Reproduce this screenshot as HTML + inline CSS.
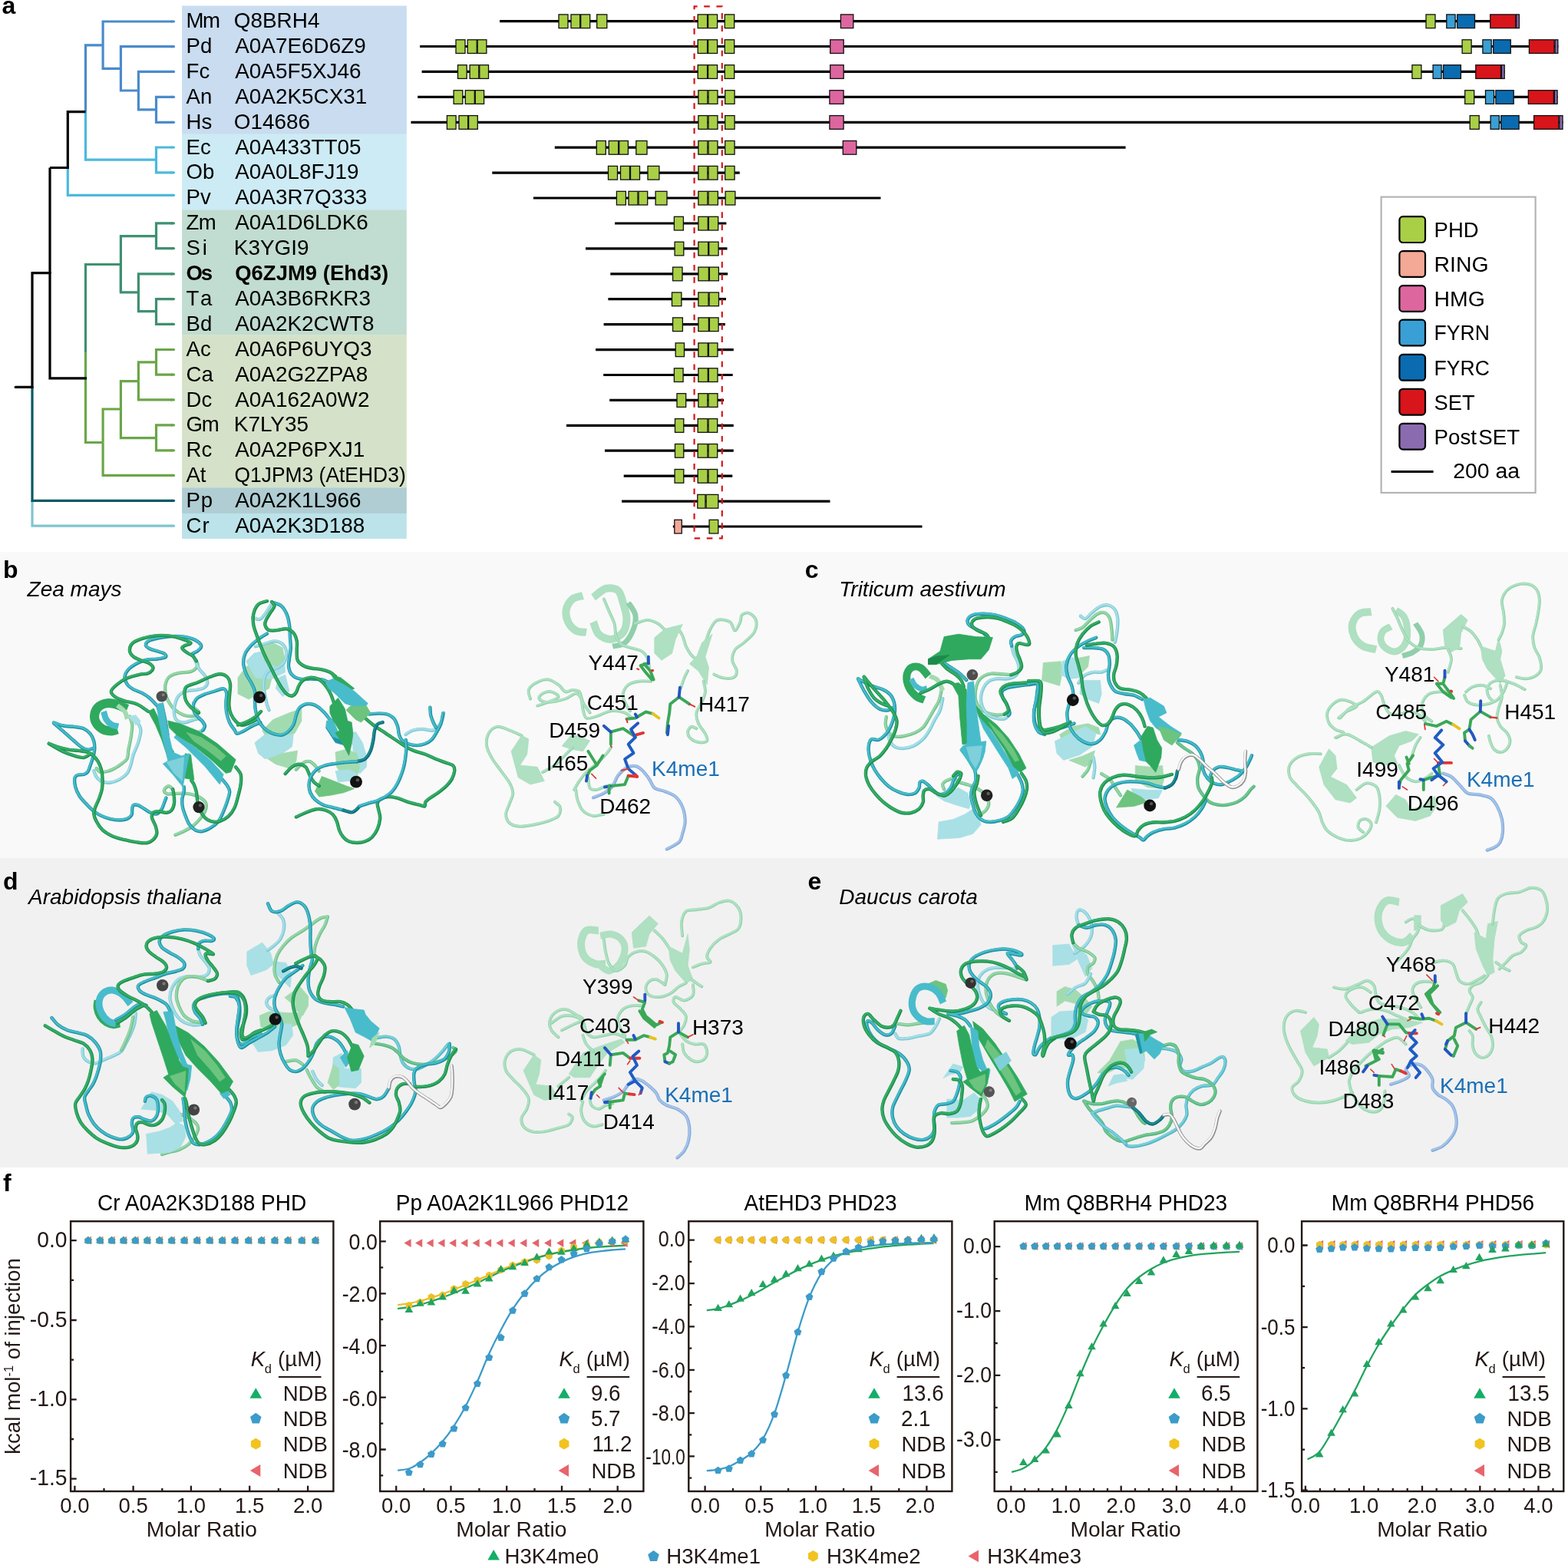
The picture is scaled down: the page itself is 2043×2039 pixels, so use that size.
<!DOCTYPE html>
<html lang="en"><head><meta charset="utf-8"><title>Figure</title>
<style>
html,body{margin:0;padding:0;background:#fff;}
body{width:2043px;height:2039px;overflow:hidden;}
.F{stroke-width:.8;stroke-linejoin:round}.H{fill:none;stroke-linejoin:round}.K{fill:none;stroke-linecap:round;stroke-linejoin:round}.Gb{fill:none;stroke:#1d8e4e;stroke-width:4.4;stroke-linecap:round}.Gt{fill:none;stroke:#33ad66;stroke-width:2.6;stroke-linecap:round;transform:translate(-.5px,-.6px)}.Cb{fill:none;stroke:#1f909f;stroke-width:4.4;stroke-linecap:round}.Ct{fill:none;stroke:#45bccb;stroke-width:2.6;stroke-linecap:round;transform:translate(-.5px,-.6px)}.mb{fill:none;stroke:#4fb47a;stroke-width:4.3;stroke-linecap:round}.mt{fill:none;stroke:#72c793;stroke-width:2.5;stroke-linecap:round;transform:translate(-.5px,-.6px)}.nb{fill:none;stroke:#4fb4c3;stroke-width:4.3;stroke-linecap:round}.nt{fill:none;stroke:#79cfda;stroke-width:2.5;stroke-linecap:round;transform:translate(-.5px,-.6px)}.gb{fill:none;stroke:#74c38e;stroke-width:4.3;stroke-linecap:round}.gt{fill:none;stroke:#97d7aa;stroke-width:2.3;stroke-linecap:round;transform:translate(-.5px,-.6px)}.cb{fill:none;stroke:#7fcad5;stroke-width:4.3;stroke-linecap:round}.ct{fill:none;stroke:#a6dfe7;stroke-width:2.3;stroke-linecap:round;transform:translate(-.5px,-.6px)}.Db{fill:none;stroke:#0d6a73;stroke-width:4.4;stroke-linecap:round}.Dt{fill:none;stroke:#1b8c96;stroke-width:2.4;stroke-linecap:round;transform:translate(-.5px,-.6px)}.Wb{fill:none;stroke:#8e8e8e;stroke-width:4.4;stroke-linecap:round}.Wt{fill:none;stroke:#f6f6f6;stroke-width:2.6;stroke-linecap:round;transform:translate(-.5px,-.6px)}.Pb{fill:none;stroke:#96d3ae;stroke-width:3.9;stroke-linecap:round}.Pt{fill:none;stroke:#b0e2c3;stroke-width:2.1;stroke-linecap:round;transform:translate(-.5px,-.6px)}.Lb{fill:none;stroke:#86addb;stroke-width:4.2;stroke-linecap:round}.Lt{fill:none;stroke:#a6c4ea;stroke-width:2.2;stroke-linecap:round;transform:translate(-.5px,-.6px)}
svg{display:block;font-family:"Liberation Sans","DejaVu Sans",sans-serif;font-size:27.6px;fill:#000;}
</style></head><body>
<svg width="2043" height="2039" viewBox="0 0 2043 2039">
<rect x="0" y="0" width="2043" height="2039" fill="#fff"/>
<rect x="0" y="719" width="2043" height="399" fill="#f9f9f9"/>
<rect x="0" y="1118" width="2043" height="403" fill="#f1f1f1"/>
<text x="2.4" y="17.9" font-weight="700" font-size="32">a</text>
<rect x="237.1" y="7.5" width="292.7" height="167.4" fill="#c9dcf0"/>
<rect x="237.1" y="174.6" width="292.7" height="99.2" fill="#cdebf5"/>
<rect x="237.1" y="273.5" width="292.7" height="163.1" fill="#c1dcd0"/>
<rect x="237.1" y="436.3" width="292.7" height="199.3" fill="#d5e2c9"/>
<rect x="237.1" y="635.3" width="292.7" height="33.9" fill="#afcdd2"/>
<rect x="237.1" y="668.9" width="292.7" height="33" fill="#bbe3e9"/>
<path d="M111.5 145.6 V58.8 H134.1" fill="none" stroke="#4a8bcb" stroke-width="3.2" stroke-linejoin="miter" stroke-linecap="butt"/>
<path d="M224.5 28 H134.1 V89.3 H157.4" fill="none" stroke="#4a8bcb" stroke-width="3.2" stroke-linejoin="miter" stroke-linecap="butt"/>
<path d="M224.5 60.7 H157.4 V118 H180.4" fill="none" stroke="#4a8bcb" stroke-width="3.2" stroke-linejoin="miter" stroke-linecap="butt"/>
<path d="M224.5 93.4 H180.4 V142.8 H203.5" fill="none" stroke="#4a8bcb" stroke-width="3.2" stroke-linejoin="miter" stroke-linecap="butt"/>
<path d="M224.5 126.4 H203.5 V159.3 H224.5" fill="none" stroke="#4a8bcb" stroke-width="3.2" stroke-linejoin="miter" stroke-linecap="butt"/>
<path d="M223.5 28 H226.5" fill="none" stroke="#4a8bcb" stroke-width="3.2" stroke-linecap="round"/>
<path d="M223.5 60.7 H226.5" fill="none" stroke="#4a8bcb" stroke-width="3.2" stroke-linecap="round"/>
<path d="M223.5 93.4 H226.5" fill="none" stroke="#4a8bcb" stroke-width="3.2" stroke-linecap="round"/>
<path d="M223.5 126.4 H226.5" fill="none" stroke="#4a8bcb" stroke-width="3.2" stroke-linecap="round"/>
<path d="M223.5 159.3 H226.5" fill="none" stroke="#4a8bcb" stroke-width="3.2" stroke-linecap="round"/>
<path d="M111.5 145.6 V208.2 H203.5" fill="none" stroke="#4cb9de" stroke-width="3.2" stroke-linejoin="miter" stroke-linecap="butt"/>
<path d="M224.5 192 H203.5 V224.8 H224.5" fill="none" stroke="#4cb9de" stroke-width="3.2" stroke-linejoin="miter" stroke-linecap="butt"/>
<path d="M88.3 218.5 V254.3 H224.5" fill="none" stroke="#4cb9de" stroke-width="3.2" stroke-linejoin="miter" stroke-linecap="butt"/>
<path d="M223.5 192 H226.5" fill="none" stroke="#4cb9de" stroke-width="3.2" stroke-linecap="round"/>
<path d="M223.5 224.8 H226.5" fill="none" stroke="#4cb9de" stroke-width="3.2" stroke-linecap="round"/>
<path d="M223.5 254.3 H226.5" fill="none" stroke="#4cb9de" stroke-width="3.2" stroke-linecap="round"/>
<path d="M111.5 459.8 V344.5 H157.4" fill="none" stroke="#3f9070" stroke-width="3.2" stroke-linejoin="miter" stroke-linecap="butt"/>
<path d="M157.4 380.8 V307.7 H203.5" fill="none" stroke="#3f9070" stroke-width="3.2" stroke-linejoin="miter" stroke-linecap="butt"/>
<path d="M224.5 290.9 H203.5 V323.6 H224.5" fill="none" stroke="#3f9070" stroke-width="3.2" stroke-linejoin="miter" stroke-linecap="butt"/>
<path d="M157.4 344.5 V380.8 H180.4" fill="none" stroke="#3f9070" stroke-width="3.2" stroke-linejoin="miter" stroke-linecap="butt"/>
<path d="M224.5 356.9 H180.4 V405.6 H203.5" fill="none" stroke="#3f9070" stroke-width="3.2" stroke-linejoin="miter" stroke-linecap="butt"/>
<path d="M224.5 389.6 H203.5 V422.4 H224.5" fill="none" stroke="#3f9070" stroke-width="3.2" stroke-linejoin="miter" stroke-linecap="butt"/>
<path d="M223.5 290.9 H226.5" fill="none" stroke="#3f9070" stroke-width="3.2" stroke-linecap="round"/>
<path d="M223.5 323.6 H226.5" fill="none" stroke="#3f9070" stroke-width="3.2" stroke-linecap="round"/>
<path d="M223.5 356.9 H226.5" fill="none" stroke="#3f9070" stroke-width="3.2" stroke-linecap="round"/>
<path d="M223.5 389.6 H226.5" fill="none" stroke="#3f9070" stroke-width="3.2" stroke-linecap="round"/>
<path d="M223.5 422.4 H226.5" fill="none" stroke="#3f9070" stroke-width="3.2" stroke-linecap="round"/>
<path d="M111.5 459.8 V576.5 H134.1" fill="none" stroke="#6ba649" stroke-width="3.2" stroke-linejoin="miter" stroke-linecap="butt"/>
<path d="M134.1 576.5 V619.4 H224.5" fill="none" stroke="#6ba649" stroke-width="3.2" stroke-linejoin="miter" stroke-linecap="butt"/>
<path d="M134.1 576.5 V533 H157.4" fill="none" stroke="#6ba649" stroke-width="3.2" stroke-linejoin="miter" stroke-linecap="butt"/>
<path d="M157.4 533 V496.6 H180.4" fill="none" stroke="#6ba649" stroke-width="3.2" stroke-linejoin="miter" stroke-linecap="butt"/>
<path d="M157.4 533 V570.7 H203.5" fill="none" stroke="#6ba649" stroke-width="3.2" stroke-linejoin="miter" stroke-linecap="butt"/>
<path d="M224.5 553.9 H203.5 V586.8 H224.5" fill="none" stroke="#6ba649" stroke-width="3.2" stroke-linejoin="miter" stroke-linecap="butt"/>
<path d="M180.4 496.6 V471.9 H203.5" fill="none" stroke="#6ba649" stroke-width="3.2" stroke-linejoin="miter" stroke-linecap="butt"/>
<path d="M180.4 496.6 V520.9 H224.5" fill="none" stroke="#6ba649" stroke-width="3.2" stroke-linejoin="miter" stroke-linecap="butt"/>
<path d="M224.5 455.5 H203.5 V488.2 H224.5" fill="none" stroke="#6ba649" stroke-width="3.2" stroke-linejoin="miter" stroke-linecap="butt"/>
<path d="M223.5 455.5 H226.5" fill="none" stroke="#6ba649" stroke-width="3.2" stroke-linecap="round"/>
<path d="M223.5 488.2 H226.5" fill="none" stroke="#6ba649" stroke-width="3.2" stroke-linecap="round"/>
<path d="M223.5 520.9 H226.5" fill="none" stroke="#6ba649" stroke-width="3.2" stroke-linecap="round"/>
<path d="M223.5 553.9 H226.5" fill="none" stroke="#6ba649" stroke-width="3.2" stroke-linecap="round"/>
<path d="M223.5 586.8 H226.5" fill="none" stroke="#6ba649" stroke-width="3.2" stroke-linecap="round"/>
<path d="M223.5 619.4 H226.5" fill="none" stroke="#6ba649" stroke-width="3.2" stroke-linecap="round"/>
<path d="M42 652.3 V685.2 H224.5" fill="none" stroke="#80c5cf" stroke-width="3.2" stroke-linejoin="miter" stroke-linecap="butt"/>
<path d="M42 504.4 V652.3 H224.5" fill="none" stroke="#0a5a62" stroke-width="3.2" stroke-linejoin="miter" stroke-linecap="butt"/>
<path d="M223.5 652.3 H226.5" fill="none" stroke="#0a5a62" stroke-width="3.2" stroke-linecap="round"/>
<path d="M223.5 685.2 H226.5" fill="none" stroke="#80c5cf" stroke-width="3.2" stroke-linecap="round"/>
<path d="M111.5 145.6 H88.3 V218.5 H65" fill="none" stroke="#000" stroke-width="3.2" stroke-linejoin="miter" stroke-linecap="butt"/>
<path d="M113 492.8 H65 V355.6 H42" fill="none" stroke="#000" stroke-width="3.2" stroke-linejoin="miter" stroke-linecap="butt"/>
<path d="M65 218.5 V357" fill="none" stroke="#000" stroke-width="3.2" stroke-linejoin="miter" stroke-linecap="butt"/>
<path d="M42 354.1 V505.9" fill="none" stroke="#000" stroke-width="3.2" stroke-linejoin="miter" stroke-linecap="butt"/>
<path d="M20.2 504.4 H42" fill="none" stroke="#000" stroke-width="3.2" stroke-linecap="round"/>
<text transform="translate(242.6 36) scale(1.0 1)" letter-spacing="-1.6">Mm</text>
<text transform="translate(304.8 36) scale(1.0 1)" font-size="27.9">Q8BRH4</text>
<text transform="translate(242.6 68.9) scale(1.0 1)">Pd</text>
<text transform="translate(306.2 68.9) scale(1.0 1)" font-size="27.9">A0A7E6D6Z9</text>
<text transform="translate(242.6 101.8) scale(1.0 1)">Fc</text>
<text transform="translate(306.2 101.8) scale(1.0 1)" font-size="27.9">A0A5F5XJ46</text>
<text transform="translate(242.6 134.7) scale(1.0 1)">An</text>
<text transform="translate(306.2 134.7) scale(1.0 1)" font-size="27.9">A0A2K5CX31</text>
<text transform="translate(242.6 167.6) scale(1.0 1)">Hs</text>
<text transform="translate(304.8 167.6) scale(1.0 1)" font-size="27.9">O14686</text>
<text transform="translate(242.6 200.5) scale(1.0 1)">Ec</text>
<text transform="translate(306.2 200.5) scale(1.0 1)" font-size="27.9">A0A433TT05</text>
<text transform="translate(242.6 233.4) scale(1.0 1)">Ob</text>
<text transform="translate(306.2 233.4) scale(1.0 1)" font-size="27.9">A0A0L8FJ19</text>
<text transform="translate(242.6 266.3) scale(1.0 1)">Pv</text>
<text transform="translate(306.2 266.3) scale(1.0 1)" font-size="27.9">A0A3R7Q333</text>
<text transform="translate(242.6 299.2) scale(1.0 1)" letter-spacing="-0.8">Zm</text>
<text transform="translate(306.2 299.2) scale(1.0 1)" font-size="27.9">A0A1D6LDK6</text>
<text transform="translate(242.6 332.1) scale(1.0 1)" letter-spacing="-2.5">S i</text>
<text transform="translate(304.8 332.1) scale(1.0 1)" font-size="27.9">K3YGI9</text>
<text transform="translate(242.6 365) scale(1.0 1)" font-weight="700" letter-spacing="-2.2">Os</text>
<text transform="translate(306.2 365) scale(0.985 1)" font-size="27.9" font-weight="700">Q6ZJM9 (Ehd3)</text>
<text transform="translate(242.6 397.9) scale(1.0 1)" letter-spacing="4.5">Ta</text>
<text transform="translate(306.2 397.9) scale(1.0 1)" font-size="27.9">A0A3B6RKR3</text>
<text transform="translate(242.6 430.8) scale(1.0 1)">Bd</text>
<text transform="translate(306.2 430.8) scale(1.0 1)" font-size="27.9">A0A2K2CWT8</text>
<text transform="translate(242.6 463.7) scale(1.0 1)">Ac</text>
<text transform="translate(306.2 463.7) scale(1.0 1)" font-size="27.9">A0A6P6UYQ3</text>
<text transform="translate(242.6 496.6) scale(1.0 1)">Ca</text>
<text transform="translate(306.2 496.6) scale(1.0 1)" font-size="27.9">A0A2G2ZPA8</text>
<text transform="translate(242.6 529.5) scale(1.0 1)">Dc</text>
<text transform="translate(306.2 529.5) scale(1.0 1)" font-size="27.9">A0A162A0W2</text>
<text transform="translate(242.6 562.4) scale(1.0 1)" letter-spacing="-1.2">Gm</text>
<text transform="translate(304.8 562.4) scale(1.0 1)" font-size="27.9">K7LY35</text>
<text transform="translate(242.6 595.3) scale(1.0 1)">Rc</text>
<text transform="translate(306.2 595.3) scale(1.0 1)" font-size="27.9">A0A2P6PXJ1</text>
<text transform="translate(242.6 628.2) scale(1.0 1)" letter-spacing="-3.2">A t</text>
<text transform="translate(305.4 628.2) scale(0.948 1)" font-size="27.9">Q1JPM3 (AtEHD3)</text>
<text transform="translate(242.6 661.1) scale(1.0 1)" letter-spacing="0.8">Pp</text>
<text transform="translate(306.2 661.1) scale(1.0 1)" font-size="27.9">A0A2K1L966</text>
<text transform="translate(242.6 694) scale(1.0 1)" letter-spacing="1.0">Cr</text>
<text transform="translate(306.2 694) scale(1.0 1)" font-size="27.9">A0A2K3D188</text>
<path d="M651.1 27.6H1980" stroke="#000" stroke-width="3.2"/>
<rect x="728" y="18.9" width="12" height="17.7" fill="#a9cf46" stroke="#111" stroke-width="1.3"/>
<rect x="744" y="18.9" width="11.7" height="17.7" fill="#a9cf46" stroke="#111" stroke-width="1.3"/>
<rect x="756.7" y="18.9" width="12" height="17.7" fill="#a9cf46" stroke="#111" stroke-width="1.3"/>
<rect x="777.7" y="18.9" width="13.1" height="17.7" fill="#a9cf46" stroke="#111" stroke-width="1.3"/>
<rect x="909.2" y="18.9" width="12.4" height="17.7" fill="#a9cf46" stroke="#111" stroke-width="1.3"/>
<rect x="922.6" y="18.9" width="12" height="17.7" fill="#a9cf46" stroke="#111" stroke-width="1.3"/>
<rect x="944.3" y="18.9" width="12.4" height="17.7" fill="#a9cf46" stroke="#111" stroke-width="1.3"/>
<rect x="1095.4" y="18.9" width="16.4" height="17.7" fill="#dd669f" stroke="#111" stroke-width="1.3"/>
<rect x="1858" y="18.9" width="12" height="17.7" fill="#a9cf46" stroke="#111" stroke-width="1.3"/>
<rect x="1884.8" y="18.9" width="11.3" height="17.7" fill="#3a9fd5" stroke="#111" stroke-width="1.3"/>
<rect x="1898.6" y="18.9" width="22.9" height="17.7" fill="#0b6bb0" stroke="#111" stroke-width="1.3"/>
<rect x="1941.7" y="18.9" width="33.1" height="17.7" fill="#d7151b" stroke="#111" stroke-width="1.3"/>
<rect x="1975.7" y="18.9" width="3.7" height="17.7" fill="#8b6bb0" stroke="#111" stroke-width="1.3"/>
<path d="M547.1 60.5H2030.3" stroke="#000" stroke-width="3.2"/>
<rect x="594" y="51.8" width="12" height="17.7" fill="#a9cf46" stroke="#111" stroke-width="1.3"/>
<rect x="609.2" y="51.8" width="12" height="17.7" fill="#a9cf46" stroke="#111" stroke-width="1.3"/>
<rect x="622.2" y="51.8" width="11.7" height="17.7" fill="#a9cf46" stroke="#111" stroke-width="1.3"/>
<rect x="909.2" y="51.8" width="12.4" height="17.7" fill="#a9cf46" stroke="#111" stroke-width="1.3"/>
<rect x="922.6" y="51.8" width="12" height="17.7" fill="#a9cf46" stroke="#111" stroke-width="1.3"/>
<rect x="944.3" y="51.8" width="12.4" height="17.7" fill="#a9cf46" stroke="#111" stroke-width="1.3"/>
<rect x="1081.7" y="51.8" width="17.5" height="17.7" fill="#dd669f" stroke="#111" stroke-width="1.3"/>
<rect x="1905.1" y="51.8" width="12" height="17.7" fill="#a9cf46" stroke="#111" stroke-width="1.3"/>
<rect x="1931.9" y="51.8" width="11.3" height="17.7" fill="#3a9fd5" stroke="#111" stroke-width="1.3"/>
<rect x="1945.7" y="51.8" width="22.6" height="17.7" fill="#0b6bb0" stroke="#111" stroke-width="1.3"/>
<rect x="1992.4" y="51.8" width="32.7" height="17.7" fill="#d7151b" stroke="#111" stroke-width="1.3"/>
<rect x="2026.1" y="51.8" width="3.7" height="17.7" fill="#8b6bb0" stroke="#111" stroke-width="1.3"/>
<path d="M549.6 93.4H1960.8" stroke="#000" stroke-width="3.2"/>
<rect x="596.5" y="84.7" width="11.7" height="17.7" fill="#a9cf46" stroke="#111" stroke-width="1.3"/>
<rect x="612.1" y="84.7" width="11.7" height="17.7" fill="#a9cf46" stroke="#111" stroke-width="1.3"/>
<rect x="624.8" y="84.7" width="11.7" height="17.7" fill="#a9cf46" stroke="#111" stroke-width="1.3"/>
<rect x="909.2" y="84.7" width="12.4" height="17.7" fill="#a9cf46" stroke="#111" stroke-width="1.3"/>
<rect x="922.6" y="84.7" width="12" height="17.7" fill="#a9cf46" stroke="#111" stroke-width="1.3"/>
<rect x="944.3" y="84.7" width="12.4" height="17.7" fill="#a9cf46" stroke="#111" stroke-width="1.3"/>
<rect x="1081.7" y="84.7" width="17.5" height="17.7" fill="#dd669f" stroke="#111" stroke-width="1.3"/>
<rect x="1839.9" y="84.7" width="12" height="17.7" fill="#a9cf46" stroke="#111" stroke-width="1.3"/>
<rect x="1867.1" y="84.7" width="11" height="17.7" fill="#3a9fd5" stroke="#111" stroke-width="1.3"/>
<rect x="1880.5" y="84.7" width="22.9" height="17.7" fill="#0b6bb0" stroke="#111" stroke-width="1.3"/>
<rect x="1922.8" y="84.7" width="32.7" height="17.7" fill="#d7151b" stroke="#111" stroke-width="1.3"/>
<rect x="1956.5" y="84.7" width="3.7" height="17.7" fill="#8b6bb0" stroke="#111" stroke-width="1.3"/>
<path d="M544.2 126.4H2029.6" stroke="#000" stroke-width="3.2"/>
<rect x="591.1" y="117.7" width="11.7" height="17.7" fill="#a9cf46" stroke="#111" stroke-width="1.3"/>
<rect x="606.3" y="117.7" width="12" height="17.7" fill="#a9cf46" stroke="#111" stroke-width="1.3"/>
<rect x="619.3" y="117.7" width="11.3" height="17.7" fill="#a9cf46" stroke="#111" stroke-width="1.3"/>
<rect x="909.9" y="117.7" width="12" height="17.7" fill="#a9cf46" stroke="#111" stroke-width="1.3"/>
<rect x="923" y="117.7" width="12" height="17.7" fill="#a9cf46" stroke="#111" stroke-width="1.3"/>
<rect x="944.7" y="117.7" width="12.4" height="17.7" fill="#a9cf46" stroke="#111" stroke-width="1.3"/>
<rect x="1080.9" y="117.7" width="18.2" height="17.7" fill="#dd669f" stroke="#111" stroke-width="1.3"/>
<rect x="1908.7" y="117.7" width="12" height="17.7" fill="#a9cf46" stroke="#111" stroke-width="1.3"/>
<rect x="1935.5" y="117.7" width="11" height="17.7" fill="#3a9fd5" stroke="#111" stroke-width="1.3"/>
<rect x="1948.9" y="117.7" width="23.3" height="17.7" fill="#0b6bb0" stroke="#111" stroke-width="1.3"/>
<rect x="1991.3" y="117.7" width="33.1" height="17.7" fill="#d7151b" stroke="#111" stroke-width="1.3"/>
<rect x="2025.4" y="117.7" width="3.7" height="17.7" fill="#8b6bb0" stroke="#111" stroke-width="1.3"/>
<path d="M535.5 159.3H2036.5" stroke="#000" stroke-width="3.2"/>
<rect x="582.4" y="150.6" width="11.7" height="17.7" fill="#a9cf46" stroke="#111" stroke-width="1.3"/>
<rect x="598" y="150.6" width="11.7" height="17.7" fill="#a9cf46" stroke="#111" stroke-width="1.3"/>
<rect x="610.6" y="150.6" width="11.7" height="17.7" fill="#a9cf46" stroke="#111" stroke-width="1.3"/>
<rect x="909.9" y="150.6" width="12" height="17.7" fill="#a9cf46" stroke="#111" stroke-width="1.3"/>
<rect x="923" y="150.6" width="12" height="17.7" fill="#a9cf46" stroke="#111" stroke-width="1.3"/>
<rect x="944.7" y="150.6" width="12.4" height="17.7" fill="#a9cf46" stroke="#111" stroke-width="1.3"/>
<rect x="1080.9" y="150.6" width="18.2" height="17.7" fill="#dd669f" stroke="#111" stroke-width="1.3"/>
<rect x="1915.2" y="150.6" width="12" height="17.7" fill="#a9cf46" stroke="#111" stroke-width="1.3"/>
<rect x="1942.1" y="150.6" width="11.3" height="17.7" fill="#3a9fd5" stroke="#111" stroke-width="1.3"/>
<rect x="1955.8" y="150.6" width="23.3" height="17.7" fill="#0b6bb0" stroke="#111" stroke-width="1.3"/>
<rect x="1998.6" y="150.6" width="32.3" height="17.7" fill="#d7151b" stroke="#111" stroke-width="1.3"/>
<rect x="2031.9" y="150.6" width="4.1" height="17.7" fill="#8b6bb0" stroke="#111" stroke-width="1.3"/>
<path d="M722.8 192.2H1466.6" stroke="#000" stroke-width="3.2"/>
<rect x="777.3" y="183.5" width="12" height="17.7" fill="#a9cf46" stroke="#111" stroke-width="1.3"/>
<rect x="793.3" y="183.5" width="12.4" height="17.7" fill="#a9cf46" stroke="#111" stroke-width="1.3"/>
<rect x="806.7" y="183.5" width="11.7" height="17.7" fill="#a9cf46" stroke="#111" stroke-width="1.3"/>
<rect x="828.8" y="183.5" width="14.2" height="17.7" fill="#a9cf46" stroke="#111" stroke-width="1.3"/>
<rect x="909.9" y="183.5" width="12" height="17.7" fill="#a9cf46" stroke="#111" stroke-width="1.3"/>
<rect x="923" y="183.5" width="12" height="17.7" fill="#a9cf46" stroke="#111" stroke-width="1.3"/>
<rect x="944.7" y="183.5" width="12.4" height="17.7" fill="#a9cf46" stroke="#111" stroke-width="1.3"/>
<rect x="1098.3" y="183.5" width="17.5" height="17.7" fill="#dd669f" stroke="#111" stroke-width="1.3"/>
<path d="M641.3 225.1H963.8" stroke="#000" stroke-width="3.2"/>
<rect x="792.5" y="216.4" width="12" height="17.7" fill="#a9cf46" stroke="#111" stroke-width="1.3"/>
<rect x="808.5" y="216.4" width="12" height="17.7" fill="#a9cf46" stroke="#111" stroke-width="1.3"/>
<rect x="821.5" y="216.4" width="12" height="17.7" fill="#a9cf46" stroke="#111" stroke-width="1.3"/>
<rect x="844" y="216.4" width="14.9" height="17.7" fill="#a9cf46" stroke="#111" stroke-width="1.3"/>
<rect x="909.9" y="216.4" width="12" height="17.7" fill="#a9cf46" stroke="#111" stroke-width="1.3"/>
<rect x="923" y="216.4" width="12" height="17.7" fill="#a9cf46" stroke="#111" stroke-width="1.3"/>
<rect x="944.7" y="216.4" width="12.4" height="17.7" fill="#a9cf46" stroke="#111" stroke-width="1.3"/>
<path d="M694.9 258H1147.5" stroke="#000" stroke-width="3.2"/>
<rect x="803.4" y="249.3" width="12" height="17.7" fill="#a9cf46" stroke="#111" stroke-width="1.3"/>
<rect x="819" y="249.3" width="12" height="17.7" fill="#a9cf46" stroke="#111" stroke-width="1.3"/>
<rect x="832" y="249.3" width="11.7" height="17.7" fill="#a9cf46" stroke="#111" stroke-width="1.3"/>
<rect x="854.1" y="249.3" width="14.9" height="17.7" fill="#a9cf46" stroke="#111" stroke-width="1.3"/>
<rect x="909.9" y="249.3" width="12" height="17.7" fill="#a9cf46" stroke="#111" stroke-width="1.3"/>
<rect x="923" y="249.3" width="12.4" height="17.7" fill="#a9cf46" stroke="#111" stroke-width="1.3"/>
<rect x="945.1" y="249.3" width="12.8" height="17.7" fill="#a9cf46" stroke="#111" stroke-width="1.3"/>
<path d="M801.1 291H946.4" stroke="#000" stroke-width="3.2"/>
<rect x="878.4" y="282.3" width="12" height="17.7" fill="#a9cf46" stroke="#111" stroke-width="1.3"/>
<rect x="909.9" y="282.3" width="12.4" height="17.7" fill="#a9cf46" stroke="#111" stroke-width="1.3"/>
<rect x="923.3" y="282.3" width="12.4" height="17.7" fill="#a9cf46" stroke="#111" stroke-width="1.3"/>
<path d="M763 323.9H947.5" stroke="#000" stroke-width="3.2"/>
<rect x="879.1" y="315.2" width="11.7" height="17.7" fill="#a9cf46" stroke="#111" stroke-width="1.3"/>
<rect x="909.9" y="315.2" width="12.8" height="17.7" fill="#a9cf46" stroke="#111" stroke-width="1.3"/>
<rect x="923.7" y="315.2" width="12.4" height="17.7" fill="#a9cf46" stroke="#111" stroke-width="1.3"/>
<path d="M795.3 356.8H948.2" stroke="#000" stroke-width="3.2"/>
<rect x="876.6" y="348.1" width="12.4" height="17.7" fill="#a9cf46" stroke="#111" stroke-width="1.3"/>
<rect x="909.9" y="348.1" width="13.5" height="17.7" fill="#a9cf46" stroke="#111" stroke-width="1.3"/>
<rect x="924.4" y="348.1" width="12" height="17.7" fill="#a9cf46" stroke="#111" stroke-width="1.3"/>
<path d="M792.4 389.7H946" stroke="#000" stroke-width="3.2"/>
<rect x="875.5" y="381" width="12.4" height="17.7" fill="#a9cf46" stroke="#111" stroke-width="1.3"/>
<rect x="909.9" y="381" width="13.1" height="17.7" fill="#a9cf46" stroke="#111" stroke-width="1.3"/>
<rect x="924.1" y="381" width="12.4" height="17.7" fill="#a9cf46" stroke="#111" stroke-width="1.3"/>
<path d="M786.6 422.6H944.9" stroke="#000" stroke-width="3.2"/>
<rect x="876.6" y="413.9" width="12.8" height="17.7" fill="#a9cf46" stroke="#111" stroke-width="1.3"/>
<rect x="909.9" y="413.9" width="13.5" height="17.7" fill="#a9cf46" stroke="#111" stroke-width="1.3"/>
<rect x="924.4" y="413.9" width="11.7" height="17.7" fill="#a9cf46" stroke="#111" stroke-width="1.3"/>
<path d="M776.1 455.6H955.8" stroke="#000" stroke-width="3.2"/>
<rect x="880.2" y="446.9" width="11.3" height="17.7" fill="#a9cf46" stroke="#111" stroke-width="1.3"/>
<rect x="909.9" y="446.9" width="12.4" height="17.7" fill="#a9cf46" stroke="#111" stroke-width="1.3"/>
<rect x="923.3" y="446.9" width="11.7" height="17.7" fill="#a9cf46" stroke="#111" stroke-width="1.3"/>
<path d="M786.2 488.5H954.7" stroke="#000" stroke-width="3.2"/>
<rect x="878.4" y="479.8" width="11.7" height="17.7" fill="#a9cf46" stroke="#111" stroke-width="1.3"/>
<rect x="909.9" y="479.8" width="12.4" height="17.7" fill="#a9cf46" stroke="#111" stroke-width="1.3"/>
<rect x="923.3" y="479.8" width="11.7" height="17.7" fill="#a9cf46" stroke="#111" stroke-width="1.3"/>
<path d="M794.2 521.4H943.1" stroke="#000" stroke-width="3.2"/>
<rect x="882" y="512.7" width="11.7" height="17.7" fill="#a9cf46" stroke="#111" stroke-width="1.3"/>
<rect x="909.9" y="512.7" width="12" height="17.7" fill="#a9cf46" stroke="#111" stroke-width="1.3"/>
<rect x="923" y="512.7" width="12" height="17.7" fill="#a9cf46" stroke="#111" stroke-width="1.3"/>
<path d="M738 554.3H955.8" stroke="#000" stroke-width="3.2"/>
<rect x="879.5" y="545.6" width="11.3" height="17.7" fill="#a9cf46" stroke="#111" stroke-width="1.3"/>
<rect x="909.2" y="545.6" width="12.8" height="17.7" fill="#a9cf46" stroke="#111" stroke-width="1.3"/>
<rect x="923" y="545.6" width="11.7" height="17.7" fill="#a9cf46" stroke="#111" stroke-width="1.3"/>
<path d="M788 587.2H955.8" stroke="#000" stroke-width="3.2"/>
<rect x="879.5" y="578.5" width="11.3" height="17.7" fill="#a9cf46" stroke="#111" stroke-width="1.3"/>
<rect x="909.2" y="578.5" width="12.8" height="17.7" fill="#a9cf46" stroke="#111" stroke-width="1.3"/>
<rect x="923" y="578.5" width="11.7" height="17.7" fill="#a9cf46" stroke="#111" stroke-width="1.3"/>
<path d="M812.7 620.2H954.3" stroke="#000" stroke-width="3.2"/>
<rect x="879.1" y="611.5" width="11.7" height="17.7" fill="#a9cf46" stroke="#111" stroke-width="1.3"/>
<rect x="909.2" y="611.5" width="12.8" height="17.7" fill="#a9cf46" stroke="#111" stroke-width="1.3"/>
<rect x="923" y="611.5" width="11.7" height="17.7" fill="#a9cf46" stroke="#111" stroke-width="1.3"/>
<path d="M810.1 653.1H1081.5" stroke="#000" stroke-width="3.2"/>
<rect x="908.8" y="644.4" width="10.2" height="17.7" fill="#a9cf46" stroke="#111" stroke-width="1.3"/>
<rect x="920.1" y="644.4" width="15.7" height="17.7" fill="#a9cf46" stroke="#111" stroke-width="1.3"/>
<path d="M876.8 686H1201.5" stroke="#000" stroke-width="3.2"/>
<rect x="924.1" y="677.3" width="11.7" height="17.7" fill="#a9cf46" stroke="#111" stroke-width="1.3"/>
<rect x="878.8" y="677.3" width="9.5" height="17.7" fill="#f4a896" stroke="#111" stroke-width="1.3"/>
<rect x="904.6" y="8.3" width="36.2" height="693" fill="none" stroke="#d7151b" stroke-width="2.2" stroke-dasharray="7.6 8.6" stroke-dashoffset="3.6"/>
<rect x="1799.6" y="256.6" width="201" height="385.4" fill="#fff" stroke="#b4b4b4" stroke-width="2.2"/>
<rect x="1823.4" y="282.2" width="33.6" height="33.8" rx="4.5" fill="#a9cf46" stroke="#000" stroke-width="2.2"/>
<text transform="translate(1868.6 308.9) scale(0.97 1)" font-size="28.4">PHD</text>
<rect x="1823.4" y="327.1" width="33.6" height="33.8" rx="4.5" fill="#f4a896" stroke="#000" stroke-width="2.2"/>
<text transform="translate(1868.6 353.8) scale(1.0 1)" font-size="28.4">RING</text>
<rect x="1823.4" y="372.1" width="33.6" height="33.8" rx="4.5" fill="#dd669f" stroke="#000" stroke-width="2.2"/>
<text transform="translate(1868.6 398.8) scale(1.0 1)" font-size="28.4">HMG</text>
<rect x="1823.4" y="416.6" width="33.6" height="33.8" rx="4.5" fill="#3a9fd5" stroke="#000" stroke-width="2.2"/>
<text transform="translate(1868.6 443.3) scale(0.935 1)" font-size="28.4">FYRN</text>
<rect x="1823.4" y="461.9" width="33.6" height="33.8" rx="4.5" fill="#0b6bb0" stroke="#000" stroke-width="2.2"/>
<text transform="translate(1868.6 488.6) scale(0.935 1)" font-size="28.4">FYRC</text>
<rect x="1823.4" y="506.8" width="33.6" height="33.8" rx="4.5" fill="#d7151b" stroke="#000" stroke-width="2.2"/>
<text transform="translate(1868.6 533.5) scale(0.96 1)" font-size="28.4">SET</text>
<rect x="1823.4" y="551.8" width="33.6" height="33.8" rx="4.5" fill="#8b6bb0" stroke="#000" stroke-width="2.2"/>
<text transform="translate(1868.6 578.5) scale(0.975 1)" font-size="28.4">Post SET</text>
<path d="M1812.6 614.5H1867.6" stroke="#000" stroke-width="3.2"/>
<text transform="translate(1893.2 622.7) scale(1.0 1)" font-size="28.4">200 aa</text>
<text x="3.9" y="1552.2" font-weight="700" font-size="32">f</text>
<text transform="translate(26.3 1767) rotate(-90)" text-anchor="middle" font-size="27.6" fill="#231815">kcal mol<tspan font-size="16.5" dy="-9.5">-1</tspan><tspan dy="9.5"> of injection</tspan></text>
<rect x="92.1" y="1591.2" width="342.3" height="351.8" fill="#fff" stroke="#231815" stroke-width="2.4"/>
<text transform="translate(87.5 1624.8) scale(0.975 1)" font-size="29" fill="#231815" text-anchor="end">0.0</text>
<text transform="translate(87.5 1728.7) scale(0.975 1)" font-size="29" fill="#231815" text-anchor="end">-0.5</text>
<text transform="translate(87.5 1832.1) scale(0.975 1)" font-size="29" fill="#231815" text-anchor="end">-1.0</text>
<text transform="translate(87.5 1935.4) scale(0.975 1)" font-size="29" fill="#231815" text-anchor="end">-1.5</text>
<text transform="translate(97.4 1970.6) scale(0.97 1)" font-size="28.4" fill="#231815" text-anchor="middle">0.0</text>
<text transform="translate(173.6 1970.6) scale(0.97 1)" font-size="28.4" fill="#231815" text-anchor="middle">0.5</text>
<text transform="translate(248.9 1970.6) scale(0.97 1)" font-size="28.4" fill="#231815" text-anchor="middle">1.0</text>
<text transform="translate(325.2 1970.6) scale(0.97 1)" font-size="28.4" fill="#231815" text-anchor="middle">1.5</text>
<text transform="translate(401.1 1970.6) scale(0.97 1)" font-size="28.4" fill="#231815" text-anchor="middle">2.0</text>
<path d="M92.1 1616.1h7.6M92.1 1720h7.6M92.1 1823.4h7.6M92.1 1926.7h7.6M92.1 1667.9h4M92.1 1771.7h4M92.1 1875h4M97.4 1943v-7.2M173.6 1943v-7.2M248.9 1943v-7.2M325.2 1943v-7.2M401.1 1943v-7.2M135.5 1943v-4M211.3 1943v-4M287 1943v-4M362.9 1943v-4" stroke="#231815" stroke-width="2.3" fill="none"/>
<text transform="translate(263.1 1577.3) scale(0.965 1)" font-size="29" fill="#000" text-anchor="middle">Cr A0A2K3D188 PHD</text>
<text x="262.8" y="2001.5" font-size="28.2" fill="#231815" text-anchor="middle">Molar Ratio</text>
<path d="M109.9 1616.1L119 1610.7L119 1621.5ZM125.3 1616.1L134.4 1610.7L134.4 1621.5ZM140.6 1616.1L149.7 1610.7L149.7 1621.5ZM156 1616.1L165.1 1610.7L165.1 1621.5ZM171.3 1616.1L180.4 1610.7L180.4 1621.5ZM186.9 1616.1L196 1610.7L196 1621.5ZM202.8 1616.1L211.9 1610.7L211.9 1621.5ZM218.7 1616.1L227.8 1610.7L227.8 1621.5ZM235.1 1616.1L244.2 1610.7L244.2 1621.5ZM251.8 1616.1L260.9 1610.7L260.9 1621.5ZM268.2 1616.1L277.3 1610.7L277.3 1621.5ZM284.6 1616.1L293.7 1610.7L293.7 1621.5ZM301.1 1616.1L310.2 1610.7L310.2 1621.5ZM318.8 1616.1L327.9 1610.7L327.9 1621.5ZM335.8 1616.1L344.9 1610.7L344.9 1621.5ZM353 1616.1L362.1 1610.7L362.1 1621.5ZM370.2 1616.1L379.3 1610.7L379.3 1621.5ZM388.3 1616.1L397.4 1610.7L397.4 1621.5ZM406 1616.1L415.1 1610.7L415.1 1621.5Z" fill="#e2656b"/>
<path d="M114.9 1611.1L119.3 1613.6L119.3 1618.6L114.9 1621.1L110.5 1618.6L110.5 1613.6ZM130.3 1611.1L134.7 1613.6L134.7 1618.6L130.3 1621.1L125.9 1618.6L125.9 1613.6ZM145.6 1611.1L150 1613.6L150 1618.6L145.6 1621.1L141.2 1618.6L141.2 1613.6ZM161 1611.1L165.4 1613.6L165.4 1618.6L161 1621.1L156.6 1618.6L156.6 1613.6ZM176.3 1611.1L180.7 1613.6L180.7 1618.6L176.3 1621.1L171.9 1618.6L171.9 1613.6ZM191.9 1611.1L196.3 1613.6L196.3 1618.6L191.9 1621.1L187.5 1618.6L187.5 1613.6ZM207.8 1611.1L212.2 1613.6L212.2 1618.6L207.8 1621.1L203.4 1618.6L203.4 1613.6ZM223.7 1611.1L228.1 1613.6L228.1 1618.6L223.7 1621.1L219.3 1618.6L219.3 1613.6ZM240.1 1611.1L244.5 1613.6L244.5 1618.6L240.1 1621.1L235.7 1618.6L235.7 1613.6ZM256.8 1611.1L261.2 1613.6L261.2 1618.6L256.8 1621.1L252.4 1618.6L252.4 1613.6ZM273.2 1611.1L277.6 1613.6L277.6 1618.6L273.2 1621.1L268.8 1618.6L268.8 1613.6ZM289.6 1611.1L294 1613.6L294 1618.6L289.6 1621.1L285.2 1618.6L285.2 1613.6ZM306.1 1611.1L310.5 1613.6L310.5 1618.6L306.1 1621.1L301.7 1618.6L301.7 1613.6ZM323.8 1611.1L328.2 1613.6L328.2 1618.6L323.8 1621.1L319.4 1618.6L319.4 1613.6ZM340.8 1611.1L345.2 1613.6L345.2 1618.6L340.8 1621.1L336.4 1618.6L336.4 1613.6ZM358 1611.1L362.4 1613.6L362.4 1618.6L358 1621.1L353.6 1618.6L353.6 1613.6ZM375.2 1611.1L379.6 1613.6L379.6 1618.6L375.2 1621.1L370.8 1618.6L370.8 1613.6ZM393.3 1611.1L397.7 1613.6L397.7 1618.6L393.3 1621.1L388.9 1618.6L388.9 1613.6ZM411 1611.1L415.4 1613.6L415.4 1618.6L411 1621.1L406.6 1618.6L406.6 1613.6Z" fill="#ebc028"/>
<path d="M114.9 1610.4L120.2 1619.6L109.6 1619.6ZM130.3 1610.4L135.6 1619.6L125 1619.6ZM145.6 1610.4L150.9 1619.6L140.3 1619.6ZM161 1610.4L166.3 1619.6L155.7 1619.6ZM176.3 1610.4L181.6 1619.6L171 1619.6ZM191.9 1610.4L197.2 1619.6L186.6 1619.6ZM207.8 1610.4L213.1 1619.6L202.5 1619.6ZM223.7 1610.4L229 1619.6L218.4 1619.6ZM240.1 1610.4L245.4 1619.6L234.8 1619.6ZM256.8 1610.4L262.1 1619.6L251.5 1619.6ZM273.2 1610.4L278.5 1619.6L267.9 1619.6ZM289.6 1610.4L294.9 1619.6L284.3 1619.6ZM306.1 1610.4L311.4 1619.6L300.8 1619.6ZM323.8 1610.4L329.1 1619.6L318.5 1619.6ZM340.8 1610.4L346.1 1619.6L335.5 1619.6ZM358 1610.4L363.3 1619.6L352.7 1619.6ZM375.2 1610.4L380.5 1619.6L369.9 1619.6ZM393.3 1610.4L398.6 1619.6L388 1619.6ZM411 1610.4L416.3 1619.6L405.7 1619.6Z" fill="#22a45f"/>
<path d="M114.9 1611.1L119.9 1614.7L118 1620.5L111.8 1620.5L109.9 1614.7ZM130.3 1611.1L135.3 1614.7L133.4 1620.5L127.2 1620.5L125.3 1614.7ZM145.6 1611.1L150.6 1614.7L148.7 1620.5L142.5 1620.5L140.6 1614.7ZM161 1611.1L166 1614.7L164.1 1620.5L157.9 1620.5L156 1614.7ZM176.3 1611.1L181.3 1614.7L179.4 1620.5L173.2 1620.5L171.3 1614.7ZM191.9 1611.1L196.9 1614.7L195 1620.5L188.8 1620.5L186.9 1614.7ZM207.8 1611.1L212.8 1614.7L210.9 1620.5L204.7 1620.5L202.8 1614.7ZM223.7 1611.1L228.7 1614.7L226.8 1620.5L220.6 1620.5L218.7 1614.7ZM240.1 1611.1L245.1 1614.7L243.2 1620.5L237 1620.5L235.1 1614.7ZM256.8 1611.1L261.8 1614.7L259.9 1620.5L253.7 1620.5L251.8 1614.7ZM273.2 1611.1L278.2 1614.7L276.3 1620.5L270.1 1620.5L268.2 1614.7ZM289.6 1611.1L294.6 1614.7L292.7 1620.5L286.5 1620.5L284.6 1614.7ZM306.1 1611.1L311.1 1614.7L309.2 1620.5L303 1620.5L301.1 1614.7ZM323.8 1611.1L328.8 1614.7L326.9 1620.5L320.7 1620.5L318.8 1614.7ZM340.8 1611.1L345.8 1614.7L343.9 1620.5L337.7 1620.5L335.8 1614.7ZM358 1611.1L363 1614.7L361.1 1620.5L354.9 1620.5L353 1614.7ZM375.2 1611.1L380.2 1614.7L378.3 1620.5L372.1 1620.5L370.2 1614.7ZM393.3 1611.1L398.3 1614.7L396.4 1620.5L390.2 1620.5L388.3 1614.7ZM411 1611.1L416 1614.7L414.1 1620.5L407.9 1620.5L406 1614.7Z" fill="#3c9bc9"/>
<text x="326.8" y="1779.9" font-size="27.6" fill="#231815"><tspan font-style="italic">K</tspan><tspan font-size="16.5" dy="8.6" dx="-0.5">d</tspan><tspan dy="-8.6" dx="0.5"> (µM)</tspan></text>
<path d="M362.9 1793.9h55.6" stroke="#231815" stroke-width="2"/>
<path d="M333.3 1808.2L341.1 1821.8L325.5 1821.8Z" fill="#13ae67"/>
<text x="368.7" y="1824.7" font-size="27.6" fill="#231815">NDB</text>
<path d="M333.3 1840.7L340.6 1846L337.8 1854.6L328.8 1854.6L326 1846Z" fill="#3c9bc9"/>
<text x="368.7" y="1858.1" font-size="27.6" fill="#231815">NDB</text>
<path d="M333.3 1873.7L339.7 1877.4L339.7 1884.8L333.3 1888.5L326.9 1884.8L326.9 1877.4Z" fill="#f2c31f"/>
<text x="368.7" y="1891.3" font-size="27.6" fill="#231815">NDB</text>
<path d="M325.9 1916L339.3 1908.1L339.3 1923.9Z" fill="#e8646b"/>
<text x="368.7" y="1925.9" font-size="27.6" fill="#231815">NDB</text>
<rect x="495.2" y="1591.2" width="343.2" height="351.8" fill="#fff" stroke="#231815" stroke-width="2.4"/>
<text transform="translate(491.9 1628.2) scale(0.925 1)" font-size="29" fill="#231815" text-anchor="end">0.0</text>
<text transform="translate(491.9 1696.1) scale(0.925 1)" font-size="29" fill="#231815" text-anchor="end">-2.0</text>
<text transform="translate(491.9 1763.9) scale(0.925 1)" font-size="29" fill="#231815" text-anchor="end">-4.0</text>
<text transform="translate(491.9 1831.5) scale(0.925 1)" font-size="29" fill="#231815" text-anchor="end">-6.0</text>
<text transform="translate(491.9 1899.3) scale(0.925 1)" font-size="29" fill="#231815" text-anchor="end">-8.0</text>
<text transform="translate(516.2 1970.6) scale(0.97 1)" font-size="28.4" fill="#231815" text-anchor="middle">0.0</text>
<text transform="translate(587.5 1970.6) scale(0.97 1)" font-size="28.4" fill="#231815" text-anchor="middle">0.5</text>
<text transform="translate(660.2 1970.6) scale(0.97 1)" font-size="28.4" fill="#231815" text-anchor="middle">1.0</text>
<text transform="translate(732 1970.6) scale(0.97 1)" font-size="28.4" fill="#231815" text-anchor="middle">1.5</text>
<text transform="translate(804.7 1970.6) scale(0.97 1)" font-size="28.4" fill="#231815" text-anchor="middle">2.0</text>
<path d="M495.2 1617.4h7.6M495.2 1685.3h7.6M495.2 1753.1h7.6M495.2 1820.7h7.6M495.2 1888.5h7.6M495.2 1651.3h4M495.2 1719.2h4M495.2 1786.9h4M495.2 1854.6h4M495.2 1922.4h4M516.2 1943v-7.2M587.5 1943v-7.2M660.2 1943v-7.2M732 1943v-7.2M804.7 1943v-7.2M552.3 1943v-4M624.4 1943v-4M696.5 1943v-4M768.6 1943v-4" stroke="#231815" stroke-width="2.3" fill="none"/>
<text transform="translate(667.5 1577.3) scale(0.965 1)" font-size="29" fill="#000" text-anchor="middle">Pp A0A2K1L966 PHD12</text>
<text x="666.3" y="2001.5" font-size="28.2" fill="#231815" text-anchor="middle">Molar Ratio</text>
<path d="M518.1 1700.1C520.5 1699.8 528 1699 532.9 1698.2C537.8 1697.3 542.6 1696.2 547.4 1695C552.2 1693.7 557 1692.2 561.9 1690.7C566.8 1689.1 571.8 1687.6 576.7 1685.8C581.7 1684.1 586.6 1682.1 591.5 1680.2C596.5 1678.2 601.6 1676 606.6 1674C611.7 1671.9 616.9 1669.9 622 1667.8C627.1 1665.6 632.2 1663.2 637.3 1661C642.4 1658.9 647.5 1656.7 652.7 1654.6C657.8 1652.5 662.8 1650.6 668 1648.7C673.2 1646.8 678.4 1645 683.6 1643.3C688.9 1641.6 694.2 1640 699.5 1638.4C704.8 1636.9 710 1635.4 715.4 1634.1C720.7 1632.8 726.1 1631.7 731.5 1630.6C736.9 1629.6 742.2 1628.7 747.7 1627.9C753.1 1627.1 758.8 1626.4 764.4 1625.8C769.9 1625.2 775.2 1624.8 780.8 1624.4C786.3 1624 792 1623.7 797.7 1623.4C803.4 1623.1 812.1 1622.7 815 1622.6" fill="none" stroke="#ebc028" stroke-width="2.3"/>
<path d="M518.1 1704.9C520.5 1704.6 528 1703.9 532.9 1703C537.8 1702.2 542.6 1701.1 547.4 1699.8C552.2 1698.6 557 1697.1 561.9 1695.5C566.8 1693.9 571.8 1692.2 576.7 1690.4C581.7 1688.6 586.6 1686.8 591.5 1684.7C596.5 1682.7 601.6 1680.5 606.6 1678.3C611.7 1676.1 616.9 1673.9 622 1671.5C627.1 1669.2 632.2 1666.5 637.3 1664C642.4 1661.5 647.5 1659 652.7 1656.7C657.8 1654.5 662.8 1652.3 668 1650.3C673.2 1648.2 678.4 1646.2 683.6 1644.4C688.9 1642.5 694.2 1640.6 699.5 1639C704.8 1637.4 710 1636 715.4 1634.7C720.7 1633.4 726.1 1632.2 731.5 1631.2C736.9 1630.1 742.2 1629.3 747.7 1628.5C753.1 1627.7 758.8 1627 764.4 1626.3C769.9 1625.7 775.2 1625.2 780.8 1624.7C786.3 1624.3 792 1624 797.7 1623.6C803.4 1623.3 812.1 1622.7 815 1622.6" fill="none" stroke="#22a45f" stroke-width="2.3"/>
<path d="M518.1 1915.7C520.5 1915.3 528 1915.2 532.9 1913.5C537.8 1911.8 542.6 1908.8 547.4 1905.5C552.2 1902.1 557 1898.2 561.9 1893.6C566.8 1889 571.8 1884 576.7 1878C581.7 1872 586.6 1865.4 591.5 1857.8C596.5 1850.2 601.6 1841.9 606.6 1832.2C611.7 1822.6 616.9 1811.4 622 1799.9C627.1 1788.5 632.2 1774.8 637.3 1763.6C642.4 1752.4 647.5 1742.3 652.7 1732.7C657.8 1723 662.8 1713.8 668 1705.7C673.2 1697.7 678.4 1690.7 683.6 1684.2C688.9 1677.7 694.2 1671.8 699.5 1666.7C704.8 1661.6 710 1657.5 715.4 1653.8C720.7 1650.1 726.1 1647.1 731.5 1644.4C736.9 1641.7 742.2 1639.5 747.7 1637.6C753.1 1635.7 758.8 1634.3 764.4 1633.1C769.9 1631.8 775.2 1631.1 780.8 1630.4C786.3 1629.6 792 1629 797.7 1628.5C803.4 1628 812.1 1627.6 815 1627.4" fill="none" stroke="#3c9bc9" stroke-width="2.3"/>
<path d="M526.5 1619.6L535.6 1614.2L535.6 1625ZM541 1619.6L550.2 1614.2L550.2 1625ZM555.6 1619.6L564.7 1614.2L564.7 1625ZM570.4 1619.6L579.5 1614.2L579.5 1625ZM585.2 1619.6L594.3 1614.2L594.3 1625ZM600.3 1619.6L609.4 1614.2L609.4 1625ZM615.6 1619.6L624.7 1614.2L624.7 1625ZM631 1619.6L640.1 1614.2L640.1 1625ZM646.3 1619.6L655.4 1614.2L655.4 1625ZM661.6 1619.6L670.7 1614.2L670.7 1625ZM677.2 1619.6L686.4 1614.2L686.4 1625ZM693.1 1619.6L702.2 1614.2L702.2 1625ZM709 1619.6L718.1 1614.2L718.1 1625ZM725.2 1619.6L734.3 1614.2L734.3 1625ZM741.3 1619.6L750.4 1614.2L750.4 1625ZM758 1619.6L767.1 1614.2L767.1 1625ZM774.4 1619.6L783.5 1614.2L783.5 1625ZM791.4 1619.6L800.5 1614.2L800.5 1625ZM808.6 1619.6L817.7 1614.2L817.7 1625Z" fill="#e2656b"/>
<path d="M532.9 1695.9L537.2 1698.4L537.2 1703.4L532.9 1705.9L528.5 1703.4L528.5 1698.4ZM547.4 1691.8L551.8 1694.3L551.8 1699.4L547.4 1701.9L543 1699.4L543 1694.3ZM561.9 1685.1L566.3 1687.6L566.3 1692.6L561.9 1695.2L557.6 1692.6L557.6 1687.6ZM576.7 1682.4L581.1 1684.9L581.1 1689.9L576.7 1692.5L572.4 1689.9L572.4 1684.9ZM591.5 1674.3L595.9 1676.8L595.9 1681.9L591.5 1684.4L587.2 1681.9L587.2 1676.8ZM606.6 1668.1L611 1670.6L611 1675.7L606.6 1678.2L602.3 1675.7L602.3 1670.6ZM622 1663L626.3 1665.5L626.3 1670.6L622 1673.1L617.6 1670.6L617.6 1665.5ZM637.3 1656.8L641.7 1659.3L641.7 1664.4L637.3 1666.9L633 1664.4L633 1659.3ZM652.7 1649.6L657 1652.1L657 1657.1L652.7 1659.6L648.3 1657.1L648.3 1652.1ZM668 1643.6L672.4 1646.2L672.4 1651.2L668 1653.7L663.6 1651.2L663.6 1646.2ZM683.6 1639.3L688 1641.8L688 1646.9L683.6 1649.4L679.2 1646.9L679.2 1641.8ZM699.5 1636.6L703.8 1639.2L703.8 1644.2L699.5 1646.7L695.1 1644.2L695.1 1639.2ZM715.4 1631.5L719.7 1634L719.7 1639.1L715.4 1641.6L711 1639.1L711 1634ZM731.5 1624.5L735.9 1627L735.9 1632.1L731.5 1634.6L727.2 1632.1L727.2 1627ZM747.7 1619.9L752 1622.5L752 1627.5L747.7 1630L743.3 1627.5L743.3 1622.5ZM764.4 1616.7L768.7 1619.2L768.7 1624.3L764.4 1626.8L760 1624.3L760 1619.2ZM780.8 1613.8L785.1 1616.3L785.1 1621.3L780.8 1623.8L776.4 1621.3L776.4 1616.3ZM797.7 1611.9L802.1 1614.4L802.1 1619.4L797.7 1621.9L793.4 1619.4L793.4 1614.4ZM815 1611.1L819.3 1613.6L819.3 1618.6L815 1621.1L810.6 1618.6L810.6 1613.6Z" fill="#ebc028"/>
<path d="M532.9 1700.8L538.2 1710.1L527.6 1710.1ZM547.4 1692.5L552.7 1701.7L542.1 1701.7ZM561.9 1691.1L567.2 1700.4L556.6 1700.4ZM576.7 1684.4L582 1693.6L571.4 1693.6ZM591.5 1675.8L596.9 1685L586.2 1685ZM606.6 1676.6L611.9 1685.8L601.3 1685.8ZM622 1667.2L627.3 1676.4L616.7 1676.4ZM637.3 1660.2L642.6 1669.4L632 1669.4ZM652.7 1648L658 1657.3L647.3 1657.3ZM668 1645.1L673.3 1654.3L662.7 1654.3ZM683.6 1639.7L688.9 1649L678.3 1649ZM699.5 1632.2L704.8 1641.4L694.2 1641.4ZM715.4 1625.2L720.7 1634.4L710.1 1634.4ZM731.5 1625.4L736.8 1634.7L726.2 1634.7ZM747.7 1620.9L753 1630.1L742.4 1630.1ZM764.4 1615.5L769.7 1624.7L759.1 1624.7ZM780.8 1612.5L786.1 1621.8L775.5 1621.8ZM797.7 1610.6L803 1619.9L792.4 1619.9ZM815 1609L820.3 1618.3L809.7 1618.3Z" fill="#22a45f"/>
<path d="M532.9 1913.4L537.8 1917L535.9 1922.8L529.8 1922.8L527.9 1917ZM547.4 1902.9L552.4 1906.5L550.5 1912.3L544.3 1912.3L542.4 1906.5ZM561.9 1889.4L566.9 1893L565 1898.9L558.9 1898.9L557 1893ZM576.7 1875.9L581.7 1879.6L579.8 1885.4L573.7 1885.4L571.8 1879.6ZM591.5 1856L596.5 1859.6L594.6 1865.5L588.5 1865.5L586.6 1859.6ZM606.6 1829.1L611.6 1832.7L609.7 1838.6L603.5 1838.6L601.6 1832.7ZM622 1797.6L626.9 1801.2L625 1807.1L618.9 1807.1L617 1801.2ZM637.3 1763.4L642.3 1767L640.4 1772.9L634.2 1772.9L632.3 1767ZM652.7 1737.6L657.6 1741.2L655.7 1747.1L649.6 1747.1L647.7 1741.2ZM668 1702.3L673 1705.9L671.1 1711.8L664.9 1711.8L663 1705.9ZM683.6 1680.2L688.6 1683.9L686.7 1689.7L680.5 1689.7L678.6 1683.9ZM699.5 1660.9L704.5 1664.5L702.6 1670.3L696.4 1670.3L694.5 1664.5ZM715.4 1645.8L720.3 1649.4L718.4 1655.3L712.3 1655.3L710.4 1649.4ZM731.5 1636.1L736.5 1639.7L734.6 1645.6L728.4 1645.6L726.5 1639.7ZM747.7 1628.3L752.7 1631.9L750.7 1637.8L744.6 1637.8L742.7 1631.9ZM764.4 1621.8L769.3 1625.5L767.4 1631.3L761.3 1631.3L759.4 1625.5ZM780.8 1615.1L785.8 1618.7L783.9 1624.6L777.7 1624.6L775.8 1618.7ZM797.7 1612.1L802.7 1615.8L800.8 1621.6L794.7 1621.6L792.8 1615.8ZM815 1609.4L819.9 1613.1L818 1618.9L811.9 1618.9L810 1613.1Z" fill="#3c9bc9"/>
<text x="728.5" y="1779.9" font-size="27.6" fill="#231815"><tspan font-style="italic">K</tspan><tspan font-size="16.5" dy="8.6" dx="-0.5">d</tspan><tspan dy="-8.6" dx="0.5"> (µM)</tspan></text>
<path d="M764.6 1793.9h55.6" stroke="#231815" stroke-width="2"/>
<path d="M735 1808.2L742.8 1821.8L727.2 1821.8Z" fill="#13ae67"/>
<text transform="translate(770 1824.7) scale(0.97 1)" font-size="28.6" fill="#231815">9.6</text>
<path d="M735 1840.7L742.3 1846L739.5 1854.6L730.5 1854.6L727.7 1846Z" fill="#3c9bc9"/>
<text transform="translate(770 1858.1) scale(0.97 1)" font-size="28.6" fill="#231815">5.7</text>
<path d="M735 1873.7L741.4 1877.4L741.4 1884.8L735 1888.5L728.6 1884.8L728.6 1877.4Z" fill="#f2c31f"/>
<text transform="translate(771.6 1891.3) scale(0.97 1)" font-size="28.6" fill="#231815">11.2</text>
<path d="M727.6 1916L741 1908.1L741 1923.9Z" fill="#e8646b"/>
<text x="770.4" y="1925.9" font-size="27.6" fill="#231815">NDB</text>
<rect x="897.3" y="1591.2" width="343.1" height="351.8" fill="#fff" stroke="#231815" stroke-width="2.4"/>
<text transform="translate(892.8 1623.8) scale(0.87 1)" font-size="29" fill="#231815" text-anchor="end">0.0</text>
<text transform="translate(892.8 1680.8) scale(0.87 1)" font-size="29" fill="#231815" text-anchor="end">-2.0</text>
<text transform="translate(892.8 1737.5) scale(0.87 1)" font-size="29" fill="#231815" text-anchor="end">-4.0</text>
<text transform="translate(892.8 1794.6) scale(0.87 1)" font-size="29" fill="#231815" text-anchor="end">-6.0</text>
<text transform="translate(892.8 1851.3) scale(0.87 1)" font-size="29" fill="#231815" text-anchor="end">-8.0</text>
<text transform="translate(892.8 1908.1) scale(0.7786500000000001 1)" font-size="29" fill="#231815" text-anchor="end">-10.0</text>
<text transform="translate(919 1970.6) scale(0.97 1)" font-size="28.4" fill="#231815" text-anchor="middle">0.0</text>
<text transform="translate(989.4 1970.6) scale(0.97 1)" font-size="28.4" fill="#231815" text-anchor="middle">0.5</text>
<text transform="translate(1058.8 1970.6) scale(0.97 1)" font-size="28.4" fill="#231815" text-anchor="middle">1.0</text>
<text transform="translate(1129 1970.6) scale(0.97 1)" font-size="28.4" fill="#231815" text-anchor="middle">1.5</text>
<text transform="translate(1198.8 1970.6) scale(0.97 1)" font-size="28.4" fill="#231815" text-anchor="middle">2.0</text>
<path d="M897.3 1615.6h7.6M897.3 1672.1h7.6M897.3 1728.3h7.6M897.3 1784.9h7.6M897.3 1841.1h7.6M897.3 1897.4h7.6M897.3 1643.8h4M897.3 1700.2h4M897.3 1756.6h4M897.3 1813h4M897.3 1869.3h4M897.3 1925.6h4M918.6 1943v-7.2M991.3 1943v-7.2M1062.9 1943v-7.2M1135.3 1943v-7.2M1207.4 1943v-7.2M955 1943v-4M1027.1 1943v-4M1099.1 1943v-4M1171.3 1943v-4" stroke="#231815" stroke-width="2.3" fill="none"/>
<text transform="translate(1069 1577.3) scale(0.965 1)" font-size="29" fill="#000" text-anchor="middle">AtEHD3 PHD23</text>
<text x="1068.3" y="2001.5" font-size="28.2" fill="#231815" text-anchor="middle">Molar Ratio</text>
<path d="M920.8 1707.1C923.2 1706.8 930.7 1706.3 935.6 1705.2C940.4 1704.1 945 1702.1 949.8 1700.3C954.7 1698.6 959.7 1696.6 964.6 1694.4C969.5 1692.3 974.3 1689.9 979.2 1687.4C984.1 1684.9 989 1682.1 994 1679.4C999 1676.6 1004 1673.5 1009 1670.7C1014.1 1668 1019 1665.4 1024.1 1662.7C1029.2 1660 1034.4 1657.1 1039.5 1654.6C1044.5 1652.1 1049.4 1650 1054.5 1647.9C1059.7 1645.7 1065.2 1643.6 1070.4 1641.7C1075.7 1639.7 1080.7 1637.8 1086 1636.3C1091.4 1634.8 1097 1633.7 1102.4 1632.5C1107.9 1631.3 1113.2 1630 1118.6 1629C1124 1628 1129.5 1627.4 1134.8 1626.6C1140 1625.8 1145.1 1625.1 1150.4 1624.4C1155.7 1623.8 1161.1 1623.3 1166.5 1622.8C1171.9 1622.4 1177.3 1622.1 1182.9 1621.7C1188.6 1621.4 1194.8 1621 1200.4 1620.7C1206.1 1620.4 1214.1 1620 1216.9 1619.9" fill="none" stroke="#22a45f" stroke-width="2.3"/>
<path d="M920.8 1916.2C923.2 1916 930.7 1915.5 935.6 1914.6C940.4 1913.7 945 1912.8 949.8 1910.8C954.7 1908.9 959.7 1905.8 964.6 1902.8C969.5 1899.8 974.3 1897.5 979.2 1892.8C984.1 1888.1 989 1883.3 994 1874.8C999 1866.3 1004 1855.5 1009 1841.7C1014.1 1827.9 1019 1809.6 1024.1 1791.9C1029.2 1774.1 1034.4 1752.3 1039.5 1735.3C1044.5 1718.4 1049.4 1702.9 1054.5 1690.1C1059.7 1677.3 1065.2 1666.8 1070.4 1658.6C1075.7 1650.5 1080.7 1645.6 1086 1641.1C1091.4 1636.6 1097 1634.2 1102.4 1631.7C1107.9 1629.2 1113.2 1627.7 1118.6 1626.3C1124 1624.9 1129.5 1624.1 1134.8 1623.4C1140 1622.6 1145.1 1622.2 1150.4 1621.7C1155.7 1621.3 1161.1 1621 1166.5 1620.7C1171.9 1620.4 1177.3 1620.1 1182.9 1619.9C1188.6 1619.6 1194.8 1619.5 1200.4 1619.3C1206.1 1619.2 1214.1 1619.1 1216.9 1619.1" fill="none" stroke="#3c9bc9" stroke-width="2.3"/>
<path d="M929.7 1615.6L938.9 1610.2L938.9 1620.9ZM944 1615.6L953.1 1610.2L953.1 1620.9ZM958.8 1615.6L967.9 1610.2L967.9 1620.9ZM973.3 1615.6L982.5 1610.2L982.5 1620.9ZM988.2 1615.6L997.3 1610.2L997.3 1620.9ZM1003.2 1615.6L1012.3 1610.2L1012.3 1620.9ZM1018.3 1615.6L1027.4 1610.2L1027.4 1620.9ZM1033.6 1615.6L1042.8 1610.2L1042.8 1620.9ZM1048.7 1615.6L1057.8 1610.2L1057.8 1620.9ZM1064.6 1615.6L1073.7 1610.2L1073.7 1620.9ZM1080.2 1615.6L1089.3 1610.2L1089.3 1620.9ZM1096.6 1615.6L1105.7 1610.2L1105.7 1620.9ZM1112.8 1615.6L1121.9 1610.2L1121.9 1620.9ZM1128.9 1615.6L1138 1610.2L1138 1620.9ZM1144.5 1615.6L1153.7 1610.2L1153.7 1620.9ZM1160.7 1615.6L1169.8 1610.2L1169.8 1620.9ZM1177.1 1615.6L1186.2 1610.2L1186.2 1620.9ZM1194.6 1615.6L1203.7 1610.2L1203.7 1620.9ZM1211 1615.6L1220.1 1610.2L1220.1 1620.9Z" fill="#e2656b"/>
<path d="M935.6 1610.5L939.9 1613L939.9 1618.1L935.6 1620.6L931.2 1618.1L931.2 1613ZM949.8 1610.5L954.2 1613L954.2 1618.1L949.8 1620.6L945.5 1618.1L945.5 1613ZM964.6 1610.5L969 1613L969 1618.1L964.6 1620.6L960.3 1618.1L960.3 1613ZM979.2 1610.5L983.5 1613L983.5 1618.1L979.2 1620.6L974.8 1618.1L974.8 1613ZM994 1610.5L998.3 1613L998.3 1618.1L994 1620.6L989.6 1618.1L989.6 1613ZM1009 1610.5L1013.4 1613L1013.4 1618.1L1009 1620.6L1004.7 1618.1L1004.7 1613ZM1024.1 1610.5L1028.5 1613L1028.5 1618.1L1024.1 1620.6L1019.8 1618.1L1019.8 1613ZM1039.5 1610.5L1043.8 1613L1043.8 1618.1L1039.5 1620.6L1035.1 1618.1L1035.1 1613ZM1054.5 1610.5L1058.9 1613L1058.9 1618.1L1054.5 1620.6L1050.2 1618.1L1050.2 1613ZM1070.4 1610.5L1074.8 1613L1074.8 1618.1L1070.4 1620.6L1066.1 1618.1L1066.1 1613ZM1086 1610.5L1090.4 1613L1090.4 1618.1L1086 1620.6L1081.7 1618.1L1081.7 1613ZM1102.4 1610.5L1106.8 1613L1106.8 1618.1L1102.4 1620.6L1098.1 1618.1L1098.1 1613ZM1118.6 1610.5L1123 1613L1123 1618.1L1118.6 1620.6L1114.2 1618.1L1114.2 1613ZM1134.8 1610.5L1139.1 1613L1139.1 1618.1L1134.8 1620.6L1130.4 1618.1L1130.4 1613ZM1150.4 1610.5L1154.7 1613L1154.7 1618.1L1150.4 1620.6L1146 1618.1L1146 1613ZM1166.5 1610.5L1170.9 1613L1170.9 1618.1L1166.5 1620.6L1162.2 1618.1L1162.2 1613ZM1182.9 1610.5L1187.3 1613L1187.3 1618.1L1182.9 1620.6L1178.6 1618.1L1178.6 1613ZM1200.4 1610.5L1204.8 1613L1204.8 1618.1L1200.4 1620.6L1196.1 1618.1L1196.1 1613ZM1216.9 1610.5L1221.2 1613L1221.2 1618.1L1216.9 1620.6L1212.5 1618.1L1212.5 1613Z" fill="#ebc028"/>
<path d="M935.6 1698.7L940.9 1707.9L930.3 1707.9ZM949.8 1694.1L955.1 1703.3L944.5 1703.3ZM964.6 1686.5L969.9 1695.8L959.3 1695.8ZM979.2 1679L984.5 1688.3L973.9 1688.3ZM994 1667.7L999.3 1676.9L988.7 1676.9ZM1009 1661.5L1014.3 1670.8L1003.7 1670.8ZM1024.1 1654.2L1029.4 1663.5L1018.8 1663.5ZM1039.5 1647L1044.8 1656.2L1034.2 1656.2ZM1054.5 1641.3L1059.8 1650.6L1049.2 1650.6ZM1070.4 1634.6L1075.7 1643.8L1065.1 1643.8ZM1086 1630.6L1091.3 1639.8L1080.7 1639.8ZM1102.4 1626L1107.8 1635.2L1097.1 1635.2ZM1118.6 1621.9L1123.9 1631.2L1113.3 1631.2ZM1134.8 1614.4L1140.1 1623.6L1129.4 1623.6ZM1150.4 1612.5L1155.7 1621.8L1145.1 1621.8ZM1166.5 1611.2L1171.8 1620.4L1161.2 1620.4ZM1182.9 1609.8L1188.2 1619.1L1177.6 1619.1ZM1200.4 1607.7L1205.7 1616.9L1195.1 1616.9ZM1216.9 1607.1L1222.2 1616.4L1211.5 1616.4Z" fill="#22a45f"/>
<path d="M935.6 1910.7L940.5 1914.3L938.6 1920.1L932.5 1920.1L930.6 1914.3ZM949.8 1908.2L954.8 1911.9L952.9 1917.7L946.7 1917.7L944.8 1911.9ZM964.6 1897.5L969.6 1901.1L967.7 1906.9L961.6 1906.9L959.7 1901.1ZM979.2 1889.1L984.1 1892.7L982.2 1898.6L976.1 1898.6L974.2 1892.7ZM994 1871.1L999 1874.7L997 1880.6L990.9 1880.6L989 1874.7ZM1009 1837.4L1014 1841.1L1012.1 1846.9L1006 1846.9L1004.1 1841.1ZM1024.1 1786.8L1029.1 1790.5L1027.2 1796.3L1021 1796.3L1019.1 1790.5ZM1039.5 1730.3L1044.4 1733.9L1042.5 1739.8L1036.4 1739.8L1034.5 1733.9ZM1054.5 1684.6L1059.5 1688.2L1057.6 1694L1051.5 1694L1049.6 1688.2ZM1070.4 1651.7L1075.4 1655.3L1073.5 1661.2L1067.3 1661.2L1065.4 1655.3ZM1086 1634.2L1091 1637.8L1089.1 1643.7L1083 1643.7L1081 1637.8ZM1102.4 1625.3L1107.4 1628.9L1105.5 1634.8L1099.4 1634.8L1097.5 1628.9ZM1118.6 1619.9L1123.6 1623.6L1121.7 1629.4L1115.5 1629.4L1113.6 1623.6ZM1134.8 1614L1139.7 1617.6L1137.8 1623.5L1131.7 1623.5L1129.8 1617.6ZM1150.4 1611.9L1155.3 1615.5L1153.4 1621.3L1147.3 1621.3L1145.4 1615.5ZM1166.5 1611.1L1171.5 1614.7L1169.6 1620.5L1163.4 1620.5L1161.5 1614.7ZM1182.9 1610.5L1187.9 1614.1L1186 1620L1179.9 1620L1178 1614.1ZM1200.4 1610L1205.4 1613.6L1203.5 1619.5L1197.4 1619.5L1195.5 1613.6ZM1216.9 1609.4L1221.8 1613.1L1219.9 1618.9L1213.8 1618.9L1211.9 1613.1Z" fill="#3c9bc9"/>
<text x="1132.5" y="1779.9" font-size="27.6" fill="#231815"><tspan font-style="italic">K</tspan><tspan font-size="16.5" dy="8.6" dx="-0.5">d</tspan><tspan dy="-8.6" dx="0.5"> (µM)</tspan></text>
<path d="M1168.6 1793.9h55.6" stroke="#231815" stroke-width="2"/>
<path d="M1139 1808.2L1146.8 1821.8L1131.2 1821.8Z" fill="#13ae67"/>
<text transform="translate(1175.6 1824.7) scale(0.97 1)" font-size="28.6" fill="#231815">13.6</text>
<path d="M1139 1840.7L1146.3 1846L1143.5 1854.6L1134.5 1854.6L1131.7 1846Z" fill="#3c9bc9"/>
<text transform="translate(1174 1858.1) scale(0.97 1)" font-size="28.6" fill="#231815">2.1</text>
<path d="M1139 1873.7L1145.4 1877.4L1145.4 1884.8L1139 1888.5L1132.6 1884.8L1132.6 1877.4Z" fill="#f2c31f"/>
<text x="1174.4" y="1891.3" font-size="27.6" fill="#231815">NDB</text>
<path d="M1131.6 1916L1145 1908.1L1145 1923.9Z" fill="#e8646b"/>
<text x="1174.4" y="1925.9" font-size="27.6" fill="#231815">NDB</text>
<rect x="1295.7" y="1591.2" width="342.7" height="351.8" fill="#fff" stroke="#231815" stroke-width="2.4"/>
<text transform="translate(1292 1633.2) scale(0.92 1)" font-size="29" fill="#231815" text-anchor="end">0.0</text>
<text transform="translate(1292 1717.2) scale(0.92 1)" font-size="29" fill="#231815" text-anchor="end">-1.0</text>
<text transform="translate(1292 1800.9) scale(0.92 1)" font-size="29" fill="#231815" text-anchor="end">-2.0</text>
<text transform="translate(1292 1884.9) scale(0.92 1)" font-size="29" fill="#231815" text-anchor="end">-3.0</text>
<text transform="translate(1317.3 1970.6) scale(0.97 1)" font-size="28.4" fill="#231815" text-anchor="middle">0.0</text>
<text transform="translate(1388.9 1970.6) scale(0.97 1)" font-size="28.4" fill="#231815" text-anchor="middle">1.0</text>
<text transform="translate(1460.7 1970.6) scale(0.97 1)" font-size="28.4" fill="#231815" text-anchor="middle">2.0</text>
<text transform="translate(1532.9 1970.6) scale(0.97 1)" font-size="28.4" fill="#231815" text-anchor="middle">3.0</text>
<text transform="translate(1604.7 1970.6) scale(0.97 1)" font-size="28.4" fill="#231815" text-anchor="middle">4.0</text>
<path d="M1295.7 1624.2h7.6M1295.7 1708.2h7.6M1295.7 1791.9h7.6M1295.7 1875.9h7.6M1295.7 1666.2h4M1295.7 1750h4M1295.7 1833.9h4M1295.7 1917.9h4M1317.3 1943v-7.2M1388.9 1943v-7.2M1460.7 1943v-7.2M1532.9 1943v-7.2M1604.7 1943v-7.2M1335.3 1943v-4M1353.2 1943v-4M1371.2 1943v-4M1407.1 1943v-4M1425.1 1943v-4M1443 1943v-4M1479 1943v-4M1496.9 1943v-4M1514.9 1943v-4M1550.8 1943v-4M1568.8 1943v-4M1586.7 1943v-4" stroke="#231815" stroke-width="2.3" fill="none"/>
<text transform="translate(1467 1577.3) scale(0.965 1)" font-size="29" fill="#000" text-anchor="middle">Mm Q8BRH4 PHD23</text>
<text x="1466.6" y="2001.5" font-size="28.2" fill="#231815" text-anchor="middle">Molar Ratio</text>
<path d="M1318.1 1917.8C1320.6 1917 1328.4 1915.6 1333.4 1913C1338.4 1910.4 1343.3 1906.7 1348.2 1902.2C1353.1 1897.7 1357.9 1892.8 1362.7 1886.1C1367.6 1879.4 1372.6 1871.3 1377.6 1861.9C1382.5 1852.4 1387.4 1841.2 1392.4 1829.6C1397.3 1817.9 1402.4 1804 1407.4 1791.9C1412.5 1779.8 1417.5 1767.6 1422.5 1756.9C1427.5 1746.1 1432.5 1736.7 1437.6 1727.3C1442.7 1717.8 1448 1708.4 1453.2 1700.3C1458.3 1692.3 1463.4 1684.9 1468.5 1678.8C1473.7 1672.8 1478.9 1668.3 1484.1 1664C1489.4 1659.7 1494.7 1656.4 1500 1653.2C1505.3 1650.1 1510.5 1647.4 1515.9 1645.2C1521.3 1642.9 1527.1 1641.3 1532.6 1639.8C1538.1 1638.3 1543.6 1637.2 1549 1636.3C1554.4 1635.3 1559.5 1634.7 1564.9 1634.1C1570.3 1633.5 1575.8 1633.2 1581.3 1632.8C1586.8 1632.4 1592.4 1632 1598 1631.7C1603.6 1631.4 1612.1 1631 1615 1630.9" fill="none" stroke="#22a45f" stroke-width="2.3"/>
<path d="M1328.4 1623.6L1337.5 1618.3L1337.5 1629ZM1343.2 1623.6L1352.3 1618.3L1352.3 1629ZM1357.7 1623.6L1366.8 1618.3L1366.8 1629ZM1372.5 1623.6L1381.7 1618.3L1381.7 1629ZM1387.3 1623.6L1396.5 1618.3L1396.5 1629ZM1402.4 1623.6L1411.5 1618.3L1411.5 1629ZM1417.5 1623.6L1426.6 1618.3L1426.6 1629ZM1432.6 1623.6L1441.7 1618.3L1441.7 1629ZM1448.2 1623.6L1457.3 1618.3L1457.3 1629ZM1463.5 1623.6L1472.6 1618.3L1472.6 1629ZM1479.1 1623.6L1488.2 1618.3L1488.2 1629ZM1495 1623.6L1504.1 1618.3L1504.1 1629ZM1510.9 1623.6L1520 1618.3L1520 1629ZM1527.6 1623.6L1536.7 1618.3L1536.7 1629ZM1544 1623.6L1553.1 1618.3L1553.1 1629ZM1559.9 1623.6L1569 1618.3L1569 1629ZM1576.3 1623.6L1585.4 1618.3L1585.4 1629ZM1593 1623.6L1602.1 1618.3L1602.1 1629ZM1610 1623.6L1619.1 1618.3L1619.1 1629Z" fill="#e2656b"/>
<path d="M1333.4 1618.9L1337.8 1621.4L1337.8 1626.4L1333.4 1628.9L1329 1626.4L1329 1621.4ZM1348.2 1618.9L1352.6 1621.4L1352.6 1626.4L1348.2 1628.9L1343.9 1626.4L1343.9 1621.4ZM1362.7 1618.9L1367.1 1621.4L1367.1 1626.4L1362.7 1628.9L1358.4 1626.4L1358.4 1621.4ZM1377.6 1618.9L1381.9 1621.4L1381.9 1626.4L1377.6 1628.9L1373.2 1626.4L1373.2 1621.4ZM1392.4 1618.9L1396.7 1621.4L1396.7 1626.4L1392.4 1628.9L1388 1626.4L1388 1621.4ZM1407.4 1618.9L1411.8 1621.4L1411.8 1626.4L1407.4 1628.9L1403.1 1626.4L1403.1 1621.4ZM1422.5 1618.9L1426.9 1621.4L1426.9 1626.4L1422.5 1628.9L1418.1 1626.4L1418.1 1621.4ZM1437.6 1618.9L1441.9 1621.4L1441.9 1626.4L1437.6 1628.9L1433.2 1626.4L1433.2 1621.4ZM1453.2 1618.9L1457.5 1621.4L1457.5 1626.4L1453.2 1628.9L1448.8 1626.4L1448.8 1621.4ZM1468.5 1618.9L1472.9 1621.4L1472.9 1626.4L1468.5 1628.9L1464.2 1626.4L1464.2 1621.4ZM1484.1 1618.9L1488.5 1621.4L1488.5 1626.4L1484.1 1628.9L1479.8 1626.4L1479.8 1621.4ZM1500 1618.9L1504.4 1621.4L1504.4 1626.4L1500 1628.9L1495.7 1626.4L1495.7 1621.4ZM1515.9 1618.9L1520.3 1621.4L1520.3 1626.4L1515.9 1628.9L1511.6 1626.4L1511.6 1621.4ZM1532.6 1618.9L1537 1621.4L1537 1626.4L1532.6 1628.9L1528.2 1626.4L1528.2 1621.4ZM1549 1618.9L1553.4 1621.4L1553.4 1626.4L1549 1628.9L1544.7 1626.4L1544.7 1621.4ZM1564.9 1618.9L1569.3 1621.4L1569.3 1626.4L1564.9 1628.9L1560.5 1626.4L1560.5 1621.4ZM1581.3 1618.9L1585.7 1621.4L1585.7 1626.4L1581.3 1628.9L1577 1626.4L1577 1621.4ZM1598 1618.9L1602.4 1621.4L1602.4 1626.4L1598 1628.9L1593.7 1626.4L1593.7 1621.4ZM1615 1618.9L1619.3 1621.4L1619.3 1626.4L1615 1628.9L1610.6 1626.4L1610.6 1621.4Z" fill="#ebc028"/>
<path d="M1333.4 1618.6L1338.4 1622.2L1336.5 1628.1L1330.3 1628.1L1328.4 1622.2ZM1348.2 1618.6L1353.2 1622.2L1351.3 1628.1L1345.1 1628.1L1343.2 1622.2ZM1362.7 1618.6L1367.7 1622.2L1365.8 1628.1L1359.7 1628.1L1357.8 1622.2ZM1377.6 1618.6L1382.5 1622.2L1380.6 1628.1L1374.5 1628.1L1372.6 1622.2ZM1392.4 1618.6L1397.3 1622.2L1395.4 1628.1L1389.3 1628.1L1387.4 1622.2ZM1407.4 1618.6L1412.4 1622.2L1410.5 1628.1L1404.4 1628.1L1402.4 1622.2ZM1422.5 1618.6L1427.5 1622.2L1425.6 1628.1L1419.4 1628.1L1417.5 1622.2ZM1437.6 1618.6L1442.6 1622.2L1440.7 1628.1L1434.5 1628.1L1432.6 1622.2ZM1453.2 1618.6L1458.2 1622.2L1456.3 1628.1L1450.1 1628.1L1448.2 1622.2ZM1468.5 1618.6L1473.5 1622.2L1471.6 1628.1L1465.5 1628.1L1463.6 1622.2ZM1484.1 1618.6L1489.1 1622.2L1487.2 1628.1L1481.1 1628.1L1479.2 1622.2ZM1500 1618.6L1505 1622.2L1503.1 1628.1L1496.9 1628.1L1495 1622.2ZM1515.9 1618.6L1520.9 1622.2L1519 1628.1L1512.8 1628.1L1510.9 1622.2ZM1532.6 1618.6L1537.6 1622.2L1535.7 1628.1L1529.5 1628.1L1527.6 1622.2ZM1549 1618.6L1554 1622.2L1552.1 1628.1L1545.9 1628.1L1544 1622.2ZM1564.9 1618.6L1569.9 1622.2L1568 1628.1L1561.8 1628.1L1559.9 1622.2ZM1581.3 1618.6L1586.3 1622.2L1584.4 1628.1L1578.2 1628.1L1576.3 1622.2ZM1598 1618.6L1603 1622.2L1601.1 1628.1L1594.9 1628.1L1593 1622.2ZM1615 1618.6L1619.9 1622.2L1618 1628.1L1611.9 1628.1L1610 1622.2Z" fill="#3c9bc9"/>
<path d="M1333.4 1899.7L1338.7 1909L1328.1 1909ZM1348.2 1895.7L1353.5 1904.9L1342.9 1904.9ZM1362.7 1884.4L1368 1893.6L1357.4 1893.6ZM1377.6 1863.4L1382.9 1872.6L1372.2 1872.6ZM1392.4 1825.7L1397.7 1835L1387.1 1835ZM1407.4 1784L1412.7 1793.2L1402.1 1793.2ZM1422.5 1749L1427.8 1758.2L1417.2 1758.2ZM1437.6 1719.4L1442.9 1728.6L1432.3 1728.6ZM1453.2 1696L1458.5 1705.2L1447.9 1705.2ZM1468.5 1679.8L1473.8 1689.1L1463.2 1689.1ZM1484.1 1663.7L1489.4 1672.9L1478.8 1672.9ZM1500 1652.4L1505.3 1661.6L1494.7 1661.6ZM1515.9 1636.2L1521.2 1645.5L1510.6 1645.5ZM1532.6 1628.7L1537.9 1637.9L1527.3 1637.9ZM1549 1624.6L1554.3 1633.9L1543.7 1633.9ZM1564.9 1617.9L1570.2 1627.1L1559.6 1627.1ZM1581.3 1617.1L1586.6 1626.3L1576 1626.3ZM1598 1617.1L1603.3 1626.3L1592.7 1626.3ZM1615 1616.6L1620.3 1625.8L1609.7 1625.8Z" fill="#22a45f"/>
<text x="1523.5" y="1779.9" font-size="27.6" fill="#231815"><tspan font-style="italic">K</tspan><tspan font-size="16.5" dy="8.6" dx="-0.5">d</tspan><tspan dy="-8.6" dx="0.5"> (µM)</tspan></text>
<path d="M1559.6 1793.9h55.6" stroke="#231815" stroke-width="2"/>
<path d="M1530 1808.2L1537.8 1821.8L1522.2 1821.8Z" fill="#13ae67"/>
<text transform="translate(1565 1824.7) scale(0.97 1)" font-size="28.6" fill="#231815">6.5</text>
<path d="M1530 1840.7L1537.3 1846L1534.5 1854.6L1525.5 1854.6L1522.7 1846Z" fill="#3c9bc9"/>
<text x="1565.4" y="1858.1" font-size="27.6" fill="#231815">NDB</text>
<path d="M1530 1873.7L1536.4 1877.4L1536.4 1884.8L1530 1888.5L1523.6 1884.8L1523.6 1877.4Z" fill="#f2c31f"/>
<text x="1565.4" y="1891.3" font-size="27.6" fill="#231815">NDB</text>
<path d="M1522.6 1916L1536 1908.1L1536 1923.9Z" fill="#e8646b"/>
<text x="1565.4" y="1925.9" font-size="27.6" fill="#231815">NDB</text>
<rect x="1696.1" y="1591.2" width="341.2" height="351.8" fill="#fff" stroke="#231815" stroke-width="2.4"/>
<text transform="translate(1687.4 1632.1) scale(0.895 1)" font-size="29" fill="#231815" text-anchor="end">0.0</text>
<text transform="translate(1687.4 1738.7) scale(0.895 1)" font-size="29" fill="#231815" text-anchor="end">-0.5</text>
<text transform="translate(1687.4 1845) scale(0.895 1)" font-size="29" fill="#231815" text-anchor="end">-1.0</text>
<text transform="translate(1687.4 1951.3) scale(0.895 1)" font-size="29" fill="#231815" text-anchor="end">-1.5</text>
<text transform="translate(1700.9 1970.6) scale(0.97 1)" font-size="28.4" fill="#231815" text-anchor="middle">0.0</text>
<text transform="translate(1777.1 1970.6) scale(0.97 1)" font-size="28.4" fill="#231815" text-anchor="middle">1.0</text>
<text transform="translate(1853 1970.6) scale(0.97 1)" font-size="28.4" fill="#231815" text-anchor="middle">2.0</text>
<text transform="translate(1928.3 1970.6) scale(0.97 1)" font-size="28.4" fill="#231815" text-anchor="middle">3.0</text>
<text transform="translate(2004.5 1970.6) scale(0.97 1)" font-size="28.4" fill="#231815" text-anchor="middle">4.0</text>
<path d="M1696.1 1622.5h7.6M1696.1 1729.1h7.6M1696.1 1835.4h7.6M1696.1 1941.7h7.6M1696.1 1675.8h4M1696.1 1782.2h4M1696.1 1888.6h4M1700.9 1943v-7.2M1777.1 1943v-7.2M1853 1943v-7.2M1928.3 1943v-7.2M2004.5 1943v-7.2M1719.9 1943v-4M1738.9 1943v-4M1757.8 1943v-4M1795.8 1943v-4M1814.8 1943v-4M1833.7 1943v-4M1871.7 1943v-4M1890.7 1943v-4M1909.6 1943v-4M1947.6 1943v-4M1966.6 1943v-4M1985.5 1943v-4M2023.5 1943v-4" stroke="#231815" stroke-width="2.3" fill="none"/>
<text transform="translate(1867 1577.3) scale(0.965 1)" font-size="29" fill="#000" text-anchor="middle">Mm Q8BRH4 PHD56</text>
<text x="1866.2" y="2001.5" font-size="28.2" fill="#231815" text-anchor="middle">Molar Ratio</text>
<path d="M1703.6 1901.4C1706.2 1899.7 1714.1 1897.1 1719.2 1891.4C1724.4 1885.7 1729.5 1875.7 1734.6 1867.2C1739.6 1858.7 1744.6 1849.5 1749.6 1840.3C1754.7 1831.1 1759.8 1822.1 1765 1812C1770.2 1801.9 1775.6 1789.8 1780.9 1779.7C1786.1 1769.6 1791.2 1760.2 1796.5 1751.5C1801.7 1742.7 1807.1 1734.9 1812.3 1727.2C1817.6 1719.6 1822.9 1712.4 1828.2 1705.7C1833.5 1699 1838.7 1692.2 1844.1 1686.9C1849.5 1681.5 1855.1 1677.4 1860.5 1673.4C1866 1669.4 1871.2 1665.8 1876.7 1662.6C1882.2 1659.5 1888 1656.9 1893.6 1654.6C1899.2 1652.2 1904.7 1650.3 1910.3 1648.4C1916 1646.5 1921.8 1644.7 1927.5 1643.3C1933.2 1641.8 1938.8 1640.8 1944.5 1639.8C1950.1 1638.7 1955.8 1637.8 1961.4 1637.1C1967.1 1636.3 1972.9 1635.8 1978.7 1635.2C1984.4 1634.6 1990 1634.1 1995.9 1633.6C2001.8 1633.1 2011.1 1632.5 2014.2 1632.2" fill="none" stroke="#22a45f" stroke-width="2.3"/>
<path d="M1715 1621.2L1724.1 1615.8L1724.1 1626.6ZM1730.4 1621.2L1739.5 1615.8L1739.5 1626.6ZM1745.4 1621.2L1754.5 1615.8L1754.5 1626.6ZM1760.8 1621.2L1769.9 1615.8L1769.9 1626.6ZM1776.7 1621.2L1785.8 1615.8L1785.8 1626.6ZM1792.3 1621.2L1801.4 1615.8L1801.4 1626.6ZM1808.1 1621.2L1817.3 1615.8L1817.3 1626.6ZM1824 1621.2L1833.1 1615.8L1833.1 1626.6ZM1839.9 1621.2L1849 1615.8L1849 1626.6ZM1856.3 1621.2L1865.4 1615.8L1865.4 1626.6ZM1872.5 1621.2L1881.6 1615.8L1881.6 1626.6ZM1889.4 1621.2L1898.5 1615.8L1898.5 1626.6ZM1906.1 1621.2L1915.2 1615.8L1915.2 1626.6ZM1923.3 1621.2L1932.4 1615.8L1932.4 1626.6ZM1940.3 1621.2L1949.4 1615.8L1949.4 1626.6ZM1957.2 1621.2L1966.4 1615.8L1966.4 1626.6ZM1974.5 1621.2L1983.6 1615.8L1983.6 1626.6ZM1991.7 1621.2L2000.8 1615.8L2000.8 1626.6ZM2010 1621.2L2019.1 1615.8L2019.1 1626.6Z" fill="#e2656b"/>
<path d="M1719.2 1616.7L1723.6 1619.2L1723.6 1624.2L1719.2 1626.8L1714.9 1624.2L1714.9 1619.2ZM1734.6 1616.7L1738.9 1619.2L1738.9 1624.2L1734.6 1626.8L1730.2 1624.2L1730.2 1619.2ZM1749.6 1616.7L1754 1619.2L1754 1624.2L1749.6 1626.8L1745.3 1624.2L1745.3 1619.2ZM1765 1616.7L1769.3 1619.2L1769.3 1624.2L1765 1626.8L1760.6 1624.2L1760.6 1619.2ZM1780.9 1616.7L1785.2 1619.2L1785.2 1624.2L1780.9 1626.8L1776.5 1624.2L1776.5 1619.2ZM1796.5 1616.7L1800.8 1619.2L1800.8 1624.2L1796.5 1626.8L1792.1 1624.2L1792.1 1619.2ZM1812.3 1616.7L1816.7 1619.2L1816.7 1624.2L1812.3 1626.8L1808 1624.2L1808 1619.2ZM1828.2 1616.7L1832.6 1619.2L1832.6 1624.2L1828.2 1626.8L1823.9 1624.2L1823.9 1619.2ZM1844.1 1616.7L1848.5 1619.2L1848.5 1624.2L1844.1 1626.8L1839.7 1624.2L1839.7 1619.2ZM1860.5 1616.7L1864.9 1619.2L1864.9 1624.2L1860.5 1626.8L1856.2 1624.2L1856.2 1619.2ZM1876.7 1616.7L1881 1619.2L1881 1624.2L1876.7 1626.8L1872.3 1624.2L1872.3 1619.2ZM1893.6 1616.7L1898 1619.2L1898 1624.2L1893.6 1626.8L1889.3 1624.2L1889.3 1619.2ZM1910.3 1616.7L1914.7 1619.2L1914.7 1624.2L1910.3 1626.8L1906 1624.2L1906 1619.2ZM1927.5 1616.7L1931.9 1619.2L1931.9 1624.2L1927.5 1626.8L1923.2 1624.2L1923.2 1619.2ZM1944.5 1616.7L1948.9 1619.2L1948.9 1624.2L1944.5 1626.8L1940.1 1624.2L1940.1 1619.2ZM1961.4 1616.7L1965.8 1619.2L1965.8 1624.2L1961.4 1626.8L1957.1 1624.2L1957.1 1619.2ZM1978.7 1616.7L1983 1619.2L1983 1624.2L1978.7 1626.8L1974.3 1624.2L1974.3 1619.2ZM1995.9 1616.7L2000.3 1619.2L2000.3 1624.2L1995.9 1626.8L1991.5 1624.2L1991.5 1619.2ZM2014.2 1616.7L2018.6 1619.2L2018.6 1624.2L2014.2 1626.8L2009.8 1624.2L2009.8 1619.2Z" fill="#ebc028"/>
<path d="M1719.2 1622.6L1724.2 1626.2L1722.3 1632.1L1716.1 1632.1L1714.2 1626.2ZM1734.6 1621.8L1739.5 1625.4L1737.6 1631.3L1731.5 1631.3L1729.6 1625.4ZM1749.6 1619.9L1754.6 1623.5L1752.7 1629.4L1746.6 1629.4L1744.7 1623.5ZM1765 1619.9L1770 1623.5L1768.1 1629.4L1761.9 1629.4L1760 1623.5ZM1780.9 1621.3L1785.8 1624.9L1783.9 1630.7L1777.8 1630.7L1775.9 1624.9ZM1796.5 1621.8L1801.4 1625.4L1799.5 1631.3L1793.4 1631.3L1791.5 1625.4ZM1812.3 1622.1L1817.3 1625.7L1815.4 1631.6L1809.3 1631.6L1807.4 1625.7ZM1828.2 1620.7L1833.2 1624.4L1831.3 1630.2L1825.1 1630.2L1823.2 1624.4ZM1844.1 1620.5L1849.1 1624.1L1847.2 1629.9L1841 1629.9L1839.1 1624.1ZM1860.5 1620.5L1865.5 1624.1L1863.6 1629.9L1857.4 1629.9L1855.5 1624.1ZM1876.7 1620.5L1881.7 1624.1L1879.7 1629.9L1873.6 1629.9L1871.7 1624.1ZM1893.6 1619.1L1898.6 1622.7L1896.7 1628.6L1890.5 1628.6L1888.6 1622.7ZM1910.3 1618.6L1915.3 1622.2L1913.4 1628.1L1907.2 1628.1L1905.3 1622.2ZM1927.5 1617.5L1932.5 1621.1L1930.6 1627L1924.5 1627L1922.6 1621.1ZM1944.5 1618L1949.5 1621.7L1947.6 1627.5L1941.4 1627.5L1939.5 1621.7ZM1961.4 1618L1966.4 1621.7L1964.5 1627.5L1958.4 1627.5L1956.5 1621.7ZM1978.7 1617.2L1983.7 1620.9L1981.8 1626.7L1975.6 1626.7L1973.7 1620.9ZM1995.9 1617.8L2000.9 1621.4L1999 1627.2L1992.8 1627.2L1990.9 1621.4ZM2014.2 1614.5L2019.2 1618.2L2017.3 1624L2011.1 1624L2009.2 1618.2Z" fill="#3c9bc9"/>
<path d="M1719.2 1889.2L1724.5 1898.4L1713.9 1898.4ZM1734.6 1861.5L1739.9 1870.7L1729.3 1870.7ZM1749.6 1831L1754.9 1840.3L1744.3 1840.3ZM1765 1810.3L1770.3 1819.6L1759.7 1819.6ZM1780.9 1771.8L1786.2 1781.1L1775.6 1781.1ZM1796.5 1743L1801.8 1752.3L1791.2 1752.3ZM1812.3 1719.3L1817.7 1728.6L1807 1728.6ZM1828.2 1701.3L1833.5 1710.6L1822.9 1710.6ZM1844.1 1684.4L1849.4 1693.6L1838.8 1693.6ZM1860.5 1673.1L1865.8 1682.3L1855.2 1682.3ZM1876.7 1663.1L1882 1672.3L1871.4 1672.3ZM1893.6 1648.8L1898.9 1658.1L1888.3 1658.1ZM1910.3 1644L1915.6 1653.2L1905 1653.2ZM1927.5 1632.7L1932.8 1641.9L1922.2 1641.9ZM1944.5 1622.7L1949.8 1632L1939.2 1632ZM1961.4 1621.4L1966.8 1630.6L1956.1 1630.6ZM1978.7 1616L1984 1625.2L1973.4 1625.2ZM1995.9 1616L2001.2 1625.2L1990.6 1625.2ZM2014.2 1615.2L2019.5 1624.4L2008.9 1624.4Z" fill="#22a45f"/>
<text x="1921.5" y="1779.9" font-size="27.6" fill="#231815"><tspan font-style="italic">K</tspan><tspan font-size="16.5" dy="8.6" dx="-0.5">d</tspan><tspan dy="-8.6" dx="0.5"> (µM)</tspan></text>
<path d="M1957.6 1793.9h55.6" stroke="#231815" stroke-width="2"/>
<path d="M1928 1808.2L1935.8 1821.8L1920.2 1821.8Z" fill="#13ae67"/>
<text transform="translate(1964.6 1824.7) scale(0.97 1)" font-size="28.6" fill="#231815">13.5</text>
<path d="M1928 1840.7L1935.3 1846L1932.5 1854.6L1923.5 1854.6L1920.7 1846Z" fill="#3c9bc9"/>
<text x="1963.4" y="1858.1" font-size="27.6" fill="#231815">NDB</text>
<path d="M1928 1873.7L1934.4 1877.4L1934.4 1884.8L1928 1888.5L1921.6 1884.8L1921.6 1877.4Z" fill="#f2c31f"/>
<text x="1963.4" y="1891.3" font-size="27.6" fill="#231815">NDB</text>
<path d="M1920.6 1916L1934 1908.1L1934 1923.9Z" fill="#e8646b"/>
<text x="1963.4" y="1925.9" font-size="27.6" fill="#231815">NDB</text>
<path d="M643.2 2019L651 2032.6L635.4 2032.6Z" fill="#13ae67"/>
<text x="657.5" y="2036.8" font-size="27.6" fill="#231815">H3K4me0</text>
<path d="M851.5 2020L858.8 2025.3L856 2033.9L847 2033.9L844.2 2025.3Z" fill="#3c9bc9"/>
<text x="868.3" y="2036.8" font-size="27.6" fill="#231815">H3K4me1</text>
<path d="M1059.4 2020L1065.8 2023.7L1065.8 2031.1L1059.4 2034.8L1053 2031.1L1053 2023.7Z" fill="#f2c31f"/>
<text x="1076.9" y="2036.8" font-size="27.6" fill="#231815">H3K4me2</text>
<path d="M1261.6 2027.4L1275 2019.5L1275 2035.3Z" fill="#e8646b"/>
<text x="1286.3" y="2036.8" font-size="27.6" fill="#231815">H3K4me3</text>
<path class="gb" d="M255.8 861.1C256.1 862.2 258.5 865.2 257.4 867.5C256.3 869.8 253.6 873.2 249.4 874.8C245.1 876.4 236.5 876 231.7 877.2C226.8 878.4 223.1 879.6 220.4 882C217.7 884.4 216.4 888.2 215.6 891.6C214.8 895.1 215.1 899.4 215.6 902.9C216.1 906.4 216.9 909.1 218.8 912.5C220.7 916 223.4 920.6 226.8 923.8C230.3 927 235.4 930.4 239.7 931.8C244 933.3 249.4 933.3 252.6 932.6C255.8 932 259 929.6 259 927.8C259 926.1 253.6 923.1 252.6 922.2"/><path class="gt" d="M255.8 861.1C256.1 862.2 258.5 865.2 257.4 867.5C256.3 869.8 253.6 873.2 249.4 874.8C245.1 876.4 236.5 876 231.7 877.2C226.8 878.4 223.1 879.6 220.4 882C217.7 884.4 216.4 888.2 215.6 891.6C214.8 895.1 215.1 899.4 215.6 902.9C216.1 906.4 216.9 909.1 218.8 912.5C220.7 916 223.4 920.6 226.8 923.8C230.3 927 235.4 930.4 239.7 931.8C244 933.3 249.4 933.3 252.6 932.6C255.8 932 259 929.6 259 927.8C259 926.1 253.6 923.1 252.6 922.2"/>
<path class="cb" d="M251 851.4C252.3 854.7 256.3 865.9 259 870.7C261.7 875.6 265.2 877.2 267 880.4C268.9 883.6 270.5 887.4 270.3 890C270 892.7 267.8 895 265.4 896.5C263 897.9 259.5 898.2 255.8 898.9C252 899.5 246.7 899.3 242.9 900.5C239.2 901.7 235.7 903.6 233.3 906.1C230.9 908.7 229.5 912 228.5 915.8C227.4 919.5 226.6 924.9 226.8 928.6C227.1 932.4 227.9 936.1 230.1 938.3C232.2 940.4 236.2 941.5 239.7 941.5C243.2 941.5 247.7 939.1 251 938.3C254.2 937.5 256.6 935.9 259 936.7C261.4 937.5 264.4 940.7 265.4 943.1C266.5 945.5 266.2 949.5 265.4 951.1C264.6 952.7 261.4 952.5 260.6 952.7"/><path class="ct" d="M251 851.4C252.3 854.7 256.3 865.9 259 870.7C261.7 875.6 265.2 877.2 267 880.4C268.9 883.6 270.5 887.4 270.3 890C270 892.7 267.8 895 265.4 896.5C263 897.9 259.5 898.2 255.8 898.9C252 899.5 246.7 899.3 242.9 900.5C239.2 901.7 235.7 903.6 233.3 906.1C230.9 908.7 229.5 912 228.5 915.8C227.4 919.5 226.6 924.9 226.8 928.6C227.1 932.4 227.9 936.1 230.1 938.3C232.2 940.4 236.2 941.5 239.7 941.5C243.2 941.5 247.7 939.1 251 938.3C254.2 937.5 256.6 935.9 259 936.7C261.4 937.5 264.4 940.7 265.4 943.1C266.5 945.5 266.2 949.5 265.4 951.1C264.6 952.7 261.4 952.5 260.6 952.7"/>
<path class="gb" d="M169 933.4C169.5 935.3 171.9 940.1 172.2 944.7C172.5 949.2 171.4 955.4 170.6 960.8C169.8 966.1 168.2 972.3 167.4 976.8C166.6 981.4 167.1 985.2 165.8 988.1C164.4 991.1 162 992.4 159.3 994.5C156.6 996.7 152.9 999.2 149.7 1001C146.5 1002.7 143.2 1004.2 140 1005C136.8 1005.8 132.8 1006.5 130.4 1005.8C128 1005.1 126.4 1001.8 125.6 1001"/><path class="gt" d="M169 933.4C169.5 935.3 171.9 940.1 172.2 944.7C172.5 949.2 171.4 955.4 170.6 960.8C169.8 966.1 168.2 972.3 167.4 976.8C166.6 981.4 167.1 985.2 165.8 988.1C164.4 991.1 162 992.4 159.3 994.5C156.6 996.7 152.9 999.2 149.7 1001C146.5 1002.7 143.2 1004.2 140 1005C136.8 1005.8 132.8 1006.5 130.4 1005.8C128 1005.1 126.4 1001.8 125.6 1001"/>
<path class="cb" d="M178.6 939.9C179.4 941.7 183.2 946.6 183.4 951.1C183.7 955.7 181.8 961.8 180.2 967.2C178.6 972.6 175.4 978.5 173.8 983.3C172.2 988.1 171.9 992.1 170.6 996.1C169.2 1000.2 168.2 1004.2 165.8 1007.4C163.3 1010.6 159.6 1013.4 156.1 1015.4C152.6 1017.4 148.6 1018.9 144.9 1019.5C141.1 1020 136.8 1019.9 133.6 1018.6C130.4 1017.4 127.4 1014.6 125.6 1012.2C123.7 1009.8 122.9 1005.5 122.3 1004.2"/><path class="ct" d="M178.6 939.9C179.4 941.7 183.2 946.6 183.4 951.1C183.7 955.7 181.8 961.8 180.2 967.2C178.6 972.6 175.4 978.5 173.8 983.3C172.2 988.1 171.9 992.1 170.6 996.1C169.2 1000.2 168.2 1004.2 165.8 1007.4C163.3 1010.6 159.6 1013.4 156.1 1015.4C152.6 1017.4 148.6 1018.9 144.9 1019.5C141.1 1020 136.8 1019.9 133.6 1018.6C130.4 1017.4 127.4 1014.6 125.6 1012.2C123.7 1009.8 122.9 1005.5 122.3 1004.2"/>
<path class="gb" d="M218.8 1034.7C220.7 1034.6 226 1034.1 230.1 1033.9C234.1 1033.8 238.9 1033.5 242.9 1033.9C246.9 1034.3 250.7 1035.1 254.2 1036.3C257.7 1037.5 261.4 1039.3 263.8 1041.2C266.2 1043 268.1 1044.9 268.6 1047.6C269.2 1050.3 268.4 1054 267 1057.2C265.7 1060.5 263.3 1063.7 260.6 1066.9C257.9 1070.1 254.4 1073.8 251 1076.5C247.5 1079.2 243.5 1081.1 239.7 1083C236 1084.8 230.3 1087 228.5 1087.8M225.2 1028.3C224.4 1027.6 222 1024.5 220.4 1024.3C218.8 1024 216.7 1025.5 215.6 1026.7C214.5 1027.9 213.5 1030.2 214 1031.5C214.5 1032.9 218 1034.2 218.8 1034.7"/><path class="gt" d="M218.8 1034.7C220.7 1034.6 226 1034.1 230.1 1033.9C234.1 1033.8 238.9 1033.5 242.9 1033.9C246.9 1034.3 250.7 1035.1 254.2 1036.3C257.7 1037.5 261.4 1039.3 263.8 1041.2C266.2 1043 268.1 1044.9 268.6 1047.6C269.2 1050.3 268.4 1054 267 1057.2C265.7 1060.5 263.3 1063.7 260.6 1066.9C257.9 1070.1 254.4 1073.8 251 1076.5C247.5 1079.2 243.5 1081.1 239.7 1083C236 1084.8 230.3 1087 228.5 1087.8M225.2 1028.3C224.4 1027.6 222 1024.5 220.4 1024.3C218.8 1024 216.7 1025.5 215.6 1026.7C214.5 1027.9 213.5 1030.2 214 1031.5C214.5 1032.9 218 1034.2 218.8 1034.7"/>
<path d="M165.8 923.8C163.6 922.9 157.2 919.5 152.9 918.2C148.6 916.9 144.1 915.7 140 916.1C136 916.5 131.6 918.1 128.8 920.6C126 923.1 123.7 927.4 123.2 931C122.6 934.6 123.7 939.1 125.6 942.3C127.4 945.5 131.1 948.6 134.4 950.3C137.8 952 142.6 952.4 145.7 952.4C148.7 952.4 151.7 950.7 152.9 950.3" class="H" stroke="#2fa95e" stroke-width="12"/>
<path d="M135.2 927C135.7 928.6 136.5 933.8 138.1 936.7C139.7 939.5 142.2 942.2 144.9 943.9C147.5 945.6 152.6 946.2 154.2 946.6" class="H" stroke="#48bccb" stroke-width="8"/>
<path d="M152.9 919C154.5 920.3 160.4 924.1 162.5 927C164.7 930 165.2 935 165.8 936.7" class="H" stroke="#a3dbb0" stroke-width="6"/>
<path d="M167.4 933.4L177 931.8L183.4 939.9L177 944.7Z" class="F" fill="#a8e0e6" stroke="#a8e0e6"/>
<path class="Cb" d="M204.3 919C202.7 917.4 197.9 912 194.7 909.3C191.5 906.6 188.5 904.8 185 902.9C181.6 901 177 899.9 173.8 898.1C170.6 896.2 167.6 894.3 165.8 891.6C163.9 889 162.3 885.2 162.5 882C162.8 878.8 164.7 875.3 167.4 872.3C170 869.4 174.6 866.5 178.6 864.3C182.6 862.2 187.2 860.4 191.5 859.5C195.8 858.5 200.3 859.2 204.3 858.7C208.4 858.1 214 857.5 215.6 856.3C217.2 855.1 215.9 852.8 214 851.4C212.1 850.1 207.6 849.3 204.3 848.2C201.1 847.2 197.1 846.4 194.7 845C192.3 843.7 189.9 841.9 189.9 840.2C189.9 838.5 191.2 836.2 194.7 834.6C198.2 833 204.9 831.5 210.8 830.5C216.7 829.6 223.9 828.8 230.1 828.9C236.2 829.1 242.9 830 247.7 831.4C252.6 832.7 256.6 835.1 259 837C261.4 838.9 262.5 840.7 262.2 842.6C262 844.5 259.3 846.8 257.4 848.2C255.5 849.7 252 850.9 251 851.4M252.6 915.8C253.4 914.7 255 911.2 257.4 909.3C259.8 907.4 263.3 906 267 904.5C270.8 903 275.9 901.7 279.9 900.5C283.9 899.3 288.6 896.9 291.2 897.3C293.7 897.7 294.6 899.8 295.2 902.9C295.7 906 294.4 911.5 294.4 915.8C294.4 920 294.4 924.3 295.2 928.6C296 932.9 297.5 937.7 299.2 941.5C300.9 945.2 304 948.7 305.6 951.1C307.2 953.5 307 955.7 308.8 955.9C310.7 956.2 313.7 954.3 316.9 952.7C320.1 951.1 324.4 948.2 328.1 946.3C331.9 944.4 337.5 942.3 339.4 941.5M252.6 915.8C252.4 917.1 251.2 921.1 251.8 923.8C252.3 926.5 253.8 929.2 255.8 931.8C257.8 934.5 262 937.5 263.8 939.9C265.7 942.3 267 944.3 267 946.3C267 948.3 264.4 951 263.8 951.9M70.1 941.5C72.1 942.1 77.5 944.6 82.2 945.5C86.8 946.4 93.7 946.4 98.2 947.1C102.8 947.8 106.3 948 109.5 949.5C112.7 951 115.4 953.3 117.5 955.9C119.7 958.6 121.4 962.1 122.3 965.6C123.3 969.1 123.4 973.1 123.2 976.8C122.9 980.6 121.7 984.6 120.7 988.1C119.8 991.6 118.6 994.8 117.5 997.7C116.5 1000.7 115.6 1003.9 114.3 1005.8C113 1007.7 111.6 1008.3 109.5 1009C107.3 1009.7 103.5 1009 101.4 1009.8C99.4 1010.6 98 1011.3 97.4 1013.8C96.9 1016.4 97.3 1021.3 98.2 1025.1C99.2 1028.8 100.9 1032.9 103.1 1036.3C105.2 1039.8 108.1 1042.8 111.1 1046C114 1049.2 117.5 1052.9 120.7 1055.6C124 1058.3 126.6 1060.2 130.4 1062.1C134.1 1063.9 139 1065.8 143.2 1066.9C147.5 1068 152.4 1068.5 156.1 1068.5C159.9 1068.5 163.2 1068 165.8 1066.9C168.3 1065.8 170.3 1064.2 171.4 1062.1C172.5 1059.9 171.8 1056.2 172.2 1054C172.6 1051.9 172.5 1050 173.8 1049.2C175.1 1048.4 177.8 1048.4 180.2 1049.2C182.6 1050 185.6 1052.4 188.3 1054C190.9 1055.6 193.6 1057.8 196.3 1058.8C199 1059.9 201.9 1061.3 204.3 1060.5C206.8 1059.6 209.2 1056.4 210.8 1054C212.4 1051.6 213 1048.4 214 1046C214.9 1043.6 216 1040.6 216.4 1039.5M70.1 942.3C72.1 944 78 949.1 82.2 952.7C86.3 956.4 91 960.5 95 964C99 967.5 103.1 971.5 106.3 973.6C109.5 975.8 111.9 976.6 114.3 976.8C116.7 977.1 119.7 975.5 120.7 975.2M289.5 1015.4C290.6 1016.8 294.4 1020.8 296 1023.5C297.6 1026.2 299.2 1028 299.2 1031.5C299.2 1035 297.3 1040.1 296 1044.4C294.6 1048.7 293 1052.9 291.2 1057.2C289.3 1061.5 287.4 1066.6 284.7 1070.1C282 1073.6 278.6 1076 275.1 1078.1C271.6 1080.3 267.3 1082.4 263.8 1083C260.3 1083.5 257.1 1083 254.2 1081.4C251.2 1079.7 248.3 1076.5 246.1 1073.3C244 1070.1 242.7 1065.5 241.3 1062.1C240 1058.6 238.8 1055.9 238.1 1052.4C237.4 1048.9 237 1044.6 237.3 1041.2C237.6 1037.7 239.3 1034.2 239.7 1031.5C240.1 1028.8 239.7 1026.2 239.7 1025.1"/><path class="Ct" d="M204.3 919C202.7 917.4 197.9 912 194.7 909.3C191.5 906.6 188.5 904.8 185 902.9C181.6 901 177 899.9 173.8 898.1C170.6 896.2 167.6 894.3 165.8 891.6C163.9 889 162.3 885.2 162.5 882C162.8 878.8 164.7 875.3 167.4 872.3C170 869.4 174.6 866.5 178.6 864.3C182.6 862.2 187.2 860.4 191.5 859.5C195.8 858.5 200.3 859.2 204.3 858.7C208.4 858.1 214 857.5 215.6 856.3C217.2 855.1 215.9 852.8 214 851.4C212.1 850.1 207.6 849.3 204.3 848.2C201.1 847.2 197.1 846.4 194.7 845C192.3 843.7 189.9 841.9 189.9 840.2C189.9 838.5 191.2 836.2 194.7 834.6C198.2 833 204.9 831.5 210.8 830.5C216.7 829.6 223.9 828.8 230.1 828.9C236.2 829.1 242.9 830 247.7 831.4C252.6 832.7 256.6 835.1 259 837C261.4 838.9 262.5 840.7 262.2 842.6C262 844.5 259.3 846.8 257.4 848.2C255.5 849.7 252 850.9 251 851.4M252.6 915.8C253.4 914.7 255 911.2 257.4 909.3C259.8 907.4 263.3 906 267 904.5C270.8 903 275.9 901.7 279.9 900.5C283.9 899.3 288.6 896.9 291.2 897.3C293.7 897.7 294.6 899.8 295.2 902.9C295.7 906 294.4 911.5 294.4 915.8C294.4 920 294.4 924.3 295.2 928.6C296 932.9 297.5 937.7 299.2 941.5C300.9 945.2 304 948.7 305.6 951.1C307.2 953.5 307 955.7 308.8 955.9C310.7 956.2 313.7 954.3 316.9 952.7C320.1 951.1 324.4 948.2 328.1 946.3C331.9 944.4 337.5 942.3 339.4 941.5M252.6 915.8C252.4 917.1 251.2 921.1 251.8 923.8C252.3 926.5 253.8 929.2 255.8 931.8C257.8 934.5 262 937.5 263.8 939.9C265.7 942.3 267 944.3 267 946.3C267 948.3 264.4 951 263.8 951.9M70.1 941.5C72.1 942.1 77.5 944.6 82.2 945.5C86.8 946.4 93.7 946.4 98.2 947.1C102.8 947.8 106.3 948 109.5 949.5C112.7 951 115.4 953.3 117.5 955.9C119.7 958.6 121.4 962.1 122.3 965.6C123.3 969.1 123.4 973.1 123.2 976.8C122.9 980.6 121.7 984.6 120.7 988.1C119.8 991.6 118.6 994.8 117.5 997.7C116.5 1000.7 115.6 1003.9 114.3 1005.8C113 1007.7 111.6 1008.3 109.5 1009C107.3 1009.7 103.5 1009 101.4 1009.8C99.4 1010.6 98 1011.3 97.4 1013.8C96.9 1016.4 97.3 1021.3 98.2 1025.1C99.2 1028.8 100.9 1032.9 103.1 1036.3C105.2 1039.8 108.1 1042.8 111.1 1046C114 1049.2 117.5 1052.9 120.7 1055.6C124 1058.3 126.6 1060.2 130.4 1062.1C134.1 1063.9 139 1065.8 143.2 1066.9C147.5 1068 152.4 1068.5 156.1 1068.5C159.9 1068.5 163.2 1068 165.8 1066.9C168.3 1065.8 170.3 1064.2 171.4 1062.1C172.5 1059.9 171.8 1056.2 172.2 1054C172.6 1051.9 172.5 1050 173.8 1049.2C175.1 1048.4 177.8 1048.4 180.2 1049.2C182.6 1050 185.6 1052.4 188.3 1054C190.9 1055.6 193.6 1057.8 196.3 1058.8C199 1059.9 201.9 1061.3 204.3 1060.5C206.8 1059.6 209.2 1056.4 210.8 1054C212.4 1051.6 213 1048.4 214 1046C214.9 1043.6 216 1040.6 216.4 1039.5M70.1 942.3C72.1 944 78 949.1 82.2 952.7C86.3 956.4 91 960.5 95 964C99 967.5 103.1 971.5 106.3 973.6C109.5 975.8 111.9 976.6 114.3 976.8C116.7 977.1 119.7 975.5 120.7 975.2M289.5 1015.4C290.6 1016.8 294.4 1020.8 296 1023.5C297.6 1026.2 299.2 1028 299.2 1031.5C299.2 1035 297.3 1040.1 296 1044.4C294.6 1048.7 293 1052.9 291.2 1057.2C289.3 1061.5 287.4 1066.6 284.7 1070.1C282 1073.6 278.6 1076 275.1 1078.1C271.6 1080.3 267.3 1082.4 263.8 1083C260.3 1083.5 257.1 1083 254.2 1081.4C251.2 1079.7 248.3 1076.5 246.1 1073.3C244 1070.1 242.7 1065.5 241.3 1062.1C240 1058.6 238.8 1055.9 238.1 1052.4C237.4 1048.9 237 1044.6 237.3 1041.2C237.6 1037.7 239.3 1034.2 239.7 1031.5C240.1 1028.8 239.7 1026.2 239.7 1025.1"/>
<path class="Gb" d="M193.1 927C190.7 925.4 183.7 919.6 178.6 917.4C173.5 915.1 167.4 915 162.5 913.3C157.7 911.7 152.6 909.9 149.7 907.7C146.7 905.6 144.3 903.2 144.9 900.5C145.4 897.8 149.4 894.5 152.9 891.6C156.4 888.8 160.9 885.7 165.8 883.6C170.6 881.5 177.3 879.8 181.8 878.8C186.4 877.7 190.1 878.5 193.1 877.2C196 875.8 199.2 872.9 199.5 870.7C199.8 868.6 197.4 866.1 194.7 864.3C192 862.6 186.9 861.8 183.4 860.3C180 858.8 176.2 857.5 173.8 855.5C171.4 853.5 169.2 851 169 848.2C168.7 845.4 169.5 841.3 172.2 838.6C174.9 835.9 179.7 833.9 185 832.2C190.4 830.4 197.9 828.7 204.3 828.1C210.8 827.6 218 828.1 223.6 828.9C229.3 829.7 233.9 831.5 238.1 833C242.3 834.4 248 836.4 248.6 837.8C249.1 839.1 243.2 839.9 241.3 841C239.4 842.1 237 842.7 237.3 844.2C237.6 845.7 240.6 848.1 242.9 849.8C245.2 851.6 248.8 852.8 251 854.7C253.1 856.5 255 860 255.8 861.1M259 928.6C258.5 928.3 257.7 928.3 255.8 927C253.9 925.7 250 923 247.7 920.6C245.5 918.2 243.3 915.5 242.1 912.5C240.9 909.6 240.4 905.8 240.5 902.9C240.6 899.9 240.1 897.1 242.9 894.9C245.7 892.6 252.3 891.4 257.4 889.2C262.5 887.1 268.6 883.8 273.5 882C278.3 880.2 282.6 878.3 286.3 878.3C290.1 878.3 293.7 879.8 296 882C298.3 884.2 299.5 887.9 300 891.6C300.5 895.4 299.5 899.9 299.2 904.5C298.9 909.1 298.1 914.7 298.4 919C298.7 923.3 299.3 926.7 300.8 930.2C302.3 933.7 304.8 937.5 307.2 939.9C309.6 942.3 312.1 944.4 315.3 944.7C318.5 945 323 942.8 326.5 941.5C330 940.1 334.6 937.5 336.2 936.7M63.7 968.8C65.4 969.5 69.7 971.5 74.1 972.8C78.5 974.2 84.8 975.9 90.2 976.8C95.6 977.8 101.7 977.7 106.3 978.5C110.8 979.3 114 979.5 117.5 981.7C121 983.8 124.8 987.8 127.2 991.3C129.6 994.8 130.9 998.6 132 1002.6C133.1 1006.6 133.5 1011.1 133.6 1015.4C133.7 1019.7 133.6 1024 132.8 1028.3C132 1032.6 130.3 1037.1 128.8 1041.2C127.3 1045.2 125 1049.2 124 1052.4C122.9 1055.6 122.1 1057.5 122.3 1060.5C122.6 1063.4 123.7 1066.6 125.6 1070.1C127.4 1073.6 130.1 1078.1 133.6 1081.4C137.1 1084.6 141.6 1087.2 146.5 1089.4C151.3 1091.5 157.2 1092.9 162.5 1094.2C167.9 1095.6 173.8 1096.8 178.6 1097.4C183.4 1098.1 188 1098.8 191.5 1098.2C195 1097.7 197.4 1096.2 199.5 1094.2C201.7 1092.2 203.8 1089.1 204.3 1086.2C204.9 1083.2 203.8 1080 202.7 1076.5C201.7 1073 198.4 1068.2 197.9 1065.3C197.4 1062.3 197.9 1060.2 199.5 1058.8C201.1 1057.5 204.6 1057.2 207.6 1057.2C210.5 1057.2 214.5 1059.1 217.2 1058.8C219.9 1058.6 222 1057.5 223.6 1055.6C225.2 1053.8 226.3 1050.5 226.8 1047.6C227.4 1044.6 227.1 1041.2 226.8 1037.9C226.6 1034.7 225.5 1029.9 225.2 1028.3M63.7 968.8C66.7 970.6 76.4 976.5 82.2 979.3C87.9 982 93.7 983.9 98.2 985.2C102.8 986.5 106.1 987.5 109.5 987C112.8 986.4 116.9 982.8 118.3 982M307.2 999.4C308.3 1001 312.6 1005.3 313.7 1009C314.7 1012.8 314.2 1017.3 313.7 1021.9C313.1 1026.4 311.8 1031.2 310.5 1036.3C309.1 1041.4 307.8 1047.9 305.6 1052.4C303.5 1057 300.8 1060.7 297.6 1063.7C294.4 1066.6 290.1 1069 286.3 1070.1C282.6 1071.2 278.3 1070.9 275.1 1070.1C271.9 1069.3 269.5 1067.7 267 1065.3C264.6 1062.9 262.2 1059.1 260.6 1055.6C259 1052.1 258.2 1048.4 257.4 1044.4C256.6 1040.4 256.6 1035.3 255.8 1031.5C255 1027.8 253.6 1024.3 252.6 1021.9C251.5 1019.5 249.9 1017.8 249.4 1017"/><path class="Gt" d="M193.1 927C190.7 925.4 183.7 919.6 178.6 917.4C173.5 915.1 167.4 915 162.5 913.3C157.7 911.7 152.6 909.9 149.7 907.7C146.7 905.6 144.3 903.2 144.9 900.5C145.4 897.8 149.4 894.5 152.9 891.6C156.4 888.8 160.9 885.7 165.8 883.6C170.6 881.5 177.3 879.8 181.8 878.8C186.4 877.7 190.1 878.5 193.1 877.2C196 875.8 199.2 872.9 199.5 870.7C199.8 868.6 197.4 866.1 194.7 864.3C192 862.6 186.9 861.8 183.4 860.3C180 858.8 176.2 857.5 173.8 855.5C171.4 853.5 169.2 851 169 848.2C168.7 845.4 169.5 841.3 172.2 838.6C174.9 835.9 179.7 833.9 185 832.2C190.4 830.4 197.9 828.7 204.3 828.1C210.8 827.6 218 828.1 223.6 828.9C229.3 829.7 233.9 831.5 238.1 833C242.3 834.4 248 836.4 248.6 837.8C249.1 839.1 243.2 839.9 241.3 841C239.4 842.1 237 842.7 237.3 844.2C237.6 845.7 240.6 848.1 242.9 849.8C245.2 851.6 248.8 852.8 251 854.7C253.1 856.5 255 860 255.8 861.1M259 928.6C258.5 928.3 257.7 928.3 255.8 927C253.9 925.7 250 923 247.7 920.6C245.5 918.2 243.3 915.5 242.1 912.5C240.9 909.6 240.4 905.8 240.5 902.9C240.6 899.9 240.1 897.1 242.9 894.9C245.7 892.6 252.3 891.4 257.4 889.2C262.5 887.1 268.6 883.8 273.5 882C278.3 880.2 282.6 878.3 286.3 878.3C290.1 878.3 293.7 879.8 296 882C298.3 884.2 299.5 887.9 300 891.6C300.5 895.4 299.5 899.9 299.2 904.5C298.9 909.1 298.1 914.7 298.4 919C298.7 923.3 299.3 926.7 300.8 930.2C302.3 933.7 304.8 937.5 307.2 939.9C309.6 942.3 312.1 944.4 315.3 944.7C318.5 945 323 942.8 326.5 941.5C330 940.1 334.6 937.5 336.2 936.7M63.7 968.8C65.4 969.5 69.7 971.5 74.1 972.8C78.5 974.2 84.8 975.9 90.2 976.8C95.6 977.8 101.7 977.7 106.3 978.5C110.8 979.3 114 979.5 117.5 981.7C121 983.8 124.8 987.8 127.2 991.3C129.6 994.8 130.9 998.6 132 1002.6C133.1 1006.6 133.5 1011.1 133.6 1015.4C133.7 1019.7 133.6 1024 132.8 1028.3C132 1032.6 130.3 1037.1 128.8 1041.2C127.3 1045.2 125 1049.2 124 1052.4C122.9 1055.6 122.1 1057.5 122.3 1060.5C122.6 1063.4 123.7 1066.6 125.6 1070.1C127.4 1073.6 130.1 1078.1 133.6 1081.4C137.1 1084.6 141.6 1087.2 146.5 1089.4C151.3 1091.5 157.2 1092.9 162.5 1094.2C167.9 1095.6 173.8 1096.8 178.6 1097.4C183.4 1098.1 188 1098.8 191.5 1098.2C195 1097.7 197.4 1096.2 199.5 1094.2C201.7 1092.2 203.8 1089.1 204.3 1086.2C204.9 1083.2 203.8 1080 202.7 1076.5C201.7 1073 198.4 1068.2 197.9 1065.3C197.4 1062.3 197.9 1060.2 199.5 1058.8C201.1 1057.5 204.6 1057.2 207.6 1057.2C210.5 1057.2 214.5 1059.1 217.2 1058.8C219.9 1058.6 222 1057.5 223.6 1055.6C225.2 1053.8 226.3 1050.5 226.8 1047.6C227.4 1044.6 227.1 1041.2 226.8 1037.9C226.6 1034.7 225.5 1029.9 225.2 1028.3M63.7 968.8C66.7 970.6 76.4 976.5 82.2 979.3C87.9 982 93.7 983.9 98.2 985.2C102.8 986.5 106.1 987.5 109.5 987C112.8 986.4 116.9 982.8 118.3 982M307.2 999.4C308.3 1001 312.6 1005.3 313.7 1009C314.7 1012.8 314.2 1017.3 313.7 1021.9C313.1 1026.4 311.8 1031.2 310.5 1036.3C309.1 1041.4 307.8 1047.9 305.6 1052.4C303.5 1057 300.8 1060.7 297.6 1063.7C294.4 1066.6 290.1 1069 286.3 1070.1C282.6 1071.2 278.3 1070.9 275.1 1070.1C271.9 1069.3 269.5 1067.7 267 1065.3C264.6 1062.9 262.2 1059.1 260.6 1055.6C259 1052.1 258.2 1048.4 257.4 1044.4C256.6 1040.4 256.6 1035.3 255.8 1031.5C255 1027.8 253.6 1024.3 252.6 1021.9C251.5 1019.5 249.9 1017.8 249.4 1017"/>
<path d="M226.8 960.8L230.1 956.8L251 971.2L275.1 991.3L291.2 1009L286.3 1021.9L267 998.6L242.9 974.4Z" class="F" fill="#48bccb" stroke="#48bccb"/>
<path d="M218.8 939.1L234.9 943.1L259 952.7L283.1 968.8L307.2 989.7L300.8 1005.8L294.4 1007.4L275.1 989.7L251 970.4L230.1 957.6L220.4 947.9Z" class="F" fill="#2fa95e" stroke="#2fa95e"/>
<path d="M242.9 954.3L262.2 960.8L281.5 973.6L294.4 984.9L287.9 991.3L271.9 978.5L252.6 965.6Z" class="F" fill="#6cc47f" stroke="#6cc47f"/>
<path d="M241.3 981.7L248.6 983.3L252.9 1016.2L240.5 1013.8ZM193.1 927L200.3 923L210.8 944.7L220.4 968.8L226.8 980.1L217.2 983.3L210.8 964L202.7 944.7Z" class="F" fill="#2fa95e" stroke="#2fa95e"/>
<path d="M203.5 919.8L212.4 915.8L217.2 938.3L220.4 957.6L215.6 960.8L210.8 944.7Z" class="F" fill="#1f94a4" stroke="#1f94a4"/>
<path d="M204.3 917.4L212.4 915.8L217.2 944.7L225.2 980.1L236.5 984.9L246.9 981.7L242.9 1001L238.1 1025.1L225.2 1009L212.4 995.3L218.8 991.3L212.4 964L206.8 938.3Z" class="F" fill="#48bccb" stroke="#48bccb"/>
<path d="M217.2 992.9L239.7 986.5L237.3 1017L226.8 1007.4Z" class="F" fill="#7fd0da" stroke="#7fd0da"/>
<circle cx="210.8" cy="907.4" r="7.2" fill="#4d4d4d"/>
<circle cx="212.6" cy="905.2" r="2" fill="#fff" opacity=".28"/>
<circle cx="259" cy="1051.6" r="7.6" fill="#222"/>
<circle cx="260.9" cy="1049.3" r="2.1" fill="#fff" opacity=".28"/>
<path d="M310 882.9L320.6 868.8L332.9 861.7L348.8 868.8L354.1 882.9L350.6 897L336.5 904L324.1 911.1L310 904Z" class="F" fill="#a3dbb0" stroke="#a3dbb0"/>
<path d="M320.6 861.7L331.2 851.1L354.1 845.8L370 858.2L371.7 875.8L354.1 884.6L332.9 882.9Z" class="F" fill="#a8e0e6" stroke="#a8e0e6"/>
<path d="M338.2 840.5L352.3 835.3L368.2 844.1L371.7 861.7L361.1 868.8L345.3 861.7Z" class="F" fill="#a3dbb0" stroke="#a3dbb0"/>
<path d="M362.9 882.9L371.7 879.3L377 900.5L368.2 907.6L359.4 897Z" class="F" fill="#a8e0e6" stroke="#a8e0e6"/>
<path d="M341.7 951.7L355.9 937.5L377 928.7L392.9 923.4L392.9 939.3L384.1 955.2L366.4 962.2L348.8 964Z" class="F" fill="#a3dbb0" stroke="#a3dbb0"/>
<path d="M332 967.5L345.3 956.9L366.4 958.7L382.3 956.9L380.5 972.8L362.9 985.2L345.3 988.7L336.5 981.6Z" class="F" fill="#a8e0e6" stroke="#a8e0e6"/>
<path d="M348.8 988.7L368.2 981.6L387.6 978.1L385.8 992.2L377 1001L359.4 995.7Z" class="F" fill="#a3dbb0" stroke="#a3dbb0"/>
<path d="M458.1 955.2L463.4 953.4L472.3 967.5L477.5 985.2L477.5 999.3L468.7 1008.1L461.7 995.7L459.9 974.6Z" class="F" fill="#a8e0e6" stroke="#a8e0e6"/>
<path d="M437 979.9L451.1 976.3L465.2 981.6L468.7 999.3L465.2 1013.4L447.6 1013.4L438.7 999.3Z" class="F" fill="#a3dbb0" stroke="#a3dbb0"/>
<path d="M437 1004.6L454.6 1002.8L465.2 1008.1L461.7 1016.9L440.5 1018.7Z" class="F" fill="#a8e0e6" stroke="#a8e0e6"/>
<path d="M419.3 1011.6L433.5 1016.9L451.1 1024L461.7 1027.5L447.6 1032.8L429.9 1036.3L415.8 1038.1L410.5 1031Z" class="F" fill="#6cc47f" stroke="#6cc47f"/>
<path class="cb" d="M332.9 842.3C335 841.7 341.2 840 345.3 838.8C349.4 837.6 354.1 835.4 357.6 835.3C361.1 835.1 364.1 836.4 366.4 837.9C368.8 839.4 370.6 841.6 371.7 844.1C372.9 846.6 373.8 849.7 373.5 852.9C373.2 856.1 372 860.5 370 863.5C367.9 866.4 364.4 868.8 361.1 870.5C357.9 872.3 353.2 872.3 350.6 874.1C347.9 875.8 346.4 877.9 345.3 881.1C344.1 884.3 343.5 889.3 343.5 893.5C343.5 897.6 344.5 901.7 345.3 905.8C346 909.9 347 914.9 347.9 918.1C348.8 921.4 350.1 924 350.6 925.2M329.4 804.4C330.9 804.8 335.6 807.8 338.2 807C340.9 806.3 342.9 802.9 345.3 800C347.6 797 350.6 791.9 352.3 789.4C354.1 786.9 355.3 785.7 355.9 785"/><path class="ct" d="M332.9 842.3C335 841.7 341.2 840 345.3 838.8C349.4 837.6 354.1 835.4 357.6 835.3C361.1 835.1 364.1 836.4 366.4 837.9C368.8 839.4 370.6 841.6 371.7 844.1C372.9 846.6 373.8 849.7 373.5 852.9C373.2 856.1 372 860.5 370 863.5C367.9 866.4 364.4 868.8 361.1 870.5C357.9 872.3 353.2 872.3 350.6 874.1C347.9 875.8 346.4 877.9 345.3 881.1C344.1 884.3 343.5 889.3 343.5 893.5C343.5 897.6 344.5 901.7 345.3 905.8C346 909.9 347 914.9 347.9 918.1C348.8 921.4 350.1 924 350.6 925.2M329.4 804.4C330.9 804.8 335.6 807.8 338.2 807C340.9 806.3 342.9 802.9 345.3 800C347.6 797 350.6 791.9 352.3 789.4C354.1 786.9 355.3 785.7 355.9 785"/>
<path class="gb" d="M385.8 1002.8C387.3 1001.3 391.7 995.7 394.7 994C397.6 992.2 400.8 991.6 403.5 992.2C406.1 992.8 408.5 995.5 410.5 997.5C412.6 999.6 414.9 1003.4 415.8 1004.6"/><path class="gt" d="M385.8 1002.8C387.3 1001.3 391.7 995.7 394.7 994C397.6 992.2 400.8 991.6 403.5 992.2C406.1 992.8 408.5 995.5 410.5 997.5C412.6 999.6 414.9 1003.4 415.8 1004.6"/>
<path class="cb" d="M528.7 956.9C530.2 956.1 534 952.8 537.5 951.7C541 950.5 545.4 949.9 549.9 949.9C554.3 949.9 560.4 952.2 564 951.7C567.5 951.1 569 948.7 571 946.4C573.1 944 575.1 940.5 576.3 937.5C577.5 934.6 577.8 930.2 578.1 928.7"/><path class="ct" d="M528.7 956.9C530.2 956.1 534 952.8 537.5 951.7C541 950.5 545.4 949.9 549.9 949.9C554.3 949.9 560.4 952.2 564 951.7C567.5 951.1 569 948.7 571 946.4C573.1 944 575.1 940.5 576.3 937.5C577.5 934.6 577.8 930.2 578.1 928.7"/>
<path class="Cb" d="M355.9 785C357.6 785.7 363.5 786.9 366.4 789.4C369.4 791.9 371.7 795.9 373.5 800C375.3 804.1 376.3 809.1 377 814.1C377.8 819.1 377.6 825 377.9 830C378.2 835 378.9 839.4 378.8 844.1C378.6 848.8 377.5 854.1 377 858.2C376.6 862.3 375.5 865.2 376.1 868.8C376.7 872.3 378 876.7 380.5 879.3C383 882 387 883.8 391.1 884.6C395.2 885.5 400.5 884.5 405.2 884.6C409.9 884.8 415.2 884.6 419.3 885.5C423.5 886.4 428.2 889.2 429.9 889.9M347.9 825.6C346.3 826.6 341.6 829.2 338.2 831.7C334.8 834.2 330.7 837.3 327.6 840.5C324.6 843.8 321.5 847.3 319.7 851.1C317.9 855 316.9 859.1 317.1 863.5C317.2 867.9 318.8 873.2 320.6 877.6C322.3 882 325.7 886.1 327.6 889.9C329.5 893.8 331.3 896.7 332 900.5C332.8 904.3 331.9 908.7 332 912.9C332.2 917 332.2 921.1 332.9 925.2C333.7 929.3 334.7 933.7 336.5 937.5C338.2 941.4 340.6 945.2 343.5 948.1C346.4 951.1 350.3 953.6 354.1 955.2C357.9 956.8 362.9 958.1 366.4 957.8C370 957.5 372.6 955.6 375.3 953.4C377.9 951.2 380.5 948.1 382.3 944.6C384.1 941.1 384.7 935.8 385.8 932.3C387 928.7 387.6 925.8 389.4 923.4C391.1 921.1 393.8 919.2 396.4 918.1C399.1 917.1 402.3 916.8 405.2 917.3C408.2 917.7 411.1 918.9 414.1 920.8C417 922.7 420.2 925.9 422.9 928.7C425.5 931.5 428.2 935.5 429.9 937.5C431.7 939.6 432.9 940.5 433.5 941.1M481.1 930.5C483.1 930.3 489.6 929.6 493.4 929.6C497.2 929.6 500.8 929.5 504 930.5C507.2 931.5 510.5 933.1 512.8 935.8C515.2 938.4 516.9 942.8 518.1 946.4C519.3 949.9 519 954 519.9 956.9C520.8 959.9 521.3 961.9 523.4 964C525.5 966.1 529 968.1 532.2 969.3C535.5 970.5 539.3 971.1 542.8 971.1C546.3 971.1 550.2 970.5 553.4 969.3C556.6 968.1 559.6 966.6 562.2 964C564.9 961.4 567.2 956.9 569.3 953.4C571.3 949.9 573.2 946.8 574.6 942.8C575.9 938.9 576.8 931.8 577.2 929.6M560.4 921.7C560.6 923.4 560.6 928.9 561.3 932.3C562.1 935.6 563.7 939.3 564.9 942C566 944.6 567.8 947.1 568.4 948.1"/><path class="Ct" d="M355.9 785C357.6 785.7 363.5 786.9 366.4 789.4C369.4 791.9 371.7 795.9 373.5 800C375.3 804.1 376.3 809.1 377 814.1C377.8 819.1 377.6 825 377.9 830C378.2 835 378.9 839.4 378.8 844.1C378.6 848.8 377.5 854.1 377 858.2C376.6 862.3 375.5 865.2 376.1 868.8C376.7 872.3 378 876.7 380.5 879.3C383 882 387 883.8 391.1 884.6C395.2 885.5 400.5 884.5 405.2 884.6C409.9 884.8 415.2 884.6 419.3 885.5C423.5 886.4 428.2 889.2 429.9 889.9M347.9 825.6C346.3 826.6 341.6 829.2 338.2 831.7C334.8 834.2 330.7 837.3 327.6 840.5C324.6 843.8 321.5 847.3 319.7 851.1C317.9 855 316.9 859.1 317.1 863.5C317.2 867.9 318.8 873.2 320.6 877.6C322.3 882 325.7 886.1 327.6 889.9C329.5 893.8 331.3 896.7 332 900.5C332.8 904.3 331.9 908.7 332 912.9C332.2 917 332.2 921.1 332.9 925.2C333.7 929.3 334.7 933.7 336.5 937.5C338.2 941.4 340.6 945.2 343.5 948.1C346.4 951.1 350.3 953.6 354.1 955.2C357.9 956.8 362.9 958.1 366.4 957.8C370 957.5 372.6 955.6 375.3 953.4C377.9 951.2 380.5 948.1 382.3 944.6C384.1 941.1 384.7 935.8 385.8 932.3C387 928.7 387.6 925.8 389.4 923.4C391.1 921.1 393.8 919.2 396.4 918.1C399.1 917.1 402.3 916.8 405.2 917.3C408.2 917.7 411.1 918.9 414.1 920.8C417 922.7 420.2 925.9 422.9 928.7C425.5 931.5 428.2 935.5 429.9 937.5C431.7 939.6 432.9 940.5 433.5 941.1M481.1 930.5C483.1 930.3 489.6 929.6 493.4 929.6C497.2 929.6 500.8 929.5 504 930.5C507.2 931.5 510.5 933.1 512.8 935.8C515.2 938.4 516.9 942.8 518.1 946.4C519.3 949.9 519 954 519.9 956.9C520.8 959.9 521.3 961.9 523.4 964C525.5 966.1 529 968.1 532.2 969.3C535.5 970.5 539.3 971.1 542.8 971.1C546.3 971.1 550.2 970.5 553.4 969.3C556.6 968.1 559.6 966.6 562.2 964C564.9 961.4 567.2 956.9 569.3 953.4C571.3 949.9 573.2 946.8 574.6 942.8C575.9 938.9 576.8 931.8 577.2 929.6M560.4 921.7C560.6 923.4 560.6 928.9 561.3 932.3C562.1 935.6 563.7 939.3 564.9 942C566 944.6 567.8 947.1 568.4 948.1"/>
<path class="Gb" d="M347.9 783.2C346 784 339.4 784.8 336.5 787.6C333.5 790.4 331.3 795.6 330.3 800C329.3 804.4 329.5 809.4 330.3 814.1C331 818.8 333.1 823.5 334.7 828.2C336.3 832.9 338.2 837.9 340 842.3C341.7 846.7 343.2 850.2 345.3 854.7C347.3 859.1 350 864.1 352.3 868.8C354.7 873.5 357 878.5 359.4 882.9C361.7 887.3 364.1 891.7 366.4 895.2C368.8 898.7 371.1 902.1 373.5 904C375.8 905.9 378.5 907 380.5 906.7C382.6 906.4 384.4 904.5 385.8 902.3C387.3 900.1 387.9 896.1 389.4 893.5C390.8 890.8 392.3 888.2 394.7 886.4C397 884.6 400.2 883.2 403.5 882.9C406.7 882.6 410.8 883.2 414.1 884.6C417.3 886.1 420.2 888.8 422.9 891.7C425.5 894.6 428.2 899 429.9 902.3C431.7 905.5 432.6 908.7 433.5 911.1C434.3 913.4 434.9 915.5 435.2 916.4M354.1 784.1C354.7 785 357.9 787 357.6 789.4C357.3 791.8 354.1 795.3 352.3 798.2C350.6 801.2 348.2 804.4 347 807C345.9 809.7 344.7 811.7 345.3 814.1C345.9 816.4 347.9 820 350.6 821.1C353.2 822.3 357.3 821.4 361.1 821.1C365 820.9 370 818.8 373.5 819.4C377 820 380.1 822 382.3 824.7C384.5 827.3 386 831.4 386.7 835.3C387.5 839.1 386.6 843.5 386.7 847.6C386.9 851.7 386.3 856.7 387.6 859.9C388.9 863.2 391.7 865.2 394.7 867C397.6 868.8 401.1 869.6 405.2 870.5C409.4 871.4 415.2 871.4 419.3 872.3C423.5 873.2 427 874.4 429.9 875.8C432.9 877.3 435.8 880.2 437 881.1M310 944.6C311.8 944 316.8 942.8 320.6 941.1C324.4 939.3 329.7 936.4 332.9 934C336.2 931.7 338.8 928.1 340 927M371.7 1008.1C373.2 1006.6 377.6 1001.3 380.5 999.3C383.5 997.2 386.4 995.7 389.4 995.7C392.3 995.7 395.8 996.9 398.2 999.3C400.5 1001.6 401.7 1006.6 403.5 1009.9C405.2 1013.1 406.7 1016.3 408.8 1018.7C410.8 1021 414.6 1023.1 415.8 1024M475.8 935.8C477.5 937.3 482.8 942 486.4 944.6C489.9 947.2 493.4 949.3 496.9 951.7C500.5 954 504 956.4 507.5 958.7C511.1 961.1 514.6 963.4 518.1 965.8C521.6 968.1 525.2 970.8 528.7 972.8C532.2 974.9 535.2 976.5 539.3 978.1C543.4 979.7 548.7 980.8 553.4 982.5C558.1 984.3 562.8 986.8 567.5 988.7C572.2 990.6 577.8 992.5 581.6 994C585.4 995.5 588.7 995.7 590.4 997.5C592.2 999.3 592.5 1001.6 592.2 1004.6C591.9 1007.5 590.4 1011.9 588.7 1015.1C586.9 1018.4 584.5 1021 581.6 1024C578.7 1026.9 574.6 1030.1 571 1032.8C567.5 1035.4 563.2 1037.8 560.4 1039.8C557.6 1041.9 555.4 1043.4 554.3 1045.1C553.1 1046.9 554.7 1049.8 553.4 1050.4C552.1 1051 549.9 1049.5 546.3 1048.7C542.8 1047.8 536.9 1046.6 532.2 1045.1C527.5 1043.7 522.5 1041 518.1 1039.8C513.7 1038.7 509.6 1037.8 505.8 1038.1C501.9 1038.4 497.5 1040.1 495.2 1041.6C492.8 1043.1 492 1044.5 491.7 1046.9C491.4 1049.2 492.8 1052.5 493.4 1055.7C494 1058.9 495.5 1062.2 495.2 1066.3C494.9 1070.4 493.4 1076.3 491.7 1080.4C489.9 1084.5 487.2 1088.3 484.6 1091C482 1093.6 479 1095.1 475.8 1096.3C472.6 1097.5 468.7 1098 465.2 1098C461.7 1098 457.6 1097.5 454.6 1096.3C451.7 1095.1 449.6 1093.3 447.6 1091C445.5 1088.6 443.7 1085.7 442.3 1082.2C440.8 1078.6 440.2 1073.4 438.7 1069.8C437.3 1066.3 435.8 1063.4 433.5 1061C431.1 1058.7 427.9 1056.9 424.6 1055.7C421.4 1054.5 417.9 1053.7 414.1 1054C410.2 1054.2 406.4 1055.7 401.7 1057.5C397 1059.2 388.5 1063.4 385.8 1064.5"/><path class="Gt" d="M347.9 783.2C346 784 339.4 784.8 336.5 787.6C333.5 790.4 331.3 795.6 330.3 800C329.3 804.4 329.5 809.4 330.3 814.1C331 818.8 333.1 823.5 334.7 828.2C336.3 832.9 338.2 837.9 340 842.3C341.7 846.7 343.2 850.2 345.3 854.7C347.3 859.1 350 864.1 352.3 868.8C354.7 873.5 357 878.5 359.4 882.9C361.7 887.3 364.1 891.7 366.4 895.2C368.8 898.7 371.1 902.1 373.5 904C375.8 905.9 378.5 907 380.5 906.7C382.6 906.4 384.4 904.5 385.8 902.3C387.3 900.1 387.9 896.1 389.4 893.5C390.8 890.8 392.3 888.2 394.7 886.4C397 884.6 400.2 883.2 403.5 882.9C406.7 882.6 410.8 883.2 414.1 884.6C417.3 886.1 420.2 888.8 422.9 891.7C425.5 894.6 428.2 899 429.9 902.3C431.7 905.5 432.6 908.7 433.5 911.1C434.3 913.4 434.9 915.5 435.2 916.4M354.1 784.1C354.7 785 357.9 787 357.6 789.4C357.3 791.8 354.1 795.3 352.3 798.2C350.6 801.2 348.2 804.4 347 807C345.9 809.7 344.7 811.7 345.3 814.1C345.9 816.4 347.9 820 350.6 821.1C353.2 822.3 357.3 821.4 361.1 821.1C365 820.9 370 818.8 373.5 819.4C377 820 380.1 822 382.3 824.7C384.5 827.3 386 831.4 386.7 835.3C387.5 839.1 386.6 843.5 386.7 847.6C386.9 851.7 386.3 856.7 387.6 859.9C388.9 863.2 391.7 865.2 394.7 867C397.6 868.8 401.1 869.6 405.2 870.5C409.4 871.4 415.2 871.4 419.3 872.3C423.5 873.2 427 874.4 429.9 875.8C432.9 877.3 435.8 880.2 437 881.1M310 944.6C311.8 944 316.8 942.8 320.6 941.1C324.4 939.3 329.7 936.4 332.9 934C336.2 931.7 338.8 928.1 340 927M371.7 1008.1C373.2 1006.6 377.6 1001.3 380.5 999.3C383.5 997.2 386.4 995.7 389.4 995.7C392.3 995.7 395.8 996.9 398.2 999.3C400.5 1001.6 401.7 1006.6 403.5 1009.9C405.2 1013.1 406.7 1016.3 408.8 1018.7C410.8 1021 414.6 1023.1 415.8 1024M475.8 935.8C477.5 937.3 482.8 942 486.4 944.6C489.9 947.2 493.4 949.3 496.9 951.7C500.5 954 504 956.4 507.5 958.7C511.1 961.1 514.6 963.4 518.1 965.8C521.6 968.1 525.2 970.8 528.7 972.8C532.2 974.9 535.2 976.5 539.3 978.1C543.4 979.7 548.7 980.8 553.4 982.5C558.1 984.3 562.8 986.8 567.5 988.7C572.2 990.6 577.8 992.5 581.6 994C585.4 995.5 588.7 995.7 590.4 997.5C592.2 999.3 592.5 1001.6 592.2 1004.6C591.9 1007.5 590.4 1011.9 588.7 1015.1C586.9 1018.4 584.5 1021 581.6 1024C578.7 1026.9 574.6 1030.1 571 1032.8C567.5 1035.4 563.2 1037.8 560.4 1039.8C557.6 1041.9 555.4 1043.4 554.3 1045.1C553.1 1046.9 554.7 1049.8 553.4 1050.4C552.1 1051 549.9 1049.5 546.3 1048.7C542.8 1047.8 536.9 1046.6 532.2 1045.1C527.5 1043.7 522.5 1041 518.1 1039.8C513.7 1038.7 509.6 1037.8 505.8 1038.1C501.9 1038.4 497.5 1040.1 495.2 1041.6C492.8 1043.1 492 1044.5 491.7 1046.9C491.4 1049.2 492.8 1052.5 493.4 1055.7C494 1058.9 495.5 1062.2 495.2 1066.3C494.9 1070.4 493.4 1076.3 491.7 1080.4C489.9 1084.5 487.2 1088.3 484.6 1091C482 1093.6 479 1095.1 475.8 1096.3C472.6 1097.5 468.7 1098 465.2 1098C461.7 1098 457.6 1097.5 454.6 1096.3C451.7 1095.1 449.6 1093.3 447.6 1091C445.5 1088.6 443.7 1085.7 442.3 1082.2C440.8 1078.6 440.2 1073.4 438.7 1069.8C437.3 1066.3 435.8 1063.4 433.5 1061C431.1 1058.7 427.9 1056.9 424.6 1055.7C421.4 1054.5 417.9 1053.7 414.1 1054C410.2 1054.2 406.4 1055.7 401.7 1057.5C397 1059.2 388.5 1063.4 385.8 1064.5"/>
<path class="Db" d="M498.7 941.1C497.5 941.5 493.4 942 491.7 943.7C489.9 945.5 489 948.3 488.1 951.7C487.2 955 487.2 959.6 486.4 964C485.5 968.4 484.6 974 482.8 978.1C481.1 982.2 478.7 986.3 475.8 988.7C472.8 991 467 991.6 465.2 992.2"/><path class="Dt" d="M498.7 941.1C497.5 941.5 493.4 942 491.7 943.7C489.9 945.5 489 948.3 488.1 951.7C487.2 955 487.2 959.6 486.4 964C485.5 968.4 484.6 974 482.8 978.1C481.1 982.2 478.7 986.3 475.8 988.7C472.8 991 467 991.6 465.2 992.2"/>
<path class="Cb" d="M465.2 992.2C462.9 992.4 455.8 992.7 451.1 993.1C446.4 993.5 441.7 994.1 437 994.9C432.3 995.6 427 996.2 422.9 997.5C418.8 998.8 415.2 1000.5 412.3 1002.8C409.4 1005.2 406.9 1008.4 405.2 1011.6C403.6 1014.9 402.7 1018.7 402.6 1022.2C402.4 1025.7 403 1029.6 404.4 1032.8C405.7 1036 407.7 1039 410.5 1041.6C413.3 1044.3 417.3 1046.9 421.1 1048.7C424.9 1050.4 429 1051 433.5 1052.2C437.9 1053.4 445.2 1055.1 447.6 1055.7"/><path class="Ct" d="M465.2 992.2C462.9 992.4 455.8 992.7 451.1 993.1C446.4 993.5 441.7 994.1 437 994.9C432.3 995.6 427 996.2 422.9 997.5C418.8 998.8 415.2 1000.5 412.3 1002.8C409.4 1005.2 406.9 1008.4 405.2 1011.6C403.6 1014.9 402.7 1018.7 402.6 1022.2C402.4 1025.7 403 1029.6 404.4 1032.8C405.7 1036 407.7 1039 410.5 1041.6C413.3 1044.3 417.3 1046.9 421.1 1048.7C424.9 1050.4 429 1051 433.5 1052.2C437.9 1053.4 445.2 1055.1 447.6 1055.7"/>
<path class="Db" d="M447.6 1055.7C449.3 1056.2 455.5 1058.4 458.1 1058.4C460.8 1058.4 461.7 1057 463.4 1055.7C465.2 1054.4 467.8 1051.3 468.7 1050.4"/><path class="Dt" d="M447.6 1055.7C449.3 1056.2 455.5 1058.4 458.1 1058.4C460.8 1058.4 461.7 1057 463.4 1055.7C465.2 1054.4 467.8 1051.3 468.7 1050.4"/>
<path class="Cb" d="M468.7 1050.4C470.5 1049.8 475.5 1048.1 479.3 1046.9C483.1 1045.7 487.8 1044.8 491.7 1043.4C495.5 1041.9 499 1040.1 502.2 1038.1C505.5 1036 508.4 1034 511.1 1031C513.7 1028.1 516.1 1024.3 518.1 1020.4C520.2 1016.6 521.9 1012.2 523.4 1008.1C524.9 1004 526 999.9 526.9 995.7C527.8 991.6 528.3 987.2 528.7 983.4C529.1 979.6 529.6 976.1 529.6 972.8C529.6 969.6 528.8 965.5 528.7 964"/><path class="Ct" d="M468.7 1050.4C470.5 1049.8 475.5 1048.1 479.3 1046.9C483.1 1045.7 487.8 1044.8 491.7 1043.4C495.5 1041.9 499 1040.1 502.2 1038.1C505.5 1036 508.4 1034 511.1 1031C513.7 1028.1 516.1 1024.3 518.1 1020.4C520.2 1016.6 521.9 1012.2 523.4 1008.1C524.9 1004 526 999.9 526.9 995.7C527.8 991.6 528.3 987.2 528.7 983.4C529.1 979.6 529.6 976.1 529.6 972.8C529.6 969.6 528.8 965.5 528.7 964"/>
<path d="M431.7 879.3L444 882.9L461.7 897L454.6 900.5L440.5 893.5Z" class="F" fill="#2fa95e" stroke="#2fa95e"/>
<path d="M424.6 888.2L433.5 884.6L447.6 891.7L461.7 900.5L479.3 916.4L474 923.4L459.9 919.9L449.3 916.4L437 904L428.2 897Z" class="F" fill="#48bccb" stroke="#48bccb"/>
<path d="M456.4 919.9L477.5 919.9L482.8 928.7L470.5 941.1L463.4 937.5L451.1 925.2Z" class="F" fill="#6cc47f" stroke="#6cc47f"/>
<path d="M425.5 939.3L433.5 937.5L440.5 953.4L444 964L433.5 960.5L424.6 948.1Z" class="F" fill="#48bccb" stroke="#48bccb"/>
<path d="M424.6 948.1L433.5 960.5L444 964L449.3 971.1L437 967.5Z" class="F" fill="#1f94a4" stroke="#1f94a4"/>
<path d="M429.9 919.9L440.5 909.3L449.3 923.4L452.9 939.3L458.1 941.1L459.9 955.2L458.1 969.3L454.6 984.3L445.8 967.5L437 955.2L442.3 951.7L433.5 937.5L429.9 928.7Z" class="F" fill="#2fa95e" stroke="#2fa95e"/>
<circle cx="338.2" cy="908.4" r="7.9" fill="#111"/>
<circle cx="340.2" cy="906.1" r="2.2" fill="#fff" opacity=".28"/>
<circle cx="464" cy="1018.7" r="7.9" fill="#111"/>
<circle cx="465.9" cy="1016.3" r="2.2" fill="#fff" opacity=".28"/>
<text x="3.9" y="752.7" font-weight="700" font-size="32">b</text>
<text x="35.6" y="776.6" font-style="italic" font-size="28">Zea mays</text>
<path class="gb" d="M1317.4 879.3C1315.4 879.1 1309.7 878.7 1305.4 878.4C1301.1 878.1 1295.7 877.1 1291.7 877.6C1287.7 878 1284.3 879.3 1281.4 881C1278.6 882.7 1276.3 884.7 1274.6 887.8C1272.9 891 1271.7 895.8 1271.1 899.8C1270.6 903.8 1270.3 908.1 1271.1 911.8C1272 915.5 1273.7 919.2 1276.3 922.1C1278.8 924.9 1282.8 927.3 1286.5 928.9C1290.3 930.5 1294.8 931.2 1298.5 931.5C1302.2 931.7 1307.1 930.8 1308.8 930.6"/><path class="gt" d="M1317.4 879.3C1315.4 879.1 1309.7 878.7 1305.4 878.4C1301.1 878.1 1295.7 877.1 1291.7 877.6C1287.7 878 1284.3 879.3 1281.4 881C1278.6 882.7 1276.3 884.7 1274.6 887.8C1272.9 891 1271.7 895.8 1271.1 899.8C1270.6 903.8 1270.3 908.1 1271.1 911.8C1272 915.5 1273.7 919.2 1276.3 922.1C1278.8 924.9 1282.8 927.3 1286.5 928.9C1290.3 930.5 1294.8 931.2 1298.5 931.5C1302.2 931.7 1307.1 930.8 1308.8 930.6"/>
<path class="cb" d="M1318.2 841.6C1318.6 843.3 1319.5 848.5 1320.8 851.9C1322.1 855.3 1324.8 858.7 1325.9 862.1C1327.1 865.6 1328.2 869.3 1327.6 872.4C1327.1 875.6 1325.1 879 1322.5 881C1319.9 883 1316.2 883.8 1312.2 884.4C1308.2 885 1302.5 883.8 1298.5 884.4C1294.5 885 1291.1 885.8 1288.3 887.8C1285.4 889.8 1283.1 893 1281.4 896.4C1279.7 899.8 1278.3 904.4 1278 908.4C1277.7 912.4 1278.3 916.6 1279.7 920.3C1281.1 924 1283.7 928 1286.5 930.6C1289.4 933.2 1293.1 934.7 1296.8 935.7C1300.5 936.7 1305.9 937.2 1308.8 936.6C1311.6 936 1313.1 933 1313.9 932.3"/><path class="ct" d="M1318.2 841.6C1318.6 843.3 1319.5 848.5 1320.8 851.9C1322.1 855.3 1324.8 858.7 1325.9 862.1C1327.1 865.6 1328.2 869.3 1327.6 872.4C1327.1 875.6 1325.1 879 1322.5 881C1319.9 883 1316.2 883.8 1312.2 884.4C1308.2 885 1302.5 883.8 1298.5 884.4C1294.5 885 1291.1 885.8 1288.3 887.8C1285.4 889.8 1283.1 893 1281.4 896.4C1279.7 899.8 1278.3 904.4 1278 908.4C1277.7 912.4 1278.3 916.6 1279.7 920.3C1281.1 924 1283.7 928 1286.5 930.6C1289.4 933.2 1293.1 934.7 1296.8 935.7C1300.5 936.7 1305.9 937.2 1308.8 936.6C1311.6 936 1313.1 933 1313.9 932.3"/>
<path class="gb" d="M1226.6 899.8C1226.1 902.1 1224.9 909.2 1223.2 913.5C1221.5 917.8 1218.7 921.5 1216.4 925.5C1214.1 929.5 1211.8 933.7 1209.5 937.5C1207.3 941.2 1205.5 944.9 1202.7 947.7C1199.8 950.6 1196.4 952.7 1192.4 954.6C1188.4 956.4 1183 958 1178.7 958.8C1174.4 959.7 1170.2 960.4 1166.7 959.7C1163.3 959 1160.3 957.1 1158.2 954.6C1156 952 1154.5 947.7 1153.9 944.3C1153.3 940.9 1154.6 935.7 1154.8 934"/><path class="gt" d="M1226.6 899.8C1226.1 902.1 1224.9 909.2 1223.2 913.5C1221.5 917.8 1218.7 921.5 1216.4 925.5C1214.1 929.5 1211.8 933.7 1209.5 937.5C1207.3 941.2 1205.5 944.9 1202.7 947.7C1199.8 950.6 1196.4 952.7 1192.4 954.6C1188.4 956.4 1183 958 1178.7 958.8C1174.4 959.7 1170.2 960.4 1166.7 959.7C1163.3 959 1160.3 957.1 1158.2 954.6C1156 952 1154.5 947.7 1153.9 944.3C1153.3 940.9 1154.6 935.7 1154.8 934"/>
<path class="cb" d="M1228.4 910.1C1227.8 912.6 1226.6 920.9 1224.9 925.5C1223.2 930 1220.4 933.2 1218.1 937.5C1215.8 941.7 1213.8 946.9 1211.2 951.1C1208.7 955.4 1206.1 959.7 1202.7 963.1C1199.3 966.5 1195 969.7 1190.7 971.7C1186.4 973.7 1181 974.8 1177 975.1C1173 975.4 1169.6 974.8 1166.7 973.4C1163.9 972 1161.5 969.4 1159.9 966.5C1158.3 963.7 1157.8 958 1157.3 956.3"/><path class="ct" d="M1228.4 910.1C1227.8 912.6 1226.6 920.9 1224.9 925.5C1223.2 930 1220.4 933.2 1218.1 937.5C1215.8 941.7 1213.8 946.9 1211.2 951.1C1208.7 955.4 1206.1 959.7 1202.7 963.1C1199.3 966.5 1195 969.7 1190.7 971.7C1186.4 973.7 1181 974.8 1177 975.1C1173 975.4 1169.6 974.8 1166.7 973.4C1163.9 972 1161.5 969.4 1159.9 966.5C1158.3 963.7 1157.8 958 1157.3 956.3"/>
<path class="gb" d="M1250.6 1019.6C1252.6 1020.2 1258.6 1021.6 1262.6 1023C1266.6 1024.5 1270.9 1025.9 1274.6 1028.2C1278.3 1030.4 1282.6 1033.6 1284.8 1036.7C1287.1 1039.9 1288.3 1043.8 1288.3 1047C1288.3 1050.1 1286.5 1053.3 1284.8 1055.5C1283.1 1057.8 1279.1 1059.8 1278 1060.7M1230.1 1028.2C1229.8 1027 1227.5 1023.3 1228.4 1021.3C1229.2 1019.3 1232.6 1017.3 1235.2 1016.2C1237.8 1015 1241.8 1013.9 1243.8 1014.5C1245.8 1015 1247.5 1017.6 1247.2 1019.6C1246.9 1021.6 1242.9 1025.3 1242.1 1026.4"/><path class="gt" d="M1250.6 1019.6C1252.6 1020.2 1258.6 1021.6 1262.6 1023C1266.6 1024.5 1270.9 1025.9 1274.6 1028.2C1278.3 1030.4 1282.6 1033.6 1284.8 1036.7C1287.1 1039.9 1288.3 1043.8 1288.3 1047C1288.3 1050.1 1286.5 1053.3 1284.8 1055.5C1283.1 1057.8 1279.1 1059.8 1278 1060.7M1230.1 1028.2C1229.8 1027 1227.5 1023.3 1228.4 1021.3C1229.2 1019.3 1232.6 1017.3 1235.2 1016.2C1237.8 1015 1241.8 1013.9 1243.8 1014.5C1245.8 1015 1247.5 1017.6 1247.2 1019.6C1246.9 1021.6 1242.9 1025.3 1242.1 1026.4"/>
<path d="M1219.8 1036.7L1233.5 1031.6L1248.9 1026.4L1260.9 1033.3L1264.3 1047L1262.6 1053.8L1245.5 1048.7L1230.1 1043.6ZM1223.2 1070.9L1242.1 1067.5L1257.5 1060.7L1267.7 1053.8L1274.6 1060.7L1278 1074.4L1267.7 1086.3L1250.6 1091.5L1221.5 1093.2Z" class="F" fill="#a8e0e6" stroke="#a8e0e6"/>
<path d="M1209.5 881C1207.8 879.1 1203 871.7 1199.3 869.9C1195.6 868 1190.3 868 1187.3 869.9C1184.3 871.7 1181.7 876.6 1181.3 881C1180.9 885.4 1182.6 892 1184.7 896.4C1186.9 900.8 1190.8 904.9 1194.1 907.5C1197.4 910.1 1202.7 911.1 1204.4 911.8" class="H" stroke="#2fa95e" stroke-width="10"/>
<path d="M1187.3 884.4C1188.1 885.8 1190.1 890.7 1192.4 893C1194.7 895.2 1198.4 897.5 1201 898.1C1203.5 898.7 1206.7 896.7 1207.8 896.4" class="H" stroke="#48bccb" stroke-width="7"/>
<path d="M1211.2 881C1213 881.8 1218.7 883 1221.5 886.1C1224.4 889.2 1227.2 897.5 1228.4 899.8" class="H" stroke="#a3dbb0" stroke-width="6"/>
<path class="Cb" d="M1284.8 829.6C1284.3 828.8 1283.7 826.2 1281.4 824.5C1279.1 822.8 1274.3 821.1 1271.1 819.4C1268 817.7 1264.3 816.2 1262.6 814.2C1260.9 812.2 1260 809.5 1260.9 807.4C1261.7 805.2 1264.3 802.7 1267.7 801.4C1271.1 800.1 1276.6 799.7 1281.4 799.7C1286.3 799.7 1292 800.4 1296.8 801.4C1301.7 802.4 1306.2 804.1 1310.5 805.7C1314.8 807.2 1319.1 809 1322.5 810.8C1325.9 812.7 1329 814.8 1331 816.8C1333 818.8 1334.5 821.1 1334.5 822.8C1334.5 824.5 1333 825.9 1331 827.1C1329 828.2 1324.8 828.3 1322.5 829.6C1320.2 830.9 1318.1 832.8 1317.4 834.8C1316.6 836.8 1318.1 840.5 1318.2 841.6M1230.1 863.9C1231.8 865 1236.9 868.4 1240.3 870.7C1243.8 873 1247.5 875 1250.6 877.6C1253.7 880.1 1257.7 884.7 1259.2 886.1M1118 884.4C1119.3 887 1122.7 894.7 1125.7 899.8C1128.7 904.9 1132.5 911.2 1135.9 915.2C1139.4 919.2 1142.8 922.1 1146.2 923.8C1149.6 925.5 1153.6 925.8 1156.5 925.5C1159.3 925.2 1162.2 922.6 1163.3 922.1M1118 884.4C1120.7 885.8 1129 890.7 1134.2 893C1139.5 895.2 1145.4 896.1 1149.6 898.1C1153.9 900.1 1157.3 902.1 1159.9 904.9C1162.5 907.8 1164 911.5 1165 915.2C1166 918.9 1166.2 923.2 1165.9 927.2C1165.6 931.2 1164.6 935.2 1163.3 939.2C1162 943.2 1160.2 947.7 1158.2 951.1C1156.2 954.6 1153.6 957.6 1151.3 959.7C1149.1 961.8 1147.1 963.4 1144.5 964C1141.9 964.6 1137.9 962.4 1135.9 963.1C1133.9 963.8 1133.2 965.7 1132.5 968.3C1131.8 970.8 1131.4 974.8 1131.7 978.5C1131.9 982.2 1132.9 986.5 1134.2 990.5C1135.5 994.5 1137.1 998.5 1139.4 1002.5C1141.6 1006.5 1144.8 1010.8 1147.9 1014.5C1151.1 1018.2 1154.5 1021.9 1158.2 1024.7C1161.9 1027.6 1166.2 1029.9 1170.2 1031.6C1174.2 1033.3 1178.4 1034.7 1182.1 1035C1185.9 1035.3 1189.9 1034.7 1192.4 1033.3C1195 1031.9 1196.6 1028.7 1197.6 1026.4C1198.6 1024.2 1197.6 1021 1198.4 1019.6C1199.3 1018.2 1200.8 1017.3 1202.7 1017.9C1204.5 1018.5 1207.3 1021 1209.5 1023C1211.8 1025 1214.1 1027.9 1216.4 1029.9C1218.7 1031.9 1220.7 1034.4 1223.2 1035C1225.8 1035.6 1229.2 1034.7 1231.8 1033.3C1234.3 1031.9 1236.9 1029 1238.6 1026.4C1240.3 1023.9 1240.9 1020.5 1242.1 1017.9C1243.2 1015.3 1244 1012.8 1245.5 1011C1246.9 1009.3 1249.8 1008.2 1250.6 1007.6M1325.9 1009.3C1326.8 1011 1329.9 1016.2 1331 1019.6C1332.2 1023 1333 1026.2 1332.8 1029.9C1332.5 1033.6 1331 1037.9 1329.3 1041.9C1327.6 1045.8 1325.1 1050.1 1322.5 1053.8C1319.9 1057.5 1317.4 1061.5 1313.9 1064.1C1310.5 1066.7 1306.2 1068.1 1302 1069.2C1297.7 1070.4 1292.3 1071.2 1288.3 1070.9C1284.3 1070.7 1280.8 1069.5 1278 1067.5C1275.1 1065.5 1272.9 1062.1 1271.1 1059C1269.4 1055.8 1268.7 1052.4 1267.7 1048.7C1266.7 1045 1265.3 1040.4 1265.2 1036.7C1265 1033 1265.9 1029.6 1266.9 1026.4C1267.9 1023.3 1270.4 1020.7 1271.1 1017.9C1271.9 1015 1271.3 1011.9 1271.1 1009.3C1271 1006.8 1270.4 1003.6 1270.3 1002.5M1313.9 932.3C1314.2 931.7 1315.9 931.2 1315.6 928.9C1315.4 926.6 1313.6 921.8 1312.2 918.6C1310.8 915.5 1308.2 912.9 1307.1 910.1C1305.9 907.2 1304.5 903.8 1305.4 901.5C1306.2 899.2 1308.8 897.7 1312.2 896.4C1315.6 895.1 1321.3 894.5 1325.9 893.8C1330.5 893.1 1335.3 892.5 1339.6 892.1C1343.9 891.7 1349.6 890 1351.6 891.2C1353.6 892.5 1351.9 896.1 1351.6 899.8C1351.3 903.5 1350.6 908.9 1349.9 913.5C1349.2 918.1 1347.6 922.6 1347.3 927.2C1347 931.7 1347.3 937.2 1348.2 940.9C1349 944.6 1350.4 947.4 1352.4 949.4C1354.4 951.4 1356.6 952.6 1360.1 952.9C1363.7 953.1 1369.3 952.1 1373.8 951.1C1378.4 950.1 1383.2 948.3 1387.5 946.9C1391.8 945.4 1397.5 943.3 1399.5 942.6"/><path class="Ct" d="M1284.8 829.6C1284.3 828.8 1283.7 826.2 1281.4 824.5C1279.1 822.8 1274.3 821.1 1271.1 819.4C1268 817.7 1264.3 816.2 1262.6 814.2C1260.9 812.2 1260 809.5 1260.9 807.4C1261.7 805.2 1264.3 802.7 1267.7 801.4C1271.1 800.1 1276.6 799.7 1281.4 799.7C1286.3 799.7 1292 800.4 1296.8 801.4C1301.7 802.4 1306.2 804.1 1310.5 805.7C1314.8 807.2 1319.1 809 1322.5 810.8C1325.9 812.7 1329 814.8 1331 816.8C1333 818.8 1334.5 821.1 1334.5 822.8C1334.5 824.5 1333 825.9 1331 827.1C1329 828.2 1324.8 828.3 1322.5 829.6C1320.2 830.9 1318.1 832.8 1317.4 834.8C1316.6 836.8 1318.1 840.5 1318.2 841.6M1230.1 863.9C1231.8 865 1236.9 868.4 1240.3 870.7C1243.8 873 1247.5 875 1250.6 877.6C1253.7 880.1 1257.7 884.7 1259.2 886.1M1118 884.4C1119.3 887 1122.7 894.7 1125.7 899.8C1128.7 904.9 1132.5 911.2 1135.9 915.2C1139.4 919.2 1142.8 922.1 1146.2 923.8C1149.6 925.5 1153.6 925.8 1156.5 925.5C1159.3 925.2 1162.2 922.6 1163.3 922.1M1118 884.4C1120.7 885.8 1129 890.7 1134.2 893C1139.5 895.2 1145.4 896.1 1149.6 898.1C1153.9 900.1 1157.3 902.1 1159.9 904.9C1162.5 907.8 1164 911.5 1165 915.2C1166 918.9 1166.2 923.2 1165.9 927.2C1165.6 931.2 1164.6 935.2 1163.3 939.2C1162 943.2 1160.2 947.7 1158.2 951.1C1156.2 954.6 1153.6 957.6 1151.3 959.7C1149.1 961.8 1147.1 963.4 1144.5 964C1141.9 964.6 1137.9 962.4 1135.9 963.1C1133.9 963.8 1133.2 965.7 1132.5 968.3C1131.8 970.8 1131.4 974.8 1131.7 978.5C1131.9 982.2 1132.9 986.5 1134.2 990.5C1135.5 994.5 1137.1 998.5 1139.4 1002.5C1141.6 1006.5 1144.8 1010.8 1147.9 1014.5C1151.1 1018.2 1154.5 1021.9 1158.2 1024.7C1161.9 1027.6 1166.2 1029.9 1170.2 1031.6C1174.2 1033.3 1178.4 1034.7 1182.1 1035C1185.9 1035.3 1189.9 1034.7 1192.4 1033.3C1195 1031.9 1196.6 1028.7 1197.6 1026.4C1198.6 1024.2 1197.6 1021 1198.4 1019.6C1199.3 1018.2 1200.8 1017.3 1202.7 1017.9C1204.5 1018.5 1207.3 1021 1209.5 1023C1211.8 1025 1214.1 1027.9 1216.4 1029.9C1218.7 1031.9 1220.7 1034.4 1223.2 1035C1225.8 1035.6 1229.2 1034.7 1231.8 1033.3C1234.3 1031.9 1236.9 1029 1238.6 1026.4C1240.3 1023.9 1240.9 1020.5 1242.1 1017.9C1243.2 1015.3 1244 1012.8 1245.5 1011C1246.9 1009.3 1249.8 1008.2 1250.6 1007.6M1325.9 1009.3C1326.8 1011 1329.9 1016.2 1331 1019.6C1332.2 1023 1333 1026.2 1332.8 1029.9C1332.5 1033.6 1331 1037.9 1329.3 1041.9C1327.6 1045.8 1325.1 1050.1 1322.5 1053.8C1319.9 1057.5 1317.4 1061.5 1313.9 1064.1C1310.5 1066.7 1306.2 1068.1 1302 1069.2C1297.7 1070.4 1292.3 1071.2 1288.3 1070.9C1284.3 1070.7 1280.8 1069.5 1278 1067.5C1275.1 1065.5 1272.9 1062.1 1271.1 1059C1269.4 1055.8 1268.7 1052.4 1267.7 1048.7C1266.7 1045 1265.3 1040.4 1265.2 1036.7C1265 1033 1265.9 1029.6 1266.9 1026.4C1267.9 1023.3 1270.4 1020.7 1271.1 1017.9C1271.9 1015 1271.3 1011.9 1271.1 1009.3C1271 1006.8 1270.4 1003.6 1270.3 1002.5M1313.9 932.3C1314.2 931.7 1315.9 931.2 1315.6 928.9C1315.4 926.6 1313.6 921.8 1312.2 918.6C1310.8 915.5 1308.2 912.9 1307.1 910.1C1305.9 907.2 1304.5 903.8 1305.4 901.5C1306.2 899.2 1308.8 897.7 1312.2 896.4C1315.6 895.1 1321.3 894.5 1325.9 893.8C1330.5 893.1 1335.3 892.5 1339.6 892.1C1343.9 891.7 1349.6 890 1351.6 891.2C1353.6 892.5 1351.9 896.1 1351.6 899.8C1351.3 903.5 1350.6 908.9 1349.9 913.5C1349.2 918.1 1347.6 922.6 1347.3 927.2C1347 931.7 1347.3 937.2 1348.2 940.9C1349 944.6 1350.4 947.4 1352.4 949.4C1354.4 951.4 1356.6 952.6 1360.1 952.9C1363.7 953.1 1369.3 952.1 1373.8 951.1C1378.4 950.1 1383.2 948.3 1387.5 946.9C1391.8 945.4 1397.5 943.3 1399.5 942.6"/>
<path class="Gb" d="M1288.3 831.3C1287.7 830.5 1287.1 827.8 1284.8 826.2C1282.6 824.6 1277.6 823.6 1274.6 821.9C1271.6 820.2 1268.1 817.9 1266.9 815.9C1265.6 813.9 1265.9 811.7 1266.9 810C1267.9 808.2 1269.6 806.7 1272.9 805.7C1276.1 804.7 1282 804 1286.5 804C1291.1 804 1295.7 804.5 1300.2 805.7C1304.8 806.8 1309.7 809 1313.9 810.8C1318.2 812.7 1322.2 814.2 1325.9 816.8C1329.6 819.4 1333.6 822.6 1336.2 826.2C1338.7 829.8 1341.3 835.9 1341.3 838.2C1341.3 840.5 1338.5 839.9 1336.2 839.9C1333.9 839.9 1329.6 837.6 1327.6 838.2C1325.6 838.8 1324.5 841 1324.2 843.3C1323.9 845.6 1325.1 849 1325.9 851.9C1326.8 854.7 1328.5 857.6 1329.3 860.4C1330.2 863.3 1331.6 866.4 1331 869C1330.5 871.6 1328.2 874.1 1325.9 875.8C1323.6 877.6 1318.8 878.7 1317.4 879.3M1226.6 863.9C1228.1 865.3 1232.1 869.9 1235.2 872.4C1238.3 875 1242.6 877 1245.5 879.3C1248.3 881.5 1250.6 883.5 1252.3 886.1C1254 888.7 1255.2 893.2 1255.7 894.7M1199.3 903.2C1201.3 902.4 1207.3 900.1 1211.2 898.1C1215.2 896.1 1219.5 893 1223.2 891.2C1226.9 889.5 1230.4 887.8 1233.5 887.8C1236.6 887.8 1239.5 889.5 1242.1 891.2C1244.6 893 1247.8 896.9 1248.9 898.1M1125.7 881.8C1126.5 884.3 1128.5 891.7 1130.8 896.4C1133.1 901.1 1136.2 906.6 1139.4 910.1C1142.5 913.5 1146.5 915.2 1149.6 916.9C1152.8 918.6 1156.8 919.8 1158.2 920.3M1125.7 881.8C1128 884.5 1134.8 892.8 1139.4 898.1C1143.9 903.4 1149.1 908.6 1153.1 913.5C1157 918.3 1160.8 922.9 1163.3 927.2C1165.9 931.5 1167.9 935.2 1168.5 939.2C1169 943.2 1167.9 947.2 1166.7 951.1C1165.6 955.1 1163.6 959.1 1161.6 963.1C1159.6 967.1 1157.3 971.4 1154.8 975.1C1152.2 978.8 1149.3 982.5 1146.2 985.4C1143.1 988.2 1138.8 989.7 1135.9 992.2C1133.1 994.8 1130.4 997.6 1129.1 1000.8C1127.8 1003.9 1127.7 1007.3 1128.2 1011C1128.8 1014.8 1130.4 1019 1132.5 1023C1134.7 1027 1137.9 1031.3 1141.1 1035C1144.2 1038.7 1147.6 1042.1 1151.3 1045.3C1155.1 1048.4 1159.3 1051.6 1163.3 1053.8C1167.3 1056.1 1171.3 1058.1 1175.3 1059C1179.3 1059.8 1183.6 1059.8 1187.3 1059C1191 1058.1 1195 1056.1 1197.6 1053.8C1200.1 1051.6 1201.8 1048.1 1202.7 1045.3C1203.5 1042.4 1202.4 1039.3 1202.7 1036.7C1203 1034.2 1203 1031.3 1204.4 1029.9C1205.8 1028.4 1208.7 1027.6 1211.2 1028.2C1213.8 1028.7 1216.7 1031.9 1219.8 1033.3C1222.9 1034.7 1226.9 1037 1230.1 1036.7C1233.2 1036.4 1236.1 1033.9 1238.6 1031.6C1241.2 1029.3 1243.5 1025.9 1245.5 1023C1247.5 1020.2 1249.5 1017 1250.6 1014.5C1251.7 1011.9 1252.9 1009 1252.3 1007.6C1251.7 1006.2 1248.9 1005.3 1247.2 1005.9C1245.5 1006.5 1242.9 1010.2 1242.1 1011M1331 1007.6C1332 1009.3 1335.9 1014.5 1337 1017.9C1338.2 1021.3 1338.3 1024.5 1337.9 1028.2C1337.5 1031.9 1336.2 1035.9 1334.5 1040.1C1332.8 1044.4 1330.2 1049.6 1327.6 1053.8C1325.1 1058.1 1322.5 1063 1319.1 1065.8C1315.6 1068.7 1309.1 1070.1 1307.1 1070.9M1274.6 1011C1274.3 1012.8 1273.7 1017.9 1272.9 1021.3C1272 1024.7 1269.7 1027.9 1269.4 1031.6C1269.1 1035.3 1270.3 1039.9 1271.1 1043.6C1272 1047.3 1273.4 1050.7 1274.6 1053.8C1275.7 1057 1277.4 1061 1278 1062.4M1308.8 930.6C1309.7 929.8 1313.6 928 1313.9 925.5C1314.2 922.9 1311.9 918.3 1310.5 915.2C1309.1 912.1 1306.5 909.2 1305.4 906.6C1304.2 904.1 1302.8 902.1 1303.7 899.8C1304.5 897.5 1307.4 894.5 1310.5 893C1313.6 891.4 1317.6 891 1322.5 890.4C1327.3 889.8 1334.5 889.8 1339.6 889.5C1344.7 889.2 1350.6 888.1 1353.3 888.7C1356 889.2 1355.6 890 1355.9 893C1356.1 896 1355.4 902.1 1355 906.6C1354.6 911.2 1353.6 915.8 1353.3 920.3C1353 924.9 1353 929.8 1353.3 934C1353.6 938.3 1353.9 943.2 1355 946C1356.1 948.9 1357.6 950.6 1360.1 951.1C1362.7 951.7 1366.7 950.3 1370.4 949.4C1374.1 948.6 1378.4 947.4 1382.4 946C1386.4 944.6 1392.4 941.7 1394.4 940.9"/><path class="Gt" d="M1288.3 831.3C1287.7 830.5 1287.1 827.8 1284.8 826.2C1282.6 824.6 1277.6 823.6 1274.6 821.9C1271.6 820.2 1268.1 817.9 1266.9 815.9C1265.6 813.9 1265.9 811.7 1266.9 810C1267.9 808.2 1269.6 806.7 1272.9 805.7C1276.1 804.7 1282 804 1286.5 804C1291.1 804 1295.7 804.5 1300.2 805.7C1304.8 806.8 1309.7 809 1313.9 810.8C1318.2 812.7 1322.2 814.2 1325.9 816.8C1329.6 819.4 1333.6 822.6 1336.2 826.2C1338.7 829.8 1341.3 835.9 1341.3 838.2C1341.3 840.5 1338.5 839.9 1336.2 839.9C1333.9 839.9 1329.6 837.6 1327.6 838.2C1325.6 838.8 1324.5 841 1324.2 843.3C1323.9 845.6 1325.1 849 1325.9 851.9C1326.8 854.7 1328.5 857.6 1329.3 860.4C1330.2 863.3 1331.6 866.4 1331 869C1330.5 871.6 1328.2 874.1 1325.9 875.8C1323.6 877.6 1318.8 878.7 1317.4 879.3M1226.6 863.9C1228.1 865.3 1232.1 869.9 1235.2 872.4C1238.3 875 1242.6 877 1245.5 879.3C1248.3 881.5 1250.6 883.5 1252.3 886.1C1254 888.7 1255.2 893.2 1255.7 894.7M1199.3 903.2C1201.3 902.4 1207.3 900.1 1211.2 898.1C1215.2 896.1 1219.5 893 1223.2 891.2C1226.9 889.5 1230.4 887.8 1233.5 887.8C1236.6 887.8 1239.5 889.5 1242.1 891.2C1244.6 893 1247.8 896.9 1248.9 898.1M1125.7 881.8C1126.5 884.3 1128.5 891.7 1130.8 896.4C1133.1 901.1 1136.2 906.6 1139.4 910.1C1142.5 913.5 1146.5 915.2 1149.6 916.9C1152.8 918.6 1156.8 919.8 1158.2 920.3M1125.7 881.8C1128 884.5 1134.8 892.8 1139.4 898.1C1143.9 903.4 1149.1 908.6 1153.1 913.5C1157 918.3 1160.8 922.9 1163.3 927.2C1165.9 931.5 1167.9 935.2 1168.5 939.2C1169 943.2 1167.9 947.2 1166.7 951.1C1165.6 955.1 1163.6 959.1 1161.6 963.1C1159.6 967.1 1157.3 971.4 1154.8 975.1C1152.2 978.8 1149.3 982.5 1146.2 985.4C1143.1 988.2 1138.8 989.7 1135.9 992.2C1133.1 994.8 1130.4 997.6 1129.1 1000.8C1127.8 1003.9 1127.7 1007.3 1128.2 1011C1128.8 1014.8 1130.4 1019 1132.5 1023C1134.7 1027 1137.9 1031.3 1141.1 1035C1144.2 1038.7 1147.6 1042.1 1151.3 1045.3C1155.1 1048.4 1159.3 1051.6 1163.3 1053.8C1167.3 1056.1 1171.3 1058.1 1175.3 1059C1179.3 1059.8 1183.6 1059.8 1187.3 1059C1191 1058.1 1195 1056.1 1197.6 1053.8C1200.1 1051.6 1201.8 1048.1 1202.7 1045.3C1203.5 1042.4 1202.4 1039.3 1202.7 1036.7C1203 1034.2 1203 1031.3 1204.4 1029.9C1205.8 1028.4 1208.7 1027.6 1211.2 1028.2C1213.8 1028.7 1216.7 1031.9 1219.8 1033.3C1222.9 1034.7 1226.9 1037 1230.1 1036.7C1233.2 1036.4 1236.1 1033.9 1238.6 1031.6C1241.2 1029.3 1243.5 1025.9 1245.5 1023C1247.5 1020.2 1249.5 1017 1250.6 1014.5C1251.7 1011.9 1252.9 1009 1252.3 1007.6C1251.7 1006.2 1248.9 1005.3 1247.2 1005.9C1245.5 1006.5 1242.9 1010.2 1242.1 1011M1331 1007.6C1332 1009.3 1335.9 1014.5 1337 1017.9C1338.2 1021.3 1338.3 1024.5 1337.9 1028.2C1337.5 1031.9 1336.2 1035.9 1334.5 1040.1C1332.8 1044.4 1330.2 1049.6 1327.6 1053.8C1325.1 1058.1 1322.5 1063 1319.1 1065.8C1315.6 1068.7 1309.1 1070.1 1307.1 1070.9M1274.6 1011C1274.3 1012.8 1273.7 1017.9 1272.9 1021.3C1272 1024.7 1269.7 1027.9 1269.4 1031.6C1269.1 1035.3 1270.3 1039.9 1271.1 1043.6C1272 1047.3 1273.4 1050.7 1274.6 1053.8C1275.7 1057 1277.4 1061 1278 1062.4M1308.8 930.6C1309.7 929.8 1313.6 928 1313.9 925.5C1314.2 922.9 1311.9 918.3 1310.5 915.2C1309.1 912.1 1306.5 909.2 1305.4 906.6C1304.2 904.1 1302.8 902.1 1303.7 899.8C1304.5 897.5 1307.4 894.5 1310.5 893C1313.6 891.4 1317.6 891 1322.5 890.4C1327.3 889.8 1334.5 889.8 1339.6 889.5C1344.7 889.2 1350.6 888.1 1353.3 888.7C1356 889.2 1355.6 890 1355.9 893C1356.1 896 1355.4 902.1 1355 906.6C1354.6 911.2 1353.6 915.8 1353.3 920.3C1353 924.9 1353 929.8 1353.3 934C1353.6 938.3 1353.9 943.2 1355 946C1356.1 948.9 1357.6 950.6 1360.1 951.1C1362.7 951.7 1366.7 950.3 1370.4 949.4C1374.1 948.6 1378.4 947.4 1382.4 946C1386.4 944.6 1392.4 941.7 1394.4 940.9"/>
<path d="M1209.5 858.7L1224.9 848.5L1230.1 829.6L1248.9 826.2L1271.1 829.6L1293.4 830.5L1288.3 846.7L1278 858.7L1262.6 858.7L1240.3 860.4L1219.8 865.6L1209.5 865.6Z" class="F" fill="#2fa95e" stroke="#2fa95e"/>
<path d="M1209.5 858.7L1219.8 855.3L1236.9 853.6L1219.8 865.6L1209.5 865.6Z" class="F" fill="#1c8a4a" stroke="#1c8a4a"/>
<path d="M1271.1 923.8L1284.8 942.6L1302 968.3L1315.6 990.5L1328.5 1002.5L1324.2 1011L1319.1 1014.5L1313.9 1000.8L1298.5 976.8L1281.4 949.4Z" class="F" fill="#48bccb" stroke="#48bccb"/>
<path d="M1269.4 916.9L1281.4 930.6L1298.5 944.3L1313.9 961.4L1327.6 982L1337 1000.8L1329.3 1005.9L1320.8 999.1L1308.8 976.8L1291.7 951.1L1276.3 934Z" class="F" fill="#2fa95e" stroke="#2fa95e"/>
<path d="M1288.3 940.9L1305.4 956.3L1320.8 976.8L1327.6 990.5L1322.5 992.2L1310.5 973.4L1296.8 954.6Z" class="F" fill="#6cc47f" stroke="#6cc47f"/>
<path d="M1240.3 891.2L1248.9 889.5L1259.2 898.1L1260.9 934L1262.6 968.3L1254 970L1250.6 934L1248.9 906.6ZM1251.5 978.5L1257.5 985.4L1269.4 1005.9L1274.6 1000.8L1281.4 985.4L1271.1 995.6Z" class="F" fill="#2fa95e" stroke="#2fa95e"/>
<path d="M1260.9 889.5L1268.6 887.8L1271.1 916.9L1274.6 942.6L1278 966.5L1284.8 965.7L1283.1 980.2L1278 993.9L1271.1 1007.6L1262.6 993.9L1250.6 976.8L1254.9 971.7L1260 969.1L1260 942.6L1259.2 916.9Z" class="F" fill="#48bccb" stroke="#48bccb"/>
<path d="M1259.2 973.4L1279.7 971.7L1276.3 990.5L1271.1 1000.8L1264.3 990.5Z" class="F" fill="#7fd0da" stroke="#7fd0da"/>
<circle cx="1266.9" cy="879.3" r="7.3" fill="#4d4d4d"/>
<circle cx="1268.7" cy="877.1" r="2" fill="#fff" opacity=".28"/>
<circle cx="1285.7" cy="1036.2" r="7.7" fill="#222"/>
<circle cx="1287.6" cy="1033.9" r="2.2" fill="#fff" opacity=".28"/>
<path d="M1359.4 863.5L1382.3 861.7L1384.1 875.8L1380.6 893.4L1357.6 886.4Z" class="F" fill="#a3dbb0" stroke="#a3dbb0"/>
<path d="M1384.1 861.7L1398.2 856.4L1410.5 868.7L1407 882.9L1392.9 884.6L1382.3 879.3Z" class="F" fill="#a8e0e6" stroke="#a8e0e6"/>
<path d="M1401.7 858.2L1419.4 854.6L1417.6 868.7L1410.5 875.8Z" class="F" fill="#a3dbb0" stroke="#a3dbb0"/>
<path d="M1408.8 886.4L1433.5 886.4L1435.2 904L1431.7 916.4L1417.6 911.1L1407 904Z" class="F" fill="#a8e0e6" stroke="#a8e0e6"/>
<path d="M1380.6 956.9L1398.2 946.3L1417.6 942.8L1431.7 948.1L1433.5 956.9L1419.4 953.4L1401.7 958.7L1384.1 965.7Z" class="F" fill="#a3dbb0" stroke="#a3dbb0"/>
<path d="M1374.4 965.7L1392.9 956.9L1414.1 946.3L1428.2 955.2L1422.9 972.8L1407 983.4L1385.8 990.4L1377 981.6Z" class="F" fill="#a8e0e6" stroke="#a8e0e6"/>
<path d="M1392.9 990.4L1410.5 985.1L1426.4 978.1L1422.9 992.2L1414.1 999.2ZM1479.3 997.5L1498.7 999.2L1514.6 997.5L1516.3 1016.9L1512.8 1027.5L1495.2 1025.7L1479.3 1016.9Z" class="F" fill="#a3dbb0" stroke="#a3dbb0"/>
<path d="M1474 1027.5L1495.2 1029.2L1514.6 1029.2L1509.3 1039.8L1491.6 1041.6L1477.5 1036.3Z" class="F" fill="#a8e0e6" stroke="#a8e0e6"/>
<path d="M1454.6 1052.1L1468.7 1029.2L1486.4 1038L1495.2 1045.1L1477.5 1050.4Z" class="F" fill="#6cc47f" stroke="#6cc47f"/>
<path class="cb" d="M1407.9 802.6C1408.9 803.2 1411.6 806.9 1414.1 806.1C1416.6 805.4 1419.6 800.9 1422.9 798.2C1426.1 795.6 1429.9 791.9 1433.5 790.3C1437 788.7 1440.8 787.8 1444 788.5C1447.3 789.2 1450.8 791.6 1452.9 794.7C1454.9 797.8 1455.9 802.3 1456.4 807C1456.8 811.7 1456.1 817.9 1455.5 822.9C1454.9 827.9 1453.3 834.7 1452.9 837"/><path class="ct" d="M1407.9 802.6C1408.9 803.2 1411.6 806.9 1414.1 806.1C1416.6 805.4 1419.6 800.9 1422.9 798.2C1426.1 795.6 1429.9 791.9 1433.5 790.3C1437 788.7 1440.8 787.8 1444 788.5C1447.3 789.2 1450.8 791.6 1452.9 794.7C1454.9 797.8 1455.9 802.3 1456.4 807C1456.8 811.7 1456.1 817.9 1455.5 822.9C1454.9 827.9 1453.3 834.7 1452.9 837"/>
<path class="gb" d="M1401.7 821.1C1403.2 820.5 1407.6 819.7 1410.5 817.6C1413.5 815.6 1416.1 811.7 1419.4 808.8C1422.6 805.9 1426.7 801.7 1429.9 800C1433.2 798.2 1436.1 797.3 1438.7 798.2C1441.4 799.1 1444.2 801.7 1445.8 805.3C1447.4 808.8 1447.9 814.7 1448.4 819.4C1449 824.1 1449.2 831.1 1449.3 833.5"/><path class="gt" d="M1401.7 821.1C1403.2 820.5 1407.6 819.7 1410.5 817.6C1413.5 815.6 1416.1 811.7 1419.4 808.8C1422.6 805.9 1426.7 801.7 1429.9 800C1433.2 798.2 1436.1 797.3 1438.7 798.2C1441.4 799.1 1444.2 801.7 1445.8 805.3C1447.4 808.8 1447.9 814.7 1448.4 819.4C1449 824.1 1449.2 831.1 1449.3 833.5"/>
<path class="cb" d="M1405.2 889.9C1406.1 888.7 1409.1 884.6 1410.5 882.9C1412 881.1 1411.7 880.5 1414.1 879.3C1416.4 878.2 1421.1 876.4 1424.6 875.8C1428.2 875.2 1432 876.4 1435.2 875.8C1438.5 875.2 1442.6 872.9 1444 872.3"/><path class="ct" d="M1405.2 889.9C1406.1 888.7 1409.1 884.6 1410.5 882.9C1412 881.1 1411.7 880.5 1414.1 879.3C1416.4 878.2 1421.1 876.4 1424.6 875.8C1428.2 875.2 1432 876.4 1435.2 875.8C1438.5 875.2 1442.6 872.9 1444 872.3"/>
<path class="gb" d="M1410.5 1011.6C1411.7 1010.1 1415.8 1006 1417.6 1002.8C1419.4 999.5 1420.5 993.9 1421.1 992.2"/><path class="gt" d="M1410.5 1011.6C1411.7 1010.1 1415.8 1006 1417.6 1002.8C1419.4 999.5 1420.5 993.9 1421.1 992.2"/>
<path class="cb" d="M1424.6 1013.3C1424.9 1011 1426.4 1003.6 1426.4 999.2C1426.4 994.8 1424.9 989 1424.6 986.9"/><path class="ct" d="M1424.6 1013.3C1424.9 1011 1426.4 1003.6 1426.4 999.2C1426.4 994.8 1424.9 989 1424.6 986.9"/>
<path class="gb" d="M1435.2 1008.1C1437 1009.2 1442.9 1012.2 1445.8 1015.1C1448.7 1018 1450.5 1022.2 1452.9 1025.7C1455.2 1029.2 1458.7 1034.5 1459.9 1036.3"/><path class="gt" d="M1435.2 1008.1C1437 1009.2 1442.9 1012.2 1445.8 1015.1C1448.7 1018 1450.5 1022.2 1452.9 1025.7C1455.2 1029.2 1458.7 1034.5 1459.9 1036.3"/>
<path class="mb" d="M1534 967.5C1535.4 968.7 1539.6 972.2 1542.8 974.5C1546 976.9 1550.4 979 1553.4 981.6C1556.3 984.2 1558.8 987.2 1560.4 990.4C1562 993.7 1563.1 997.2 1563.1 1001C1563.1 1004.8 1560.7 1009.2 1560.4 1013.3C1560.1 1017.5 1560.1 1021.9 1561.3 1025.7C1562.5 1029.5 1565 1033 1567.5 1036.3C1570 1039.5 1573.1 1043 1576.3 1045.1C1579.5 1047.1 1583 1048 1586.9 1048.6C1590.7 1049.2 1595.1 1049.2 1599.2 1048.6C1603.3 1048 1607.7 1046.8 1611.6 1045.1C1615.4 1043.3 1619.2 1040.7 1622.1 1038C1625.1 1035.4 1627.3 1031.4 1629.2 1029.2C1631.1 1027 1632.9 1025.5 1633.6 1024.8"/><path class="mt" d="M1534 967.5C1535.4 968.7 1539.6 972.2 1542.8 974.5C1546 976.9 1550.4 979 1553.4 981.6C1556.3 984.2 1558.8 987.2 1560.4 990.4C1562 993.7 1563.1 997.2 1563.1 1001C1563.1 1004.8 1560.7 1009.2 1560.4 1013.3C1560.1 1017.5 1560.1 1021.9 1561.3 1025.7C1562.5 1029.5 1565 1033 1567.5 1036.3C1570 1039.5 1573.1 1043 1576.3 1045.1C1579.5 1047.1 1583 1048 1586.9 1048.6C1590.7 1049.2 1595.1 1049.2 1599.2 1048.6C1603.3 1048 1607.7 1046.8 1611.6 1045.1C1615.4 1043.3 1619.2 1040.7 1622.1 1038C1625.1 1035.4 1627.3 1031.4 1629.2 1029.2C1631.1 1027 1632.9 1025.5 1633.6 1024.8"/>
<path class="Cb" d="M1535.7 964C1537.5 964.3 1542.8 964.6 1546.3 965.7C1549.8 966.9 1554 968.7 1556.9 971C1559.8 973.4 1562.2 976.6 1563.9 979.8C1565.7 983.1 1566.9 986.6 1567.5 990.4C1568.1 994.2 1566.6 998.9 1567.5 1002.8C1568.4 1006.6 1570.4 1010.4 1572.8 1013.3C1575.1 1016.3 1578.3 1018.9 1581.6 1020.4C1584.8 1021.9 1588.3 1022.7 1592.2 1022.2C1596 1021.6 1600.7 1018.9 1604.5 1016.9C1608.3 1014.8 1611.9 1012.8 1615.1 1009.8C1618.3 1006.9 1621.5 1002.8 1623.9 999.2C1626.3 995.7 1628 991.2 1629.2 988.7C1630.4 986.2 1630.7 985 1631 984.2M1576.3 1013.3C1576.9 1011.9 1577.8 1006.9 1579.8 1004.5C1581.9 1002.2 1585.4 1000 1588.6 999.2C1591.9 998.5 1595.7 999.5 1599.2 1000.1C1602.7 1000.7 1606.6 1002 1609.8 1002.8C1613 1003.5 1617.1 1004.2 1618.6 1004.5M1428.2 830.8C1426.4 831.6 1421.4 833.3 1417.6 835.2C1413.8 837.2 1409.1 839.4 1405.2 842.3C1401.4 845.2 1397.3 848.8 1394.7 852.9C1392 857 1390 862.3 1389.4 867C1388.8 871.7 1390 876.7 1391.1 881.1C1392.3 885.5 1395.3 889.3 1396.4 893.4C1397.6 897.5 1398.8 901.7 1398.2 905.8C1397.6 909.9 1394.2 914 1392.9 918.1C1391.6 922.2 1390.3 926.1 1390.3 930.5C1390.3 934.9 1391.3 940.2 1392.9 944.6C1394.5 949 1397 953.4 1400 956.9C1402.9 960.4 1406.7 963.7 1410.5 965.7C1414.4 967.8 1419.1 969.6 1422.9 969.3C1426.7 969 1430.5 966.6 1433.5 964C1436.4 961.3 1438.7 956.9 1440.5 953.4C1442.3 949.9 1442.3 945.7 1444 942.8C1445.8 939.9 1448.2 936.9 1451.1 935.8C1454 934.6 1458.1 934.6 1461.7 935.8C1465.2 936.9 1469 939.9 1472.3 942.8C1475.5 945.7 1478.7 950.2 1481.1 953.4C1483.4 956.6 1485.5 960.7 1486.4 962.2M1412.3 844.1C1414.4 844.1 1420.5 843.8 1424.6 844.1C1428.8 844.4 1433.8 844.4 1437 845.8C1440.2 847.3 1442.6 849.6 1444 852.9C1445.5 856.1 1445.8 860.8 1445.8 865.2C1445.8 869.6 1444 875.2 1444 879.3C1444 883.4 1444.3 886.4 1445.8 889.9C1447.3 893.4 1449.6 898.1 1452.9 900.5C1456.1 902.8 1461.1 903.1 1465.2 904C1469.3 904.9 1473.7 904.6 1477.5 905.8C1481.4 907 1486.4 910.2 1488.1 911.1M1340 891.7C1341.9 891.5 1349.4 889.3 1351.5 890.8C1353.5 892.3 1352.6 896.5 1352.3 900.5C1352 904.5 1350.6 909.9 1349.7 914.6C1348.8 919.3 1347.3 924 1347.1 928.7C1346.8 933.4 1346.9 938.7 1347.9 942.8C1349 946.9 1351 951 1353.2 953.4C1355.4 955.7 1359.8 956.3 1361.2 956.9M1518.1 1026.6C1516 1026.1 1509.6 1025 1505.8 1023.9C1501.9 1022.9 1499.3 1021.3 1495.2 1020.4C1491.1 1019.5 1485.8 1018.9 1481.1 1018.6C1476.4 1018.3 1471.7 1018 1467 1018.6C1462.3 1019.2 1456.7 1020.4 1452.9 1022.2C1449 1023.9 1446.2 1026.3 1444 1029.2C1441.8 1032.2 1439.9 1036 1439.6 1039.8C1439.3 1043.6 1440.7 1048 1442.3 1052.1C1443.9 1056.3 1446.4 1060.7 1449.3 1064.5C1452.3 1068.3 1456.1 1071.8 1459.9 1075.1C1463.7 1078.3 1468.1 1081.2 1472.3 1083.9C1476.4 1086.5 1481.7 1089.2 1484.6 1090.9C1487.5 1092.7 1488.1 1094.8 1489.9 1094.5C1491.6 1094.2 1492.8 1090.9 1495.2 1089.2C1497.5 1087.4 1500.5 1085.3 1504 1083.9C1507.5 1082.4 1511.9 1081.2 1516.3 1080.4C1520.7 1079.5 1525.7 1079.8 1530.4 1078.6C1535.1 1077.4 1540.1 1075.6 1544.5 1073.3C1549 1070.9 1553.4 1067.7 1556.9 1064.5C1560.4 1061.2 1563.4 1057.4 1565.7 1053.9C1568.1 1050.4 1570.1 1045.1 1571 1043.3"/><path class="Ct" d="M1535.7 964C1537.5 964.3 1542.8 964.6 1546.3 965.7C1549.8 966.9 1554 968.7 1556.9 971C1559.8 973.4 1562.2 976.6 1563.9 979.8C1565.7 983.1 1566.9 986.6 1567.5 990.4C1568.1 994.2 1566.6 998.9 1567.5 1002.8C1568.4 1006.6 1570.4 1010.4 1572.8 1013.3C1575.1 1016.3 1578.3 1018.9 1581.6 1020.4C1584.8 1021.9 1588.3 1022.7 1592.2 1022.2C1596 1021.6 1600.7 1018.9 1604.5 1016.9C1608.3 1014.8 1611.9 1012.8 1615.1 1009.8C1618.3 1006.9 1621.5 1002.8 1623.9 999.2C1626.3 995.7 1628 991.2 1629.2 988.7C1630.4 986.2 1630.7 985 1631 984.2M1576.3 1013.3C1576.9 1011.9 1577.8 1006.9 1579.8 1004.5C1581.9 1002.2 1585.4 1000 1588.6 999.2C1591.9 998.5 1595.7 999.5 1599.2 1000.1C1602.7 1000.7 1606.6 1002 1609.8 1002.8C1613 1003.5 1617.1 1004.2 1618.6 1004.5M1428.2 830.8C1426.4 831.6 1421.4 833.3 1417.6 835.2C1413.8 837.2 1409.1 839.4 1405.2 842.3C1401.4 845.2 1397.3 848.8 1394.7 852.9C1392 857 1390 862.3 1389.4 867C1388.8 871.7 1390 876.7 1391.1 881.1C1392.3 885.5 1395.3 889.3 1396.4 893.4C1397.6 897.5 1398.8 901.7 1398.2 905.8C1397.6 909.9 1394.2 914 1392.9 918.1C1391.6 922.2 1390.3 926.1 1390.3 930.5C1390.3 934.9 1391.3 940.2 1392.9 944.6C1394.5 949 1397 953.4 1400 956.9C1402.9 960.4 1406.7 963.7 1410.5 965.7C1414.4 967.8 1419.1 969.6 1422.9 969.3C1426.7 969 1430.5 966.6 1433.5 964C1436.4 961.3 1438.7 956.9 1440.5 953.4C1442.3 949.9 1442.3 945.7 1444 942.8C1445.8 939.9 1448.2 936.9 1451.1 935.8C1454 934.6 1458.1 934.6 1461.7 935.8C1465.2 936.9 1469 939.9 1472.3 942.8C1475.5 945.7 1478.7 950.2 1481.1 953.4C1483.4 956.6 1485.5 960.7 1486.4 962.2M1412.3 844.1C1414.4 844.1 1420.5 843.8 1424.6 844.1C1428.8 844.4 1433.8 844.4 1437 845.8C1440.2 847.3 1442.6 849.6 1444 852.9C1445.5 856.1 1445.8 860.8 1445.8 865.2C1445.8 869.6 1444 875.2 1444 879.3C1444 883.4 1444.3 886.4 1445.8 889.9C1447.3 893.4 1449.6 898.1 1452.9 900.5C1456.1 902.8 1461.1 903.1 1465.2 904C1469.3 904.9 1473.7 904.6 1477.5 905.8C1481.4 907 1486.4 910.2 1488.1 911.1M1340 891.7C1341.9 891.5 1349.4 889.3 1351.5 890.8C1353.5 892.3 1352.6 896.5 1352.3 900.5C1352 904.5 1350.6 909.9 1349.7 914.6C1348.8 919.3 1347.3 924 1347.1 928.7C1346.8 933.4 1346.9 938.7 1347.9 942.8C1349 946.9 1351 951 1353.2 953.4C1355.4 955.7 1359.8 956.3 1361.2 956.9M1518.1 1026.6C1516 1026.1 1509.6 1025 1505.8 1023.9C1501.9 1022.9 1499.3 1021.3 1495.2 1020.4C1491.1 1019.5 1485.8 1018.9 1481.1 1018.6C1476.4 1018.3 1471.7 1018 1467 1018.6C1462.3 1019.2 1456.7 1020.4 1452.9 1022.2C1449 1023.9 1446.2 1026.3 1444 1029.2C1441.8 1032.2 1439.9 1036 1439.6 1039.8C1439.3 1043.6 1440.7 1048 1442.3 1052.1C1443.9 1056.3 1446.4 1060.7 1449.3 1064.5C1452.3 1068.3 1456.1 1071.8 1459.9 1075.1C1463.7 1078.3 1468.1 1081.2 1472.3 1083.9C1476.4 1086.5 1481.7 1089.2 1484.6 1090.9C1487.5 1092.7 1488.1 1094.8 1489.9 1094.5C1491.6 1094.2 1492.8 1090.9 1495.2 1089.2C1497.5 1087.4 1500.5 1085.3 1504 1083.9C1507.5 1082.4 1511.9 1081.2 1516.3 1080.4C1520.7 1079.5 1525.7 1079.8 1530.4 1078.6C1535.1 1077.4 1540.1 1075.6 1544.5 1073.3C1549 1070.9 1553.4 1067.7 1556.9 1064.5C1560.4 1061.2 1563.4 1057.4 1565.7 1053.9C1568.1 1050.4 1570.1 1045.1 1571 1043.3"/>
<path class="Db" d="M1534 1004.5C1533.7 1006 1533.4 1010.4 1532.2 1013.3C1531 1016.3 1529.3 1020 1526.9 1022.2C1524.6 1024.4 1519.6 1025.8 1518.1 1026.6"/><path class="Dt" d="M1534 1004.5C1533.7 1006 1533.4 1010.4 1532.2 1013.3C1531 1016.3 1529.3 1020 1526.9 1022.2C1524.6 1024.4 1519.6 1025.8 1518.1 1026.6"/>
<path class="Gb" d="M1431.7 810.6C1429.9 811.4 1424.6 813.2 1421.1 815.8C1417.6 818.5 1413.5 822.6 1410.5 826.4C1407.6 830.2 1405 834.4 1403.5 838.8C1402 843.2 1401.4 848.2 1401.7 852.9C1402 857.6 1404.1 862.3 1405.2 867C1406.4 871.7 1407.9 876.4 1408.8 881.1C1409.7 885.8 1409.7 890.5 1410.5 895.2C1411.4 899.9 1412.6 904.6 1414.1 909.3C1415.5 914 1417.3 919 1419.4 923.4C1421.4 927.8 1423.8 932.2 1426.4 935.8C1429 939.3 1432.3 943.4 1435.2 944.6C1438.2 945.7 1441.7 944.6 1444 942.8C1446.4 941 1447.9 936.9 1449.3 934C1450.8 931.1 1451.1 927.8 1452.9 925.2C1454.6 922.5 1457 919.3 1459.9 918.1C1462.8 916.9 1467 916.9 1470.5 918.1C1474 919.3 1478.1 922.2 1481.1 925.2C1484 928.1 1486.4 932.2 1488.1 935.8C1489.9 939.3 1491.1 944.6 1491.6 946.3M1415.8 840.5C1417.9 840.2 1424.1 839.2 1428.2 838.8C1432.3 838.3 1436.7 837.3 1440.5 837.9C1444.3 838.5 1448.6 839.8 1451.1 842.3C1453.6 844.8 1454.9 848.8 1455.5 852.9C1456.1 857 1455.4 862.6 1454.6 867C1453.9 871.4 1451.4 875.5 1451.1 879.3C1450.8 883.1 1451.4 887 1452.9 889.9C1454.3 892.8 1456.7 895.5 1459.9 897C1463.1 898.4 1468.1 897.8 1472.3 898.7C1476.4 899.6 1481.1 900.5 1484.6 902.3C1488.1 904 1491.9 908.1 1493.4 909.3M1340 887.3C1342.4 887.3 1351.3 886.2 1354.1 887.3C1356.9 888.3 1356.5 890.1 1356.8 893.4C1357 896.8 1356.3 902.8 1355.9 907.5C1355.4 912.2 1354.4 916.9 1354.1 921.6C1353.8 926.4 1353.8 931.3 1354.1 935.8C1354.4 940.2 1354.7 944.9 1355.9 948.1C1357 951.3 1358.5 954.3 1361.2 955.2C1363.8 956 1368.2 954.6 1371.7 953.4C1375.3 952.2 1379.1 949.9 1382.3 948.1C1385.6 946.3 1389.7 943.7 1391.1 942.8M1526.9 1008.9C1524.6 1009.5 1517.5 1011.7 1512.8 1012.5C1508.1 1013.2 1504 1013.5 1498.7 1013.3C1493.4 1013.2 1486.9 1012.2 1481.1 1011.6C1475.2 1011 1468.7 1009.5 1463.4 1009.8C1458.1 1010.1 1453.4 1011.6 1449.3 1013.3C1445.2 1015.1 1441.4 1017.5 1438.7 1020.4C1436.1 1023.3 1434.2 1027.2 1433.5 1031C1432.7 1034.8 1433.5 1039.2 1434.3 1043.3C1435.2 1047.4 1436.8 1051.8 1438.7 1055.7C1440.7 1059.5 1442.9 1062.7 1445.8 1066.2C1448.7 1069.8 1452.6 1073.6 1456.4 1076.8C1460.2 1080.1 1464.9 1083.6 1468.7 1085.6C1472.5 1087.7 1477 1089.8 1479.3 1089.2C1481.7 1088.6 1481.1 1084.5 1482.8 1082.1C1484.6 1079.8 1486.7 1076.8 1489.9 1075.1C1493.1 1073.3 1497.8 1072.1 1502.2 1071.5C1506.6 1070.9 1511.6 1071.8 1516.3 1071.5C1521 1071.2 1525.7 1070.9 1530.4 1069.8C1535.1 1068.6 1540.1 1066.8 1544.5 1064.5C1549 1062.1 1553.1 1059.2 1556.9 1055.7C1560.7 1052.1 1564.5 1047.4 1567.5 1043.3C1570.4 1039.2 1572.6 1034.8 1574.5 1031C1576.4 1027.2 1578.2 1023.3 1578.9 1020.4C1579.7 1017.5 1578.9 1014.5 1578.9 1013.3"/><path class="Gt" d="M1431.7 810.6C1429.9 811.4 1424.6 813.2 1421.1 815.8C1417.6 818.5 1413.5 822.6 1410.5 826.4C1407.6 830.2 1405 834.4 1403.5 838.8C1402 843.2 1401.4 848.2 1401.7 852.9C1402 857.6 1404.1 862.3 1405.2 867C1406.4 871.7 1407.9 876.4 1408.8 881.1C1409.7 885.8 1409.7 890.5 1410.5 895.2C1411.4 899.9 1412.6 904.6 1414.1 909.3C1415.5 914 1417.3 919 1419.4 923.4C1421.4 927.8 1423.8 932.2 1426.4 935.8C1429 939.3 1432.3 943.4 1435.2 944.6C1438.2 945.7 1441.7 944.6 1444 942.8C1446.4 941 1447.9 936.9 1449.3 934C1450.8 931.1 1451.1 927.8 1452.9 925.2C1454.6 922.5 1457 919.3 1459.9 918.1C1462.8 916.9 1467 916.9 1470.5 918.1C1474 919.3 1478.1 922.2 1481.1 925.2C1484 928.1 1486.4 932.2 1488.1 935.8C1489.9 939.3 1491.1 944.6 1491.6 946.3M1415.8 840.5C1417.9 840.2 1424.1 839.2 1428.2 838.8C1432.3 838.3 1436.7 837.3 1440.5 837.9C1444.3 838.5 1448.6 839.8 1451.1 842.3C1453.6 844.8 1454.9 848.8 1455.5 852.9C1456.1 857 1455.4 862.6 1454.6 867C1453.9 871.4 1451.4 875.5 1451.1 879.3C1450.8 883.1 1451.4 887 1452.9 889.9C1454.3 892.8 1456.7 895.5 1459.9 897C1463.1 898.4 1468.1 897.8 1472.3 898.7C1476.4 899.6 1481.1 900.5 1484.6 902.3C1488.1 904 1491.9 908.1 1493.4 909.3M1340 887.3C1342.4 887.3 1351.3 886.2 1354.1 887.3C1356.9 888.3 1356.5 890.1 1356.8 893.4C1357 896.8 1356.3 902.8 1355.9 907.5C1355.4 912.2 1354.4 916.9 1354.1 921.6C1353.8 926.4 1353.8 931.3 1354.1 935.8C1354.4 940.2 1354.7 944.9 1355.9 948.1C1357 951.3 1358.5 954.3 1361.2 955.2C1363.8 956 1368.2 954.6 1371.7 953.4C1375.3 952.2 1379.1 949.9 1382.3 948.1C1385.6 946.3 1389.7 943.7 1391.1 942.8M1526.9 1008.9C1524.6 1009.5 1517.5 1011.7 1512.8 1012.5C1508.1 1013.2 1504 1013.5 1498.7 1013.3C1493.4 1013.2 1486.9 1012.2 1481.1 1011.6C1475.2 1011 1468.7 1009.5 1463.4 1009.8C1458.1 1010.1 1453.4 1011.6 1449.3 1013.3C1445.2 1015.1 1441.4 1017.5 1438.7 1020.4C1436.1 1023.3 1434.2 1027.2 1433.5 1031C1432.7 1034.8 1433.5 1039.2 1434.3 1043.3C1435.2 1047.4 1436.8 1051.8 1438.7 1055.7C1440.7 1059.5 1442.9 1062.7 1445.8 1066.2C1448.7 1069.8 1452.6 1073.6 1456.4 1076.8C1460.2 1080.1 1464.9 1083.6 1468.7 1085.6C1472.5 1087.7 1477 1089.8 1479.3 1089.2C1481.7 1088.6 1481.1 1084.5 1482.8 1082.1C1484.6 1079.8 1486.7 1076.8 1489.9 1075.1C1493.1 1073.3 1497.8 1072.1 1502.2 1071.5C1506.6 1070.9 1511.6 1071.8 1516.3 1071.5C1521 1071.2 1525.7 1070.9 1530.4 1069.8C1535.1 1068.6 1540.1 1066.8 1544.5 1064.5C1549 1062.1 1553.1 1059.2 1556.9 1055.7C1560.7 1052.1 1564.5 1047.4 1567.5 1043.3C1570.4 1039.2 1572.6 1034.8 1574.5 1031C1576.4 1027.2 1578.2 1023.3 1578.9 1020.4C1579.7 1017.5 1578.9 1014.5 1578.9 1013.3"/>
<path class="Wb" d="M1535.7 1002.8C1536.3 1001 1537.5 995.1 1539.3 992.2C1541 989.2 1543.7 986.5 1546.3 985.1C1549 983.8 1552.2 983.4 1555.1 984.2C1558.1 985.1 1561 987.9 1563.9 990.4C1566.9 992.9 1569.5 996.3 1572.8 999.2C1576 1002.2 1579.8 1004.8 1583.3 1008.1C1586.9 1011.3 1590.4 1015.7 1593.9 1018.6C1597.5 1021.6 1601.3 1024.8 1604.5 1025.7C1607.7 1026.6 1610.7 1025.4 1613.3 1023.9C1616 1022.5 1618.8 1019.8 1620.4 1016.9C1622 1013.9 1622.7 1010.4 1623 1006.3C1623.3 1002.2 1622.1 996.7 1622.1 992.2C1622.1 987.6 1622.9 981.2 1623 979"/><path class="Wt" d="M1535.7 1002.8C1536.3 1001 1537.5 995.1 1539.3 992.2C1541 989.2 1543.7 986.5 1546.3 985.1C1549 983.8 1552.2 983.4 1555.1 984.2C1558.1 985.1 1561 987.9 1563.9 990.4C1566.9 992.9 1569.5 996.3 1572.8 999.2C1576 1002.2 1579.8 1004.8 1583.3 1008.1C1586.9 1011.3 1590.4 1015.7 1593.9 1018.6C1597.5 1021.6 1601.3 1024.8 1604.5 1025.7C1607.7 1026.6 1610.7 1025.4 1613.3 1023.9C1616 1022.5 1618.8 1019.8 1620.4 1016.9C1622 1013.9 1622.7 1010.4 1623 1006.3C1623.3 1002.2 1622.1 996.7 1622.1 992.2C1622.1 987.6 1622.9 981.2 1623 979"/>
<path d="M1489.9 911.1L1498.7 909.3L1516.3 919.9L1519.9 928.7L1509.3 934L1525.2 946.3L1539.3 955.2L1534 964L1518.1 956.9L1505.8 948.1L1498.7 939.3L1493.4 925.2Z" class="F" fill="#48bccb" stroke="#48bccb"/>
<path d="M1509.3 946.3L1523.4 949.9L1539.3 956.9L1526.9 971L1516.3 964Z" class="F" fill="#6cc47f" stroke="#6cc47f"/>
<path d="M1477.5 971L1486.4 964L1489.9 978.1L1493.4 992.2L1484.6 990.4L1481.1 981.6Z" class="F" fill="#48bccb" stroke="#48bccb"/>
<path d="M1486.4 960.4L1495.2 946.3L1502.2 948.1L1507.5 964L1513.7 974.5L1512.8 986.9L1505.8 1006.3L1498.7 997.5L1493.4 992.2L1489.9 978.1Z" class="F" fill="#2fa95e" stroke="#2fa95e"/>
<circle cx="1397.8" cy="912" r="7.9" fill="#111"/>
<circle cx="1399.8" cy="909.6" r="2.2" fill="#fff" opacity=".28"/>
<circle cx="1498.2" cy="1049.5" r="7.9" fill="#111"/>
<circle cx="1500.1" cy="1047.1" r="2.2" fill="#fff" opacity=".28"/>
<text x="1048.8" y="752.5" font-weight="700" font-size="32">c</text>
<text x="1093.3" y="776.5" font-style="italic" font-size="28">Triticum aestivum</text>
<path class="cb" d="M258.2 1236.2C258.6 1237.6 259.2 1241.9 260.8 1244.8C262.3 1247.6 265.6 1250.5 267.6 1253.3C269.6 1256.2 272.5 1259 272.8 1261.9C273 1264.7 271.6 1268.6 269.3 1270.4C267.1 1272.3 263.1 1272.7 259.1 1273C255.1 1273.3 249.7 1271.7 245.4 1272.1C241.1 1272.6 236.8 1273.3 233.4 1275.6C230 1277.9 226.8 1281.8 224.8 1285.8C222.8 1289.8 221.4 1295 221.4 1299.5C221.4 1304.1 223.1 1308.9 224.8 1313.2C226.5 1317.5 229.1 1322.1 231.7 1325.2C234.2 1328.3 236.8 1330.3 240.2 1332.1C243.7 1333.8 248.2 1335 252.2 1335.5C256.2 1335.9 262.2 1334.8 264.2 1334.6"/><path class="ct" d="M258.2 1236.2C258.6 1237.6 259.2 1241.9 260.8 1244.8C262.3 1247.6 265.6 1250.5 267.6 1253.3C269.6 1256.2 272.5 1259 272.8 1261.9C273 1264.7 271.6 1268.6 269.3 1270.4C267.1 1272.3 263.1 1272.7 259.1 1273C255.1 1273.3 249.7 1271.7 245.4 1272.1C241.1 1272.6 236.8 1273.3 233.4 1275.6C230 1277.9 226.8 1281.8 224.8 1285.8C222.8 1289.8 221.4 1295 221.4 1299.5C221.4 1304.1 223.1 1308.9 224.8 1313.2C226.5 1317.5 229.1 1322.1 231.7 1325.2C234.2 1328.3 236.8 1330.3 240.2 1332.1C243.7 1333.8 248.2 1335 252.2 1335.5C256.2 1335.9 262.2 1334.8 264.2 1334.6"/>
<path class="gb" d="M271 1278.1C269.3 1277.4 264.5 1274.9 260.8 1273.9C257.1 1272.9 252.5 1271.9 248.8 1272.1C245.1 1272.4 241.4 1273.3 238.5 1275.6C235.7 1277.9 233.1 1281.8 231.7 1285.8C230.3 1289.8 229.7 1295.3 230 1299.5C230.3 1303.8 231.7 1307.5 233.4 1311.5C235.1 1315.5 237.4 1320.4 240.2 1323.5C243.1 1326.6 247.1 1328.9 250.5 1330.3C253.9 1331.8 257.9 1331.6 260.8 1332.1C263.6 1332.5 266.5 1332.8 267.6 1332.9"/><path class="gt" d="M271 1278.1C269.3 1277.4 264.5 1274.9 260.8 1273.9C257.1 1272.9 252.5 1271.9 248.8 1272.1C245.1 1272.4 241.4 1273.3 238.5 1275.6C235.7 1277.9 233.1 1281.8 231.7 1285.8C230.3 1289.8 229.7 1295.3 230 1299.5C230.3 1303.8 231.7 1307.5 233.4 1311.5C235.1 1315.5 237.4 1320.4 240.2 1323.5C243.1 1326.6 247.1 1328.9 250.5 1330.3C253.9 1331.8 257.9 1331.6 260.8 1332.1C263.6 1332.5 266.5 1332.8 267.6 1332.9"/>
<path class="cb" d="M176.9 1320.1C176.6 1322.4 176.3 1329.2 175.2 1333.8C174.1 1338.3 172.1 1342.9 170.1 1347.5C168.1 1352 165.2 1357.4 163.2 1361.1C161.2 1364.9 160.4 1367.4 158.1 1369.7C155.8 1372 153 1373.1 149.5 1374.8C146.1 1376.5 141.5 1378.3 137.6 1380C133.6 1381.7 129.3 1384.5 125.6 1385.1C121.9 1385.7 118.2 1384.8 115.3 1383.4C112.5 1382 109.7 1379.4 108.5 1376.5C107.2 1373.7 107.7 1368 107.6 1366.3"/><path class="ct" d="M176.9 1320.1C176.6 1322.4 176.3 1329.2 175.2 1333.8C174.1 1338.3 172.1 1342.9 170.1 1347.5C168.1 1352 165.2 1357.4 163.2 1361.1C161.2 1364.9 160.4 1367.4 158.1 1369.7C155.8 1372 153 1373.1 149.5 1374.8C146.1 1376.5 141.5 1378.3 137.6 1380C133.6 1381.7 129.3 1384.5 125.6 1385.1C121.9 1385.7 118.2 1384.8 115.3 1383.4C112.5 1382 109.7 1379.4 108.5 1376.5C107.2 1373.7 107.7 1368 107.6 1366.3"/>
<path class="gb" d="M173.5 1325.2C172.9 1327.8 171.8 1335.2 170.1 1340.6C168.4 1346 165.2 1353.2 163.2 1357.7C161.2 1362.3 158.9 1366.3 158.1 1368M207.7 1446.7C210 1447 216.8 1447.6 221.4 1448.4C226 1449.3 230.8 1450.4 235.1 1451.9C239.4 1453.3 243.7 1455 247.1 1457C250.5 1459 253.8 1461.6 255.6 1463.8C257.5 1466.1 258.5 1467.8 258.2 1470.7C257.9 1473.5 256.1 1477.5 253.9 1480.9C251.8 1484.4 248.8 1488.4 245.4 1491.2C242 1494.1 237.7 1496.3 233.4 1498.1C229.1 1499.8 223.4 1500.5 219.7 1501.5C216 1502.5 212.6 1503.6 211.1 1504.1"/><path class="gt" d="M173.5 1325.2C172.9 1327.8 171.8 1335.2 170.1 1340.6C168.4 1346 165.2 1353.2 163.2 1357.7C161.2 1362.3 158.9 1366.3 158.1 1368M207.7 1446.7C210 1447 216.8 1447.6 221.4 1448.4C226 1449.3 230.8 1450.4 235.1 1451.9C239.4 1453.3 243.7 1455 247.1 1457C250.5 1459 253.8 1461.6 255.6 1463.8C257.5 1466.1 258.5 1467.8 258.2 1470.7C257.9 1473.5 256.1 1477.5 253.9 1480.9C251.8 1484.4 248.8 1488.4 245.4 1491.2C242 1494.1 237.7 1496.3 233.4 1498.1C229.1 1499.8 223.4 1500.5 219.7 1501.5C216 1502.5 212.6 1503.6 211.1 1504.1"/>
<path d="M183.8 1445L197.5 1422.8L211.1 1426.2L224.8 1434.7L233.4 1446.7L238.5 1460.4L228.3 1463.8L218 1451.9L204.3 1446.7ZM190.6 1477.5L207.7 1474.1L221.4 1469L231.7 1462.1L240.2 1467.3L242 1480.9L235.1 1494.6L221.4 1501.5L192.3 1503.2Z" class="F" fill="#a8e0e6" stroke="#a8e0e6"/>
<path d="M125.6 1303C125.4 1304.7 124.1 1309.5 124.7 1313.2C125.3 1316.9 126.9 1321.8 129 1325.2C131.1 1328.6 134.4 1331.8 137.6 1333.8C140.7 1335.8 144.7 1336.9 147.8 1337.2C151 1337.5 155 1335.8 156.4 1335.5" class="H" stroke="#2fa95e" stroke-width="6"/>
<path d="M170.1 1308.1C168.4 1306.1 163.8 1299.1 159.8 1296.1C155.8 1293.1 150.4 1290.4 146.1 1290.1C141.8 1289.8 137 1291.7 134.1 1294.4C131.3 1297.1 129.3 1302.1 129 1306.4C128.7 1310.7 130.4 1316.1 132.4 1320.1C134.4 1324.1 137.8 1328.1 141 1330.3C144.1 1332.6 149.5 1333.2 151.2 1333.8" class="H" stroke="#48bccb" stroke-width="9"/>
<path class="Cb" d="M221.4 1316.6C220.6 1315.2 219.1 1310.7 216.3 1308.1C213.4 1305.5 208.6 1303.2 204.3 1301.2C200 1299.2 194.3 1297.8 190.6 1296.1C186.9 1294.4 183.8 1293 182.1 1291C180.3 1289 179.2 1286.1 180.3 1284.1C181.5 1282.1 185.2 1280.7 188.9 1279C192.6 1277.3 198 1275.6 202.6 1273.9C207.2 1272.1 211.7 1270.2 216.3 1268.7C220.8 1267.3 226.3 1266.4 230 1265.3C233.7 1264.2 236.8 1263.6 238.5 1261.9C240.2 1260.2 241.1 1257.3 240.2 1255C239.4 1252.8 236.5 1250.5 233.4 1248.2C230.3 1245.9 225.1 1243.6 221.4 1241.3C217.7 1239.1 213.4 1237.1 211.1 1234.5C208.9 1231.9 207.4 1228.5 207.7 1225.9C208 1223.4 210 1221.1 212.9 1219.1C215.7 1217.1 220.3 1215.2 224.8 1214C229.4 1212.7 234.8 1211.5 240.2 1211.4C245.7 1211.3 252.2 1212.1 257.4 1213.1C262.5 1214.1 267.5 1215.8 271 1217.4C274.6 1219 277.9 1221.1 278.7 1222.5C279.6 1223.9 278.3 1225.4 276.2 1225.9C274 1226.5 268.8 1225.4 265.9 1225.9C263.1 1226.5 260.3 1227.7 259.1 1229.4C257.8 1231.1 258.4 1235.1 258.2 1236.2M151.2 1328.6C153.2 1327.5 159.5 1324.3 163.2 1321.8C166.9 1319.2 170.4 1315.5 173.5 1313.2C176.6 1310.9 179.2 1308.7 182.1 1308.1C184.9 1307.5 189.2 1309.5 190.6 1309.8M67.4 1326.1C68.8 1327.6 72.5 1332.8 75.9 1335.5C79.4 1338.2 83.6 1340.6 87.9 1342.3C92.2 1344 97.3 1344.6 101.6 1345.7C105.9 1346.9 109.9 1347.2 113.6 1349.2C117.3 1351.2 121 1354.3 123.9 1357.7C126.7 1361.1 129.6 1365.4 130.7 1369.7C131.8 1374 131.3 1378.8 130.7 1383.4C130.1 1388 128.7 1392.5 127.3 1397.1C125.9 1401.6 124.1 1406.8 122.1 1410.8C120.2 1414.8 117.3 1417.9 115.3 1421C113.3 1424.2 110.7 1426.5 110.2 1429.6C109.6 1432.7 111 1436.2 111.9 1439.9C112.7 1443.6 113.6 1447.9 115.3 1451.9C117 1455.8 119.3 1460.1 122.1 1463.8C125 1467.5 128.7 1471.2 132.4 1474.1C136.1 1477 140.1 1479.2 144.4 1480.9C148.7 1482.7 154.1 1484.4 158.1 1484.4C162.1 1484.4 165.8 1482.7 168.4 1480.9C170.9 1479.2 172.9 1477 173.5 1474.1C174.1 1471.2 171.8 1466.7 171.8 1463.8C171.8 1461 172.1 1458.4 173.5 1457C174.9 1455.6 177.8 1455 180.3 1455.3C182.9 1455.6 186 1457.8 188.9 1458.7C191.7 1459.6 194.9 1461.3 197.5 1460.4C200 1459.6 202.9 1456.4 204.3 1453.6C205.7 1450.7 206 1446.7 206 1443.3C206 1439.9 205.7 1435.6 204.3 1433C202.9 1430.5 199.7 1428.5 197.5 1427.9C195.2 1427.3 192 1428.5 190.6 1429.6C189.2 1430.7 189.2 1433.9 188.9 1434.7M293.3 1427.9C294.4 1429.3 298.7 1433.3 300.1 1436.4C301.6 1439.6 302.4 1443 301.9 1446.7C301.3 1450.4 298.7 1454.7 296.7 1458.7C294.7 1462.7 292.4 1467 289.9 1470.7C287.3 1474.4 284.5 1478.1 281.3 1480.9C278.2 1483.8 274.5 1486.1 271 1487.8C267.6 1489.5 263.9 1490.9 260.8 1491.2C257.6 1491.5 254.5 1491.2 252.2 1489.5C249.9 1487.8 248.5 1484.1 247.1 1480.9C245.7 1477.8 244.7 1474.4 243.7 1470.7C242.7 1467 241.7 1462.7 241.1 1458.7C240.5 1454.7 240.5 1450.4 240.2 1446.7C240 1443 239.7 1439 239.4 1436.4C239.1 1433.9 238.7 1432.2 238.5 1431.3M264.2 1334.6C263.6 1333.3 262.5 1329.6 260.8 1326.9C259.1 1324.2 255.4 1321.2 253.9 1318.4C252.5 1315.5 251.6 1312.4 252.2 1309.8C252.8 1307.2 254.5 1304.8 257.4 1303C260.2 1301.1 264.8 1300 269.3 1298.7C273.9 1297.4 279.6 1296 284.7 1295.3C289.9 1294.5 296.1 1294 300.1 1294.4C304.1 1294.8 306.7 1295.3 308.7 1297.8C310.7 1300.4 311.6 1305.5 312.1 1309.8C312.7 1314.1 312.5 1318.9 312.1 1323.5C311.7 1328.1 310.1 1332.9 309.6 1337.2C309 1341.5 308.3 1345.5 308.7 1349.2C309.1 1352.9 310.4 1357.7 312.1 1359.4C313.8 1361.1 316.4 1360.6 319 1359.4C321.5 1358.3 324 1354.6 327.5 1352.6C331 1350.6 337.9 1348.3 340 1347.5"/><path class="Ct" d="M221.4 1316.6C220.6 1315.2 219.1 1310.7 216.3 1308.1C213.4 1305.5 208.6 1303.2 204.3 1301.2C200 1299.2 194.3 1297.8 190.6 1296.1C186.9 1294.4 183.8 1293 182.1 1291C180.3 1289 179.2 1286.1 180.3 1284.1C181.5 1282.1 185.2 1280.7 188.9 1279C192.6 1277.3 198 1275.6 202.6 1273.9C207.2 1272.1 211.7 1270.2 216.3 1268.7C220.8 1267.3 226.3 1266.4 230 1265.3C233.7 1264.2 236.8 1263.6 238.5 1261.9C240.2 1260.2 241.1 1257.3 240.2 1255C239.4 1252.8 236.5 1250.5 233.4 1248.2C230.3 1245.9 225.1 1243.6 221.4 1241.3C217.7 1239.1 213.4 1237.1 211.1 1234.5C208.9 1231.9 207.4 1228.5 207.7 1225.9C208 1223.4 210 1221.1 212.9 1219.1C215.7 1217.1 220.3 1215.2 224.8 1214C229.4 1212.7 234.8 1211.5 240.2 1211.4C245.7 1211.3 252.2 1212.1 257.4 1213.1C262.5 1214.1 267.5 1215.8 271 1217.4C274.6 1219 277.9 1221.1 278.7 1222.5C279.6 1223.9 278.3 1225.4 276.2 1225.9C274 1226.5 268.8 1225.4 265.9 1225.9C263.1 1226.5 260.3 1227.7 259.1 1229.4C257.8 1231.1 258.4 1235.1 258.2 1236.2M151.2 1328.6C153.2 1327.5 159.5 1324.3 163.2 1321.8C166.9 1319.2 170.4 1315.5 173.5 1313.2C176.6 1310.9 179.2 1308.7 182.1 1308.1C184.9 1307.5 189.2 1309.5 190.6 1309.8M67.4 1326.1C68.8 1327.6 72.5 1332.8 75.9 1335.5C79.4 1338.2 83.6 1340.6 87.9 1342.3C92.2 1344 97.3 1344.6 101.6 1345.7C105.9 1346.9 109.9 1347.2 113.6 1349.2C117.3 1351.2 121 1354.3 123.9 1357.7C126.7 1361.1 129.6 1365.4 130.7 1369.7C131.8 1374 131.3 1378.8 130.7 1383.4C130.1 1388 128.7 1392.5 127.3 1397.1C125.9 1401.6 124.1 1406.8 122.1 1410.8C120.2 1414.8 117.3 1417.9 115.3 1421C113.3 1424.2 110.7 1426.5 110.2 1429.6C109.6 1432.7 111 1436.2 111.9 1439.9C112.7 1443.6 113.6 1447.9 115.3 1451.9C117 1455.8 119.3 1460.1 122.1 1463.8C125 1467.5 128.7 1471.2 132.4 1474.1C136.1 1477 140.1 1479.2 144.4 1480.9C148.7 1482.7 154.1 1484.4 158.1 1484.4C162.1 1484.4 165.8 1482.7 168.4 1480.9C170.9 1479.2 172.9 1477 173.5 1474.1C174.1 1471.2 171.8 1466.7 171.8 1463.8C171.8 1461 172.1 1458.4 173.5 1457C174.9 1455.6 177.8 1455 180.3 1455.3C182.9 1455.6 186 1457.8 188.9 1458.7C191.7 1459.6 194.9 1461.3 197.5 1460.4C200 1459.6 202.9 1456.4 204.3 1453.6C205.7 1450.7 206 1446.7 206 1443.3C206 1439.9 205.7 1435.6 204.3 1433C202.9 1430.5 199.7 1428.5 197.5 1427.9C195.2 1427.3 192 1428.5 190.6 1429.6C189.2 1430.7 189.2 1433.9 188.9 1434.7M293.3 1427.9C294.4 1429.3 298.7 1433.3 300.1 1436.4C301.6 1439.6 302.4 1443 301.9 1446.7C301.3 1450.4 298.7 1454.7 296.7 1458.7C294.7 1462.7 292.4 1467 289.9 1470.7C287.3 1474.4 284.5 1478.1 281.3 1480.9C278.2 1483.8 274.5 1486.1 271 1487.8C267.6 1489.5 263.9 1490.9 260.8 1491.2C257.6 1491.5 254.5 1491.2 252.2 1489.5C249.9 1487.8 248.5 1484.1 247.1 1480.9C245.7 1477.8 244.7 1474.4 243.7 1470.7C242.7 1467 241.7 1462.7 241.1 1458.7C240.5 1454.7 240.5 1450.4 240.2 1446.7C240 1443 239.7 1439 239.4 1436.4C239.1 1433.9 238.7 1432.2 238.5 1431.3M264.2 1334.6C263.6 1333.3 262.5 1329.6 260.8 1326.9C259.1 1324.2 255.4 1321.2 253.9 1318.4C252.5 1315.5 251.6 1312.4 252.2 1309.8C252.8 1307.2 254.5 1304.8 257.4 1303C260.2 1301.1 264.8 1300 269.3 1298.7C273.9 1297.4 279.6 1296 284.7 1295.3C289.9 1294.5 296.1 1294 300.1 1294.4C304.1 1294.8 306.7 1295.3 308.7 1297.8C310.7 1300.4 311.6 1305.5 312.1 1309.8C312.7 1314.1 312.5 1318.9 312.1 1323.5C311.7 1328.1 310.1 1332.9 309.6 1337.2C309 1341.5 308.3 1345.5 308.7 1349.2C309.1 1352.9 310.4 1357.7 312.1 1359.4C313.8 1361.1 316.4 1360.6 319 1359.4C321.5 1358.3 324 1354.6 327.5 1352.6C331 1350.6 337.9 1348.3 340 1347.5"/>
<path class="Gb" d="M197.5 1318.4C196.3 1317.2 193.5 1313.8 190.6 1311.5C187.8 1309.2 184.3 1306.9 180.3 1304.7C176.3 1302.4 170.6 1300.1 166.6 1297.8C162.7 1295.5 158.5 1293.3 156.4 1291C154.2 1288.7 153.2 1286.1 153.8 1284.1C154.4 1282.1 156.5 1280.7 159.8 1279C163.1 1277.3 168.9 1275.4 173.5 1273.9C178.1 1272.3 182.3 1270.4 187.2 1269.6C192 1268.7 198.3 1269.3 202.6 1268.7C206.9 1268.2 210.4 1267.6 212.9 1266.2C215.3 1264.7 217.1 1262.3 217.1 1260.2C217.1 1258 215.3 1255.6 212.9 1253.3C210.4 1251 205.7 1248.8 202.6 1246.5C199.5 1244.2 196 1241.9 194 1239.6C192 1237.4 190.6 1235.1 190.6 1232.8C190.6 1230.5 191.7 1227.8 194 1225.9C196.3 1224.1 200 1222.5 204.3 1221.7C208.6 1220.8 214.3 1220.5 219.7 1220.8C225.1 1221.1 231.4 1222.1 236.8 1223.4C242.2 1224.7 247.4 1226.5 252.2 1228.5C257.1 1230.5 261.6 1232.9 265.9 1235.4C270.2 1237.8 277 1241.9 277.9 1243.1C278.7 1244.2 272.8 1242.1 271 1242.2C269.3 1242.3 267.6 1242.3 267.6 1243.9C267.6 1245.5 269.3 1248.9 271 1251.6C272.8 1254.3 275.9 1257.3 277.9 1260.2C279.9 1263 282.7 1266.2 283 1268.7C283.3 1271.3 281.6 1274 279.6 1275.6C277.6 1277.1 272.5 1277.7 271 1278.1M153 1332.9C155 1331.6 161.2 1327.9 164.9 1325.2C168.6 1322.5 171.8 1319.1 175.2 1316.6C178.6 1314.2 183.8 1311.7 185.5 1310.7M58.8 1336.3C60.5 1337.3 65.1 1340 69.1 1342.3C73.1 1344.6 78.2 1347.9 82.8 1350C87.4 1352.2 92.2 1353.6 96.5 1355.2C100.8 1356.7 105 1357.3 108.5 1359.4C111.9 1361.6 115 1364.6 117 1368C119 1371.4 120.2 1375.7 120.4 1380C120.7 1384.2 119.6 1389.1 118.7 1393.7C117.9 1398.2 116.7 1403.1 115.3 1407.4C113.9 1411.6 112.2 1415.6 110.2 1419.3C108.2 1423 105.3 1426.5 103.3 1429.6C101.3 1432.7 98.8 1434.7 98.2 1438.2C97.6 1441.6 98.8 1446.1 99.9 1450.1C101 1454.1 102.8 1458.4 105 1462.1C107.3 1465.8 110.2 1469 113.6 1472.4C117 1475.8 121.3 1479.8 125.6 1482.7C129.9 1485.5 134.4 1487.5 139.3 1489.5C144.1 1491.5 149.8 1493.8 154.7 1494.6C159.5 1495.5 164.7 1495.5 168.4 1494.6C172.1 1493.8 175.1 1491.8 176.9 1489.5C178.8 1487.2 179.5 1484.1 179.5 1480.9C179.5 1477.8 177.1 1473.5 176.9 1470.7C176.8 1467.8 177.2 1465.3 178.6 1463.8C180.1 1462.4 182.9 1461.8 185.5 1462.1C188 1462.4 191.2 1465 194 1465.5C196.9 1466.1 199.7 1466.7 202.6 1465.5C205.4 1464.4 209.1 1461.6 211.1 1458.7C213.1 1455.8 214 1451.9 214.6 1448.4C215.1 1445 215.1 1440.7 214.6 1438.2C214 1435.6 211.7 1433.9 211.1 1433M298.4 1419.3C299.6 1420.8 303.7 1425 305.3 1427.9C306.8 1430.7 308 1433 307.8 1436.4C307.7 1439.9 306 1444.2 304.4 1448.4C302.9 1452.7 300.9 1457.6 298.4 1462.1C296 1466.7 293 1471.8 289.9 1475.8C286.7 1479.8 283.3 1483.5 279.6 1486.1C275.9 1488.6 271 1490.6 267.6 1491.2C264.2 1491.8 261.3 1491.2 259.1 1489.5C256.8 1487.8 255.4 1484.1 253.9 1480.9C252.5 1477.8 251.6 1474.4 250.5 1470.7C249.4 1467 248.1 1462.7 247.1 1458.7C246.1 1454.7 245.2 1450.4 244.5 1446.7C243.8 1443 243.4 1439 242.8 1436.4C242.2 1433.9 241.4 1432.2 241.1 1431.3M267.6 1332.9C267.1 1331.6 265.9 1327.9 264.2 1325.2C262.5 1322.5 259.1 1319.2 257.4 1316.6C255.6 1314.1 253.9 1312.1 253.9 1309.8C253.9 1307.5 255.1 1305 257.4 1303C259.6 1301 263.3 1299.2 267.6 1297.8C271.9 1296.4 277.9 1295.3 283 1294.4C288.2 1293.5 293.9 1293 298.4 1292.7C303 1292.4 307.3 1291.5 310.4 1292.7C313.5 1293.8 315.5 1296.7 317.3 1299.5C319 1302.4 320.1 1306.1 320.7 1309.8C321.2 1313.5 321.2 1317.8 320.7 1321.8C320.1 1325.8 318.4 1330.1 317.3 1333.8C316.1 1337.5 314.1 1340.6 313.8 1344C313.5 1347.5 314.1 1352.9 315.5 1354.3C317 1355.7 319.8 1354 322.4 1352.6C325 1351.2 328 1347.5 330.9 1345.7C333.9 1344 338.5 1342.9 340 1342.3"/><path class="Gt" d="M197.5 1318.4C196.3 1317.2 193.5 1313.8 190.6 1311.5C187.8 1309.2 184.3 1306.9 180.3 1304.7C176.3 1302.4 170.6 1300.1 166.6 1297.8C162.7 1295.5 158.5 1293.3 156.4 1291C154.2 1288.7 153.2 1286.1 153.8 1284.1C154.4 1282.1 156.5 1280.7 159.8 1279C163.1 1277.3 168.9 1275.4 173.5 1273.9C178.1 1272.3 182.3 1270.4 187.2 1269.6C192 1268.7 198.3 1269.3 202.6 1268.7C206.9 1268.2 210.4 1267.6 212.9 1266.2C215.3 1264.7 217.1 1262.3 217.1 1260.2C217.1 1258 215.3 1255.6 212.9 1253.3C210.4 1251 205.7 1248.8 202.6 1246.5C199.5 1244.2 196 1241.9 194 1239.6C192 1237.4 190.6 1235.1 190.6 1232.8C190.6 1230.5 191.7 1227.8 194 1225.9C196.3 1224.1 200 1222.5 204.3 1221.7C208.6 1220.8 214.3 1220.5 219.7 1220.8C225.1 1221.1 231.4 1222.1 236.8 1223.4C242.2 1224.7 247.4 1226.5 252.2 1228.5C257.1 1230.5 261.6 1232.9 265.9 1235.4C270.2 1237.8 277 1241.9 277.9 1243.1C278.7 1244.2 272.8 1242.1 271 1242.2C269.3 1242.3 267.6 1242.3 267.6 1243.9C267.6 1245.5 269.3 1248.9 271 1251.6C272.8 1254.3 275.9 1257.3 277.9 1260.2C279.9 1263 282.7 1266.2 283 1268.7C283.3 1271.3 281.6 1274 279.6 1275.6C277.6 1277.1 272.5 1277.7 271 1278.1M153 1332.9C155 1331.6 161.2 1327.9 164.9 1325.2C168.6 1322.5 171.8 1319.1 175.2 1316.6C178.6 1314.2 183.8 1311.7 185.5 1310.7M58.8 1336.3C60.5 1337.3 65.1 1340 69.1 1342.3C73.1 1344.6 78.2 1347.9 82.8 1350C87.4 1352.2 92.2 1353.6 96.5 1355.2C100.8 1356.7 105 1357.3 108.5 1359.4C111.9 1361.6 115 1364.6 117 1368C119 1371.4 120.2 1375.7 120.4 1380C120.7 1384.2 119.6 1389.1 118.7 1393.7C117.9 1398.2 116.7 1403.1 115.3 1407.4C113.9 1411.6 112.2 1415.6 110.2 1419.3C108.2 1423 105.3 1426.5 103.3 1429.6C101.3 1432.7 98.8 1434.7 98.2 1438.2C97.6 1441.6 98.8 1446.1 99.9 1450.1C101 1454.1 102.8 1458.4 105 1462.1C107.3 1465.8 110.2 1469 113.6 1472.4C117 1475.8 121.3 1479.8 125.6 1482.7C129.9 1485.5 134.4 1487.5 139.3 1489.5C144.1 1491.5 149.8 1493.8 154.7 1494.6C159.5 1495.5 164.7 1495.5 168.4 1494.6C172.1 1493.8 175.1 1491.8 176.9 1489.5C178.8 1487.2 179.5 1484.1 179.5 1480.9C179.5 1477.8 177.1 1473.5 176.9 1470.7C176.8 1467.8 177.2 1465.3 178.6 1463.8C180.1 1462.4 182.9 1461.8 185.5 1462.1C188 1462.4 191.2 1465 194 1465.5C196.9 1466.1 199.7 1466.7 202.6 1465.5C205.4 1464.4 209.1 1461.6 211.1 1458.7C213.1 1455.8 214 1451.9 214.6 1448.4C215.1 1445 215.1 1440.7 214.6 1438.2C214 1435.6 211.7 1433.9 211.1 1433M298.4 1419.3C299.6 1420.8 303.7 1425 305.3 1427.9C306.8 1430.7 308 1433 307.8 1436.4C307.7 1439.9 306 1444.2 304.4 1448.4C302.9 1452.7 300.9 1457.6 298.4 1462.1C296 1466.7 293 1471.8 289.9 1475.8C286.7 1479.8 283.3 1483.5 279.6 1486.1C275.9 1488.6 271 1490.6 267.6 1491.2C264.2 1491.8 261.3 1491.2 259.1 1489.5C256.8 1487.8 255.4 1484.1 253.9 1480.9C252.5 1477.8 251.6 1474.4 250.5 1470.7C249.4 1467 248.1 1462.7 247.1 1458.7C246.1 1454.7 245.2 1450.4 244.5 1446.7C243.8 1443 243.4 1439 242.8 1436.4C242.2 1433.9 241.4 1432.2 241.1 1431.3M267.6 1332.9C267.1 1331.6 265.9 1327.9 264.2 1325.2C262.5 1322.5 259.1 1319.2 257.4 1316.6C255.6 1314.1 253.9 1312.1 253.9 1309.8C253.9 1307.5 255.1 1305 257.4 1303C259.6 1301 263.3 1299.2 267.6 1297.8C271.9 1296.4 277.9 1295.3 283 1294.4C288.2 1293.5 293.9 1293 298.4 1292.7C303 1292.4 307.3 1291.5 310.4 1292.7C313.5 1293.8 315.5 1296.7 317.3 1299.5C319 1302.4 320.1 1306.1 320.7 1309.8C321.2 1313.5 321.2 1317.8 320.7 1321.8C320.1 1325.8 318.4 1330.1 317.3 1333.8C316.1 1337.5 314.1 1340.6 313.8 1344C313.5 1347.5 314.1 1352.9 315.5 1354.3C317 1355.7 319.8 1354 322.4 1352.6C325 1351.2 328 1347.5 330.9 1345.7C333.9 1344 338.5 1342.9 340 1342.3"/>
<path d="M286.4 1424.5L296.7 1421L300.1 1426.2L291.6 1431.3Z" class="F" fill="#48bccb" stroke="#48bccb"/>
<path d="M228.3 1336.3L245.4 1345.7L265.9 1362.9L284.7 1383.4L303.6 1409.1L296.7 1421L288.2 1424.5L274.5 1409.1L257.4 1392L242 1374.8L231.7 1354.3Z" class="F" fill="#2fa95e" stroke="#2fa95e"/>
<path d="M248.8 1354.3L267.6 1369.7L283 1388.5L293.3 1403.9L286.4 1409.1L272.8 1392L257.4 1374.8Z" class="F" fill="#6cc47f" stroke="#6cc47f"/>
<path d="M212.9 1318.4L224.8 1317.5L228.3 1335.5L231.7 1352.6L236.8 1369.7L243.7 1386.8L249.7 1388.5L247.9 1405.6L243.7 1421L238.5 1390.2L233.4 1378.3L226.5 1390.2L223.1 1371.4L219.7 1347.5L216.3 1330.3Z" class="F" fill="#48bccb" stroke="#48bccb"/>
<path d="M194.9 1320.9L204.3 1316.6L216.3 1337.2L224.8 1361.1L233.4 1381.7L238.5 1390.2L245.4 1392L244.5 1409.1L241.1 1429.6L224.8 1415.9L212.9 1403.9L219.7 1399.7L212.9 1378.3L204.3 1352.6L197.5 1332.1Z" class="F" fill="#2fa95e" stroke="#2fa95e"/>
<path d="M221.4 1402.2L242 1395.4L240.2 1422.8L228.3 1412.5Z" class="F" fill="#6cc47f" stroke="#6cc47f"/>
<circle cx="211.7" cy="1283.8" r="7.7" fill="#444"/>
<circle cx="213.6" cy="1281.5" r="2.2" fill="#fff" opacity=".28"/>
<circle cx="252.6" cy="1445.9" r="7.5" fill="#444"/>
<circle cx="254.4" cy="1443.6" r="2.1" fill="#fff" opacity=".28"/>
<path d="M321.8 1239.9L341.7 1228.1L352.6 1241.7L356.3 1256.2L347.2 1263.4L327.2 1270.7L321.8 1258ZM354.4 1252.6L372.6 1254.4L379.9 1268.9L378 1287L369 1278L359.9 1268.9Z" class="F" fill="#a8e0e6" stroke="#a8e0e6"/>
<path d="M370.8 1299.7L390.7 1285.2L401.6 1297.9L401.6 1310.6L394.4 1323.3L385.3 1316.1L379.9 1307ZM338.1 1323.3L350.8 1317.9L376.2 1319.7L394.4 1319.7L388.9 1334.2L372.6 1341.5L354.4 1343.3L339.9 1337.9Z" class="F" fill="#a3dbb0" stroke="#a3dbb0"/>
<path d="M327.2 1356L345.4 1346.9L367.2 1334.2L379.9 1334.2L381.7 1348.7L372.6 1361.5L354.4 1368.7L336.3 1370.5ZM434.3 1377.8L445.2 1372.3L448.8 1392.3L470.6 1392.3L470.6 1410.5L463.3 1417.7L441.6 1415.9L432.5 1405Z" class="F" fill="#a8e0e6" stroke="#a8e0e6"/>
<path d="M427 1410.5L434.3 1386.9L441.6 1392.3L441.6 1414.1L434.3 1419.5Z" class="F" fill="#a3dbb0" stroke="#a3dbb0"/>
<path class="cb" d="M361.7 1189C362.9 1190.6 367.6 1194.5 369 1198.1C370.3 1201.7 370.5 1206.6 369.9 1210.8C369.3 1215.1 367.6 1219.9 365.3 1223.5C363.1 1227.2 359 1230.2 356.3 1232.6C353.5 1235 350.2 1237.1 349 1238"/><path class="ct" d="M361.7 1189C362.9 1190.6 367.6 1194.5 369 1198.1C370.3 1201.7 370.5 1206.6 369.9 1210.8C369.3 1215.1 367.6 1219.9 365.3 1223.5C363.1 1227.2 359 1230.2 356.3 1232.6C353.5 1235 350.2 1237.1 349 1238"/>
<path class="gb" d="M427 1194.5C425.5 1194.8 421.3 1194.8 418 1196.3C414.6 1197.8 411 1200.8 407.1 1203.6C403.1 1206.3 398.9 1209.6 394.4 1212.6C389.8 1215.7 384.1 1218.4 379.9 1221.7C375.6 1225 372 1229 369 1232.6C365.9 1236.2 363.5 1239.6 361.7 1243.5C359.9 1247.4 358.7 1252 358.1 1256.2C357.5 1260.4 357.2 1265 358.1 1268.9C359 1272.8 362.6 1278 363.5 1279.8M427 1194.5C426.4 1196.3 425.2 1201.4 423.4 1205.4C421.6 1209.3 418.3 1213.5 416.2 1218.1C414 1222.6 411.9 1228.1 410.7 1232.6C409.5 1237.1 409.2 1243.2 408.9 1245.3"/><path class="gt" d="M427 1194.5C425.5 1194.8 421.3 1194.8 418 1196.3C414.6 1197.8 411 1200.8 407.1 1203.6C403.1 1206.3 398.9 1209.6 394.4 1212.6C389.8 1215.7 384.1 1218.4 379.9 1221.7C375.6 1225 372 1229 369 1232.6C365.9 1236.2 363.5 1239.6 361.7 1243.5C359.9 1247.4 358.7 1252 358.1 1256.2C357.5 1260.4 357.2 1265 358.1 1268.9C359 1272.8 362.6 1278 363.5 1279.8M427 1194.5C426.4 1196.3 425.2 1201.4 423.4 1205.4C421.6 1209.3 418.3 1213.5 416.2 1218.1C414 1222.6 411.9 1228.1 410.7 1232.6C409.5 1237.1 409.2 1243.2 408.9 1245.3"/>
<path class="cb" d="M359.9 1296.1C358.4 1296.7 352.9 1297.9 350.8 1299.7C348.7 1301.6 346.9 1304.6 347.2 1307C347.5 1309.4 350.5 1312.8 352.6 1314.3C354.7 1315.8 358.7 1315.8 359.9 1316.1"/><path class="ct" d="M359.9 1296.1C358.4 1296.7 352.9 1297.9 350.8 1299.7C348.7 1301.6 346.9 1304.6 347.2 1307C347.5 1309.4 350.5 1312.8 352.6 1314.3C354.7 1315.8 358.7 1315.8 359.9 1316.1"/>
<path class="nb" d="M490.6 1352.4C492.7 1352.1 499.3 1350.3 503.3 1350.6C507.2 1350.9 511.4 1352.1 514.2 1354.2C516.9 1356.3 518.4 1359.9 519.6 1363.3C520.8 1366.6 520.5 1370.5 521.4 1374.2C522.3 1377.8 522.9 1382 525 1385C527.2 1388.1 530.8 1391.1 534.1 1392.3C537.4 1393.5 541.4 1393.2 545 1392.3C548.6 1391.4 552.3 1389 555.9 1386.9C559.5 1384.7 563.5 1382.3 566.8 1379.6C570.1 1376.9 573.1 1373.6 575.9 1370.5C578.6 1367.5 581.5 1363.3 583.1 1361.5C584.8 1359.6 585.4 1359.9 585.8 1359.6"/><path class="nt" d="M490.6 1352.4C492.7 1352.1 499.3 1350.3 503.3 1350.6C507.2 1350.9 511.4 1352.1 514.2 1354.2C516.9 1356.3 518.4 1359.9 519.6 1363.3C520.8 1366.6 520.5 1370.5 521.4 1374.2C522.3 1377.8 522.9 1382 525 1385C527.2 1388.1 530.8 1391.1 534.1 1392.3C537.4 1393.5 541.4 1393.2 545 1392.3C548.6 1391.4 552.3 1389 555.9 1386.9C559.5 1384.7 563.5 1382.3 566.8 1379.6C570.1 1376.9 573.1 1373.6 575.9 1370.5C578.6 1367.5 581.5 1363.3 583.1 1361.5C584.8 1359.6 585.4 1359.9 585.8 1359.6"/>
<path class="mb" d="M488.7 1359.6C490.6 1359.9 496 1360.5 499.6 1361.5C503.3 1362.4 507.2 1363.3 510.5 1365.1C513.9 1366.9 516.9 1369.9 519.6 1372.3C522.3 1374.8 523.8 1377.5 526.9 1379.6C529.9 1381.7 533.8 1383.8 537.7 1385C541.7 1386.3 546.2 1386.9 550.5 1386.9C554.7 1386.9 558.9 1386 563.2 1385C567.4 1384.1 571.9 1382.9 575.9 1381.4C579.8 1379.9 583.7 1378.1 586.8 1376C589.8 1373.9 593.4 1370.5 594 1368.7C594.6 1366.9 591 1365.7 590.4 1365.1"/><path class="mt" d="M488.7 1359.6C490.6 1359.9 496 1360.5 499.6 1361.5C503.3 1362.4 507.2 1363.3 510.5 1365.1C513.9 1366.9 516.9 1369.9 519.6 1372.3C522.3 1374.8 523.8 1377.5 526.9 1379.6C529.9 1381.7 533.8 1383.8 537.7 1385C541.7 1386.3 546.2 1386.9 550.5 1386.9C554.7 1386.9 558.9 1386 563.2 1385C567.4 1384.1 571.9 1382.9 575.9 1381.4C579.8 1379.9 583.7 1378.1 586.8 1376C589.8 1373.9 593.4 1370.5 594 1368.7C594.6 1366.9 591 1365.7 590.4 1365.1"/>
<path class="gb" d="M399.8 1394.1C400.7 1395.9 403.1 1401.4 405.3 1405C407.4 1408.6 409.5 1412.9 412.5 1415.9C415.5 1418.9 421.6 1421.9 423.4 1423.2"/><path class="gt" d="M399.8 1394.1C400.7 1395.9 403.1 1401.4 405.3 1405C407.4 1408.6 409.5 1412.9 412.5 1415.9C415.5 1418.9 421.6 1421.9 423.4 1423.2"/>
<path class="cb" d="M407.1 1395.9C408 1397.7 410.4 1403.8 412.5 1406.8C414.6 1409.8 418.6 1412.9 419.8 1414.1"/><path class="ct" d="M407.1 1395.9C408 1397.7 410.4 1403.8 412.5 1406.8C414.6 1409.8 418.6 1412.9 419.8 1414.1"/>
<path class="gb" d="M372.6 1383.2C374.7 1382.9 381.7 1380.8 385.3 1381.4C388.9 1382 392.9 1386 394.4 1386.9"/><path class="gt" d="M372.6 1383.2C374.7 1382.9 381.7 1380.8 385.3 1381.4C388.9 1382 392.9 1386 394.4 1386.9"/>
<path class="Cb" d="M349 1177.2C349.9 1178.9 351.7 1185.6 354.4 1187.2C357.2 1188.9 361.7 1188.4 365.3 1187.2C369 1186 372.6 1181.9 376.2 1180C379.9 1178 383.8 1175.4 387.1 1175.4C390.4 1175.4 393.8 1177.4 396.2 1180C398.6 1182.5 400.3 1186.3 401.6 1190.9C403 1195.4 403.9 1201.7 404.4 1207.2C404.8 1212.6 404.2 1218.1 404.4 1223.5C404.5 1229 404.8 1235.3 405.3 1239.9C405.7 1244.4 406.8 1248.9 407.1 1250.7M407.1 1250.7C406.5 1252.9 404.4 1258.9 403.4 1263.4C402.5 1268 401.6 1273.4 401.6 1278C401.6 1282.5 401.9 1286.7 403.4 1290.7C405 1294.6 407.4 1298.8 410.7 1301.6C414 1304.3 419.2 1305.8 423.4 1307C427.6 1308.2 432.2 1308.1 436.1 1308.8C440 1309.6 445.2 1311.1 447 1311.5M300 1297.9C301.2 1298.2 305.3 1297.6 307.3 1299.7C309.2 1301.9 311.3 1306.1 311.8 1310.6C312.3 1315.2 310.6 1321.5 310 1327C309.4 1332.4 308.2 1338.2 308.2 1343.3C308.2 1348.4 308.9 1354.2 310 1357.8C311 1361.5 312.3 1364.8 314.5 1365.1C316.8 1365.4 320 1361.8 323.6 1359.6C327.2 1357.5 332.1 1354.8 336.3 1352.4C340.5 1350 345.4 1347.5 349 1345.1C352.6 1342.7 356.6 1339.1 358.1 1337.9M394.4 1258C392.9 1259.2 388.9 1262.5 385.3 1265.3C381.7 1268 376.2 1270.7 372.6 1274.3C369 1278 365.9 1282.8 363.5 1287C361.1 1291.3 359 1295.5 358.1 1299.7C357.2 1304 357.2 1308.5 358.1 1312.5C359 1316.4 362 1319.7 363.5 1323.3C365 1327 366.8 1330.3 367.2 1334.2C367.5 1338.2 365.9 1342.7 365.3 1346.9C364.7 1351.2 363.5 1355.4 363.5 1359.6C363.5 1363.9 364.1 1368.1 365.3 1372.3C366.5 1376.6 368.7 1381.4 370.8 1385C372.9 1388.7 375.3 1392.3 378 1394.1C380.8 1395.9 384.1 1396.5 387.1 1395.9C390.1 1395.3 393.5 1392.9 396.2 1390.5C398.9 1388.1 401.3 1384.7 403.4 1381.4C405.6 1378.1 407.4 1374.2 408.9 1370.5C410.4 1366.9 410.7 1362.7 412.5 1359.6C414.3 1356.6 417.1 1353.9 419.8 1352.4C422.5 1350.9 425.5 1350 428.9 1350.6C432.2 1351.2 436.7 1353.6 439.7 1356C442.8 1358.4 445.2 1362.4 447 1365.1C448.8 1367.8 450 1371.1 450.6 1372.3"/><path class="Ct" d="M349 1177.2C349.9 1178.9 351.7 1185.6 354.4 1187.2C357.2 1188.9 361.7 1188.4 365.3 1187.2C369 1186 372.6 1181.9 376.2 1180C379.9 1178 383.8 1175.4 387.1 1175.4C390.4 1175.4 393.8 1177.4 396.2 1180C398.6 1182.5 400.3 1186.3 401.6 1190.9C403 1195.4 403.9 1201.7 404.4 1207.2C404.8 1212.6 404.2 1218.1 404.4 1223.5C404.5 1229 404.8 1235.3 405.3 1239.9C405.7 1244.4 406.8 1248.9 407.1 1250.7M407.1 1250.7C406.5 1252.9 404.4 1258.9 403.4 1263.4C402.5 1268 401.6 1273.4 401.6 1278C401.6 1282.5 401.9 1286.7 403.4 1290.7C405 1294.6 407.4 1298.8 410.7 1301.6C414 1304.3 419.2 1305.8 423.4 1307C427.6 1308.2 432.2 1308.1 436.1 1308.8C440 1309.6 445.2 1311.1 447 1311.5M300 1297.9C301.2 1298.2 305.3 1297.6 307.3 1299.7C309.2 1301.9 311.3 1306.1 311.8 1310.6C312.3 1315.2 310.6 1321.5 310 1327C309.4 1332.4 308.2 1338.2 308.2 1343.3C308.2 1348.4 308.9 1354.2 310 1357.8C311 1361.5 312.3 1364.8 314.5 1365.1C316.8 1365.4 320 1361.8 323.6 1359.6C327.2 1357.5 332.1 1354.8 336.3 1352.4C340.5 1350 345.4 1347.5 349 1345.1C352.6 1342.7 356.6 1339.1 358.1 1337.9M394.4 1258C392.9 1259.2 388.9 1262.5 385.3 1265.3C381.7 1268 376.2 1270.7 372.6 1274.3C369 1278 365.9 1282.8 363.5 1287C361.1 1291.3 359 1295.5 358.1 1299.7C357.2 1304 357.2 1308.5 358.1 1312.5C359 1316.4 362 1319.7 363.5 1323.3C365 1327 366.8 1330.3 367.2 1334.2C367.5 1338.2 365.9 1342.7 365.3 1346.9C364.7 1351.2 363.5 1355.4 363.5 1359.6C363.5 1363.9 364.1 1368.1 365.3 1372.3C366.5 1376.6 368.7 1381.4 370.8 1385C372.9 1388.7 375.3 1392.3 378 1394.1C380.8 1395.9 384.1 1396.5 387.1 1395.9C390.1 1395.3 393.5 1392.9 396.2 1390.5C398.9 1388.1 401.3 1384.7 403.4 1381.4C405.6 1378.1 407.4 1374.2 408.9 1370.5C410.4 1366.9 410.7 1362.7 412.5 1359.6C414.3 1356.6 417.1 1353.9 419.8 1352.4C422.5 1350.9 425.5 1350 428.9 1350.6C432.2 1351.2 436.7 1353.6 439.7 1356C442.8 1358.4 445.2 1362.4 447 1365.1C448.8 1367.8 450 1371.1 450.6 1372.3"/>
<path class="Db" d="M369 1265.3C370.5 1264.5 375 1261.8 378 1260.7C381.1 1259.7 384.7 1258.8 387.1 1258.9C389.5 1259.1 391.7 1261.2 392.6 1261.6"/><path class="Dt" d="M369 1265.3C370.5 1264.5 375 1261.8 378 1260.7C381.1 1259.7 384.7 1258.8 387.1 1258.9C389.5 1259.1 391.7 1261.2 392.6 1261.6"/>
<path class="Cb" d="M585.8 1360.5C585.7 1362.2 586 1367.4 584.9 1370.5C583.9 1373.7 582.2 1377.2 579.5 1379.6C576.8 1382 572.5 1383.8 568.6 1385C564.7 1386.3 559.8 1386 555.9 1386.9C552 1387.8 547.7 1388.7 545 1390.5C542.3 1392.3 540.5 1394.7 539.6 1397.7C538.7 1400.8 539.3 1405 539.6 1408.6C539.9 1412.3 541.1 1417.7 541.4 1419.5M506.9 1417.7C505.7 1419.5 502.4 1426.2 499.6 1428.6C496.9 1431 493.9 1432.2 490.6 1432.2C487.2 1432.2 483.6 1429.8 479.7 1428.6C475.7 1427.4 471.5 1425.6 467 1425C462.4 1424.4 457.3 1424.7 452.5 1425C447.6 1425.3 442.8 1425.9 437.9 1426.8C433.1 1427.7 427.6 1428.9 423.4 1430.4C419.2 1431.9 415.2 1433.4 412.5 1435.9C409.8 1438.3 407.4 1441.3 407.1 1444.9C406.8 1448.6 408.6 1454 410.7 1457.6C412.8 1461.3 416.2 1464 419.8 1466.7C423.4 1469.4 428.3 1471.6 432.5 1474C436.7 1476.4 441 1479.3 445.2 1481.2C449.4 1483.2 453.7 1485.2 457.9 1485.8C462.1 1486.4 466.4 1485.6 470.6 1484.9C474.8 1484.1 479.1 1482.7 483.3 1481.2C487.5 1479.7 491.8 1477.9 496 1475.8C500.2 1473.7 504.8 1471.3 508.7 1468.5C512.6 1465.8 516.3 1462.8 519.6 1459.5C522.9 1456.1 526 1452.2 528.7 1448.6C531.4 1444.9 534 1441.3 535.9 1437.7C537.9 1434 539.6 1429.8 540.5 1426.8C541.4 1423.8 541.2 1420.7 541.4 1419.5"/><path class="Ct" d="M585.8 1360.5C585.7 1362.2 586 1367.4 584.9 1370.5C583.9 1373.7 582.2 1377.2 579.5 1379.6C576.8 1382 572.5 1383.8 568.6 1385C564.7 1386.3 559.8 1386 555.9 1386.9C552 1387.8 547.7 1388.7 545 1390.5C542.3 1392.3 540.5 1394.7 539.6 1397.7C538.7 1400.8 539.3 1405 539.6 1408.6C539.9 1412.3 541.1 1417.7 541.4 1419.5M506.9 1417.7C505.7 1419.5 502.4 1426.2 499.6 1428.6C496.9 1431 493.9 1432.2 490.6 1432.2C487.2 1432.2 483.6 1429.8 479.7 1428.6C475.7 1427.4 471.5 1425.6 467 1425C462.4 1424.4 457.3 1424.7 452.5 1425C447.6 1425.3 442.8 1425.9 437.9 1426.8C433.1 1427.7 427.6 1428.9 423.4 1430.4C419.2 1431.9 415.2 1433.4 412.5 1435.9C409.8 1438.3 407.4 1441.3 407.1 1444.9C406.8 1448.6 408.6 1454 410.7 1457.6C412.8 1461.3 416.2 1464 419.8 1466.7C423.4 1469.4 428.3 1471.6 432.5 1474C436.7 1476.4 441 1479.3 445.2 1481.2C449.4 1483.2 453.7 1485.2 457.9 1485.8C462.1 1486.4 466.4 1485.6 470.6 1484.9C474.8 1484.1 479.1 1482.7 483.3 1481.2C487.5 1479.7 491.8 1477.9 496 1475.8C500.2 1473.7 504.8 1471.3 508.7 1468.5C512.6 1465.8 516.3 1462.8 519.6 1459.5C522.9 1456.1 526 1452.2 528.7 1448.6C531.4 1444.9 534 1441.3 535.9 1437.7C537.9 1434 539.6 1429.8 540.5 1426.8C541.4 1423.8 541.2 1420.7 541.4 1419.5"/>
<path class="Gb" d="M385.3 1255.3C387.4 1254.2 394.1 1250.6 398 1248.9C401.9 1247.3 406.3 1245.3 408.9 1245.3C411.5 1245.3 413.4 1246.8 413.4 1248.9C413.4 1251 411.2 1254.7 408.9 1258C406.6 1261.3 402.8 1265 399.8 1268.9C396.8 1272.8 393.5 1277.4 390.7 1281.6C388 1285.8 385 1289.8 383.5 1294.3C382 1298.8 381.4 1304 381.7 1308.8C382 1313.7 383.8 1318.5 385.3 1323.3C386.8 1328.2 388.9 1333.3 390.7 1337.9C392.6 1342.4 394.5 1346.3 396.2 1350.6C397.9 1354.8 399.8 1359 400.7 1363.3C401.6 1367.5 401.5 1373.9 401.6 1376M408.9 1245.3C410.4 1246.2 415.5 1248.3 418 1250.7C420.4 1253.2 422.8 1256.2 423.4 1259.8C424 1263.4 422.8 1268.3 421.6 1272.5C420.4 1276.8 417.4 1281.3 416.2 1285.2C414.9 1289.2 413.7 1293.1 414.3 1296.1C414.9 1299.1 417.1 1301.9 419.8 1303.4C422.5 1304.9 426.7 1304.9 430.7 1305.2C434.6 1305.5 439.7 1304.6 443.4 1305.2C447 1305.8 450 1307.3 452.5 1308.8C454.9 1310.3 457 1313.4 457.9 1314.3M401.6 1376C402.8 1374.8 406.5 1371.7 408.9 1368.7C411.3 1365.7 413.7 1361.1 416.2 1357.8C418.6 1354.5 420.7 1351.2 423.4 1348.7C426.1 1346.3 429.2 1343.9 432.5 1343.3C435.8 1342.7 440 1343.6 443.4 1345.1C446.7 1346.6 450 1349.7 452.5 1352.4C454.9 1355.1 456.5 1358.7 457.9 1361.5C459.3 1364.2 460.2 1367.5 460.6 1368.7M300 1293.4C301.8 1293.7 307.9 1293.5 310.9 1295.2C313.9 1296.9 316.6 1299.6 318.1 1303.4C319.7 1307.2 320.1 1312.8 320 1317.9C319.8 1323 318 1329.1 317.2 1334.2C316.5 1339.4 315 1345.7 315.4 1348.7C315.9 1351.8 317.4 1352.7 320 1352.4C322.5 1352.1 326.9 1348.7 330.9 1346.9C334.8 1345.1 339.6 1343.3 343.6 1341.5C347.5 1339.7 352.6 1337 354.4 1336M594 1366.9C593.1 1368.1 590.4 1370.8 588.6 1374.2C586.8 1377.5 584.6 1382.6 583.1 1386.9C581.6 1391.1 581.3 1395.9 579.5 1399.6C577.7 1403.2 575.3 1406.2 572.2 1408.6C569.2 1411.1 565 1412.9 561.3 1414.1C557.7 1415.3 553.8 1415.6 550.5 1415.9C547.1 1416.2 542.9 1415.9 541.4 1415.9M481.5 1436.8C480 1435.7 476 1432.2 472.4 1430.4C468.8 1428.6 464.2 1427.1 459.7 1425.9C455.2 1424.7 450.6 1423.8 445.2 1423.2C439.7 1422.6 433.1 1422.1 427 1422.3C421 1422.4 414 1423 408.9 1424.1C403.8 1425.1 399.1 1426.3 396.2 1428.6C393.3 1430.9 391.7 1434 391.7 1437.7C391.7 1441.3 393.9 1446.1 396.2 1450.4C398.5 1454.6 401.9 1459.2 405.3 1463.1C408.6 1467 412.2 1470.6 416.2 1474C420.1 1477.3 424.3 1480.9 428.9 1483C433.4 1485.2 438.2 1485.8 443.4 1486.7C448.5 1487.6 454.6 1488.2 459.7 1488.5C464.9 1488.8 469.4 1489.1 474.2 1488.5C479.1 1487.9 483.9 1486.7 488.7 1484.9C493.6 1483 499.3 1480.3 503.3 1477.6C507.2 1474.9 509.9 1471.9 512.3 1468.5C514.8 1465.2 516.3 1461.3 517.8 1457.6C519.3 1454 521.1 1450.4 521.4 1446.8C521.7 1443.1 520.5 1439.2 519.6 1435.9C518.7 1432.5 516.3 1429.8 516 1426.8C515.7 1423.8 516.3 1420.1 517.8 1417.7C519.3 1415.3 522.3 1413.2 525 1412.3C527.8 1411.4 532.6 1412.3 534.1 1412.3"/><path class="Gt" d="M385.3 1255.3C387.4 1254.2 394.1 1250.6 398 1248.9C401.9 1247.3 406.3 1245.3 408.9 1245.3C411.5 1245.3 413.4 1246.8 413.4 1248.9C413.4 1251 411.2 1254.7 408.9 1258C406.6 1261.3 402.8 1265 399.8 1268.9C396.8 1272.8 393.5 1277.4 390.7 1281.6C388 1285.8 385 1289.8 383.5 1294.3C382 1298.8 381.4 1304 381.7 1308.8C382 1313.7 383.8 1318.5 385.3 1323.3C386.8 1328.2 388.9 1333.3 390.7 1337.9C392.6 1342.4 394.5 1346.3 396.2 1350.6C397.9 1354.8 399.8 1359 400.7 1363.3C401.6 1367.5 401.5 1373.9 401.6 1376M408.9 1245.3C410.4 1246.2 415.5 1248.3 418 1250.7C420.4 1253.2 422.8 1256.2 423.4 1259.8C424 1263.4 422.8 1268.3 421.6 1272.5C420.4 1276.8 417.4 1281.3 416.2 1285.2C414.9 1289.2 413.7 1293.1 414.3 1296.1C414.9 1299.1 417.1 1301.9 419.8 1303.4C422.5 1304.9 426.7 1304.9 430.7 1305.2C434.6 1305.5 439.7 1304.6 443.4 1305.2C447 1305.8 450 1307.3 452.5 1308.8C454.9 1310.3 457 1313.4 457.9 1314.3M401.6 1376C402.8 1374.8 406.5 1371.7 408.9 1368.7C411.3 1365.7 413.7 1361.1 416.2 1357.8C418.6 1354.5 420.7 1351.2 423.4 1348.7C426.1 1346.3 429.2 1343.9 432.5 1343.3C435.8 1342.7 440 1343.6 443.4 1345.1C446.7 1346.6 450 1349.7 452.5 1352.4C454.9 1355.1 456.5 1358.7 457.9 1361.5C459.3 1364.2 460.2 1367.5 460.6 1368.7M300 1293.4C301.8 1293.7 307.9 1293.5 310.9 1295.2C313.9 1296.9 316.6 1299.6 318.1 1303.4C319.7 1307.2 320.1 1312.8 320 1317.9C319.8 1323 318 1329.1 317.2 1334.2C316.5 1339.4 315 1345.7 315.4 1348.7C315.9 1351.8 317.4 1352.7 320 1352.4C322.5 1352.1 326.9 1348.7 330.9 1346.9C334.8 1345.1 339.6 1343.3 343.6 1341.5C347.5 1339.7 352.6 1337 354.4 1336M594 1366.9C593.1 1368.1 590.4 1370.8 588.6 1374.2C586.8 1377.5 584.6 1382.6 583.1 1386.9C581.6 1391.1 581.3 1395.9 579.5 1399.6C577.7 1403.2 575.3 1406.2 572.2 1408.6C569.2 1411.1 565 1412.9 561.3 1414.1C557.7 1415.3 553.8 1415.6 550.5 1415.9C547.1 1416.2 542.9 1415.9 541.4 1415.9M481.5 1436.8C480 1435.7 476 1432.2 472.4 1430.4C468.8 1428.6 464.2 1427.1 459.7 1425.9C455.2 1424.7 450.6 1423.8 445.2 1423.2C439.7 1422.6 433.1 1422.1 427 1422.3C421 1422.4 414 1423 408.9 1424.1C403.8 1425.1 399.1 1426.3 396.2 1428.6C393.3 1430.9 391.7 1434 391.7 1437.7C391.7 1441.3 393.9 1446.1 396.2 1450.4C398.5 1454.6 401.9 1459.2 405.3 1463.1C408.6 1467 412.2 1470.6 416.2 1474C420.1 1477.3 424.3 1480.9 428.9 1483C433.4 1485.2 438.2 1485.8 443.4 1486.7C448.5 1487.6 454.6 1488.2 459.7 1488.5C464.9 1488.8 469.4 1489.1 474.2 1488.5C479.1 1487.9 483.9 1486.7 488.7 1484.9C493.6 1483 499.3 1480.3 503.3 1477.6C507.2 1474.9 509.9 1471.9 512.3 1468.5C514.8 1465.2 516.3 1461.3 517.8 1457.6C519.3 1454 521.1 1450.4 521.4 1446.8C521.7 1443.1 520.5 1439.2 519.6 1435.9C518.7 1432.5 516.3 1429.8 516 1426.8C515.7 1423.8 516.3 1420.1 517.8 1417.7C519.3 1415.3 522.3 1413.2 525 1412.3C527.8 1411.4 532.6 1412.3 534.1 1412.3"/>
<path class="Wb" d="M506.9 1417.7C507.2 1416.2 507.5 1411.1 508.7 1408.6C509.9 1406.2 511.7 1404.1 514.2 1403.2C516.6 1402.3 520.5 1402.3 523.2 1403.2C526 1404.1 528.1 1406.2 530.5 1408.6C532.9 1411.1 535 1415 537.7 1417.7C540.5 1420.4 543.5 1422.6 546.8 1425C550.2 1427.4 554.1 1429.8 557.7 1432.2C561.3 1434.7 565.9 1437.7 568.6 1439.5C571.3 1441.3 571.9 1443.4 574 1443.1C576.2 1442.8 579 1440.1 581.3 1437.7C583.6 1435.3 586.3 1432.5 587.7 1428.6C589 1424.7 589.2 1418.9 589.5 1414.1C589.8 1409.2 589.6 1403.8 589.5 1399.6C589.3 1395.3 588.7 1390.5 588.6 1388.7"/><path class="Wt" d="M506.9 1417.7C507.2 1416.2 507.5 1411.1 508.7 1408.6C509.9 1406.2 511.7 1404.1 514.2 1403.2C516.6 1402.3 520.5 1402.3 523.2 1403.2C526 1404.1 528.1 1406.2 530.5 1408.6C532.9 1411.1 535 1415 537.7 1417.7C540.5 1420.4 543.5 1422.6 546.8 1425C550.2 1427.4 554.1 1429.8 557.7 1432.2C561.3 1434.7 565.9 1437.7 568.6 1439.5C571.3 1441.3 571.9 1443.4 574 1443.1C576.2 1442.8 579 1440.1 581.3 1437.7C583.6 1435.3 586.3 1432.5 587.7 1428.6C589 1424.7 589.2 1418.9 589.5 1414.1C589.8 1409.2 589.6 1403.8 589.5 1399.6C589.3 1395.3 588.7 1390.5 588.6 1388.7"/>
<path d="M448.8 1312.5L457.9 1314.3L474.2 1316.1L476 1321.5L483.3 1330.6L494.2 1339.7L488.7 1352.4L486.9 1357.8L474.2 1350.6L463.3 1345.1L456.1 1327Z" class="F" fill="#48bccb" stroke="#48bccb"/>
<path d="M485.1 1352.4L494.2 1345.1L488.7 1359.6L481.5 1365.1Z" class="F" fill="#a3dbb0" stroke="#a3dbb0"/>
<path d="M443.4 1377.8L452.5 1368.7L456.1 1383.2L450.6 1390.5Z" class="F" fill="#48bccb" stroke="#48bccb"/>
<path d="M452.5 1377.8L459.7 1359.6L467 1361.5L474.2 1376L467 1394.1L457.9 1395.9Z" class="F" fill="#2fa95e" stroke="#2fa95e"/>
<circle cx="358.6" cy="1327.9" r="7.9" fill="#111"/>
<circle cx="360.6" cy="1325.5" r="2.2" fill="#fff" opacity=".28"/>
<circle cx="462.1" cy="1438.6" r="7.9" fill="#444"/>
<circle cx="464" cy="1436.2" r="2.2" fill="#fff" opacity=".28"/>
<text x="3.9" y="1158.8" font-weight="700" font-size="32">d</text>
<text x="37.0" y="1178" font-style="italic" font-size="28">Arabidopsis thaliana</text>
<path class="cb" d="M1323.8 1263.1C1322 1262.8 1316.6 1261.8 1312.6 1261.4C1308.6 1261 1304 1260.4 1299.7 1260.6C1295.4 1260.9 1290.6 1261.3 1286.8 1263.1C1283.1 1264.8 1279.3 1267.9 1277.2 1271.1C1275.1 1274.3 1274.3 1278.6 1274 1282.3C1273.7 1286.1 1274.5 1289.8 1275.6 1293.6C1276.7 1297.4 1278.3 1301.6 1280.4 1304.9C1282.6 1308.1 1285.2 1310.8 1288.5 1312.9C1291.7 1315 1296.2 1316.4 1299.7 1317.7C1303.2 1319.1 1307.7 1320.4 1309.4 1320.9"/><path class="ct" d="M1323.8 1263.1C1322 1262.8 1316.6 1261.8 1312.6 1261.4C1308.6 1261 1304 1260.4 1299.7 1260.6C1295.4 1260.9 1290.6 1261.3 1286.8 1263.1C1283.1 1264.8 1279.3 1267.9 1277.2 1271.1C1275.1 1274.3 1274.3 1278.6 1274 1282.3C1273.7 1286.1 1274.5 1289.8 1275.6 1293.6C1276.7 1297.4 1278.3 1301.6 1280.4 1304.9C1282.6 1308.1 1285.2 1310.8 1288.5 1312.9C1291.7 1315 1296.2 1316.4 1299.7 1317.7C1303.2 1319.1 1307.7 1320.4 1309.4 1320.9"/>
<path class="gb" d="M1337.5 1276.7C1335.5 1276.1 1329.6 1274 1325.4 1272.7C1321.3 1271.4 1316.9 1269.5 1312.6 1268.7C1308.3 1267.9 1303.5 1267.2 1299.7 1267.9C1296 1268.5 1292.5 1270.3 1290.1 1272.7C1287.7 1275.1 1286 1278.6 1285.2 1282.3C1284.4 1286.1 1284.4 1290.9 1285.2 1295.2C1286 1299.5 1287.9 1304.1 1290.1 1308.1C1292.2 1312.1 1295.2 1316.4 1298.1 1319.3C1301.1 1322.3 1305.1 1324 1307.7 1325.8C1310.4 1327.5 1313.1 1329.1 1314.2 1329.8M1169.5 1333.8C1171.9 1334.1 1178.9 1335.5 1184 1335.4C1189 1335.3 1195.7 1333.5 1200 1333C1204.3 1332.5 1208.1 1332.3 1209.7 1332.2"/><path class="gt" d="M1337.5 1276.7C1335.5 1276.1 1329.6 1274 1325.4 1272.7C1321.3 1271.4 1316.9 1269.5 1312.6 1268.7C1308.3 1267.9 1303.5 1267.2 1299.7 1267.9C1296 1268.5 1292.5 1270.3 1290.1 1272.7C1287.7 1275.1 1286 1278.6 1285.2 1282.3C1284.4 1286.1 1284.4 1290.9 1285.2 1295.2C1286 1299.5 1287.9 1304.1 1290.1 1308.1C1292.2 1312.1 1295.2 1316.4 1298.1 1319.3C1301.1 1322.3 1305.1 1324 1307.7 1325.8C1310.4 1327.5 1313.1 1329.1 1314.2 1329.8M1169.5 1333.8C1171.9 1334.1 1178.9 1335.5 1184 1335.4C1189 1335.3 1195.7 1333.5 1200 1333C1204.3 1332.5 1208.1 1332.3 1209.7 1332.2"/>
<path class="cb" d="M1166.3 1346.7C1167.1 1347.7 1168.4 1352 1171.1 1353.1C1173.8 1354.2 1178.1 1353.6 1182.3 1353.1C1186.6 1352.6 1192 1350.9 1196.8 1349.9C1201.6 1348.8 1207.5 1348.8 1211.3 1346.7C1215 1344.5 1217.2 1340.2 1219.3 1337C1221.5 1333.8 1223.3 1329 1224.1 1327.4"/><path class="ct" d="M1166.3 1346.7C1167.1 1347.7 1168.4 1352 1171.1 1353.1C1173.8 1354.2 1178.1 1353.6 1182.3 1353.1C1186.6 1352.6 1192 1350.9 1196.8 1349.9C1201.6 1348.8 1207.5 1348.8 1211.3 1346.7C1215 1344.5 1217.2 1340.2 1219.3 1337C1221.5 1333.8 1223.3 1329 1224.1 1327.4"/>
<path class="gb" d="M1240.2 1463.2C1242.6 1463.1 1250.4 1462.8 1254.7 1462.4C1259 1462 1262.7 1461.9 1265.9 1460.8C1269.2 1459.7 1271.3 1457.9 1274 1456C1276.7 1454.1 1279.9 1452 1282 1449.5C1284.2 1447.1 1286.3 1444.2 1286.8 1441.5C1287.4 1438.8 1286.3 1435.9 1285.2 1433.5C1284.2 1431.1 1281.2 1428.1 1280.4 1427"/><path class="gt" d="M1240.2 1463.2C1242.6 1463.1 1250.4 1462.8 1254.7 1462.4C1259 1462 1262.7 1461.9 1265.9 1460.8C1269.2 1459.7 1271.3 1457.9 1274 1456C1276.7 1454.1 1279.9 1452 1282 1449.5C1284.2 1447.1 1286.3 1444.2 1286.8 1441.5C1287.4 1438.8 1286.3 1435.9 1285.2 1433.5C1284.2 1431.1 1281.2 1428.1 1280.4 1427"/>
<path d="M1229 1404.5L1241.8 1386L1254.7 1390.1L1249.9 1398.1L1238.6 1399.7ZM1233.8 1431.9L1254.7 1433.5L1269.2 1423.8L1277.2 1431.9L1274 1446.3L1264.3 1454.4L1248.3 1456L1233.8 1456Z" class="F" fill="#a8e0e6" stroke="#a8e0e6"/>
<path d="M1208.1 1282.3L1219.3 1277.5L1232.2 1282.3L1234.6 1290.4L1232.2 1300L1225.8 1303.2L1219.3 1293.6Z" class="F" fill="#6cc47f" stroke="#6cc47f"/>
<path d="M1229 1306.5C1227.9 1304.3 1225.8 1297.1 1222.5 1293.6C1219.3 1290.1 1214 1286.6 1209.7 1285.6C1205.4 1284.5 1200.2 1285 1196.8 1287.2C1193.5 1289.3 1190.9 1294.1 1189.6 1298.4C1188.2 1302.7 1187.8 1308.6 1188.8 1312.9C1189.7 1317.2 1192.3 1321.2 1195.2 1324.1C1198.2 1327.1 1202.7 1329.5 1206.5 1330.6C1210.2 1331.7 1215.8 1330.6 1217.7 1330.6" class="H" stroke="#48bccb" stroke-width="9"/>
<path class="Cb" d="M1235.4 1320.9C1237.5 1320.9 1243.7 1321.5 1248.3 1320.9C1252.8 1320.4 1257.9 1319.1 1262.7 1317.7C1267.6 1316.4 1273.2 1314.8 1277.2 1312.9C1281.2 1311 1284.6 1309.1 1286.8 1306.5C1289.1 1303.8 1290.9 1300 1290.9 1296.8C1290.9 1293.6 1288.9 1289.8 1286.8 1287.2C1284.8 1284.5 1281.5 1282.9 1278.8 1280.7C1276.1 1278.6 1273.2 1276.7 1270.8 1274.3C1268.4 1271.9 1265.7 1269.2 1264.3 1266.3C1263 1263.3 1262.2 1259.6 1262.7 1256.6C1263.3 1253.7 1264.9 1251 1267.6 1248.6C1270.2 1246.2 1274.5 1243.9 1278.8 1242.2C1283.1 1240.4 1288.5 1239.1 1293.3 1238.1C1298.1 1237.2 1303.2 1236.5 1307.7 1236.5C1312.3 1236.5 1316.9 1237.2 1320.6 1238.1C1324.4 1239.1 1328.6 1241.1 1330.3 1242.2C1331.9 1243.2 1331.9 1244.4 1330.3 1244.6C1328.6 1244.7 1323.6 1243.4 1320.6 1243C1317.7 1242.6 1313.1 1241.2 1312.6 1242.2C1312 1243.1 1315.8 1246.4 1317.4 1248.6C1319 1250.7 1320.9 1252.9 1322.2 1255C1323.6 1257.2 1324.9 1260.4 1325.4 1261.4M1235.4 1320.9C1237.5 1321.5 1244.5 1322.8 1248.3 1324.1C1252 1325.5 1255.2 1326.8 1257.9 1329C1260.6 1331.1 1263.3 1335.7 1264.3 1337M1166.3 1337C1165.5 1338.6 1163.6 1344.8 1161.4 1346.7C1159.3 1348.5 1156.4 1349.1 1153.4 1348.3C1150.5 1347.5 1146.7 1344.5 1143.8 1341.8C1140.8 1339.2 1138 1334.1 1135.7 1332.2C1133.4 1330.3 1131 1329.5 1130.1 1330.6C1129.2 1331.7 1129.2 1335.4 1130.1 1338.6C1131 1341.8 1133.2 1346.4 1135.7 1349.9C1138.3 1353.4 1141.6 1356.8 1145.4 1359.5C1149.1 1362.2 1153.9 1363.8 1158.2 1365.9C1162.5 1368.1 1167.3 1369.7 1171.1 1372.4C1174.8 1375.1 1178.5 1378.5 1180.7 1382C1183 1385.5 1184.8 1389.3 1184.8 1393.3C1184.8 1397.3 1182.5 1401.9 1180.7 1406.1C1179 1410.4 1176.5 1414.7 1174.3 1419C1172.2 1423.3 1169.8 1427.8 1167.9 1431.9C1166 1435.9 1163.9 1439.1 1163.1 1443.1C1162.3 1447.1 1162.3 1452 1163.1 1456C1163.9 1460 1165.5 1463.8 1167.9 1467.2C1170.3 1470.7 1173.8 1474.2 1177.5 1476.9C1181.3 1479.6 1186.1 1482 1190.4 1483.3C1194.7 1484.7 1199.5 1485.5 1203.2 1484.9C1207 1484.4 1210.5 1482.5 1212.9 1480.1C1215.3 1477.7 1217 1473.9 1217.7 1470.5C1218.4 1467 1216.9 1462.9 1216.9 1459.2C1216.9 1455.4 1216.8 1451.2 1217.7 1447.9C1218.7 1444.7 1220.1 1441.5 1222.5 1439.9C1225 1438.3 1229 1439.1 1232.2 1438.3C1235.4 1437.5 1239.4 1437.2 1241.8 1435.1C1244.2 1432.9 1245.3 1428.9 1246.7 1425.4C1248 1422 1249.1 1417.9 1249.9 1414.2C1250.7 1410.4 1252 1405.9 1251.5 1402.9C1250.9 1400 1248.8 1397.8 1246.7 1396.5C1244.5 1395.2 1240 1395.2 1238.6 1394.9M1328.6 1435.1C1327.8 1436.4 1326.5 1440.2 1323.8 1443.1C1321.1 1446.1 1316.6 1449.5 1312.6 1452.8C1308.6 1456 1303.7 1459.7 1299.7 1462.4C1295.7 1465.1 1291.1 1467.5 1288.5 1468.8C1285.8 1470.2 1284.4 1470.2 1283.6 1470.5M1311 1320.9C1309.6 1320.1 1304.5 1318 1302.9 1316.1C1301.3 1314.2 1300.5 1311.6 1301.3 1309.7C1302.1 1307.8 1304.8 1306.1 1307.7 1304.9C1310.7 1303.6 1315 1302.8 1319 1302.4C1323 1302 1327.8 1301.8 1331.9 1302.4C1335.9 1303.1 1339.9 1304.5 1343.1 1306.5C1346.3 1308.5 1349.3 1311.3 1351.2 1314.5C1353 1317.7 1353.8 1321.7 1354.4 1325.8C1354.9 1329.8 1354.9 1334.3 1354.4 1338.6C1353.8 1342.9 1352.2 1347.5 1351.2 1351.5C1350.1 1355.5 1348.7 1359.2 1347.9 1362.7C1347.1 1366.2 1346.1 1370.5 1346.3 1372.4C1346.6 1374.3 1348.5 1374.8 1349.5 1374C1350.6 1373.2 1351.4 1369.7 1352.8 1367.6C1354.1 1365.4 1355.4 1363.3 1357.6 1361.1C1359.7 1359 1362.7 1356.6 1365.6 1354.7C1368.6 1352.8 1371.8 1350.9 1375.3 1349.9C1378.8 1348.8 1384.7 1348.5 1386.5 1348.3"/><path class="Ct" d="M1235.4 1320.9C1237.5 1320.9 1243.7 1321.5 1248.3 1320.9C1252.8 1320.4 1257.9 1319.1 1262.7 1317.7C1267.6 1316.4 1273.2 1314.8 1277.2 1312.9C1281.2 1311 1284.6 1309.1 1286.8 1306.5C1289.1 1303.8 1290.9 1300 1290.9 1296.8C1290.9 1293.6 1288.9 1289.8 1286.8 1287.2C1284.8 1284.5 1281.5 1282.9 1278.8 1280.7C1276.1 1278.6 1273.2 1276.7 1270.8 1274.3C1268.4 1271.9 1265.7 1269.2 1264.3 1266.3C1263 1263.3 1262.2 1259.6 1262.7 1256.6C1263.3 1253.7 1264.9 1251 1267.6 1248.6C1270.2 1246.2 1274.5 1243.9 1278.8 1242.2C1283.1 1240.4 1288.5 1239.1 1293.3 1238.1C1298.1 1237.2 1303.2 1236.5 1307.7 1236.5C1312.3 1236.5 1316.9 1237.2 1320.6 1238.1C1324.4 1239.1 1328.6 1241.1 1330.3 1242.2C1331.9 1243.2 1331.9 1244.4 1330.3 1244.6C1328.6 1244.7 1323.6 1243.4 1320.6 1243C1317.7 1242.6 1313.1 1241.2 1312.6 1242.2C1312 1243.1 1315.8 1246.4 1317.4 1248.6C1319 1250.7 1320.9 1252.9 1322.2 1255C1323.6 1257.2 1324.9 1260.4 1325.4 1261.4M1235.4 1320.9C1237.5 1321.5 1244.5 1322.8 1248.3 1324.1C1252 1325.5 1255.2 1326.8 1257.9 1329C1260.6 1331.1 1263.3 1335.7 1264.3 1337M1166.3 1337C1165.5 1338.6 1163.6 1344.8 1161.4 1346.7C1159.3 1348.5 1156.4 1349.1 1153.4 1348.3C1150.5 1347.5 1146.7 1344.5 1143.8 1341.8C1140.8 1339.2 1138 1334.1 1135.7 1332.2C1133.4 1330.3 1131 1329.5 1130.1 1330.6C1129.2 1331.7 1129.2 1335.4 1130.1 1338.6C1131 1341.8 1133.2 1346.4 1135.7 1349.9C1138.3 1353.4 1141.6 1356.8 1145.4 1359.5C1149.1 1362.2 1153.9 1363.8 1158.2 1365.9C1162.5 1368.1 1167.3 1369.7 1171.1 1372.4C1174.8 1375.1 1178.5 1378.5 1180.7 1382C1183 1385.5 1184.8 1389.3 1184.8 1393.3C1184.8 1397.3 1182.5 1401.9 1180.7 1406.1C1179 1410.4 1176.5 1414.7 1174.3 1419C1172.2 1423.3 1169.8 1427.8 1167.9 1431.9C1166 1435.9 1163.9 1439.1 1163.1 1443.1C1162.3 1447.1 1162.3 1452 1163.1 1456C1163.9 1460 1165.5 1463.8 1167.9 1467.2C1170.3 1470.7 1173.8 1474.2 1177.5 1476.9C1181.3 1479.6 1186.1 1482 1190.4 1483.3C1194.7 1484.7 1199.5 1485.5 1203.2 1484.9C1207 1484.4 1210.5 1482.5 1212.9 1480.1C1215.3 1477.7 1217 1473.9 1217.7 1470.5C1218.4 1467 1216.9 1462.9 1216.9 1459.2C1216.9 1455.4 1216.8 1451.2 1217.7 1447.9C1218.7 1444.7 1220.1 1441.5 1222.5 1439.9C1225 1438.3 1229 1439.1 1232.2 1438.3C1235.4 1437.5 1239.4 1437.2 1241.8 1435.1C1244.2 1432.9 1245.3 1428.9 1246.7 1425.4C1248 1422 1249.1 1417.9 1249.9 1414.2C1250.7 1410.4 1252 1405.9 1251.5 1402.9C1250.9 1400 1248.8 1397.8 1246.7 1396.5C1244.5 1395.2 1240 1395.2 1238.6 1394.9M1328.6 1435.1C1327.8 1436.4 1326.5 1440.2 1323.8 1443.1C1321.1 1446.1 1316.6 1449.5 1312.6 1452.8C1308.6 1456 1303.7 1459.7 1299.7 1462.4C1295.7 1465.1 1291.1 1467.5 1288.5 1468.8C1285.8 1470.2 1284.4 1470.2 1283.6 1470.5M1311 1320.9C1309.6 1320.1 1304.5 1318 1302.9 1316.1C1301.3 1314.2 1300.5 1311.6 1301.3 1309.7C1302.1 1307.8 1304.8 1306.1 1307.7 1304.9C1310.7 1303.6 1315 1302.8 1319 1302.4C1323 1302 1327.8 1301.8 1331.9 1302.4C1335.9 1303.1 1339.9 1304.5 1343.1 1306.5C1346.3 1308.5 1349.3 1311.3 1351.2 1314.5C1353 1317.7 1353.8 1321.7 1354.4 1325.8C1354.9 1329.8 1354.9 1334.3 1354.4 1338.6C1353.8 1342.9 1352.2 1347.5 1351.2 1351.5C1350.1 1355.5 1348.7 1359.2 1347.9 1362.7C1347.1 1366.2 1346.1 1370.5 1346.3 1372.4C1346.6 1374.3 1348.5 1374.8 1349.5 1374C1350.6 1373.2 1351.4 1369.7 1352.8 1367.6C1354.1 1365.4 1355.4 1363.3 1357.6 1361.1C1359.7 1359 1362.7 1356.6 1365.6 1354.7C1368.6 1352.8 1371.8 1350.9 1375.3 1349.9C1378.8 1348.8 1384.7 1348.5 1386.5 1348.3"/>
<path class="Gb" d="M1211.3 1313.7C1213.7 1314.1 1220.7 1315.4 1225.8 1316.1C1230.8 1316.8 1236.5 1318 1241.8 1317.7C1247.2 1317.4 1253.4 1316.1 1257.9 1314.5C1262.5 1312.9 1266.6 1310.8 1269.2 1308.1C1271.7 1305.4 1273.2 1301.6 1273.2 1298.4C1273.2 1295.2 1271.4 1291.7 1269.2 1288.8C1266.9 1285.8 1262.2 1283.4 1259.5 1280.7C1256.8 1278.1 1254.3 1275.6 1253.1 1272.7C1251.9 1269.8 1251.5 1265.9 1252.3 1263.1C1253.1 1260.2 1254.8 1257.6 1257.9 1255.8C1261 1254.1 1265.9 1253.1 1270.8 1252.6C1275.6 1252.1 1281.8 1252.1 1286.8 1252.6C1291.9 1253.1 1296.8 1254.3 1301.3 1255.8C1305.9 1257.3 1310.2 1259.4 1314.2 1261.4C1318.2 1263.5 1322 1266 1325.4 1267.9C1328.9 1269.8 1333.1 1271.4 1335.1 1272.7C1337.1 1274 1337.8 1277 1337.5 1275.9C1337.2 1274.8 1335.5 1269.1 1333.5 1266.3C1331.5 1263.5 1326.8 1260.2 1325.4 1259M1211.3 1313.7C1213.2 1314.9 1218.5 1318.9 1222.5 1320.9C1226.6 1322.9 1231.7 1323.9 1235.4 1325.8C1239.2 1327.6 1242.4 1330 1245 1332.2C1247.7 1334.3 1250.4 1337.5 1251.5 1338.6M1173.5 1316.9C1172.8 1318.4 1171 1322.7 1169.5 1325.8C1168 1328.8 1166.5 1333.3 1164.7 1335.4C1162.8 1337.5 1160.9 1338.3 1158.2 1338.6C1155.6 1338.9 1151.8 1338.6 1148.6 1337C1145.4 1335.4 1141.9 1331.7 1138.9 1329C1136 1326.3 1133.2 1321.5 1130.9 1320.9C1128.6 1320.4 1126.1 1323.1 1125.3 1325.8C1124.5 1328.4 1124.9 1333.3 1126.1 1337C1127.3 1340.8 1129.8 1344.8 1132.5 1348.3C1135.2 1351.7 1138.4 1355.2 1142.2 1357.9C1145.9 1360.6 1151 1362.2 1155 1364.3C1159 1366.5 1163.6 1367.8 1166.3 1370.8C1168.9 1373.7 1170.4 1378 1171.1 1382C1171.8 1386 1171.4 1390.6 1170.3 1394.9C1169.2 1399.2 1166.7 1403.5 1164.7 1407.7C1162.7 1412 1160.4 1416.3 1158.2 1420.6C1156.1 1424.9 1153.3 1429.5 1151.8 1433.5C1150.3 1437.5 1149.4 1440.7 1149.4 1444.7C1149.4 1448.7 1150.3 1453.6 1151.8 1457.6C1153.3 1461.6 1155.6 1465.1 1158.2 1468.8C1160.9 1472.6 1164.1 1476.6 1167.9 1480.1C1171.6 1483.6 1176.5 1487.3 1180.7 1489.7C1185 1492.2 1189.3 1494 1193.6 1494.6C1197.9 1495.1 1203 1494.3 1206.5 1493C1209.9 1491.6 1212.6 1489.5 1214.5 1486.5C1216.4 1483.6 1217.3 1479 1217.7 1475.3C1218.1 1471.5 1216.9 1467.5 1216.9 1464C1216.9 1460.5 1216.2 1456.7 1217.7 1454.4C1219.2 1452.1 1222.5 1450.9 1225.8 1450.4C1229 1449.8 1233.5 1451.6 1237 1451.2C1240.5 1450.8 1244.2 1450.1 1246.7 1447.9C1249.1 1445.8 1250.4 1441.8 1251.5 1438.3C1252.6 1434.8 1252.7 1430.8 1253.1 1427C1253.5 1423.3 1254.4 1419 1253.9 1415.8C1253.4 1412.6 1251.9 1409.4 1249.9 1407.7C1247.9 1406.1 1243.2 1406.4 1241.8 1406.1M1331.9 1431.9C1332.7 1433.2 1337.5 1436.7 1336.7 1439.9C1335.9 1443.1 1330.5 1447.4 1327 1451.2C1323.6 1454.9 1319.8 1458.9 1315.8 1462.4C1311.8 1465.9 1306.9 1469.4 1302.9 1472.1C1298.9 1474.7 1294.6 1477.1 1291.7 1478.5C1288.7 1479.8 1287.1 1480.9 1285.2 1480.1C1283.4 1479.3 1281.8 1476.6 1280.4 1473.7C1279.1 1470.7 1278 1466.2 1277.2 1462.4C1276.4 1458.7 1275.7 1454.9 1275.6 1451.2C1275.5 1447.4 1276 1443.1 1276.4 1439.9C1276.8 1436.7 1277.7 1433.2 1278 1431.9M1315 1329.8C1313.5 1328.8 1308.2 1326.2 1306.1 1324.1C1304.1 1322.1 1302.7 1319.6 1302.9 1317.7C1303.2 1315.8 1305.1 1314.1 1307.7 1312.9C1310.4 1311.7 1315 1310.8 1319 1310.5C1323 1310.2 1327.8 1310.3 1331.9 1311.3C1335.9 1312.2 1339.6 1314 1343.1 1316.1C1346.6 1318.3 1350.4 1320.9 1352.8 1324.1C1355.2 1327.4 1356.2 1331.4 1357.6 1335.4C1358.9 1339.4 1360.3 1344 1360.8 1348.3C1361.3 1352.6 1361.2 1357.1 1360.8 1361.1C1360.4 1365.1 1358.7 1370 1358.4 1372.4C1358.1 1374.8 1358.5 1376.7 1359.2 1375.6C1359.9 1374.5 1361.1 1368.9 1362.4 1365.9C1363.8 1363 1364.8 1360.3 1367.2 1357.9C1369.6 1355.5 1373.4 1353.1 1376.9 1351.5C1380.4 1349.9 1384.4 1349.1 1388.1 1348.3C1391.9 1347.5 1397.5 1346.9 1399.4 1346.7"/><path class="Gt" d="M1211.3 1313.7C1213.7 1314.1 1220.7 1315.4 1225.8 1316.1C1230.8 1316.8 1236.5 1318 1241.8 1317.7C1247.2 1317.4 1253.4 1316.1 1257.9 1314.5C1262.5 1312.9 1266.6 1310.8 1269.2 1308.1C1271.7 1305.4 1273.2 1301.6 1273.2 1298.4C1273.2 1295.2 1271.4 1291.7 1269.2 1288.8C1266.9 1285.8 1262.2 1283.4 1259.5 1280.7C1256.8 1278.1 1254.3 1275.6 1253.1 1272.7C1251.9 1269.8 1251.5 1265.9 1252.3 1263.1C1253.1 1260.2 1254.8 1257.6 1257.9 1255.8C1261 1254.1 1265.9 1253.1 1270.8 1252.6C1275.6 1252.1 1281.8 1252.1 1286.8 1252.6C1291.9 1253.1 1296.8 1254.3 1301.3 1255.8C1305.9 1257.3 1310.2 1259.4 1314.2 1261.4C1318.2 1263.5 1322 1266 1325.4 1267.9C1328.9 1269.8 1333.1 1271.4 1335.1 1272.7C1337.1 1274 1337.8 1277 1337.5 1275.9C1337.2 1274.8 1335.5 1269.1 1333.5 1266.3C1331.5 1263.5 1326.8 1260.2 1325.4 1259M1211.3 1313.7C1213.2 1314.9 1218.5 1318.9 1222.5 1320.9C1226.6 1322.9 1231.7 1323.9 1235.4 1325.8C1239.2 1327.6 1242.4 1330 1245 1332.2C1247.7 1334.3 1250.4 1337.5 1251.5 1338.6M1173.5 1316.9C1172.8 1318.4 1171 1322.7 1169.5 1325.8C1168 1328.8 1166.5 1333.3 1164.7 1335.4C1162.8 1337.5 1160.9 1338.3 1158.2 1338.6C1155.6 1338.9 1151.8 1338.6 1148.6 1337C1145.4 1335.4 1141.9 1331.7 1138.9 1329C1136 1326.3 1133.2 1321.5 1130.9 1320.9C1128.6 1320.4 1126.1 1323.1 1125.3 1325.8C1124.5 1328.4 1124.9 1333.3 1126.1 1337C1127.3 1340.8 1129.8 1344.8 1132.5 1348.3C1135.2 1351.7 1138.4 1355.2 1142.2 1357.9C1145.9 1360.6 1151 1362.2 1155 1364.3C1159 1366.5 1163.6 1367.8 1166.3 1370.8C1168.9 1373.7 1170.4 1378 1171.1 1382C1171.8 1386 1171.4 1390.6 1170.3 1394.9C1169.2 1399.2 1166.7 1403.5 1164.7 1407.7C1162.7 1412 1160.4 1416.3 1158.2 1420.6C1156.1 1424.9 1153.3 1429.5 1151.8 1433.5C1150.3 1437.5 1149.4 1440.7 1149.4 1444.7C1149.4 1448.7 1150.3 1453.6 1151.8 1457.6C1153.3 1461.6 1155.6 1465.1 1158.2 1468.8C1160.9 1472.6 1164.1 1476.6 1167.9 1480.1C1171.6 1483.6 1176.5 1487.3 1180.7 1489.7C1185 1492.2 1189.3 1494 1193.6 1494.6C1197.9 1495.1 1203 1494.3 1206.5 1493C1209.9 1491.6 1212.6 1489.5 1214.5 1486.5C1216.4 1483.6 1217.3 1479 1217.7 1475.3C1218.1 1471.5 1216.9 1467.5 1216.9 1464C1216.9 1460.5 1216.2 1456.7 1217.7 1454.4C1219.2 1452.1 1222.5 1450.9 1225.8 1450.4C1229 1449.8 1233.5 1451.6 1237 1451.2C1240.5 1450.8 1244.2 1450.1 1246.7 1447.9C1249.1 1445.8 1250.4 1441.8 1251.5 1438.3C1252.6 1434.8 1252.7 1430.8 1253.1 1427C1253.5 1423.3 1254.4 1419 1253.9 1415.8C1253.4 1412.6 1251.9 1409.4 1249.9 1407.7C1247.9 1406.1 1243.2 1406.4 1241.8 1406.1M1331.9 1431.9C1332.7 1433.2 1337.5 1436.7 1336.7 1439.9C1335.9 1443.1 1330.5 1447.4 1327 1451.2C1323.6 1454.9 1319.8 1458.9 1315.8 1462.4C1311.8 1465.9 1306.9 1469.4 1302.9 1472.1C1298.9 1474.7 1294.6 1477.1 1291.7 1478.5C1288.7 1479.8 1287.1 1480.9 1285.2 1480.1C1283.4 1479.3 1281.8 1476.6 1280.4 1473.7C1279.1 1470.7 1278 1466.2 1277.2 1462.4C1276.4 1458.7 1275.7 1454.9 1275.6 1451.2C1275.5 1447.4 1276 1443.1 1276.4 1439.9C1276.8 1436.7 1277.7 1433.2 1278 1431.9M1315 1329.8C1313.5 1328.8 1308.2 1326.2 1306.1 1324.1C1304.1 1322.1 1302.7 1319.6 1302.9 1317.7C1303.2 1315.8 1305.1 1314.1 1307.7 1312.9C1310.4 1311.7 1315 1310.8 1319 1310.5C1323 1310.2 1327.8 1310.3 1331.9 1311.3C1335.9 1312.2 1339.6 1314 1343.1 1316.1C1346.6 1318.3 1350.4 1320.9 1352.8 1324.1C1355.2 1327.4 1356.2 1331.4 1357.6 1335.4C1358.9 1339.4 1360.3 1344 1360.8 1348.3C1361.3 1352.6 1361.2 1357.1 1360.8 1361.1C1360.4 1365.1 1358.7 1370 1358.4 1372.4C1358.1 1374.8 1358.5 1376.7 1359.2 1375.6C1359.9 1374.5 1361.1 1368.9 1362.4 1365.9C1363.8 1363 1364.8 1360.3 1367.2 1357.9C1369.6 1355.5 1373.4 1353.1 1376.9 1351.5C1380.4 1349.9 1384.4 1349.1 1388.1 1348.3C1391.9 1347.5 1397.5 1346.9 1399.4 1346.7"/>
<path d="M1267.6 1330.6L1280.4 1340.2L1296.5 1359.5L1312.6 1383.6L1325.4 1402.9L1338.3 1425.4L1322.2 1435.1L1314.2 1419L1302.9 1399.7L1290.1 1378.8L1278.8 1359.5L1270.8 1346.7Z" class="F" fill="#2fa95e" stroke="#2fa95e"/>
<path d="M1286.8 1354.7L1302.9 1374L1319 1399.7L1330.3 1422.2L1323.8 1427L1311 1406.1L1296.5 1383.6L1283.6 1364.3Z" class="F" fill="#6cc47f" stroke="#6cc47f"/>
<path d="M1294.9 1380.4L1311 1370.8L1317.4 1382L1302.9 1394.9Z" class="F" fill="#7fd0da" stroke="#7fd0da"/>
<path d="M1264.3 1337L1274 1343.4L1275.6 1362.7L1280.4 1380.4L1285.2 1391.7L1290.1 1393.3L1288.5 1402.9L1283.6 1415.8L1280.4 1396.5L1275.6 1391.7L1270.8 1398.1L1267.6 1378.8L1265.9 1354.7Z" class="F" fill="#48bccb" stroke="#48bccb"/>
<path d="M1246.7 1343.4L1256.3 1336.2L1262.7 1348.3L1267.6 1370.8L1272.4 1390.1L1277.2 1396.5L1283.6 1394.9L1288.5 1391.7L1286.8 1411L1278.8 1428.6L1264.3 1417.4L1254.7 1409.4L1260.3 1406.1L1254.7 1386.8L1249.9 1362.7Z" class="F" fill="#2fa95e" stroke="#2fa95e"/>
<path d="M1262.7 1407.7L1283.6 1399.7L1283.6 1412.6L1278 1423.8L1269.2 1417.4Z" class="F" fill="#6cc47f" stroke="#6cc47f"/>
<circle cx="1264.7" cy="1280.7" r="7.2" fill="#333"/>
<circle cx="1266.5" cy="1278.6" r="2" fill="#fff" opacity=".28"/>
<circle cx="1288.8" cy="1422.5" r="7.2" fill="#555"/>
<circle cx="1290.6" cy="1420.4" r="2" fill="#fff" opacity=".28"/>
<path d="M1371.8 1231.7L1392.9 1230L1403.5 1249.4L1392.9 1256.4L1371.8 1258.2ZM1396.5 1230L1415.9 1244.1L1422.9 1261.7L1414.1 1272.3L1405.3 1252.9Z" class="F" fill="#a8e0e6" stroke="#a8e0e6"/>
<path d="M1377.1 1291.7L1387.6 1285.5L1401.7 1289.9L1414.1 1300.5L1422.9 1311.1L1414.1 1323.4L1401.7 1307.6L1387.6 1304L1377.1 1311.1Z" class="F" fill="#a3dbb0" stroke="#a3dbb0"/>
<path d="M1370 1325.2L1380.6 1318.1L1405.3 1316.4L1417.6 1328.7L1414.1 1344.6L1396.5 1353.4L1370 1353.4Z" class="F" fill="#a8e0e6" stroke="#a8e0e6"/>
<path d="M1430 1397.5L1445.8 1381.6L1459.9 1356.9L1475.8 1354.3L1489.9 1362.2L1491.7 1381.6L1479.3 1392.2L1458.2 1390.5L1440.5 1399.3Z" class="F" fill="#a3dbb0" stroke="#a3dbb0"/>
<path d="M1465.2 1367.5L1482.9 1365.8L1491.7 1378.1L1489.9 1392.2L1475.8 1406.3L1465.2 1404.6L1468.8 1386.9ZM1444.1 1415.1L1451.1 1401L1463.5 1399.3L1468.8 1408.1L1452.9 1411.6Z" class="F" fill="#a8e0e6" stroke="#a8e0e6"/>
<path class="cb" d="M1405.3 1205.3C1404.8 1203.5 1402.6 1197.9 1402.6 1194.7C1402.6 1191.5 1403.7 1187 1405.3 1185.9C1406.9 1184.7 1410 1185.9 1412.3 1187.6C1414.7 1189.4 1417.6 1192.9 1419.4 1196.5C1421.1 1200 1422.6 1204.7 1422.9 1208.8C1423.2 1212.9 1422.6 1217.3 1421.1 1221.1C1419.7 1225 1416.7 1228.8 1414.1 1231.7C1411.4 1234.7 1407.6 1237 1405.3 1238.8C1402.9 1240.5 1400.9 1241.7 1400 1242.3"/><path class="ct" d="M1405.3 1205.3C1404.8 1203.5 1402.6 1197.9 1402.6 1194.7C1402.6 1191.5 1403.7 1187 1405.3 1185.9C1406.9 1184.7 1410 1185.9 1412.3 1187.6C1414.7 1189.4 1417.6 1192.9 1419.4 1196.5C1421.1 1200 1422.6 1204.7 1422.9 1208.8C1423.2 1212.9 1422.6 1217.3 1421.1 1221.1C1419.7 1225 1416.7 1228.8 1414.1 1231.7C1411.4 1234.7 1407.6 1237 1405.3 1238.8C1402.9 1240.5 1400.9 1241.7 1400 1242.3"/>
<path class="gb" d="M1398.2 1228.2C1399.4 1229.4 1402 1233.2 1405.3 1235.3C1408.5 1237.3 1414.1 1238.5 1417.6 1240.5C1421.1 1242.6 1425.3 1245.2 1426.4 1247.6C1427.6 1250 1426.1 1252.6 1424.7 1254.7C1423.2 1256.7 1418.8 1257.6 1417.6 1259.9C1416.4 1262.3 1416.4 1265.5 1417.6 1268.8C1418.8 1272 1422.6 1275.8 1424.7 1279.3C1426.7 1282.9 1428.8 1286.4 1430 1289.9C1431.1 1293.5 1431.4 1298.7 1431.7 1300.5"/><path class="gt" d="M1398.2 1228.2C1399.4 1229.4 1402 1233.2 1405.3 1235.3C1408.5 1237.3 1414.1 1238.5 1417.6 1240.5C1421.1 1242.6 1425.3 1245.2 1426.4 1247.6C1427.6 1250 1426.1 1252.6 1424.7 1254.7C1423.2 1256.7 1418.8 1257.6 1417.6 1259.9C1416.4 1262.3 1416.4 1265.5 1417.6 1268.8C1418.8 1272 1422.6 1275.8 1424.7 1279.3C1426.7 1282.9 1428.8 1286.4 1430 1289.9C1431.1 1293.5 1431.4 1298.7 1431.7 1300.5"/>
<path class="cb" d="M1391.2 1295.2C1392.9 1293.8 1397.9 1288.8 1401.7 1286.4C1405.6 1284.1 1410.9 1284.1 1414.1 1281.1C1417.3 1278.2 1420 1270.8 1421.1 1268.8"/><path class="ct" d="M1391.2 1295.2C1392.9 1293.8 1397.9 1288.8 1401.7 1286.4C1405.6 1284.1 1410.9 1284.1 1414.1 1281.1C1417.3 1278.2 1420 1270.8 1421.1 1268.8"/>
<path class="nb" d="M1514.6 1365.8C1516.4 1366.1 1522 1366.6 1525.2 1367.5C1528.4 1368.4 1531.7 1369 1534 1371.1C1536.4 1373.1 1538.7 1376.9 1539.3 1379.9C1539.9 1382.8 1537 1386 1537.5 1388.7C1538.1 1391.3 1540.2 1394.6 1542.8 1395.7C1545.5 1396.9 1549.6 1396.6 1553.4 1395.7C1557.2 1394.9 1561.7 1392.2 1565.8 1390.5C1569.9 1388.7 1574.3 1387.2 1578.1 1385.2C1581.9 1383.1 1586 1379.4 1588.7 1378.1C1591.3 1376.8 1592.7 1376.3 1594 1377.2C1595.3 1378.1 1596.6 1380.6 1596.6 1383.4C1596.6 1386.2 1595.6 1390.5 1594 1394C1592.4 1397.5 1589.3 1401.3 1586.9 1404.6C1584.6 1407.8 1583.4 1411.6 1579.9 1413.4C1576.3 1415.1 1569.9 1414 1565.8 1415.1C1561.7 1416.3 1558.1 1418.1 1555.2 1420.4C1552.2 1422.8 1549.7 1426 1548.1 1429.3C1546.5 1432.5 1545.8 1436 1545.5 1439.8C1545.2 1443.7 1547.1 1448.4 1546.4 1452.2C1545.6 1456 1543.4 1459.5 1541.1 1462.8C1538.7 1466 1535.8 1468.9 1532.3 1471.6C1528.7 1474.2 1524.3 1476.3 1519.9 1478.6C1515.5 1481 1510.5 1483.6 1505.8 1485.7C1501.1 1487.8 1496.4 1489.7 1491.7 1491C1487 1492.3 1481.4 1493.3 1477.6 1493.6C1473.8 1493.9 1470.8 1493.8 1468.8 1492.8C1466.7 1491.7 1465.8 1488.3 1465.2 1487.5"/><path class="nt" d="M1514.6 1365.8C1516.4 1366.1 1522 1366.6 1525.2 1367.5C1528.4 1368.4 1531.7 1369 1534 1371.1C1536.4 1373.1 1538.7 1376.9 1539.3 1379.9C1539.9 1382.8 1537 1386 1537.5 1388.7C1538.1 1391.3 1540.2 1394.6 1542.8 1395.7C1545.5 1396.9 1549.6 1396.6 1553.4 1395.7C1557.2 1394.9 1561.7 1392.2 1565.8 1390.5C1569.9 1388.7 1574.3 1387.2 1578.1 1385.2C1581.9 1383.1 1586 1379.4 1588.7 1378.1C1591.3 1376.8 1592.7 1376.3 1594 1377.2C1595.3 1378.1 1596.6 1380.6 1596.6 1383.4C1596.6 1386.2 1595.6 1390.5 1594 1394C1592.4 1397.5 1589.3 1401.3 1586.9 1404.6C1584.6 1407.8 1583.4 1411.6 1579.9 1413.4C1576.3 1415.1 1569.9 1414 1565.8 1415.1C1561.7 1416.3 1558.1 1418.1 1555.2 1420.4C1552.2 1422.8 1549.7 1426 1548.1 1429.3C1546.5 1432.5 1545.8 1436 1545.5 1439.8C1545.2 1443.7 1547.1 1448.4 1546.4 1452.2C1545.6 1456 1543.4 1459.5 1541.1 1462.8C1538.7 1466 1535.8 1468.9 1532.3 1471.6C1528.7 1474.2 1524.3 1476.3 1519.9 1478.6C1515.5 1481 1510.5 1483.6 1505.8 1485.7C1501.1 1487.8 1496.4 1489.7 1491.7 1491C1487 1492.3 1481.4 1493.3 1477.6 1493.6C1473.8 1493.9 1470.8 1493.8 1468.8 1492.8C1466.7 1491.7 1465.8 1488.3 1465.2 1487.5"/>
<path class="mb" d="M1516.4 1362.2C1517.9 1361.9 1522.6 1360.2 1525.2 1360.5C1527.8 1360.8 1530.5 1361.9 1532.3 1364C1534 1366.1 1535.2 1369.3 1535.8 1372.8C1536.4 1376.3 1535.2 1381.3 1535.8 1385.2C1536.4 1389 1537.3 1393.1 1539.3 1395.7C1541.4 1398.4 1544.9 1399.6 1548.1 1401C1551.4 1402.5 1555.2 1403.7 1558.7 1404.6C1562.2 1405.4 1566.1 1405.2 1569.3 1406.3C1572.5 1407.5 1575.8 1409.3 1578.1 1411.6C1580.5 1414 1582.8 1417.5 1583.4 1420.4C1584 1423.4 1583.1 1426.6 1581.6 1429.3C1580.2 1431.9 1577.5 1434.7 1574.6 1436.3C1571.6 1437.9 1567.5 1439.3 1564 1439C1560.5 1438.7 1556.7 1436.2 1553.4 1434.6C1550.2 1432.9 1547.8 1430.1 1544.6 1429.3C1541.4 1428.4 1537 1428.4 1534 1429.3C1531.1 1430.1 1528.4 1432.2 1527 1434.6C1525.5 1436.9 1525.2 1439.8 1525.2 1443.4C1525.2 1446.9 1527.3 1451.9 1527 1455.7C1526.7 1459.5 1525.2 1463.4 1523.4 1466.3C1521.7 1469.2 1519.3 1471.6 1516.4 1473.4C1513.4 1475.1 1509.6 1476 1505.8 1476.9C1502 1477.8 1497.6 1477.8 1493.5 1478.6C1489.3 1479.5 1484.9 1481 1481.1 1482.2C1477.3 1483.3 1473.2 1484.8 1470.5 1485.7C1467.9 1486.6 1466.1 1487.2 1465.2 1487.5M1412.3 1434.6C1414.1 1435.1 1419.1 1437.5 1422.9 1438.1C1426.7 1438.7 1431.1 1438.5 1435.3 1438.1C1439.4 1437.6 1443.8 1436 1447.6 1435.4C1451.4 1434.8 1454.7 1434.1 1458.2 1434.6C1461.7 1435 1465.5 1436.3 1468.8 1438.1C1472 1439.8 1475.2 1442.5 1477.6 1445.1C1479.9 1447.8 1481.1 1451.3 1482.9 1454C1484.6 1456.6 1486.7 1459.4 1488.2 1461C1489.6 1462.6 1491.1 1463.2 1491.7 1463.7M1412.3 1434.6C1413.5 1436.3 1416.4 1441.6 1419.4 1445.1C1422.3 1448.7 1427 1452.5 1430 1455.7C1432.9 1458.9 1435.3 1461.6 1437 1464.5C1438.8 1467.5 1438.8 1470.7 1440.5 1473.4C1442.3 1476 1445 1478.3 1447.6 1480.4C1450.2 1482.5 1453.5 1484.5 1456.4 1485.7C1459.4 1486.9 1463.8 1487.2 1465.2 1487.5"/><path class="mt" d="M1516.4 1362.2C1517.9 1361.9 1522.6 1360.2 1525.2 1360.5C1527.8 1360.8 1530.5 1361.9 1532.3 1364C1534 1366.1 1535.2 1369.3 1535.8 1372.8C1536.4 1376.3 1535.2 1381.3 1535.8 1385.2C1536.4 1389 1537.3 1393.1 1539.3 1395.7C1541.4 1398.4 1544.9 1399.6 1548.1 1401C1551.4 1402.5 1555.2 1403.7 1558.7 1404.6C1562.2 1405.4 1566.1 1405.2 1569.3 1406.3C1572.5 1407.5 1575.8 1409.3 1578.1 1411.6C1580.5 1414 1582.8 1417.5 1583.4 1420.4C1584 1423.4 1583.1 1426.6 1581.6 1429.3C1580.2 1431.9 1577.5 1434.7 1574.6 1436.3C1571.6 1437.9 1567.5 1439.3 1564 1439C1560.5 1438.7 1556.7 1436.2 1553.4 1434.6C1550.2 1432.9 1547.8 1430.1 1544.6 1429.3C1541.4 1428.4 1537 1428.4 1534 1429.3C1531.1 1430.1 1528.4 1432.2 1527 1434.6C1525.5 1436.9 1525.2 1439.8 1525.2 1443.4C1525.2 1446.9 1527.3 1451.9 1527 1455.7C1526.7 1459.5 1525.2 1463.4 1523.4 1466.3C1521.7 1469.2 1519.3 1471.6 1516.4 1473.4C1513.4 1475.1 1509.6 1476 1505.8 1476.9C1502 1477.8 1497.6 1477.8 1493.5 1478.6C1489.3 1479.5 1484.9 1481 1481.1 1482.2C1477.3 1483.3 1473.2 1484.8 1470.5 1485.7C1467.9 1486.6 1466.1 1487.2 1465.2 1487.5M1412.3 1434.6C1414.1 1435.1 1419.1 1437.5 1422.9 1438.1C1426.7 1438.7 1431.1 1438.5 1435.3 1438.1C1439.4 1437.6 1443.8 1436 1447.6 1435.4C1451.4 1434.8 1454.7 1434.1 1458.2 1434.6C1461.7 1435 1465.5 1436.3 1468.8 1438.1C1472 1439.8 1475.2 1442.5 1477.6 1445.1C1479.9 1447.8 1481.1 1451.3 1482.9 1454C1484.6 1456.6 1486.7 1459.4 1488.2 1461C1489.6 1462.6 1491.1 1463.2 1491.7 1463.7M1412.3 1434.6C1413.5 1436.3 1416.4 1441.6 1419.4 1445.1C1422.3 1448.7 1427 1452.5 1430 1455.7C1432.9 1458.9 1435.3 1461.6 1437 1464.5C1438.8 1467.5 1438.8 1470.7 1440.5 1473.4C1442.3 1476 1445 1478.3 1447.6 1480.4C1450.2 1482.5 1453.5 1484.5 1456.4 1485.7C1459.4 1486.9 1463.8 1487.2 1465.2 1487.5"/>
<path class="nb" d="M1422.9 1450.4C1424.1 1451.9 1427.3 1456.3 1430 1459.2C1432.6 1462.2 1435.5 1465.4 1438.8 1468.1C1442 1470.7 1445.8 1472.5 1449.4 1475.1C1452.9 1477.8 1457 1481.3 1459.9 1483.9C1462.9 1486.6 1465.8 1489.8 1467 1491M1422.9 1450.4C1424.4 1449.8 1428.2 1448.1 1431.7 1446.9C1435.3 1445.7 1440.3 1444.4 1444.1 1443.4C1447.9 1442.3 1451.1 1441 1454.7 1440.7C1458.2 1440.4 1461.7 1441.3 1465.2 1441.6C1468.8 1441.9 1474.1 1442.3 1475.8 1442.5"/><path class="nt" d="M1422.9 1450.4C1424.1 1451.9 1427.3 1456.3 1430 1459.2C1432.6 1462.2 1435.5 1465.4 1438.8 1468.1C1442 1470.7 1445.8 1472.5 1449.4 1475.1C1452.9 1477.8 1457 1481.3 1459.9 1483.9C1462.9 1486.6 1465.8 1489.8 1467 1491M1422.9 1450.4C1424.4 1449.8 1428.2 1448.1 1431.7 1446.9C1435.3 1445.7 1440.3 1444.4 1444.1 1443.4C1447.9 1442.3 1451.1 1441 1454.7 1440.7C1458.2 1440.4 1461.7 1441.3 1465.2 1441.6C1468.8 1441.9 1474.1 1442.3 1475.8 1442.5"/>
<path class="Db" d="M1475.8 1442.5C1477.3 1443.8 1481.7 1447.3 1484.6 1450.4C1487.6 1453.5 1490.5 1458.7 1493.5 1461C1496.4 1463.4 1499.3 1464.8 1502.3 1464.5C1505.2 1464.2 1508.7 1461.2 1511.1 1459.2C1513.4 1457.3 1515.5 1454.1 1516.4 1453.1"/><path class="Dt" d="M1475.8 1442.5C1477.3 1443.8 1481.7 1447.3 1484.6 1450.4C1487.6 1453.5 1490.5 1458.7 1493.5 1461C1496.4 1463.4 1499.3 1464.8 1502.3 1464.5C1505.2 1464.2 1508.7 1461.2 1511.1 1459.2C1513.4 1457.3 1515.5 1454.1 1516.4 1453.1"/>
<path class="Cb" d="M1405.3 1205.3C1407 1205.9 1412 1208.8 1415.9 1208.8C1419.7 1208.8 1424.1 1205.9 1428.2 1205.3C1432.3 1204.7 1437 1204.1 1440.5 1205.3C1444.1 1206.4 1447.2 1209.1 1449.4 1212.3C1451.6 1215.6 1453.3 1220 1453.8 1224.7C1454.2 1229.4 1453 1235.3 1452 1240.5C1451 1245.8 1449.2 1251.4 1447.6 1256.4C1446 1261.4 1444.7 1266.1 1442.3 1270.5C1440 1274.9 1436.7 1279.3 1433.5 1282.9C1430.3 1286.4 1426.7 1289 1422.9 1291.7C1419.1 1294.3 1413.8 1295.8 1410.6 1298.7C1407.3 1301.7 1405.1 1305.5 1403.5 1309.3C1401.9 1313.2 1401.3 1317.6 1400.9 1321.7C1400.4 1325.8 1401.6 1330.5 1400.9 1334C1400.1 1337.5 1399 1340.5 1396.5 1342.8C1394 1345.2 1389.7 1346.7 1385.9 1348.1C1382.1 1349.6 1375.6 1351.1 1373.5 1351.7M1445.8 1311.1C1445.8 1310.2 1447 1307 1445.8 1305.8C1444.7 1304.6 1442.3 1304 1438.8 1304C1435.3 1304 1429.1 1304.3 1424.7 1305.8C1420.3 1307.3 1414.8 1310.5 1412.3 1312.9C1409.8 1315.2 1408.8 1318.1 1409.7 1319.9C1410.6 1321.7 1414.8 1322.6 1417.6 1323.4C1420.4 1324.3 1424.2 1323.7 1426.4 1325.2C1428.6 1326.7 1430.8 1329.3 1430.8 1332.3C1430.8 1335.2 1428.9 1339.6 1426.4 1342.8C1423.9 1346.1 1419.7 1348.7 1415.9 1351.7C1412 1354.6 1407 1357.5 1403.5 1360.5C1400 1363.4 1396.6 1366.9 1394.7 1369.3C1392.8 1371.6 1391.6 1373.7 1392 1374.6C1392.5 1375.5 1396.3 1373.4 1397.3 1374.6C1398.4 1375.8 1398.7 1378.4 1398.2 1381.6C1397.8 1384.9 1395.9 1389.6 1394.7 1394C1393.5 1398.4 1391.6 1403.7 1391.2 1408.1C1390.7 1412.5 1391.2 1416.9 1392 1420.4C1392.9 1424 1394.5 1427.5 1396.5 1429.3C1398.4 1431 1400.6 1431.6 1403.5 1431C1406.4 1430.4 1410.9 1427.8 1414.1 1425.7C1417.3 1423.7 1420.3 1421.3 1422.9 1418.7C1425.6 1416 1427.6 1413.1 1430 1409.9C1432.3 1406.6 1434.4 1402.2 1437 1399.3C1439.7 1396.3 1442.9 1393.7 1445.8 1392.2C1448.8 1390.8 1451.7 1390.2 1454.7 1390.5C1457.6 1390.8 1460.8 1392.2 1463.5 1394C1466.1 1395.7 1469.4 1399.9 1470.5 1401M1445.8 1311.1C1445.2 1312.6 1443.3 1317 1442.3 1319.9C1441.3 1322.9 1439.7 1325.8 1439.7 1328.7C1439.7 1331.7 1440.7 1335.2 1442.3 1337.5C1443.9 1339.9 1446.1 1341.7 1449.4 1342.8C1452.6 1344 1457.3 1344 1461.7 1344.6C1466.1 1345.2 1472 1345.8 1475.8 1346.4C1479.6 1347 1483.2 1347.8 1484.6 1348.1"/><path class="Ct" d="M1405.3 1205.3C1407 1205.9 1412 1208.8 1415.9 1208.8C1419.7 1208.8 1424.1 1205.9 1428.2 1205.3C1432.3 1204.7 1437 1204.1 1440.5 1205.3C1444.1 1206.4 1447.2 1209.1 1449.4 1212.3C1451.6 1215.6 1453.3 1220 1453.8 1224.7C1454.2 1229.4 1453 1235.3 1452 1240.5C1451 1245.8 1449.2 1251.4 1447.6 1256.4C1446 1261.4 1444.7 1266.1 1442.3 1270.5C1440 1274.9 1436.7 1279.3 1433.5 1282.9C1430.3 1286.4 1426.7 1289 1422.9 1291.7C1419.1 1294.3 1413.8 1295.8 1410.6 1298.7C1407.3 1301.7 1405.1 1305.5 1403.5 1309.3C1401.9 1313.2 1401.3 1317.6 1400.9 1321.7C1400.4 1325.8 1401.6 1330.5 1400.9 1334C1400.1 1337.5 1399 1340.5 1396.5 1342.8C1394 1345.2 1389.7 1346.7 1385.9 1348.1C1382.1 1349.6 1375.6 1351.1 1373.5 1351.7M1445.8 1311.1C1445.8 1310.2 1447 1307 1445.8 1305.8C1444.7 1304.6 1442.3 1304 1438.8 1304C1435.3 1304 1429.1 1304.3 1424.7 1305.8C1420.3 1307.3 1414.8 1310.5 1412.3 1312.9C1409.8 1315.2 1408.8 1318.1 1409.7 1319.9C1410.6 1321.7 1414.8 1322.6 1417.6 1323.4C1420.4 1324.3 1424.2 1323.7 1426.4 1325.2C1428.6 1326.7 1430.8 1329.3 1430.8 1332.3C1430.8 1335.2 1428.9 1339.6 1426.4 1342.8C1423.9 1346.1 1419.7 1348.7 1415.9 1351.7C1412 1354.6 1407 1357.5 1403.5 1360.5C1400 1363.4 1396.6 1366.9 1394.7 1369.3C1392.8 1371.6 1391.6 1373.7 1392 1374.6C1392.5 1375.5 1396.3 1373.4 1397.3 1374.6C1398.4 1375.8 1398.7 1378.4 1398.2 1381.6C1397.8 1384.9 1395.9 1389.6 1394.7 1394C1393.5 1398.4 1391.6 1403.7 1391.2 1408.1C1390.7 1412.5 1391.2 1416.9 1392 1420.4C1392.9 1424 1394.5 1427.5 1396.5 1429.3C1398.4 1431 1400.6 1431.6 1403.5 1431C1406.4 1430.4 1410.9 1427.8 1414.1 1425.7C1417.3 1423.7 1420.3 1421.3 1422.9 1418.7C1425.6 1416 1427.6 1413.1 1430 1409.9C1432.3 1406.6 1434.4 1402.2 1437 1399.3C1439.7 1396.3 1442.9 1393.7 1445.8 1392.2C1448.8 1390.8 1451.7 1390.2 1454.7 1390.5C1457.6 1390.8 1460.8 1392.2 1463.5 1394C1466.1 1395.7 1469.4 1399.9 1470.5 1401M1445.8 1311.1C1445.2 1312.6 1443.3 1317 1442.3 1319.9C1441.3 1322.9 1439.7 1325.8 1439.7 1328.7C1439.7 1331.7 1440.7 1335.2 1442.3 1337.5C1443.9 1339.9 1446.1 1341.7 1449.4 1342.8C1452.6 1344 1457.3 1344 1461.7 1344.6C1466.1 1345.2 1472 1345.8 1475.8 1346.4C1479.6 1347 1483.2 1347.8 1484.6 1348.1"/>
<path class="Gb" d="M1398.2 1228.2C1397.9 1226.4 1395.9 1220.9 1396.5 1217.6C1397 1214.4 1398.8 1211.2 1401.7 1208.8C1404.7 1206.4 1409.7 1205.1 1414.1 1203.5C1418.5 1201.9 1423.2 1200.1 1428.2 1199.1C1433.2 1198.1 1439.4 1197 1444.1 1197.3C1448.8 1197.6 1452.9 1198.7 1456.4 1200.9C1459.9 1203.1 1463.3 1206.9 1465.2 1210.6C1467.1 1214.2 1467.9 1218.5 1467.9 1222.9C1467.9 1227.3 1466.3 1232.3 1465.2 1237C1464.2 1241.7 1463.2 1246.4 1461.7 1251.1C1460.2 1255.8 1458.8 1261.1 1456.4 1265.2C1454.1 1269.4 1450.8 1272.6 1447.6 1275.8C1444.4 1279.1 1440.8 1282 1437 1284.6C1433.2 1287.3 1428.5 1289.3 1424.7 1291.7C1420.9 1294 1416.9 1295.8 1414.1 1298.7C1411.3 1301.7 1409.1 1305.5 1407.9 1309.3C1406.7 1313.2 1407.5 1317.6 1407 1321.7C1406.6 1325.8 1406.4 1330.5 1405.3 1334C1404.1 1337.5 1402.6 1340.5 1400 1342.8C1397.3 1345.2 1393.2 1346.8 1389.4 1348.1C1385.6 1349.5 1380.3 1349.9 1377.1 1350.8C1373.8 1351.7 1371.2 1353 1370 1353.4M1424.7 1318.1C1425.6 1316.7 1427 1312 1430 1309.3C1432.9 1306.7 1438.2 1303.9 1442.3 1302.3C1446.4 1300.7 1451.7 1299.2 1454.7 1299.6C1457.6 1300.1 1459.7 1302.4 1459.9 1304.9C1460.2 1307.4 1457.9 1311.2 1456.4 1314.6C1455 1318 1452 1321.7 1451.1 1325.2C1450.2 1328.7 1450 1333.1 1451.1 1335.8C1452.3 1338.4 1454.7 1340 1458.2 1341.1C1461.7 1342.1 1467.9 1341.5 1472.3 1342C1476.7 1342.4 1481.1 1343 1484.6 1343.7C1488.2 1344.5 1492 1345.9 1493.5 1346.4M1424.7 1318.1C1425.8 1318.7 1428.8 1320.8 1431.7 1321.7C1434.7 1322.6 1439.7 1321.7 1442.3 1323.4C1445 1325.2 1447 1329 1447.6 1332.3C1448.2 1335.5 1447.3 1339.6 1445.8 1342.8C1444.4 1346.1 1441.7 1348.7 1438.8 1351.7C1435.8 1354.6 1431.7 1357.5 1428.2 1360.5C1424.7 1363.4 1420.1 1366.6 1417.6 1369.3C1415.1 1371.9 1413.5 1372.5 1413.2 1376.3C1412.9 1380.2 1414.8 1386.6 1415.9 1392.2C1416.9 1397.8 1418.2 1404.3 1419.4 1409.9C1420.6 1415.4 1422 1421.6 1422.9 1425.7C1423.8 1429.8 1424.1 1434.3 1424.7 1434.6C1425.3 1434.8 1425.3 1430.7 1426.4 1427.5C1427.6 1424.3 1430 1419.3 1431.7 1415.1C1433.5 1411 1435 1406.6 1437 1402.8C1439.1 1399 1441.4 1395 1444.1 1392.2C1446.7 1389.4 1449.7 1387.2 1452.9 1386C1456.1 1384.9 1460.5 1384.4 1463.5 1385.2C1466.4 1385.9 1468.8 1388.5 1470.5 1390.5C1472.3 1392.4 1473.5 1395.6 1474.1 1396.6"/><path class="Gt" d="M1398.2 1228.2C1397.9 1226.4 1395.9 1220.9 1396.5 1217.6C1397 1214.4 1398.8 1211.2 1401.7 1208.8C1404.7 1206.4 1409.7 1205.1 1414.1 1203.5C1418.5 1201.9 1423.2 1200.1 1428.2 1199.1C1433.2 1198.1 1439.4 1197 1444.1 1197.3C1448.8 1197.6 1452.9 1198.7 1456.4 1200.9C1459.9 1203.1 1463.3 1206.9 1465.2 1210.6C1467.1 1214.2 1467.9 1218.5 1467.9 1222.9C1467.9 1227.3 1466.3 1232.3 1465.2 1237C1464.2 1241.7 1463.2 1246.4 1461.7 1251.1C1460.2 1255.8 1458.8 1261.1 1456.4 1265.2C1454.1 1269.4 1450.8 1272.6 1447.6 1275.8C1444.4 1279.1 1440.8 1282 1437 1284.6C1433.2 1287.3 1428.5 1289.3 1424.7 1291.7C1420.9 1294 1416.9 1295.8 1414.1 1298.7C1411.3 1301.7 1409.1 1305.5 1407.9 1309.3C1406.7 1313.2 1407.5 1317.6 1407 1321.7C1406.6 1325.8 1406.4 1330.5 1405.3 1334C1404.1 1337.5 1402.6 1340.5 1400 1342.8C1397.3 1345.2 1393.2 1346.8 1389.4 1348.1C1385.6 1349.5 1380.3 1349.9 1377.1 1350.8C1373.8 1351.7 1371.2 1353 1370 1353.4M1424.7 1318.1C1425.6 1316.7 1427 1312 1430 1309.3C1432.9 1306.7 1438.2 1303.9 1442.3 1302.3C1446.4 1300.7 1451.7 1299.2 1454.7 1299.6C1457.6 1300.1 1459.7 1302.4 1459.9 1304.9C1460.2 1307.4 1457.9 1311.2 1456.4 1314.6C1455 1318 1452 1321.7 1451.1 1325.2C1450.2 1328.7 1450 1333.1 1451.1 1335.8C1452.3 1338.4 1454.7 1340 1458.2 1341.1C1461.7 1342.1 1467.9 1341.5 1472.3 1342C1476.7 1342.4 1481.1 1343 1484.6 1343.7C1488.2 1344.5 1492 1345.9 1493.5 1346.4M1424.7 1318.1C1425.8 1318.7 1428.8 1320.8 1431.7 1321.7C1434.7 1322.6 1439.7 1321.7 1442.3 1323.4C1445 1325.2 1447 1329 1447.6 1332.3C1448.2 1335.5 1447.3 1339.6 1445.8 1342.8C1444.4 1346.1 1441.7 1348.7 1438.8 1351.7C1435.8 1354.6 1431.7 1357.5 1428.2 1360.5C1424.7 1363.4 1420.1 1366.6 1417.6 1369.3C1415.1 1371.9 1413.5 1372.5 1413.2 1376.3C1412.9 1380.2 1414.8 1386.6 1415.9 1392.2C1416.9 1397.8 1418.2 1404.3 1419.4 1409.9C1420.6 1415.4 1422 1421.6 1422.9 1425.7C1423.8 1429.8 1424.1 1434.3 1424.7 1434.6C1425.3 1434.8 1425.3 1430.7 1426.4 1427.5C1427.6 1424.3 1430 1419.3 1431.7 1415.1C1433.5 1411 1435 1406.6 1437 1402.8C1439.1 1399 1441.4 1395 1444.1 1392.2C1446.7 1389.4 1449.7 1387.2 1452.9 1386C1456.1 1384.9 1460.5 1384.4 1463.5 1385.2C1466.4 1385.9 1468.8 1388.5 1470.5 1390.5C1472.3 1392.4 1473.5 1395.6 1474.1 1396.6"/>
<path class="Wb" d="M1516.4 1453.1C1517.6 1452.9 1521.4 1451.5 1523.4 1452.2C1525.5 1452.9 1527 1454.8 1528.7 1457.5C1530.5 1460.1 1532.3 1464.5 1534 1468.1C1535.8 1471.6 1537.3 1475.4 1539.3 1478.6C1541.4 1481.9 1543.7 1484.8 1546.4 1487.5C1549 1490.1 1552.2 1493 1555.2 1494.5C1558.1 1496 1561.7 1496.9 1564 1496.3C1566.4 1495.7 1566.9 1493.3 1569.3 1491C1571.6 1488.6 1575.8 1485.7 1578.1 1482.2C1580.5 1478.6 1582.1 1473.9 1583.4 1469.8C1584.7 1465.7 1585 1461.2 1586 1457.5C1587.1 1453.8 1589 1449.4 1589.6 1447.8"/><path class="Wt" d="M1516.4 1453.1C1517.6 1452.9 1521.4 1451.5 1523.4 1452.2C1525.5 1452.9 1527 1454.8 1528.7 1457.5C1530.5 1460.1 1532.3 1464.5 1534 1468.1C1535.8 1471.6 1537.3 1475.4 1539.3 1478.6C1541.4 1481.9 1543.7 1484.8 1546.4 1487.5C1549 1490.1 1552.2 1493 1555.2 1494.5C1558.1 1496 1561.7 1496.9 1564 1496.3C1566.4 1495.7 1566.9 1493.3 1569.3 1491C1571.6 1488.6 1575.8 1485.7 1578.1 1482.2C1580.5 1478.6 1582.1 1473.9 1583.4 1469.8C1584.7 1465.7 1585 1461.2 1586 1457.5C1587.1 1453.8 1589 1449.4 1589.6 1447.8"/>
<path d="M1479.3 1348.1L1493.5 1346.4L1504 1353.4L1516.4 1360.5L1511.1 1372.8L1504 1379.9L1493.5 1369.3L1486.4 1372.8L1482.9 1360.5Z" class="F" fill="#48bccb" stroke="#48bccb"/>
<path d="M1479.3 1348.1L1482.9 1346.4L1488.2 1371.1L1485.5 1372.8Z" class="F" fill="#1f94a4" stroke="#1f94a4"/>
<path d="M1489.9 1344.6L1500.5 1341.1L1507.6 1344.6L1498.7 1348.1L1491.7 1356.9Z" class="F" fill="#2fa95e" stroke="#2fa95e"/>
<circle cx="1394.7" cy="1359.6" r="8" fill="#111"/>
<circle cx="1396.7" cy="1357.2" r="2.2" fill="#fff" opacity=".28"/>
<circle cx="1474.6" cy="1436.3" r="6.5" fill="#666"/>
<circle cx="1476.2" cy="1434.4" r="1.8" fill="#fff" opacity=".28"/>
<text x="1052.6" y="1158.8" font-weight="700" font-size="32">e</text>
<text x="1093.3" y="1178" font-style="italic" font-size="28">Daucus carota</text>
<path d="M759.5 776.1C757.2 776.8 749.4 777.6 745.8 780.6C742.2 783.7 738.8 789.3 737.8 794.3C736.9 799.2 738 805.7 740.1 810.2C742.2 814.8 746.4 819.3 750.3 821.6C754.3 823.9 761.7 823.5 764 823.9" class="H" stroke="#aee0c1" stroke-width="10"/>
<path d="M773.1 778.3C775.8 776.4 783.8 768.5 789.1 766.9C794.4 765.4 801.2 766.2 805 769.2C808.8 772.3 809.9 779.1 811.8 785.2C813.7 791.2 816.4 799.2 816.4 805.7C816.4 812.1 815.3 819.3 811.8 823.9C808.4 828.5 801.2 832.6 795.9 833C790.6 833.4 783.8 830 780 826.2C776.2 822.4 774.3 812.9 773.1 810.2" class="H" stroke="#aee0c1" stroke-width="10"/>
<path d="M818.7 785.2C820.2 787.8 826.7 795.4 827.8 801.1C828.9 806.8 827.8 813.3 825.5 819.3C823.2 825.4 818.7 833.8 814.1 837.6C809.6 841.4 800.8 841.4 798.2 842.1" class="H" stroke="#8fcfab" stroke-width="7"/>
<path class="Pb" d="M786.8 780.6C787.9 783.3 791.3 791.2 793.6 796.6C795.9 801.9 798.9 807.2 800.5 812.5C802 817.8 801.2 823.9 802.7 828.5C804.3 833 806.2 837.2 809.6 839.8C813 842.5 818.7 842.9 823.2 844.4C827.8 845.9 833.5 846.7 836.9 849C840.3 851.2 842.2 854.6 843.7 858.1C845.3 861.5 845.6 867.6 846 869.5M827.8 812.5C830.4 811.7 838.8 807.9 843.7 807.9C848.7 807.9 853.2 810.2 857.4 812.5C861.6 814.8 864.6 820.5 868.8 821.6C873 822.8 879 818.2 882.5 819.3C885.9 820.5 887.4 824.7 889.3 828.5C891.2 832.2 891.6 837.6 893.8 842.1C896.1 846.7 899.5 852.7 903 855.8C906.4 858.8 912.5 859.6 914.4 860.3"/><path class="Pt" d="M786.8 780.6C787.9 783.3 791.3 791.2 793.6 796.6C795.9 801.9 798.9 807.2 800.5 812.5C802 817.8 801.2 823.9 802.7 828.5C804.3 833 806.2 837.2 809.6 839.8C813 842.5 818.7 842.9 823.2 844.4C827.8 845.9 833.5 846.7 836.9 849C840.3 851.2 842.2 854.6 843.7 858.1C845.3 861.5 845.6 867.6 846 869.5M827.8 812.5C830.4 811.7 838.8 807.9 843.7 807.9C848.7 807.9 853.2 810.2 857.4 812.5C861.6 814.8 864.6 820.5 868.8 821.6C873 822.8 879 818.2 882.5 819.3C885.9 820.5 887.4 824.7 889.3 828.5C891.2 832.2 891.6 837.6 893.8 842.1C896.1 846.7 899.5 852.7 903 855.8C906.4 858.8 912.5 859.6 914.4 860.3"/>
<path d="M852.8 830.7L866.5 819.3L889.3 813.6L880.2 833L875.6 851.2L862 860.3L852.8 851.2Z" class="F" fill="#aee0c1" stroke="#aee0c1"/>
<path class="Pb" d="M918.9 837.6C920 834.5 923.1 824.3 925.7 819.3C928.4 814.4 930.7 809.5 934.9 807.9C939 806.4 947 807.9 950.8 810.2C954.6 812.5 955.4 821.6 957.6 821.6C959.9 821.6 962.9 813.6 964.5 810.2C966 806.8 964.8 803 966.7 801.1C968.6 799.2 972.8 797.7 975.9 798.8C978.9 800 983.8 803.8 985 807.9C986.1 812.1 985.3 819 982.7 823.9C980 828.8 973.2 833.8 969 837.6C964.8 841.4 960.1 842.9 957.6 846.7C955.2 850.5 953.8 855.8 954.2 860.3C954.6 864.9 959.7 870.2 959.9 874C960.1 877.8 958.4 881.6 955.4 883.1C952.3 884.6 945.9 883.9 941.7 883.1C937.5 882.4 932.2 879.3 930.3 878.6"/><path class="Pt" d="M918.9 837.6C920 834.5 923.1 824.3 925.7 819.3C928.4 814.4 930.7 809.5 934.9 807.9C939 806.4 947 807.9 950.8 810.2C954.6 812.5 955.4 821.6 957.6 821.6C959.9 821.6 962.9 813.6 964.5 810.2C966 806.8 964.8 803 966.7 801.1C968.6 799.2 972.8 797.7 975.9 798.8C978.9 800 983.8 803.8 985 807.9C986.1 812.1 985.3 819 982.7 823.9C980 828.8 973.2 833.8 969 837.6C964.8 841.4 960.1 842.9 957.6 846.7C955.2 850.5 953.8 855.8 954.2 860.3C954.6 864.9 959.7 870.2 959.9 874C960.1 877.8 958.4 881.6 955.4 883.1C952.3 884.6 945.9 883.9 941.7 883.1C937.5 882.4 932.2 879.3 930.3 878.6"/>
<path d="M914.4 837.6L928 826.2L918.9 855.8L923.5 869.5L921.2 892.2L909.8 874L898.4 864.9L907.5 855.8Z" class="F" fill="#aee0c1" stroke="#aee0c1"/>
<path class="Pb" d="M916.6 887.7C917 890 919.3 896.8 918.9 901.3C918.5 905.9 916.2 910.5 914.4 915C912.5 919.6 908.3 924.1 907.5 928.7C906.8 933.2 907.9 937.8 909.8 942.3C911.7 946.9 917 952.2 918.9 956C920.8 959.8 922.3 963.2 921.2 965.1C920 967 915.5 967.8 912.1 967.4C908.7 967 903.3 965.1 900.7 962.8C898 960.6 896.1 956.4 896.1 953.7C896.1 951.1 898.8 947.7 900.7 946.9C902.6 946.1 906.4 948.8 907.5 949.2M887 896.8C887.8 894.5 890.1 886.9 891.6 883.1C893.1 879.3 895.4 875.5 896.1 874M848.3 887.7C845.6 887.7 837.3 886.9 832.3 887.7C827.4 888.4 822.1 889.6 818.7 892.2C815.3 894.9 812.6 899.8 811.8 903.6C811.1 907.4 812.6 911.2 814.1 915C815.6 918.8 819.8 924.5 821 926.4M700.2 919.6C702.5 918.8 709.3 916.9 713.9 915C718.5 913.1 726.8 910.5 727.6 908.2C728.3 905.9 721.9 902.1 718.5 901.3C715 900.6 709.7 902.1 707.1 903.6C704.4 905.1 701.4 908.6 702.5 910.5C703.6 912.4 708.2 915 713.9 915C719.6 915 730.6 912.4 736.7 910.5C742.7 908.6 746.9 903.6 750.3 903.6C753.8 903.6 755.7 907 757.2 910.5C758.7 913.9 758.3 919.9 759.5 924.1C760.6 928.3 761 934 764 935.5C767 937 772.4 934.8 777.7 933.2C783 931.7 789.8 927.2 795.9 926.4C802 925.6 809.6 927.2 814.1 928.7C818.7 930.2 821.7 934.4 823.2 935.5M691.1 910.5C690.7 908.6 687.7 902.5 688.8 899.1C690 895.6 693.8 892.2 697.9 890C702.1 887.7 709 885 713.9 885.4C718.8 885.8 723.8 889.6 727.6 892.2C731.4 894.9 733.6 900.2 736.7 901.3C739.7 902.5 742.7 899.1 745.8 899.1C748.8 899.1 752.6 898.7 754.9 901.3C757.2 904 757.2 910.5 759.5 915C761.7 919.6 767 926.4 768.6 928.7M679.7 958.3C677.1 957.2 669.1 953.4 663.8 951.5C658.5 949.6 652.4 946.1 647.8 946.9C643.3 947.7 638.7 951.8 636.4 956C634.2 960.2 633.4 966.6 634.2 972C634.9 977.3 638 982.6 641 987.9C644 993.2 648.6 998.5 652.4 1003.8C656.2 1009.2 661.1 1014.9 663.8 1019.8C666.4 1024.7 668.3 1028.9 668.3 1033.5C668.3 1038 665.3 1042.6 663.8 1047.1C662.3 1051.7 659.2 1056.6 659.2 1060.8C659.2 1065 660.7 1069.5 663.8 1072.2C666.8 1074.8 672.1 1076.4 677.4 1076.7C682.8 1077.1 689.6 1075.6 695.7 1074.5C701.7 1073.3 708.6 1071.8 713.9 1069.9C719.2 1068 724.9 1066.1 727.6 1063.1C730.2 1060 730.6 1054.7 729.8 1051.7C729.1 1048.6 724.1 1046 723 1044.9"/><path class="Pt" d="M916.6 887.7C917 890 919.3 896.8 918.9 901.3C918.5 905.9 916.2 910.5 914.4 915C912.5 919.6 908.3 924.1 907.5 928.7C906.8 933.2 907.9 937.8 909.8 942.3C911.7 946.9 917 952.2 918.9 956C920.8 959.8 922.3 963.2 921.2 965.1C920 967 915.5 967.8 912.1 967.4C908.7 967 903.3 965.1 900.7 962.8C898 960.6 896.1 956.4 896.1 953.7C896.1 951.1 898.8 947.7 900.7 946.9C902.6 946.1 906.4 948.8 907.5 949.2M887 896.8C887.8 894.5 890.1 886.9 891.6 883.1C893.1 879.3 895.4 875.5 896.1 874M848.3 887.7C845.6 887.7 837.3 886.9 832.3 887.7C827.4 888.4 822.1 889.6 818.7 892.2C815.3 894.9 812.6 899.8 811.8 903.6C811.1 907.4 812.6 911.2 814.1 915C815.6 918.8 819.8 924.5 821 926.4M700.2 919.6C702.5 918.8 709.3 916.9 713.9 915C718.5 913.1 726.8 910.5 727.6 908.2C728.3 905.9 721.9 902.1 718.5 901.3C715 900.6 709.7 902.1 707.1 903.6C704.4 905.1 701.4 908.6 702.5 910.5C703.6 912.4 708.2 915 713.9 915C719.6 915 730.6 912.4 736.7 910.5C742.7 908.6 746.9 903.6 750.3 903.6C753.8 903.6 755.7 907 757.2 910.5C758.7 913.9 758.3 919.9 759.5 924.1C760.6 928.3 761 934 764 935.5C767 937 772.4 934.8 777.7 933.2C783 931.7 789.8 927.2 795.9 926.4C802 925.6 809.6 927.2 814.1 928.7C818.7 930.2 821.7 934.4 823.2 935.5M691.1 910.5C690.7 908.6 687.7 902.5 688.8 899.1C690 895.6 693.8 892.2 697.9 890C702.1 887.7 709 885 713.9 885.4C718.8 885.8 723.8 889.6 727.6 892.2C731.4 894.9 733.6 900.2 736.7 901.3C739.7 902.5 742.7 899.1 745.8 899.1C748.8 899.1 752.6 898.7 754.9 901.3C757.2 904 757.2 910.5 759.5 915C761.7 919.6 767 926.4 768.6 928.7M679.7 958.3C677.1 957.2 669.1 953.4 663.8 951.5C658.5 949.6 652.4 946.1 647.8 946.9C643.3 947.7 638.7 951.8 636.4 956C634.2 960.2 633.4 966.6 634.2 972C634.9 977.3 638 982.6 641 987.9C644 993.2 648.6 998.5 652.4 1003.8C656.2 1009.2 661.1 1014.9 663.8 1019.8C666.4 1024.7 668.3 1028.9 668.3 1033.5C668.3 1038 665.3 1042.6 663.8 1047.1C662.3 1051.7 659.2 1056.6 659.2 1060.8C659.2 1065 660.7 1069.5 663.8 1072.2C666.8 1074.8 672.1 1076.4 677.4 1076.7C682.8 1077.1 689.6 1075.6 695.7 1074.5C701.7 1073.3 708.6 1071.8 713.9 1069.9C719.2 1068 724.9 1066.1 727.6 1063.1C730.2 1060 730.6 1054.7 729.8 1051.7C729.1 1048.6 724.1 1046 723 1044.9"/>
<path d="M666.1 978.8L679.7 958.3L688.8 962.8L686.6 983.3L677.4 997L700.2 999.3L709.3 1017.5L691.1 1022.1L675.2 1013ZM732.1 972L745.8 956L768.6 965.1L759.5 978.8L745.8 976.5Z" class="F" fill="#aee0c1" stroke="#aee0c1"/>
<path class="Pb" d="M707.1 1006.1C709.7 1004.6 718.1 1000.8 723 997C727.9 993.2 732.9 987.1 736.7 983.3C740.5 979.6 744.3 975.8 745.8 974.2M748.1 1028.9C749.2 1027 752.2 1021.3 754.9 1017.5C757.6 1013.7 760.2 1009.9 764 1006.1C767.8 1002.3 773.5 998.5 777.7 994.7C781.9 990.9 786 986.8 789.1 983.3C792.1 979.9 794.8 975.8 795.9 974.2M766.3 1013C766.7 1015.2 766.7 1024 768.6 1026.6C770.5 1029.3 774.3 1029.3 777.7 1028.9C781.1 1028.5 785.3 1025.5 789.1 1024.4C792.9 1023.2 798.6 1022.5 800.5 1022.1M750.3 1028.9C750.7 1031.2 751.1 1038 752.6 1042.6C754.1 1047.1 756 1052.8 759.5 1056.2C762.9 1059.7 768.6 1062.3 773.1 1063.1C777.7 1063.8 784.5 1061.2 786.8 1060.8"/><path class="Pt" d="M707.1 1006.1C709.7 1004.6 718.1 1000.8 723 997C727.9 993.2 732.9 987.1 736.7 983.3C740.5 979.6 744.3 975.8 745.8 974.2M748.1 1028.9C749.2 1027 752.2 1021.3 754.9 1017.5C757.6 1013.7 760.2 1009.9 764 1006.1C767.8 1002.3 773.5 998.5 777.7 994.7C781.9 990.9 786 986.8 789.1 983.3C792.1 979.9 794.8 975.8 795.9 974.2M766.3 1013C766.7 1015.2 766.7 1024 768.6 1026.6C770.5 1029.3 774.3 1029.3 777.7 1028.9C781.1 1028.5 785.3 1025.5 789.1 1024.4C792.9 1023.2 798.6 1022.5 800.5 1022.1M750.3 1028.9C750.7 1031.2 751.1 1038 752.6 1042.6C754.1 1047.1 756 1052.8 759.5 1056.2C762.9 1059.7 768.6 1062.3 773.1 1063.1C777.7 1063.8 784.5 1061.2 786.8 1060.8"/>
<path class="Lb" d="M773.1 1039.2C775.4 1038.2 782.6 1035.9 786.8 1033.5C791 1031 795.1 1028.1 798.2 1024.4C801.2 1020.6 802 1014.7 805 1010.7C808 1006.7 812.6 1002.5 816.4 1000.4C820.2 998.3 824.4 997.6 827.8 998.2C831.2 998.7 833.9 1001 836.9 1003.8C839.9 1006.7 843.4 1011.4 846 1015.2C848.7 1019 849.4 1024 852.8 1026.6C856.3 1029.3 862 1029.3 866.5 1031.2C871.1 1033.1 876.4 1034.6 880.2 1038C884 1041.4 887.2 1046.4 889.3 1051.7C891.4 1057 892.7 1064.2 892.7 1069.9C892.7 1075.6 890.6 1081.3 889.3 1085.9C888 1090.4 888.2 1093.8 884.7 1097.2C881.3 1100.7 871.5 1104.8 868.8 1106.4"/><path class="Lt" d="M773.1 1039.2C775.4 1038.2 782.6 1035.9 786.8 1033.5C791 1031 795.1 1028.1 798.2 1024.4C801.2 1020.6 802 1014.7 805 1010.7C808 1006.7 812.6 1002.5 816.4 1000.4C820.2 998.3 824.4 997.6 827.8 998.2C831.2 998.7 833.9 1001 836.9 1003.8C839.9 1006.7 843.4 1011.4 846 1015.2C848.7 1019 849.4 1024 852.8 1026.6C856.3 1029.3 862 1029.3 866.5 1031.2C871.1 1033.1 876.4 1034.6 880.2 1038C884 1041.4 887.2 1046.4 889.3 1051.7C891.4 1057 892.7 1064.2 892.7 1069.9C892.7 1075.6 890.6 1081.3 889.3 1085.9C888 1090.4 888.2 1093.8 884.7 1097.2C881.3 1100.7 871.5 1104.8 868.8 1106.4"/>
<path d="M844.9 863.8L834.6 867.2L841.5 876.3L849.4 885.4M839.2 864.9L847.2 874L851.7 885.4" class="K" stroke="#3aa857" stroke-width="3.9"/>
<path d="M844.9 855.8L844.9 864.4" class="K" stroke="#2456c0" stroke-width="3.9"/>
<path d="M849.4 873.6L850.6 873.6" class="K" stroke="#e03535" stroke-width="3.2"/>
<path d="M830.1 871.3L832.3 872.2" class="K" stroke="#e03535" stroke-width="2"/>
<path d="M884.7 908.2L873.3 917.3L872.2 928.7L869.9 942.3L868.8 954.9M884.7 908.2L898.4 917.3" class="K" stroke="#3aa857" stroke-width="3.9"/>
<path d="M898.4 917.3L905.2 920.7" class="K" stroke="#e03535" stroke-width="2"/>
<path d="M885.9 895.6L884.7 908.2M871.1 945.8L869.9 957.2" class="K" stroke="#2456c0" stroke-width="3.9"/>
<path d="M816.4 936.7L827.8 935.5L841.5 927.5L850.6 929.8" class="K" stroke="#3aa857" stroke-width="3.9"/>
<path d="M850.6 929.8L858.5 935.5" class="K" stroke="#e6c21e" stroke-width="3.9"/>
<path d="M827.8 930.5L830.1 934.4" class="K" stroke="#2456c0" stroke-width="3.9"/>
<path d="M816.4 937.1L817.5 941.2" class="K" stroke="#e03535" stroke-width="2"/>
<path d="M795.9 953.7L811.8 949.2L825.5 958.3M795.9 953.7L795.9 969.7" class="K" stroke="#3aa857" stroke-width="3.9"/>
<path d="M786.8 945.8L795.9 953.7" class="K" stroke="#2456c0" stroke-width="3.9"/>
<path d="M795.9 972L797 973.1" class="K" stroke="#e03535" stroke-width="2"/>
<path d="M825.5 958.3L838 954.9" class="K" stroke="#e03535" stroke-width="3.9"/>
<path d="M831.2 942.3L822.1 950.3L827.8 960.6" class="K" stroke="#2456c0" stroke-width="3.9"/>
<path d="M827.8 960.6L818.7 969.7L825.5 981.1L814.1 989L818.7 1001.6L827.8 1009.5" class="K" stroke="#1f5dc4" stroke-width="3.9"/>
<path d="M818.7 1001.6L809.6 1003.8" class="K" stroke="#e03535" stroke-width="2"/>
<path d="M827.8 1009.5L830.1 1011.8" class="K" stroke="#e03535" stroke-width="3.9"/>
<path d="M766.3 978.8L777.7 997L768.6 1003.8L765.1 1010.7M785.6 984.5L777.7 997" class="K" stroke="#3aa857" stroke-width="3.9"/>
<path d="M765.1 1010.7L764 1017.5" class="K" stroke="#2456c0" stroke-width="3.9"/>
<path d="M770.8 1008.4L776.5 1014.1" class="K" stroke="#e03535" stroke-width="1.6"/>
<path d="M793.6 1024.4L814.1 1022.1L818.7 1010.7" class="K" stroke="#3aa857" stroke-width="3.9"/>
<path d="M787.9 1025.5L794.8 1024.4" class="K" stroke="#2456c0" stroke-width="3.9"/>
<path d="M793.6 1024.4L793.6 1033.5" class="K" stroke="#3aa857" stroke-width="3.9"/>
<path d="M818.7 1010.7L830.1 1011.8" class="K" stroke="#e03535" stroke-width="3.9"/>
<path d="M1786.7 797.2C1784.3 797.6 1775.9 796.8 1771.9 799.3C1767.8 801.8 1763.5 807.1 1762.3 812.1C1761 817 1762.1 824.1 1764.4 829.1C1766.7 834.1 1771.3 839 1776.1 841.9C1780.9 844.7 1790.3 845.4 1793.1 846.1" class="H" stroke="#aee0c1" stroke-width="10"/>
<path d="M1818.6 795.1C1820.4 796.5 1826.8 799.3 1829.3 803.6C1831.8 807.8 1833.2 814.9 1833.5 820.6C1833.9 826.3 1833.5 833 1831.4 837.6C1829.3 842.2 1824.7 846.8 1820.8 848.2C1816.9 849.7 1811.6 848.2 1808 846.1C1804.5 844 1800.6 839.4 1799.5 835.5C1798.4 831.6 1799.5 825.9 1801.6 822.7C1803.8 819.5 1810.5 817.4 1812.3 816.3" class="H" stroke="#aee0c1" stroke-width="9"/>
<path d="M1844.2 812.1C1845.6 814.6 1851.6 822 1852.7 827C1853.7 831.9 1852.7 838 1850.5 841.9C1848.4 845.8 1843.8 848.2 1839.9 850.4C1836 852.5 1829.3 853.9 1827.2 854.6" class="H" stroke="#8fcfab" stroke-width="7"/>
<path class="Pb" d="M1814.4 792.9C1815.5 795.1 1818.6 801.1 1820.8 805.7C1822.9 810.3 1824.7 815.6 1827.2 820.6C1829.6 825.6 1832.1 831.6 1835.7 835.5C1839.2 839.4 1843.5 842.2 1848.4 844C1853.4 845.8 1859.8 846.1 1865.4 846.1C1871.1 846.1 1876.1 844.2 1882.5 844C1888.8 843.8 1900.2 844.9 1903.7 845"/><path class="Pt" d="M1814.4 792.9C1815.5 795.1 1818.6 801.1 1820.8 805.7C1822.9 810.3 1824.7 815.6 1827.2 820.6C1829.6 825.6 1832.1 831.6 1835.7 835.5C1839.2 839.4 1843.5 842.2 1848.4 844C1853.4 845.8 1859.8 846.1 1865.4 846.1C1871.1 846.1 1876.1 844.2 1882.5 844C1888.8 843.8 1900.2 844.9 1903.7 845"/>
<path d="M1880.3 820.6L1903.7 800.4L1912.2 807.8L1903.7 824.8L1901.6 844L1888.8 850.4L1882.5 841.9Z" class="F" fill="#aee0c1" stroke="#aee0c1"/>
<path class="Pb" d="M1905.8 816.3C1907.6 817.4 1913.3 819.9 1916.5 822.7C1919.7 825.6 1922.5 829.5 1925 833.4C1927.5 837.3 1930.3 844 1931.4 846.1"/><path class="Pt" d="M1905.8 816.3C1907.6 817.4 1913.3 819.9 1916.5 822.7C1919.7 825.6 1922.5 829.5 1925 833.4C1927.5 837.3 1930.3 844 1931.4 846.1"/>
<path d="M1929.2 841.9L1948.4 848.2L1952.6 831.2L1956.9 848.2L1954.8 858.9L1961.1 880.1L1954.8 890.8L1937.7 871.6L1931.4 858.9Z" class="F" fill="#aee0c1" stroke="#aee0c1"/>
<path class="Pb" d="M1959 797.2C1958.7 794.7 1956.2 786.9 1956.9 782.3C1957.6 777.7 1960.1 772.9 1963.3 769.5C1966.5 766.2 1971.4 763.5 1976 762.1C1980.6 760.7 1986.7 760.2 1990.9 761C1995.2 761.9 1999.1 764.2 2001.5 767.4C2004 770.6 2005.3 775.6 2005.8 780.2C2006.3 784.8 2005.4 789.8 2004.7 795.1C2004 800.4 2002.8 806.4 2001.5 812.1C2000.3 817.8 1997.6 823.8 1997.3 829.1C1996.9 834.4 1998 839.4 1999.4 844C2000.8 848.6 2004.4 852.1 2005.8 856.7C2007.2 861.4 2008.6 867.7 2007.9 871.6C2007.2 875.5 2004.7 878 2001.5 880.1C1998.4 882.3 1993 884 1988.8 884.4C1984.5 884.7 1978.2 882.6 1976 882.3M1959 797.2C1959.2 799.7 1960.4 807.5 1960.1 812.1C1959.7 816.7 1958.1 821.3 1956.9 824.8C1955.6 828.4 1953.3 831.9 1952.6 833.4M1986.7 898.2C1984.2 897 1976.7 892.7 1971.8 890.8C1966.8 888.8 1961.5 886.9 1956.9 886.5C1952.3 886.2 1947.3 886.9 1944.1 888.6C1940.9 890.4 1938.5 894 1937.7 897.2C1937 900.3 1938.5 905 1939.9 907.8C1941.3 910.6 1945.2 913.1 1946.3 914.2M1910.1 901.4C1911.5 900.3 1915.1 896.4 1918.6 895C1922.1 893.6 1927.5 892.5 1931.4 892.9C1935.3 893.3 1940.2 896.4 1942 897.2M1908 905.7C1908.7 907.1 1909.7 912 1912.2 914.2C1914.7 916.3 1918.6 917.9 1922.9 918.4C1927.1 919 1933.1 918.4 1937.7 917.4C1942.4 916.3 1947 914.7 1950.5 912C1954.1 909.4 1956.9 905 1959 901.4C1961.1 897.9 1962.6 892.5 1963.3 890.8M1954.8 892.9C1955.1 895.4 1957.2 902.8 1956.9 907.8C1956.5 912.8 1953.7 918.1 1952.6 922.7C1951.6 927.3 1950.2 931.5 1950.5 935.4C1950.9 939.3 1952.6 942.9 1954.8 946.1C1956.9 949.3 1961.1 951.4 1963.3 954.6C1965.4 957.8 1967.5 961.7 1967.5 965.2C1967.5 968.8 1965.4 973.4 1963.3 975.8C1961.1 978.3 1957.6 980.1 1954.8 980.1C1951.9 980.1 1948.4 978 1946.3 975.8C1944.1 973.7 1943.1 970.2 1942 967.3C1940.9 964.5 1940.2 960.2 1939.9 958.8M1891 901.4C1888.5 901.4 1880.7 901.1 1876.1 901.4C1871.5 901.8 1866.9 901.8 1863.3 903.5C1859.8 905.3 1856.6 908.9 1854.8 912C1853 915.2 1852.3 919.1 1852.7 922.7C1853 926.2 1854.8 930.5 1856.9 933.3C1859.1 936.1 1864 938.6 1865.4 939.7M1886.7 846.1C1887.4 848.2 1891 853.9 1891 858.9C1891 863.8 1887.4 873.1 1886.7 875.9M1744.2 935.4C1746 934 1750.9 929.4 1754.8 926.9C1758.7 924.4 1766.9 922.7 1767.6 920.5C1768.3 918.4 1762.6 915.6 1759.1 914.2C1755.6 912.8 1750.2 911.3 1746.3 912C1742.4 912.8 1738.5 915.6 1735.7 918.4C1732.9 921.3 1730 925.2 1729.3 929.1C1728.6 933 1729.7 938.3 1731.5 941.8C1733.2 945.4 1736.8 948.2 1740 950.3C1743.1 952.5 1750.2 952.8 1750.6 954.6C1750.9 956.3 1743.5 959.9 1742.1 961M1746.3 935.4C1748.5 933.3 1754.1 926.2 1759.1 922.7C1764.1 919.1 1770.4 917.7 1776.1 914.2C1781.8 910.6 1789.2 902.8 1793.1 901.4C1797 900 1797.7 902.8 1799.5 905.7C1801.3 908.5 1802 914.5 1803.8 918.4C1805.5 922.3 1807 926.9 1810.1 929.1C1813.3 931.2 1818.6 931.5 1822.9 931.2C1827.2 930.8 1831.4 926.9 1835.7 926.9C1839.9 926.9 1844.9 929.1 1848.4 931.2C1852 933.3 1855.5 938.3 1856.9 939.7"/><path class="Pt" d="M1959 797.2C1958.7 794.7 1956.2 786.9 1956.9 782.3C1957.6 777.7 1960.1 772.9 1963.3 769.5C1966.5 766.2 1971.4 763.5 1976 762.1C1980.6 760.7 1986.7 760.2 1990.9 761C1995.2 761.9 1999.1 764.2 2001.5 767.4C2004 770.6 2005.3 775.6 2005.8 780.2C2006.3 784.8 2005.4 789.8 2004.7 795.1C2004 800.4 2002.8 806.4 2001.5 812.1C2000.3 817.8 1997.6 823.8 1997.3 829.1C1996.9 834.4 1998 839.4 1999.4 844C2000.8 848.6 2004.4 852.1 2005.8 856.7C2007.2 861.4 2008.6 867.7 2007.9 871.6C2007.2 875.5 2004.7 878 2001.5 880.1C1998.4 882.3 1993 884 1988.8 884.4C1984.5 884.7 1978.2 882.6 1976 882.3M1959 797.2C1959.2 799.7 1960.4 807.5 1960.1 812.1C1959.7 816.7 1958.1 821.3 1956.9 824.8C1955.6 828.4 1953.3 831.9 1952.6 833.4M1986.7 898.2C1984.2 897 1976.7 892.7 1971.8 890.8C1966.8 888.8 1961.5 886.9 1956.9 886.5C1952.3 886.2 1947.3 886.9 1944.1 888.6C1940.9 890.4 1938.5 894 1937.7 897.2C1937 900.3 1938.5 905 1939.9 907.8C1941.3 910.6 1945.2 913.1 1946.3 914.2M1910.1 901.4C1911.5 900.3 1915.1 896.4 1918.6 895C1922.1 893.6 1927.5 892.5 1931.4 892.9C1935.3 893.3 1940.2 896.4 1942 897.2M1908 905.7C1908.7 907.1 1909.7 912 1912.2 914.2C1914.7 916.3 1918.6 917.9 1922.9 918.4C1927.1 919 1933.1 918.4 1937.7 917.4C1942.4 916.3 1947 914.7 1950.5 912C1954.1 909.4 1956.9 905 1959 901.4C1961.1 897.9 1962.6 892.5 1963.3 890.8M1954.8 892.9C1955.1 895.4 1957.2 902.8 1956.9 907.8C1956.5 912.8 1953.7 918.1 1952.6 922.7C1951.6 927.3 1950.2 931.5 1950.5 935.4C1950.9 939.3 1952.6 942.9 1954.8 946.1C1956.9 949.3 1961.1 951.4 1963.3 954.6C1965.4 957.8 1967.5 961.7 1967.5 965.2C1967.5 968.8 1965.4 973.4 1963.3 975.8C1961.1 978.3 1957.6 980.1 1954.8 980.1C1951.9 980.1 1948.4 978 1946.3 975.8C1944.1 973.7 1943.1 970.2 1942 967.3C1940.9 964.5 1940.2 960.2 1939.9 958.8M1891 901.4C1888.5 901.4 1880.7 901.1 1876.1 901.4C1871.5 901.8 1866.9 901.8 1863.3 903.5C1859.8 905.3 1856.6 908.9 1854.8 912C1853 915.2 1852.3 919.1 1852.7 922.7C1853 926.2 1854.8 930.5 1856.9 933.3C1859.1 936.1 1864 938.6 1865.4 939.7M1886.7 846.1C1887.4 848.2 1891 853.9 1891 858.9C1891 863.8 1887.4 873.1 1886.7 875.9M1744.2 935.4C1746 934 1750.9 929.4 1754.8 926.9C1758.7 924.4 1766.9 922.7 1767.6 920.5C1768.3 918.4 1762.6 915.6 1759.1 914.2C1755.6 912.8 1750.2 911.3 1746.3 912C1742.4 912.8 1738.5 915.6 1735.7 918.4C1732.9 921.3 1730 925.2 1729.3 929.1C1728.6 933 1729.7 938.3 1731.5 941.8C1733.2 945.4 1736.8 948.2 1740 950.3C1743.1 952.5 1750.2 952.8 1750.6 954.6C1750.9 956.3 1743.5 959.9 1742.1 961M1746.3 935.4C1748.5 933.3 1754.1 926.2 1759.1 922.7C1764.1 919.1 1770.4 917.7 1776.1 914.2C1781.8 910.6 1789.2 902.8 1793.1 901.4C1797 900 1797.7 902.8 1799.5 905.7C1801.3 908.5 1802 914.5 1803.8 918.4C1805.5 922.3 1807 926.9 1810.1 929.1C1813.3 931.2 1818.6 931.5 1822.9 931.2C1827.2 930.8 1831.4 926.9 1835.7 926.9C1839.9 926.9 1844.9 929.1 1848.4 931.2C1852 933.3 1855.5 938.3 1856.9 939.7"/>
<path d="M1786.7 973.7L1810.1 958.8L1831.4 952.5L1848.4 956.7L1839.9 965.2L1822.9 971.6L1816.5 984.4L1820.8 995L1805.9 997.1L1788.9 992.9Z" class="F" fill="#aee0c1" stroke="#aee0c1"/>
<path class="Pb" d="M1740 961C1742.4 960.2 1749.5 956 1754.8 956.7C1760.2 957.4 1766.5 962.4 1771.9 965.2C1777.2 968 1784.3 972.3 1786.7 973.7M1720.8 982.2C1718.3 982.2 1710.9 981.5 1705.9 982.2C1701 982.9 1695.3 984 1691 986.5C1686.8 989 1682.2 992.9 1680.4 997.1C1678.6 1001.4 1679 1007.7 1680.4 1012C1681.8 1016.3 1685.7 1019.1 1688.9 1022.6C1692.1 1026.2 1696 1029.4 1699.5 1033.3C1703.1 1037.2 1707 1041.8 1710.2 1046C1713.4 1050.3 1716.6 1054.5 1718.7 1058.8C1720.8 1063 1721.2 1067.6 1722.9 1071.5C1724.7 1075.4 1726.1 1079 1729.3 1082.2C1732.5 1085.4 1737.5 1088.6 1742.1 1090.7C1746.7 1092.8 1752 1094.6 1757 1094.9C1761.9 1095.3 1767.6 1094.6 1771.9 1092.8C1776.1 1091 1780 1087.5 1782.5 1084.3C1785 1081.1 1787.1 1076.5 1786.7 1073.7C1786.4 1070.8 1782.8 1068 1780.4 1067.3C1777.9 1066.6 1773.6 1067.6 1771.9 1069.4C1770.1 1071.2 1769 1075.4 1769.7 1077.9C1770.4 1080.4 1775 1083.2 1776.1 1084.3"/><path class="Pt" d="M1740 961C1742.4 960.2 1749.5 956 1754.8 956.7C1760.2 957.4 1766.5 962.4 1771.9 965.2C1777.2 968 1784.3 972.3 1786.7 973.7M1720.8 982.2C1718.3 982.2 1710.9 981.5 1705.9 982.2C1701 982.9 1695.3 984 1691 986.5C1686.8 989 1682.2 992.9 1680.4 997.1C1678.6 1001.4 1679 1007.7 1680.4 1012C1681.8 1016.3 1685.7 1019.1 1688.9 1022.6C1692.1 1026.2 1696 1029.4 1699.5 1033.3C1703.1 1037.2 1707 1041.8 1710.2 1046C1713.4 1050.3 1716.6 1054.5 1718.7 1058.8C1720.8 1063 1721.2 1067.6 1722.9 1071.5C1724.7 1075.4 1726.1 1079 1729.3 1082.2C1732.5 1085.4 1737.5 1088.6 1742.1 1090.7C1746.7 1092.8 1752 1094.6 1757 1094.9C1761.9 1095.3 1767.6 1094.6 1771.9 1092.8C1776.1 1091 1780 1087.5 1782.5 1084.3C1785 1081.1 1787.1 1076.5 1786.7 1073.7C1786.4 1070.8 1782.8 1068 1780.4 1067.3C1777.9 1066.6 1773.6 1067.6 1771.9 1069.4C1770.1 1071.2 1769 1075.4 1769.7 1077.9C1770.4 1080.4 1775 1083.2 1776.1 1084.3"/>
<path d="M1718.7 999.2L1731.5 975.8L1740 984.4L1742.1 1001.4L1733.6 1012L1754.8 1022.6L1767.6 1039.6L1759.1 1046L1740 1041.8L1725.1 1022.6Z" class="F" fill="#aee0c1" stroke="#aee0c1"/>
<path class="Pb" d="M1767.6 1029C1769.7 1027.6 1776.1 1021.2 1780.4 1020.5C1784.6 1019.8 1790.3 1021.9 1793.1 1024.8C1796 1027.6 1796.7 1032.6 1797.4 1037.5C1798.1 1042.5 1798.1 1048.9 1797.4 1054.5C1796.7 1060.2 1793.8 1068.7 1793.1 1071.5"/><path class="Pt" d="M1767.6 1029C1769.7 1027.6 1776.1 1021.2 1780.4 1020.5C1784.6 1019.8 1790.3 1021.9 1793.1 1024.8C1796 1027.6 1796.7 1032.6 1797.4 1037.5C1798.1 1042.5 1798.1 1048.9 1797.4 1054.5C1796.7 1060.2 1793.8 1068.7 1793.1 1071.5"/>
<path d="M1805.9 1050.3L1818.6 1035.4L1831.4 1041.8L1837.8 1054.5L1852.7 1050.3L1869.7 1037.5L1871.8 1050.3L1863.3 1063L1844.2 1069.4L1820.8 1065.2Z" class="F" fill="#aee0c1" stroke="#aee0c1"/>
<path class="Pb" d="M1822.9 997.1C1824.3 999.6 1827.9 1008.5 1831.4 1012C1835 1015.5 1839.9 1018 1844.2 1018.4C1848.4 1018.7 1853.4 1015.9 1856.9 1014.1C1860.5 1012.4 1864 1008.8 1865.4 1007.7M1839.9 984.4C1840.6 982.2 1842.4 975.5 1844.2 971.6C1845.9 967.7 1849.5 962.7 1850.5 961"/><path class="Pt" d="M1822.9 997.1C1824.3 999.6 1827.9 1008.5 1831.4 1012C1835 1015.5 1839.9 1018 1844.2 1018.4C1848.4 1018.7 1853.4 1015.9 1856.9 1014.1C1860.5 1012.4 1864 1008.8 1865.4 1007.7M1839.9 984.4C1840.6 982.2 1842.4 975.5 1844.2 971.6C1845.9 967.7 1849.5 962.7 1850.5 961"/>
<path class="Lb" d="M1880.3 1007.7C1882.1 1008.5 1887.4 1009.5 1891 1012C1894.5 1014.5 1898 1019.1 1901.6 1022.6C1905.1 1026.2 1908 1031.1 1912.2 1033.3C1916.5 1035.4 1922.1 1034.3 1927.1 1035.4C1932.1 1036.5 1938.1 1037.2 1942 1039.6C1945.9 1042.1 1948 1045.7 1950.5 1050.3C1953 1054.9 1955.6 1061.6 1956.9 1067.3C1958.1 1073 1958.3 1079.3 1957.9 1084.3C1957.6 1089.3 1956.4 1093.9 1954.8 1097.1C1953.2 1100.3 1951.2 1101.7 1948.4 1103.4C1945.5 1105.2 1939.5 1107 1937.7 1107.7"/><path class="Lt" d="M1880.3 1007.7C1882.1 1008.5 1887.4 1009.5 1891 1012C1894.5 1014.5 1898 1019.1 1901.6 1022.6C1905.1 1026.2 1908 1031.1 1912.2 1033.3C1916.5 1035.4 1922.1 1034.3 1927.1 1035.4C1932.1 1036.5 1938.1 1037.2 1942 1039.6C1945.9 1042.1 1948 1045.7 1950.5 1050.3C1953 1054.9 1955.6 1061.6 1956.9 1067.3C1958.1 1073 1958.3 1079.3 1957.9 1084.3C1957.6 1089.3 1956.4 1093.9 1954.8 1097.1C1953.2 1100.3 1951.2 1101.7 1948.4 1103.4C1945.5 1105.2 1939.5 1107 1937.7 1107.7"/>
<path d="M1882.5 882.3L1880.3 890.8L1871.8 890.8M1880.3 890.8L1886.7 899.3L1894.1 909.9M1871.8 890.8L1880.3 901.4L1891 908.9" class="K" stroke="#3aa857" stroke-width="3.9"/>
<path d="M1882.5 873.8L1882.5 882.3" class="K" stroke="#2456c0" stroke-width="3.9"/>
<path d="M1890.5 900.3L1891.4 900.6" class="K" stroke="#e03535" stroke-width="3.4"/>
<path d="M1868.6 882.3L1873.9 887.6" class="K" stroke="#e03535" stroke-width="1.6"/>
<path d="M1928.8 926.9L1916.5 937.6L1914.4 950.3L1908 954.6L1909 965.2M1928.8 926.9L1942 934.4" class="K" stroke="#3aa857" stroke-width="3.9"/>
<path d="M1942 934.4L1950.5 935.4" class="K" stroke="#e03535" stroke-width="2.4"/>
<path d="M1929.2 913.1L1928.8 926.9M1909 965.2L1914.4 971.6" class="K" stroke="#2456c0" stroke-width="3.9"/>
<path d="M1914.4 971.6L1918.6 974.8" class="K" stroke="#3aa857" stroke-width="3.9"/>
<path d="M1921.8 964.1L1918.6 956.7L1914.4 950.3" class="K" stroke="#2456c0" stroke-width="3.9"/>
<path d="M1856.9 942.9L1871.8 946.1L1884.6 939.7L1893.1 943.9" class="K" stroke="#3aa857" stroke-width="3.9"/>
<path d="M1893.1 943.9L1901.6 949.3" class="K" stroke="#e6c21e" stroke-width="3.9"/>
<path d="M1855.9 943.9L1856.9 950.3" class="K" stroke="#e03535" stroke-width="1.8"/>
<path d="M1873.9 995L1876.1 1009.9L1861.2 1014.1L1854.8 1016.3L1854.8 1029" class="K" stroke="#3aa857" stroke-width="3.9"/>
<path d="M1850.5 1015.2L1854.8 1016.3" class="K" stroke="#2456c0" stroke-width="3.9"/>
<path d="M1873.9 993.9L1891 993.9" class="K" stroke="#e03535" stroke-width="3.9"/>
<path d="M1868.6 988.6L1873.9 993.9M1880.3 1023.7L1884.6 1019.4" class="K" stroke="#e03535" stroke-width="1.6"/>
<path d="M1878.2 951.4L1869.7 961L1880.3 970.5L1869.7 981.2L1879.3 992.9L1867.6 1001.4L1873.9 1009.9L1884.6 1018.4M1873.9 1009.9L1865.4 1016.3" class="K" stroke="#1f5dc4" stroke-width="3.9"/>
<path d="M1841 984.4L1833.5 995L1835.7 1003.5L1825 1016.3L1822.9 1024.8M1832.5 986.5L1835.7 995" class="K" stroke="#3aa857" stroke-width="3.9"/>
<path d="M1822.9 1018.4L1822.9 1026.9" class="K" stroke="#2456c0" stroke-width="3.9"/>
<path d="M1827.2 1024.8L1833.5 1029" class="K" stroke="#e03535" stroke-width="1.6"/>
<path d="M779.9 1212.5C777.3 1212.5 767.8 1209.8 764 1212.5C760.2 1215.1 757.5 1222.7 757.1 1228.4C756.8 1234.1 758.7 1242.1 761.7 1246.6C764.7 1251.2 770.8 1254.2 775.4 1255.8C779.9 1257.3 786.7 1255.8 789 1255.8" class="H" stroke="#aee0c1" stroke-width="10"/>
<path d="M782.2 1219.3C784.5 1218.9 791.3 1216.3 795.9 1217C800.4 1217.8 806.5 1220.5 809.5 1223.9C812.6 1227.3 814.5 1232.2 814.1 1237.5C813.7 1242.8 810.7 1251.2 807.2 1255.8C803.8 1260.3 797.8 1264.5 793.6 1264.9C789.4 1265.2 784.1 1259.2 782.2 1258" class="H" stroke="#aee0c1" stroke-width="9"/>
<path class="Pb" d="M786.7 1223.9C787.1 1226.5 787.9 1234.5 789 1239.8C790.2 1245.1 791.3 1251.6 793.6 1255.8C795.9 1259.9 799.3 1264.5 802.7 1264.9C806.1 1265.2 811.4 1261.1 814.1 1258C816.7 1255 816 1249.7 818.6 1246.6C821.3 1243.6 826.2 1240.9 830 1239.8C833.8 1238.7 837.6 1238.7 841.4 1239.8C845.2 1240.9 849.4 1244 852.8 1246.6C856.2 1249.3 859.2 1252 861.9 1255.8C864.6 1259.5 868 1264.9 868.7 1269.4C869.5 1274 866.8 1280.8 866.5 1283.1"/><path class="Pt" d="M786.7 1223.9C787.1 1226.5 787.9 1234.5 789 1239.8C790.2 1245.1 791.3 1251.6 793.6 1255.8C795.9 1259.9 799.3 1264.5 802.7 1264.9C806.1 1265.2 811.4 1261.1 814.1 1258C816.7 1255 816 1249.7 818.6 1246.6C821.3 1243.6 826.2 1240.9 830 1239.8C833.8 1238.7 837.6 1238.7 841.4 1239.8C845.2 1240.9 849.4 1244 852.8 1246.6C856.2 1249.3 859.2 1252 861.9 1255.8C864.6 1259.5 868 1264.9 868.7 1269.4C869.5 1274 866.8 1280.8 866.5 1283.1"/>
<path d="M823.2 1214.8L846 1193.1L857.3 1203.4L846 1217L841.4 1233L825.5 1235.3Z" class="F" fill="#aee0c1" stroke="#aee0c1"/>
<path class="Pb" d="M852.8 1212.5C854.7 1214.4 860.8 1219.7 864.2 1223.9C867.6 1228 870.2 1233 873.3 1237.5C876.3 1242.1 880.9 1248.9 882.4 1251.2"/><path class="Pt" d="M852.8 1212.5C854.7 1214.4 860.8 1219.7 864.2 1223.9C867.6 1228 870.2 1233 873.3 1237.5C876.3 1242.1 880.9 1248.9 882.4 1251.2"/>
<path d="M871 1233L889.2 1242.1L896.1 1217L898.3 1237.5L896.1 1258L902.9 1276.2L893.8 1280.8L880.1 1264.9L873.3 1251.2Z" class="F" fill="#aee0c1" stroke="#aee0c1"/>
<path class="Pb" d="M889.2 1219.3C889 1216.3 887.3 1206.4 888.1 1201.1C888.8 1195.8 890.6 1190.1 893.8 1187.4C897 1184.8 902.5 1185.9 907.4 1185.2C912.4 1184.4 918.5 1184.4 923.4 1182.9C928.3 1181.4 932.5 1177.6 937.1 1176C941.6 1174.5 946.5 1172.6 950.7 1173.8C954.9 1174.9 959.6 1179.1 962.1 1182.9C964.6 1186.7 965.5 1192 965.5 1196.5C965.5 1201.1 964.6 1206.8 962.1 1210.2C959.6 1213.6 954.9 1214.8 950.7 1217C946.5 1219.3 941.2 1220.8 937.1 1223.9C932.9 1226.9 928.3 1231.5 925.7 1235.3C923 1239.1 921.1 1243.6 921.1 1246.6C921.1 1249.7 926.8 1252 925.7 1253.5C924.5 1255 918.1 1254.6 914.3 1255.8C910.5 1256.9 904.8 1259.5 902.9 1260.3M900.6 1276.2C902.9 1277.8 912 1283.8 914.3 1285.4M866.5 1283.1C864.6 1281.9 858.5 1277 855.1 1276.2C851.7 1275.5 848.2 1276.6 846 1278.5C843.7 1280.4 841.4 1284.6 841.4 1287.6C841.4 1290.7 842.9 1294.8 846 1296.7C849 1298.6 855.1 1299.4 859.6 1299C864.2 1298.6 869.1 1296.7 873.3 1294.5C877.5 1292.2 881.3 1287.6 884.7 1285.4C888.1 1283.1 892.3 1281.6 893.8 1280.8M902.9 1283.1C902.9 1285.4 904.8 1293.3 902.9 1296.7C901 1300.2 895.3 1303.2 891.5 1303.6C887.7 1304 882.4 1298.6 880.1 1299C877.8 1299.4 876.7 1303.2 877.8 1305.9C879 1308.5 884.3 1311.9 887 1315C889.6 1318 893 1320.7 893.8 1324.1C894.5 1327.5 893 1332 891.5 1335.5C890 1338.9 885.8 1343.1 884.7 1344.6M884.7 1344.6C886.2 1346.5 890.4 1353.3 893.8 1356C897.2 1358.6 901.4 1359.8 905.2 1360.5C909 1361.3 913.9 1359 916.6 1360.5C919.2 1362 920.7 1366.6 921.1 1369.6C921.5 1372.7 920.7 1376.5 918.8 1378.7C916.9 1381 912.8 1382.9 909.7 1383.3C906.7 1383.7 903.7 1382.9 900.6 1381C897.6 1379.1 893.4 1375.3 891.5 1371.9C889.6 1368.5 889.6 1362.4 889.2 1360.5M836.8 1310.4C834.6 1310.4 827.4 1309.7 823.2 1310.4C819 1311.2 814.8 1312.3 811.8 1315C808.8 1317.6 805.7 1322.6 805 1326.4C804.2 1330.1 805.7 1333.9 807.2 1337.7C808.8 1341.5 812.9 1347.2 814.1 1349.1M732.1 1342.3C734.4 1341.2 741.2 1337.7 745.8 1335.5C750.3 1333.2 758.7 1330.9 759.4 1328.6C760.2 1326.4 754.1 1324.1 750.3 1321.8C746.5 1319.5 741.2 1315.3 736.6 1315C732.1 1314.6 726.4 1316.9 723 1319.5C719.6 1322.2 716.9 1327.1 716.1 1330.9C715.4 1334.7 716.5 1338.9 718.4 1342.3C720.3 1345.7 726 1349.9 727.5 1351.4M718.4 1333.2C720.7 1331.7 727.2 1325.6 732.1 1324.1C737 1322.6 743.5 1322.9 748 1324.1C752.6 1325.2 756.8 1327.5 759.4 1330.9C762.1 1334.3 761.7 1341.2 764 1344.6C766.2 1348 769.3 1350.6 773.1 1351.4C776.9 1352.2 782.2 1349.9 786.7 1349.1C791.3 1348.4 795.9 1346.5 800.4 1346.8C805 1347.2 811.8 1350.6 814.1 1351.4"/><path class="Pt" d="M889.2 1219.3C889 1216.3 887.3 1206.4 888.1 1201.1C888.8 1195.8 890.6 1190.1 893.8 1187.4C897 1184.8 902.5 1185.9 907.4 1185.2C912.4 1184.4 918.5 1184.4 923.4 1182.9C928.3 1181.4 932.5 1177.6 937.1 1176C941.6 1174.5 946.5 1172.6 950.7 1173.8C954.9 1174.9 959.6 1179.1 962.1 1182.9C964.6 1186.7 965.5 1192 965.5 1196.5C965.5 1201.1 964.6 1206.8 962.1 1210.2C959.6 1213.6 954.9 1214.8 950.7 1217C946.5 1219.3 941.2 1220.8 937.1 1223.9C932.9 1226.9 928.3 1231.5 925.7 1235.3C923 1239.1 921.1 1243.6 921.1 1246.6C921.1 1249.7 926.8 1252 925.7 1253.5C924.5 1255 918.1 1254.6 914.3 1255.8C910.5 1256.9 904.8 1259.5 902.9 1260.3M900.6 1276.2C902.9 1277.8 912 1283.8 914.3 1285.4M866.5 1283.1C864.6 1281.9 858.5 1277 855.1 1276.2C851.7 1275.5 848.2 1276.6 846 1278.5C843.7 1280.4 841.4 1284.6 841.4 1287.6C841.4 1290.7 842.9 1294.8 846 1296.7C849 1298.6 855.1 1299.4 859.6 1299C864.2 1298.6 869.1 1296.7 873.3 1294.5C877.5 1292.2 881.3 1287.6 884.7 1285.4C888.1 1283.1 892.3 1281.6 893.8 1280.8M902.9 1283.1C902.9 1285.4 904.8 1293.3 902.9 1296.7C901 1300.2 895.3 1303.2 891.5 1303.6C887.7 1304 882.4 1298.6 880.1 1299C877.8 1299.4 876.7 1303.2 877.8 1305.9C879 1308.5 884.3 1311.9 887 1315C889.6 1318 893 1320.7 893.8 1324.1C894.5 1327.5 893 1332 891.5 1335.5C890 1338.9 885.8 1343.1 884.7 1344.6M884.7 1344.6C886.2 1346.5 890.4 1353.3 893.8 1356C897.2 1358.6 901.4 1359.8 905.2 1360.5C909 1361.3 913.9 1359 916.6 1360.5C919.2 1362 920.7 1366.6 921.1 1369.6C921.5 1372.7 920.7 1376.5 918.8 1378.7C916.9 1381 912.8 1382.9 909.7 1383.3C906.7 1383.7 903.7 1382.9 900.6 1381C897.6 1379.1 893.4 1375.3 891.5 1371.9C889.6 1368.5 889.6 1362.4 889.2 1360.5M836.8 1310.4C834.6 1310.4 827.4 1309.7 823.2 1310.4C819 1311.2 814.8 1312.3 811.8 1315C808.8 1317.6 805.7 1322.6 805 1326.4C804.2 1330.1 805.7 1333.9 807.2 1337.7C808.8 1341.5 812.9 1347.2 814.1 1349.1M732.1 1342.3C734.4 1341.2 741.2 1337.7 745.8 1335.5C750.3 1333.2 758.7 1330.9 759.4 1328.6C760.2 1326.4 754.1 1324.1 750.3 1321.8C746.5 1319.5 741.2 1315.3 736.6 1315C732.1 1314.6 726.4 1316.9 723 1319.5C719.6 1322.2 716.9 1327.1 716.1 1330.9C715.4 1334.7 716.5 1338.9 718.4 1342.3C720.3 1345.7 726 1349.9 727.5 1351.4M718.4 1333.2C720.7 1331.7 727.2 1325.6 732.1 1324.1C737 1322.6 743.5 1322.9 748 1324.1C752.6 1325.2 756.8 1327.5 759.4 1330.9C762.1 1334.3 761.7 1341.2 764 1344.6C766.2 1348 769.3 1350.6 773.1 1351.4C776.9 1352.2 782.2 1349.9 786.7 1349.1C791.3 1348.4 795.9 1346.5 800.4 1346.8C805 1347.2 811.8 1350.6 814.1 1351.4"/>
<path d="M741.2 1399.2L759.4 1371.9L782.2 1362.8L809.5 1353.7L814.1 1358.2L791.3 1371.9L777.6 1390.1L768.5 1403.8L748 1403.8Z" class="F" fill="#aee0c1" stroke="#aee0c1"/>
<path class="Pb" d="M759.4 1349.1C760.2 1351 761.7 1357.1 764 1360.5C766.2 1363.9 771.6 1368.1 773.1 1369.6M695.7 1374.2C693 1373 684.6 1368.1 679.7 1367.3C674.8 1366.6 669.7 1367.3 666 1369.6C662.4 1371.9 659.2 1376.8 658.1 1381C656.9 1385.2 657.5 1390.5 659.2 1394.7C660.9 1398.8 664.9 1402.3 668.3 1406.1C671.7 1409.9 676.3 1413.3 679.7 1417.4C683.1 1421.6 687.7 1426.6 688.8 1431.1C690 1435.7 688.1 1440.6 686.5 1444.8C685 1449 680.5 1452.4 679.7 1456.2C678.9 1460 679.7 1464.5 682 1467.5C684.3 1470.6 688.8 1473.2 693.4 1474.4C697.9 1475.5 703.6 1475.1 709.3 1474.4C715 1473.6 722.2 1471.3 727.5 1469.8C732.8 1468.3 738.2 1467.5 741.2 1465.3C744.2 1463 745.8 1458.4 745.8 1456.2C745.8 1453.9 742 1452.4 741.2 1451.6"/><path class="Pt" d="M759.4 1349.1C760.2 1351 761.7 1357.1 764 1360.5C766.2 1363.9 771.6 1368.1 773.1 1369.6M695.7 1374.2C693 1373 684.6 1368.1 679.7 1367.3C674.8 1366.6 669.7 1367.3 666 1369.6C662.4 1371.9 659.2 1376.8 658.1 1381C656.9 1385.2 657.5 1390.5 659.2 1394.7C660.9 1398.8 664.9 1402.3 668.3 1406.1C671.7 1409.9 676.3 1413.3 679.7 1417.4C683.1 1421.6 687.7 1426.6 688.8 1431.1C690 1435.7 688.1 1440.6 686.5 1444.8C685 1449 680.5 1452.4 679.7 1456.2C678.9 1460 679.7 1464.5 682 1467.5C684.3 1470.6 688.8 1473.2 693.4 1474.4C697.9 1475.5 703.6 1475.1 709.3 1474.4C715 1473.6 722.2 1471.3 727.5 1469.8C732.8 1468.3 738.2 1467.5 741.2 1465.3C744.2 1463 745.8 1458.4 745.8 1456.2C745.8 1453.9 742 1452.4 741.2 1451.6"/>
<path d="M682 1394.7L695.7 1374.2L704.8 1381L702.5 1399.2L697.9 1412.9L718.4 1415.2L727.5 1431.1L709.3 1433.4L695.7 1426.6Z" class="F" fill="#aee0c1" stroke="#aee0c1"/>
<path class="Pb" d="M727.5 1415.2C729.8 1413.3 738.9 1405.7 741.2 1403.8M757.1 1433.4C758.3 1431.5 761.3 1425.4 764 1422C766.6 1418.6 770 1415.9 773.1 1412.9C776.1 1409.9 779.5 1406.8 782.2 1403.8C784.8 1400.7 787.9 1396.2 789 1394.7M768.5 1431.1C768.9 1432.6 768.9 1437.9 770.8 1440.2C772.7 1442.5 776.9 1444.8 779.9 1444.8C782.9 1444.8 786 1441.4 789 1440.2C792.1 1439.1 796.6 1438.3 798.1 1437.9M759.4 1435.7C759 1437.6 756.8 1442.9 757.1 1447.1C757.5 1451.2 759 1457.3 761.7 1460.7C764.4 1464.1 769.3 1466.8 773.1 1467.5C776.9 1468.3 782.6 1465.7 784.5 1465.3"/><path class="Pt" d="M727.5 1415.2C729.8 1413.3 738.9 1405.7 741.2 1403.8M757.1 1433.4C758.3 1431.5 761.3 1425.4 764 1422C766.6 1418.6 770 1415.9 773.1 1412.9C776.1 1409.9 779.5 1406.8 782.2 1403.8C784.8 1400.7 787.9 1396.2 789 1394.7M768.5 1431.1C768.9 1432.6 768.9 1437.9 770.8 1440.2C772.7 1442.5 776.9 1444.8 779.9 1444.8C782.9 1444.8 786 1441.4 789 1440.2C792.1 1439.1 796.6 1438.3 798.1 1437.9M759.4 1435.7C759 1437.6 756.8 1442.9 757.1 1447.1C757.5 1451.2 759 1457.3 761.7 1460.7C764.4 1464.1 769.3 1466.8 773.1 1467.5C776.9 1468.3 782.6 1465.7 784.5 1465.3"/>
<path class="Lb" d="M786.7 1433.4C789 1432.6 796.2 1430.7 800.4 1428.8C804.6 1426.9 808.8 1424.7 811.8 1422C814.8 1419.3 816 1415.5 818.6 1412.9C821.3 1410.2 824.7 1406.8 827.7 1406.1C830.8 1405.3 833.8 1406.8 836.8 1408.3C839.9 1409.9 842.9 1412.5 846 1415.2C849 1417.8 852.8 1421.2 855.1 1424.3C857.3 1427.3 857.3 1430.7 859.6 1433.4C861.9 1436 864.9 1438.3 868.7 1440.2C872.5 1442.1 878.2 1442.5 882.4 1444.8C886.6 1447.1 891.1 1449.7 893.8 1453.9C896.4 1458.1 897.8 1464.5 898.3 1469.8C898.9 1475.1 898.3 1480.8 897.2 1485.8C896.1 1490.7 894 1495.6 891.5 1499.4C889 1503.2 883.9 1507 882.4 1508.5"/><path class="Lt" d="M786.7 1433.4C789 1432.6 796.2 1430.7 800.4 1428.8C804.6 1426.9 808.8 1424.7 811.8 1422C814.8 1419.3 816 1415.5 818.6 1412.9C821.3 1410.2 824.7 1406.8 827.7 1406.1C830.8 1405.3 833.8 1406.8 836.8 1408.3C839.9 1409.9 842.9 1412.5 846 1415.2C849 1417.8 852.8 1421.2 855.1 1424.3C857.3 1427.3 857.3 1430.7 859.6 1433.4C861.9 1436 864.9 1438.3 868.7 1440.2C872.5 1442.1 878.2 1442.5 882.4 1444.8C886.6 1447.1 891.1 1449.7 893.8 1453.9C896.4 1458.1 897.8 1464.5 898.3 1469.8C898.9 1475.1 898.3 1480.8 897.2 1485.8C896.1 1490.7 894 1495.6 891.5 1499.4C889 1503.2 883.9 1507 882.4 1508.5"/>
<path d="M832.3 1303.6L840.3 1305.9L836.8 1315L841.4 1324.1L855.1 1335.5L861.9 1332M833.4 1317.2L839.1 1326.4L852.8 1337.7" class="K" stroke="#3aa857" stroke-width="3.9"/>
<path d="M840.3 1295.6L840.3 1303.6" class="K" stroke="#2456c0" stroke-width="3.9"/>
<path d="M859.6 1330.9L863 1332" class="K" stroke="#e03535" stroke-width="3.9"/>
<path d="M825.5 1299L832.3 1303.6" class="K" stroke="#e03535" stroke-width="1.6"/>
<path d="M884 1344.6L873.3 1351.4L872.1 1362.8L869.9 1371.9L865.3 1374.2L866.5 1383.3M884 1344.6L896.1 1351.4" class="K" stroke="#3aa857" stroke-width="3.9"/>
<path d="M896.1 1351.4L902.9 1348" class="K" stroke="#e03535" stroke-width="1.8"/>
<path d="M884 1333.2L884 1344.6M866.5 1383.3L872.1 1385.6" class="K" stroke="#2456c0" stroke-width="3.9"/>
<path d="M872.1 1385.6L876.7 1383.3L880.1 1374.2L873.3 1369.6M816.4 1354.8L827.7 1354.8L839.1 1349.1L847.1 1351.4" class="K" stroke="#3aa857" stroke-width="3.9"/>
<path d="M847.1 1351.4L853.9 1353.7" class="K" stroke="#e6c21e" stroke-width="3.9"/>
<path d="M825.5 1349.1L827.7 1353.7" class="K" stroke="#2456c0" stroke-width="3.9"/>
<path d="M816.4 1356L818.6 1359.4" class="K" stroke="#e03535" stroke-width="1.6"/>
<path d="M795.9 1374.2L811.8 1371.9L820.9 1378.7M795.9 1374.2L794.7 1387.8" class="K" stroke="#3aa857" stroke-width="3.9"/>
<path d="M787.9 1365.1L795.9 1374.2" class="K" stroke="#2456c0" stroke-width="3.9"/>
<path d="M820.9 1378.7L833.4 1378.7" class="K" stroke="#e03535" stroke-width="3.9"/>
<path d="M832.3 1369.6L824.3 1376.5" class="K" stroke="#2456c0" stroke-width="3.9"/>
<path d="M817.5 1386.7L820.9 1382.1" class="K" stroke="#e03535" stroke-width="1.6"/>
<path d="M825.5 1378.7L830 1387.8L820.9 1397L827.7 1408.3L818.6 1412.9M827.7 1408.3L836.8 1417.4L834.6 1424.3" class="K" stroke="#1f5dc4" stroke-width="3.9"/>
<path d="M832.3 1426.6L835.7 1422" class="K" stroke="#e03535" stroke-width="1.6"/>
<path d="M787.9 1399.2L779.9 1408.3L782.2 1415.2L775.4 1419.7L770.8 1426.6M785.6 1402.6L782.2 1412.9" class="K" stroke="#3aa857" stroke-width="3.9"/>
<path d="M770.8 1423.1L769.7 1431.1" class="K" stroke="#2456c0" stroke-width="3.9"/>
<path d="M777.6 1426.6L781.1 1430" class="K" stroke="#e03535" stroke-width="1.6"/>
<path d="M794.7 1435.7L811.8 1433.4L814.1 1424.3L819.8 1425.4" class="K" stroke="#3aa857" stroke-width="3.9"/>
<path d="M819.8 1425.4L826.6 1426.1" class="K" stroke="#e03535" stroke-width="3.9"/>
<path d="M787.9 1436.3L794.7 1435.7" class="K" stroke="#2456c0" stroke-width="3.9"/>
<path d="M794.7 1435.7L794.7 1443.6" class="K" stroke="#3aa857" stroke-width="3.9"/>
<path d="M806.1 1417.4L811.8 1423.1" class="K" stroke="#e03535" stroke-width="1.6"/>
<path d="M1823 1175.3C1820.4 1175 1811.9 1171.7 1807.7 1173.2C1803.5 1174.6 1799.9 1179.7 1797.9 1184.1C1795.9 1188.4 1795.2 1194.2 1795.7 1199.3C1796.3 1204.4 1798.1 1210.2 1801.2 1214.6C1804.3 1218.9 1809.5 1223.3 1814.3 1225.4C1819 1227.6 1825.1 1228.7 1829.5 1227.6C1833.9 1226.5 1838.6 1220.4 1840.4 1218.9" class="H" stroke="#aee0c1" stroke-width="10"/>
<path class="Pb" d="M1831.7 1201.5C1833.1 1200.8 1837.5 1196.8 1840.4 1197.1C1843.3 1197.5 1848 1200.8 1849.1 1203.7C1850.2 1206.6 1848.4 1211.3 1846.9 1214.6C1845.5 1217.8 1842.2 1220 1840.4 1223.3C1838.6 1226.5 1837.9 1230.9 1836 1234.2C1834.2 1237.4 1832 1240 1829.5 1242.9C1827 1245.8 1822.2 1250.1 1820.8 1251.6"/><path class="Pt" d="M1831.7 1201.5C1833.1 1200.8 1837.5 1196.8 1840.4 1197.1C1843.3 1197.5 1848 1200.8 1849.1 1203.7C1850.2 1206.6 1848.4 1211.3 1846.9 1214.6C1845.5 1217.8 1842.2 1220 1840.4 1223.3C1838.6 1226.5 1837.9 1230.9 1836 1234.2C1834.2 1237.4 1832 1240 1829.5 1242.9C1827 1245.8 1822.2 1250.1 1820.8 1251.6"/>
<path d="M1842.6 1192.8L1851.3 1192.8L1851.3 1210.2L1842.6 1212.4Z" class="F" fill="#aee0c1" stroke="#aee0c1"/>
<path class="Pb" d="M1849.1 1205.8C1850.9 1206.7 1856.4 1210.2 1860 1211.3C1863.6 1212.4 1867.6 1212.6 1870.9 1212.4C1874.2 1212.2 1877.8 1211.6 1879.6 1210.2C1881.4 1208.7 1881.4 1204.8 1881.8 1203.7"/><path class="Pt" d="M1849.1 1205.8C1850.9 1206.7 1856.4 1210.2 1860 1211.3C1863.6 1212.4 1867.6 1212.6 1870.9 1212.4C1874.2 1212.2 1877.8 1211.6 1879.6 1210.2C1881.4 1208.7 1881.4 1204.8 1881.8 1203.7"/>
<path d="M1877.4 1179.7L1905.7 1164.5L1912.3 1175.3L1901.4 1186.2L1897 1201.5L1884 1208L1877.4 1199.3Z" class="F" fill="#aee0c1" stroke="#aee0c1"/>
<path class="Pb" d="M1905.7 1186.2C1907.2 1188.1 1911.5 1193.1 1914.5 1197.1C1917.4 1201.1 1921 1205.8 1923.2 1210.2C1925.3 1214.6 1926.8 1221.1 1927.5 1223.3"/><path class="Pt" d="M1905.7 1186.2C1907.2 1188.1 1911.5 1193.1 1914.5 1197.1C1917.4 1201.1 1921 1205.8 1923.2 1210.2C1925.3 1214.6 1926.8 1221.1 1927.5 1223.3"/>
<path d="M1921 1214.6L1936.2 1223.3L1938.4 1203.7L1951.5 1200.4L1947.1 1223.3L1944.9 1249.4L1947.1 1266.8L1938.4 1271.2L1931.9 1258.1L1923.2 1236.3Z" class="F" fill="#aee0c1" stroke="#aee0c1"/>
<path class="Pb" d="M1944.9 1203.7C1945.3 1200.8 1946 1191.7 1947.1 1186.2C1948.2 1180.8 1948.9 1174.6 1951.5 1171C1954 1167.4 1957.7 1165.9 1962.4 1164.5C1967.1 1163 1974.3 1163.5 1979.8 1162.3C1985.2 1161 1990.3 1157.2 1995 1156.8C1999.8 1156.5 2004.8 1157.4 2008.1 1160.1C2011.4 1162.8 2013.4 1168.4 2014.6 1173.2C2015.9 1177.9 2016.5 1183.7 2015.7 1188.4C2015 1193.1 2012.6 1198.2 2010.3 1201.5C2007.9 1204.8 2005.2 1206.2 2001.6 1208C1997.9 1209.8 1992.1 1210.6 1988.5 1212.4C1984.9 1214.2 1980.9 1216.4 1979.8 1218.9C1978.7 1221.4 1980.5 1225.4 1982 1227.6C1983.4 1229.8 1988.5 1229.8 1988.5 1232C1988.5 1234.2 1984.9 1238.5 1982 1240.7C1979.1 1242.9 1974.3 1242.9 1971.1 1245C1967.8 1247.2 1965.3 1250.9 1962.4 1253.8C1959.5 1256.7 1955.1 1261 1953.7 1262.5M1949.3 1253.8C1950.8 1254.8 1955.1 1258.5 1958 1260.3C1960.9 1262.1 1965.3 1263.9 1966.7 1264.7M1938.4 1271.2C1937 1272.6 1933 1277.7 1929.7 1279.9C1926.4 1282.1 1921.3 1282.4 1918.8 1284.3C1916.3 1286.1 1914.5 1288.2 1914.5 1290.8C1914.5 1293.3 1918.8 1296.2 1918.8 1299.5C1918.8 1302.8 1915.9 1306.8 1914.5 1310.4C1913 1314 1910.8 1319.5 1910.1 1321.3M1868.7 1253.8C1870.9 1253.4 1877.8 1251.2 1881.8 1251.6C1885.8 1251.9 1890.1 1253.4 1892.7 1255.9C1895.2 1258.5 1895.6 1263.2 1897 1266.8C1898.5 1270.5 1898.8 1275.2 1901.4 1277.7C1903.9 1280.3 1908.6 1282.1 1912.3 1282.1C1915.9 1282.1 1919.5 1279.5 1923.2 1277.7C1926.8 1275.9 1932.2 1272.3 1934.1 1271.2M1929.7 1306C1929 1307.5 1925.3 1311.5 1925.3 1314.7C1925.3 1318 1927.9 1321.6 1929.7 1325.6C1931.5 1329.6 1934.1 1334.7 1936.2 1338.7C1938.4 1342.7 1941.3 1345.6 1942.8 1349.6C1944.2 1353.6 1945.3 1358.7 1944.9 1362.7C1944.6 1366.7 1942.8 1371 1940.6 1373.6C1938.4 1376.1 1934.8 1377.9 1931.9 1377.9C1929 1377.9 1925.3 1376.1 1923.2 1373.6C1921 1371 1919.5 1366.7 1918.8 1362.7C1918.1 1358.7 1919.5 1352.9 1918.8 1349.6C1918.1 1346.3 1915.2 1344.2 1914.5 1343.1M1870.9 1279.9C1868.3 1279.7 1860 1278.4 1855.6 1278.8C1851.3 1279.2 1847.3 1280.1 1844.7 1282.1C1842.2 1284.1 1840.4 1287.5 1840.4 1290.8C1840.4 1294.1 1842.9 1298 1844.7 1301.7C1846.6 1305.3 1850.2 1310.8 1851.3 1312.6M1738 1286.4C1740.6 1286.8 1747.8 1289.3 1753.3 1288.6C1758.7 1287.9 1766 1283.9 1770.7 1282.1C1775.4 1280.3 1778.3 1277.4 1781.6 1277.7C1784.8 1278.1 1788.5 1281.3 1790.3 1284.3C1792.1 1287.2 1791.4 1291.5 1792.5 1295.1C1793.6 1298.8 1793.9 1303.5 1796.8 1306C1799.7 1308.6 1805.2 1309.3 1809.9 1310.4C1814.6 1311.5 1820.1 1311.1 1825.1 1312.6C1830.2 1314 1836.4 1316.6 1840.4 1319.1C1844.4 1321.6 1847.7 1326.4 1849.1 1327.8M1770.7 1319.1C1768.9 1317.3 1762.7 1311.8 1759.8 1308.2C1756.9 1304.6 1752.9 1300.6 1753.3 1297.3C1753.6 1294.1 1758.3 1290.4 1762 1288.6C1765.6 1286.8 1771.1 1285.7 1775 1286.4C1779 1287.2 1784.1 1291.9 1785.9 1293M1772.9 1319.1C1775.4 1318.4 1782.7 1315.1 1788.1 1314.7C1793.6 1314.4 1800.1 1315.5 1805.5 1316.9C1811 1318.4 1815.7 1321.3 1820.8 1323.5C1825.9 1325.6 1833.5 1328.9 1836 1330"/><path class="Pt" d="M1944.9 1203.7C1945.3 1200.8 1946 1191.7 1947.1 1186.2C1948.2 1180.8 1948.9 1174.6 1951.5 1171C1954 1167.4 1957.7 1165.9 1962.4 1164.5C1967.1 1163 1974.3 1163.5 1979.8 1162.3C1985.2 1161 1990.3 1157.2 1995 1156.8C1999.8 1156.5 2004.8 1157.4 2008.1 1160.1C2011.4 1162.8 2013.4 1168.4 2014.6 1173.2C2015.9 1177.9 2016.5 1183.7 2015.7 1188.4C2015 1193.1 2012.6 1198.2 2010.3 1201.5C2007.9 1204.8 2005.2 1206.2 2001.6 1208C1997.9 1209.8 1992.1 1210.6 1988.5 1212.4C1984.9 1214.2 1980.9 1216.4 1979.8 1218.9C1978.7 1221.4 1980.5 1225.4 1982 1227.6C1983.4 1229.8 1988.5 1229.8 1988.5 1232C1988.5 1234.2 1984.9 1238.5 1982 1240.7C1979.1 1242.9 1974.3 1242.9 1971.1 1245C1967.8 1247.2 1965.3 1250.9 1962.4 1253.8C1959.5 1256.7 1955.1 1261 1953.7 1262.5M1949.3 1253.8C1950.8 1254.8 1955.1 1258.5 1958 1260.3C1960.9 1262.1 1965.3 1263.9 1966.7 1264.7M1938.4 1271.2C1937 1272.6 1933 1277.7 1929.7 1279.9C1926.4 1282.1 1921.3 1282.4 1918.8 1284.3C1916.3 1286.1 1914.5 1288.2 1914.5 1290.8C1914.5 1293.3 1918.8 1296.2 1918.8 1299.5C1918.8 1302.8 1915.9 1306.8 1914.5 1310.4C1913 1314 1910.8 1319.5 1910.1 1321.3M1868.7 1253.8C1870.9 1253.4 1877.8 1251.2 1881.8 1251.6C1885.8 1251.9 1890.1 1253.4 1892.7 1255.9C1895.2 1258.5 1895.6 1263.2 1897 1266.8C1898.5 1270.5 1898.8 1275.2 1901.4 1277.7C1903.9 1280.3 1908.6 1282.1 1912.3 1282.1C1915.9 1282.1 1919.5 1279.5 1923.2 1277.7C1926.8 1275.9 1932.2 1272.3 1934.1 1271.2M1929.7 1306C1929 1307.5 1925.3 1311.5 1925.3 1314.7C1925.3 1318 1927.9 1321.6 1929.7 1325.6C1931.5 1329.6 1934.1 1334.7 1936.2 1338.7C1938.4 1342.7 1941.3 1345.6 1942.8 1349.6C1944.2 1353.6 1945.3 1358.7 1944.9 1362.7C1944.6 1366.7 1942.8 1371 1940.6 1373.6C1938.4 1376.1 1934.8 1377.9 1931.9 1377.9C1929 1377.9 1925.3 1376.1 1923.2 1373.6C1921 1371 1919.5 1366.7 1918.8 1362.7C1918.1 1358.7 1919.5 1352.9 1918.8 1349.6C1918.1 1346.3 1915.2 1344.2 1914.5 1343.1M1870.9 1279.9C1868.3 1279.7 1860 1278.4 1855.6 1278.8C1851.3 1279.2 1847.3 1280.1 1844.7 1282.1C1842.2 1284.1 1840.4 1287.5 1840.4 1290.8C1840.4 1294.1 1842.9 1298 1844.7 1301.7C1846.6 1305.3 1850.2 1310.8 1851.3 1312.6M1738 1286.4C1740.6 1286.8 1747.8 1289.3 1753.3 1288.6C1758.7 1287.9 1766 1283.9 1770.7 1282.1C1775.4 1280.3 1778.3 1277.4 1781.6 1277.7C1784.8 1278.1 1788.5 1281.3 1790.3 1284.3C1792.1 1287.2 1791.4 1291.5 1792.5 1295.1C1793.6 1298.8 1793.9 1303.5 1796.8 1306C1799.7 1308.6 1805.2 1309.3 1809.9 1310.4C1814.6 1311.5 1820.1 1311.1 1825.1 1312.6C1830.2 1314 1836.4 1316.6 1840.4 1319.1C1844.4 1321.6 1847.7 1326.4 1849.1 1327.8M1770.7 1319.1C1768.9 1317.3 1762.7 1311.8 1759.8 1308.2C1756.9 1304.6 1752.9 1300.6 1753.3 1297.3C1753.6 1294.1 1758.3 1290.4 1762 1288.6C1765.6 1286.8 1771.1 1285.7 1775 1286.4C1779 1287.2 1784.1 1291.9 1785.9 1293M1772.9 1319.1C1775.4 1318.4 1782.7 1315.1 1788.1 1314.7C1793.6 1314.4 1800.1 1315.5 1805.5 1316.9C1811 1318.4 1815.7 1321.3 1820.8 1323.5C1825.9 1325.6 1833.5 1328.9 1836 1330"/>
<path d="M1753.3 1356.1L1770.7 1336.5L1796.8 1327.8L1827.3 1327.8L1853.5 1332.2L1836 1338.7L1814.3 1340.9L1796.8 1347.4L1783.8 1358.3L1762 1360.5Z" class="F" fill="#aee0c1" stroke="#aee0c1"/>
<path class="Pb" d="M1701 1319.1C1698.8 1318.7 1691.9 1316.2 1687.9 1316.9C1683.9 1317.7 1679.6 1320.2 1677 1323.5C1674.5 1326.7 1673 1331.8 1672.7 1336.5C1672.3 1341.2 1673.4 1346.7 1674.9 1351.8C1676.3 1356.9 1678.8 1361.9 1681.4 1367C1683.9 1372.1 1687.6 1377.6 1690.1 1382.3C1692.6 1387 1696.3 1391 1696.6 1395.3C1697 1399.7 1694.5 1404.8 1692.3 1408.4C1690.1 1412 1684.3 1413.9 1683.6 1417.1C1682.8 1420.4 1685 1425.1 1687.9 1428C1690.8 1430.9 1695.9 1433.1 1701 1434.5C1706.1 1436 1712.6 1436.7 1718.4 1436.7C1724.2 1436.7 1730 1436 1735.8 1434.5C1741.6 1433.1 1748.9 1429.8 1753.3 1428C1757.6 1426.2 1760.5 1424.4 1762 1423.7"/><path class="Pt" d="M1701 1319.1C1698.8 1318.7 1691.9 1316.2 1687.9 1316.9C1683.9 1317.7 1679.6 1320.2 1677 1323.5C1674.5 1326.7 1673 1331.8 1672.7 1336.5C1672.3 1341.2 1673.4 1346.7 1674.9 1351.8C1676.3 1356.9 1678.8 1361.9 1681.4 1367C1683.9 1372.1 1687.6 1377.6 1690.1 1382.3C1692.6 1387 1696.3 1391 1696.6 1395.3C1697 1399.7 1694.5 1404.8 1692.3 1408.4C1690.1 1412 1684.3 1413.9 1683.6 1417.1C1682.8 1420.4 1685 1425.1 1687.9 1428C1690.8 1430.9 1695.9 1433.1 1701 1434.5C1706.1 1436 1712.6 1436.7 1718.4 1436.7C1724.2 1436.7 1730 1436 1735.8 1434.5C1741.6 1433.1 1748.9 1429.8 1753.3 1428C1757.6 1426.2 1760.5 1424.4 1762 1423.7"/>
<path d="M1694.5 1343.1L1711.9 1325.6L1718.4 1334.4L1716.2 1349.6L1709.7 1364.8L1729.3 1367L1731.5 1377.9L1711.9 1388.8L1701 1371.4Z" class="F" fill="#aee0c1" stroke="#aee0c1"/>
<path class="Pb" d="M1731.5 1377.9C1733.7 1376.5 1740.6 1372.5 1744.6 1369.2C1748.5 1365.9 1753.6 1360.1 1755.4 1358.3M1757.6 1408.4C1758.3 1406.6 1759.8 1401.1 1762 1397.5C1764.2 1393.9 1767.4 1390.3 1770.7 1386.6C1774 1383 1777.6 1379.4 1781.6 1375.7C1785.6 1372.1 1790.3 1368.1 1794.7 1364.8C1799 1361.6 1803.4 1358.3 1807.7 1356.1C1812.1 1354 1816.8 1351.1 1820.8 1351.8C1824.8 1352.5 1829.9 1359 1831.7 1360.5M1757.6 1408.4C1758 1410.2 1758.3 1415.3 1759.8 1419.3C1761.3 1423.3 1763.8 1428.4 1766.3 1432.4C1768.9 1436.4 1771.4 1440.5 1775 1443.3C1778.7 1446 1784.1 1448.3 1788.1 1448.7C1792.1 1449.1 1796.5 1447.8 1799 1445.4C1801.5 1443.1 1802.5 1438.5 1803.4 1434.5C1804.3 1430.6 1804.3 1423.7 1804.5 1421.5"/><path class="Pt" d="M1731.5 1377.9C1733.7 1376.5 1740.6 1372.5 1744.6 1369.2C1748.5 1365.9 1753.6 1360.1 1755.4 1358.3M1757.6 1408.4C1758.3 1406.6 1759.8 1401.1 1762 1397.5C1764.2 1393.9 1767.4 1390.3 1770.7 1386.6C1774 1383 1777.6 1379.4 1781.6 1375.7C1785.6 1372.1 1790.3 1368.1 1794.7 1364.8C1799 1361.6 1803.4 1358.3 1807.7 1356.1C1812.1 1354 1816.8 1351.1 1820.8 1351.8C1824.8 1352.5 1829.9 1359 1831.7 1360.5M1757.6 1408.4C1758 1410.2 1758.3 1415.3 1759.8 1419.3C1761.3 1423.3 1763.8 1428.4 1766.3 1432.4C1768.9 1436.4 1771.4 1440.5 1775 1443.3C1778.7 1446 1784.1 1448.3 1788.1 1448.7C1792.1 1449.1 1796.5 1447.8 1799 1445.4C1801.5 1443.1 1802.5 1438.5 1803.4 1434.5C1804.3 1430.6 1804.3 1423.7 1804.5 1421.5"/>
<path class="Lb" d="M1812.1 1412.8C1814.3 1412 1821.2 1410.2 1825.1 1408.4C1829.1 1406.6 1834.9 1404.4 1836 1401.9C1837.1 1399.3 1831 1395.7 1831.7 1393.2C1832.4 1390.6 1837.1 1387.5 1840.4 1386.6C1843.7 1385.7 1848 1386.3 1851.3 1387.7C1854.6 1389.2 1857.5 1392.3 1860 1395.3C1862.5 1398.4 1865.4 1402.6 1866.5 1406.2C1867.6 1409.9 1865.4 1413.9 1866.5 1417.1C1867.6 1420.4 1870.2 1423.3 1873.1 1425.8C1876 1428.4 1880.7 1429.8 1884 1432.4C1887.2 1434.9 1890.5 1437.5 1892.7 1441.1C1894.8 1444.7 1896.3 1449.4 1897 1454.2C1897.8 1458.9 1898.1 1464.7 1897 1469.4C1895.9 1474.1 1893.4 1478.5 1890.5 1482.5C1887.6 1486.5 1883.6 1490.6 1879.6 1493.4C1875.6 1496.1 1868.7 1497.9 1866.5 1498.8"/><path class="Lt" d="M1812.1 1412.8C1814.3 1412 1821.2 1410.2 1825.1 1408.4C1829.1 1406.6 1834.9 1404.4 1836 1401.9C1837.1 1399.3 1831 1395.7 1831.7 1393.2C1832.4 1390.6 1837.1 1387.5 1840.4 1386.6C1843.7 1385.7 1848 1386.3 1851.3 1387.7C1854.6 1389.2 1857.5 1392.3 1860 1395.3C1862.5 1398.4 1865.4 1402.6 1866.5 1406.2C1867.6 1409.9 1865.4 1413.9 1866.5 1417.1C1867.6 1420.4 1870.2 1423.3 1873.1 1425.8C1876 1428.4 1880.7 1429.8 1884 1432.4C1887.2 1434.9 1890.5 1437.5 1892.7 1441.1C1894.8 1444.7 1896.3 1449.4 1897 1454.2C1897.8 1458.9 1898.1 1464.7 1897 1469.4C1895.9 1474.1 1893.4 1478.5 1890.5 1482.5C1887.6 1486.5 1883.6 1490.6 1879.6 1493.4C1875.6 1496.1 1868.7 1497.9 1866.5 1498.8"/>
<path d="M1869.8 1278.8L1867.6 1286.4L1857.8 1295.1L1864.4 1306L1873.1 1316.9M1873.1 1284.3L1862.2 1295.1L1866.5 1308.2L1876.3 1319.1" class="K" stroke="#3aa857" stroke-width="3.9"/>
<path d="M1869.8 1271.2L1869.8 1278.8" class="K" stroke="#2456c0" stroke-width="3.9"/>
<path d="M1872 1320.2L1874.2 1321.3" class="K" stroke="#e03535" stroke-width="3.9"/>
<path d="M1858.9 1270.1L1866.5 1277.7" class="K" stroke="#e03535" stroke-width="1.6"/>
<path d="M1910.1 1332.2L1897 1338.7L1894.8 1349.6L1886.1 1356.1L1882.9 1367M1910.1 1332.2L1923.2 1340.9" class="K" stroke="#3aa857" stroke-width="3.9"/>
<path d="M1923.2 1340.9L1928.6 1338.7" class="K" stroke="#e03535" stroke-width="1.8"/>
<path d="M1910.1 1320.2L1910.1 1332.2M1882.9 1367L1890.5 1374.6L1893.8 1375.7" class="K" stroke="#2456c0" stroke-width="3.9"/>
<path d="M1893.8 1375.7L1899.2 1362.7L1894.8 1354" class="K" stroke="#3aa857" stroke-width="3.9"/>
<path d="M1886.1 1356.1L1884 1360.5" class="K" stroke="#2456c0" stroke-width="3.9"/>
<path d="M1837.1 1325.6L1851.3 1327.8L1862.2 1326.7L1870.9 1330" class="K" stroke="#3aa857" stroke-width="3.9"/>
<path d="M1870.9 1330L1878.5 1334.4" class="K" stroke="#e6c21e" stroke-width="3.9"/>
<path d="M1852.4 1321.3L1854.6 1326.7" class="K" stroke="#2456c0" stroke-width="3.9"/>
<path d="M1833.9 1330L1838.2 1327.8" class="K" stroke="#e03535" stroke-width="1.6"/>
<path d="M1807.7 1334.4L1823 1334.4L1831.7 1345.2L1836 1346.3M1807.7 1334.4L1802.3 1348.5" class="K" stroke="#3aa857" stroke-width="3.9"/>
<path d="M1801.2 1324.6L1807.7 1334.4" class="K" stroke="#2456c0" stroke-width="3.9"/>
<path d="M1836 1346.3L1845.8 1346.3" class="K" stroke="#e03535" stroke-width="3.9"/>
<path d="M1829.5 1356.1L1832.8 1349.6M1802.3 1348.5L1804.5 1350.7" class="K" stroke="#e03535" stroke-width="1.6"/>
<path d="M1843.7 1342L1837.1 1349.6L1845.8 1358.3L1837.1 1367L1845.8 1375.7L1838.2 1382.3L1844.7 1391L1850.2 1397.5L1844.7 1404.1M1838.2 1382.3L1833.9 1391" class="K" stroke="#1f5dc4" stroke-width="3.9"/>
<path d="M1801.2 1367L1792.5 1373.6L1796.8 1380.1L1788.1 1384.5L1779.4 1388.8M1790.3 1371.4L1792.5 1380.1" class="K" stroke="#3aa857" stroke-width="3.9"/>
<path d="M1790.3 1369.2L1801.2 1371.4" class="K" stroke="#3aa857" stroke-width="5.5"/>
<path d="M1781.6 1388.8L1776.1 1396.4" class="K" stroke="#2456c0" stroke-width="3.9"/>
<path d="M1785.9 1393.2L1790.3 1397.5" class="K" stroke="#e03535" stroke-width="1.6"/>
<path d="M1796.8 1401.9L1814.3 1403L1818.6 1393.2L1825.1 1395.3" class="K" stroke="#3aa857" stroke-width="3.9"/>
<path d="M1825.1 1395.3L1831.7 1398.6" class="K" stroke="#e03535" stroke-width="3.9"/>
<path d="M1790.3 1400.8L1796.8 1401.9" class="K" stroke="#2456c0" stroke-width="3.9"/>
<path d="M1796.8 1401.9L1796.8 1413.9" class="K" stroke="#3aa857" stroke-width="3.9"/>
<path d="M1813.2 1386.6L1817.5 1393.2" class="K" stroke="#e03535" stroke-width="1.6"/>
<text x="766.4" y="872.5" font-size="28" fill="#000">Y447</text>
<text x="910" y="926.7" font-size="28" fill="#000">H417</text>
<text x="764.8" y="924.9" font-size="28" fill="#000">C451</text>
<text x="715.2" y="960.9" font-size="28" fill="#000">D459</text>
<text x="711.8" y="1004.1" font-size="28" fill="#000">I465</text>
<text x="781.2" y="1060" font-size="28" fill="#000">D462</text>
<text x="849.1" y="1011.4" font-size="28" fill="#1a6fb7">K4me1</text>
<text x="1803.9" y="887.9" font-size="28" fill="#000">Y481</text>
<text x="1792.2" y="936.8" font-size="28" fill="#000">C485</text>
<text x="1960.2" y="936.8" font-size="28" fill="#000">H451</text>
<text x="759.1" y="1294.8" font-size="28" fill="#000">Y399</text>
<text x="755" y="1346" font-size="28" fill="#000">C403</text>
<text x="901.9" y="1348.3" font-size="28" fill="#000">H373</text>
<text x="723.1" y="1388.6" font-size="28" fill="#000">D411</text>
<text x="712.9" y="1433.2" font-size="28" fill="#000">I417</text>
<text x="785.8" y="1471.3" font-size="28" fill="#000">D414</text>
<text x="866.2" y="1436" font-size="28" fill="#1a6fb7">K4me1</text>
<text x="1805.7" y="1266" font-size="28" fill="#000">Y468</text>
<text x="1782.8" y="1316.1" font-size="28" fill="#000">C472</text>
<text x="1939.2" y="1345.5" font-size="28" fill="#000">H442</text>
<text x="1730.5" y="1349.9" font-size="28" fill="#000">D480</text>
<text x="1718.5" y="1399.6" font-size="28" fill="#000">I486</text>
<text x="1749.5" y="1443.6" font-size="28" fill="#000">D483</text>
<text x="1876" y="1423.5" font-size="28" fill="#1a6fb7">K4me1</text>
<text x="1767.3" y="1012.3" font-size="28" fill="#000">I499</text>
<text x="1833.7" y="1055.9" font-size="28" fill="#000">D496</text>
<text x="1910.9" y="1025.1" font-size="28" fill="#1a6fb7">K4me1</text>
</svg>
</body></html>
